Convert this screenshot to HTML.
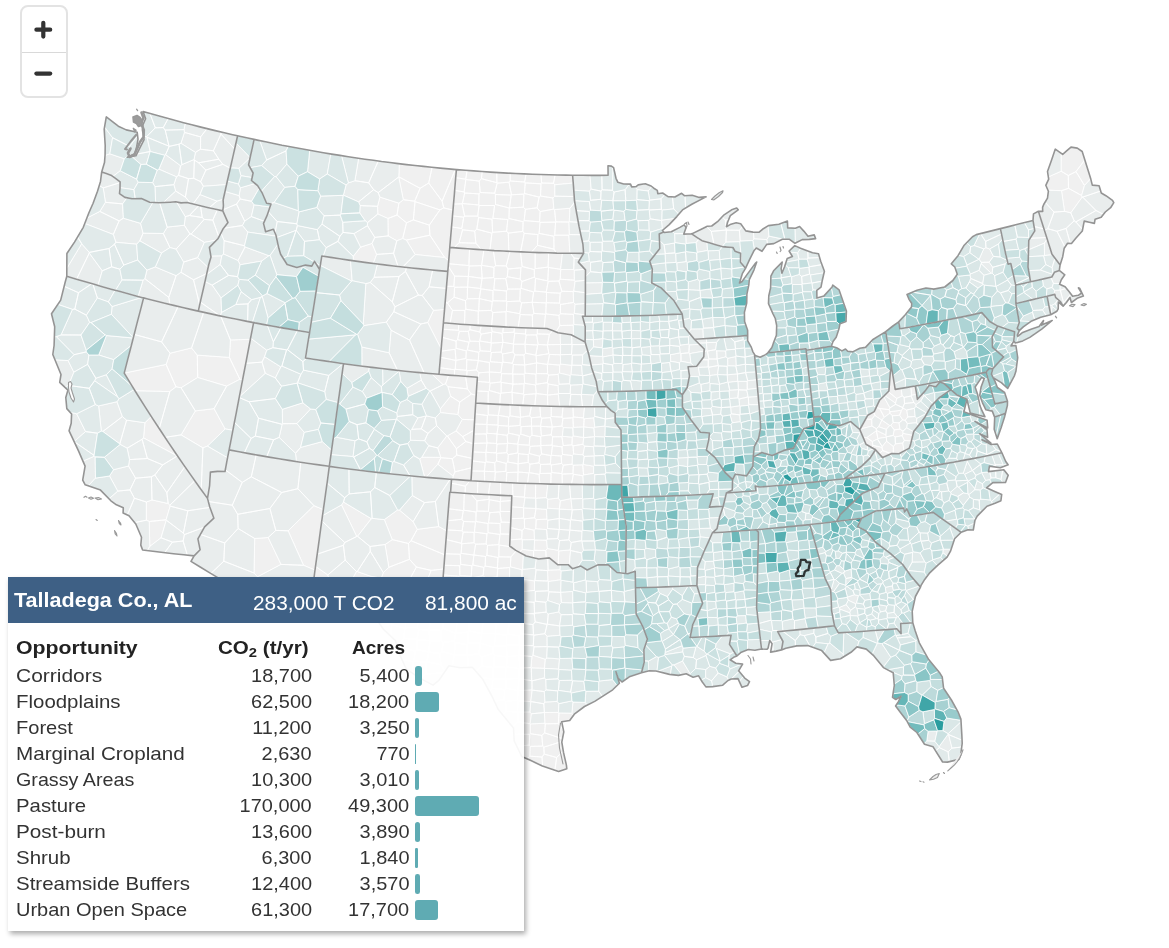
<!DOCTYPE html>
<html><head><meta charset="utf-8"><title>map</title>
<style>
html,body{margin:0;padding:0;background:#fff}
body{width:1169px;height:948px;position:relative;overflow:hidden;font-family:"Liberation Sans",sans-serif}
#map{position:absolute;left:0;top:0}
#zc{position:absolute;left:19.5px;top:5px;width:44px;height:89px;border:2px solid #e3e3e3;border-radius:8px;background:#fff;overflow:hidden}
#zc .dv{position:absolute;left:0;top:44.6px;width:44px;height:1px;background:#d9d9d9}
#zc svg{position:absolute;left:0;top:0}
#panel{position:absolute;left:7.5px;top:577px;width:516.4px;height:354px;background:rgba(255,255,255,0.93);box-shadow:2px 3px 5px rgba(0,0,0,0.33)}
#phead{position:absolute;left:7.5px;top:577px;width:516.4px;height:45.5px;background:#3e6085}
.t{position:absolute;white-space:nowrap;font-size:19px;line-height:1;color:#333;display:block}
.t sub{font-size:0.72em;vertical-align:baseline;position:relative;top:0.28em;line-height:0}
.b{font-weight:bold;color:#222}
.hb{font-weight:bold;color:#fff;font-size:21px}
.h{color:#fff;font-size:21px}
.bar{position:absolute;left:415.2px;height:20px;background:#5fabb3}
</style></head><body>
<svg id="map" width="1169" height="948" viewBox="0 0 1169 948">
<g stroke="#fff" stroke-width="0.8" stroke-linejoin="round" style="filter:blur(0.35px)">
<path fill="#f0f0f0" d="M144.9 422.7l-1.4 15.2l33.8 18.1l0.2 -0.1l-1.8 -2.6l-7.7 -11.4l-7.5 -11.4l-7.5 -11.4l-1.7 -2.7zM149.8 546.4l11.3 -8.6l5.2 -17.6l-0.2 -0.4l-16.9 1.7zM146.3 502l0 18.2l2.9 1.3l16.9 -1.7l4.1 -13.7l-0.3 -0.9l-1.7 -1.7l-16.2 -3.6zM166.1 364.4l9.9 22.5l5.1 0.9l16.6 -10.3l-0.4 -22.4l-5.7 -7.2l-21.6 5.3zM176 386.9l-9.9 -22.5l-41.9 8.7l7 11.5l3.9 6.3l34.7 0.7zM197.7 377.5l28.9 8.7l13.3 -6.9l-10.5 -21.9l-32.1 -2.3zM214.1 408.6l-18.8 2.3l-14.3 24l21.9 13l4.7 -1.8l17.6 -17.1zM230.4 339.9l-1 17.5l10.5 21.9l2.7 0.6l1.2 -6.4l2.5 -12.8l2.4 -12.7l1.7 -8.7zM353.2 256.3l0.2 4.5l4.3 0.6l8.9 1.2l6.7 0.9l3.4 -9.1l-4.7 -11l-11.5 3.7zM398.8 176.8l21.3 11.5l8.6 -5.3l3.4 -15.7l-0.4 0l-8.3 -0.9l-8.4 -0.9l-8.4 -0.9l-7.3 -0.9zM387.9 218.5l9.1 -3.5l1.9 -11.9l-19 -6l-2.4 9.2l0.3 7.7zM388.1 235.9l8.7 4.9l5.9 -2.2l3.8 -15.8l-9.5 -7.8l-9.1 3.5zM398.7 177l4.6 22.7l11.4 1.5l5.4 -12.9l-21.3 -11.5zM406.5 222.8l6.9 -2.9l1.6 -18.3l-0.3 -0.4l-11.4 -1.5l-4.4 3.4l-1.9 11.9zM406.5 222.8l-3.8 15.8l3.6 1.5l23.6 -4.9l-0.6 -10.1l-15.9 -5.2zM415 201.6l24.9 8.3l3.9 -2l-1.7 -6.7l-13.4 -18.2l-8.6 5.3l-5.4 12.9zM406.3 240.1l8.8 14.4l29.6 3.1l-14.8 -22.4zM413.4 219.9l15.9 5.2l10.6 -15.2l-24.9 -8.3zM443.8 207.9l-3.9 2l-10.6 15.2l0.6 10.1l14.8 22.4l4 3.1l0.2 -2.1l0.9 -11.2l0.1 -1.6l1.1 -12.7l1.1 -12.8l0.9 -10.2zM428.7 183l13.4 18.2l13.2 -31.7l-6.8 -0.6l-8.4 -0.8l-8 -0.8zM442.1 201.2l1.7 6.7l9.2 2.2l0.2 -2.5l1.1 -12.7l1 -12.7l1.1 -12.6l-1.1 -0.1zM433.5 310.3l-5.8 12.2l13.5 26.4l0 -0.4l1.1 -12.8l1.1 -12.9l1.1 -12.9l0 -0.5zM443 384.7l2.5 -0.7l3.1 -8.9l-9.6 -0.8l-7.5 -0.6zM424.6 477.2l1.5 0.1l11.7 -13l3.1 -6.6l-0.2 -0.3l-18.9 -0.2l-2.1 1.8zM440.7 457.4l0.2 0.3l11.4 1l4.5 -3.6l-0.4 -6.4l-9.1 -12.8l-0.6 0l-9.1 12zM437.8 464.3l15.3 11.8l1.9 -4.3l-2.7 -13.1l-11.4 -1zM450.5 396.2l9.2 5.8l11.7 -7.9l-4 -5.2l-19.6 -2.2zM455 471.8l-1.9 4.3l-0.6 3.3l7.3 0.5l10.1 0.7l1.1 0.1l0.8 -13zM455 471.8l16.8 -4.1l0.5 -9.3l-15.5 -3.3l-4.5 3.6zM456.4 448.7l9.4 -7.2l-3.1 -4.9l-6.7 -5.7l-8.7 5zM456 430.9l6.7 5.7l11.4 -6.4l0 -1.3l0.6 -9.1l-12.5 -0.4zM440.3 412.6l17.6 2l1.8 -12.6l-9.2 -5.8l-10.2 12.7zM447.8 386.7l19.6 2.2l-1.8 -12.5l-7.4 -0.6l-9.6 -0.7l-3.1 8.9zM472.3 458.4l0.3 -3.6l0.6 -11l-7.4 -2.3l-9.4 7.2l0.4 6.4zM462.2 419.4l12.5 0.4l0.2 -3.8l0.8 -13l0.5 -7.8l-4.8 -1.1l-11.7 7.9l-1.8 12.6zM467.4 388.9l4 5.2l4.8 1.1l0.3 -5.1l0.9 -12.9l-9.6 -0.7l-2.2 -0.1zM462.7 436.6l3.1 4.9l7.4 2.3l0.2 -2l0.7 -11.6zM254 573l3.5 3.9l23.6 -12.5l-12.9 -26.9l-13.5 1zM313.9 505.6l-25.8 25.2l15.4 34.5l11.5 4.8l0.9 -6.7l1.7 -12.1l1.7 -12.1l1.6 -12.2l1.7 -12.1l0.8 -5.3zM338.5 595.2l-6.9 -7l-19.5 2.7l-1.2 8.7l-1.6 12.1l7.8 1.1l10.3 1.3l1.5 -11.5l8.1 1.1zM331.6 588.2l-3.7 -13.3l-12.4 -8.6l-1.2 9.2l-1.7 12.1l-0.5 3.3zM341.5 504.9l15.2 31.6l0.9 -0.2l13.8 -17.6l-27.9 -16.7zM381.1 578.3l1.7 4.7l22 5.3l11.6 -21.3l-6.9 -7.7l-20.7 8l-5.5 5.3zM357.3 571.5l-0.9 0l-11.2 20.4l11.2 2.6l14.9 -18.1zM404.8 588.3l-22 -5.3l-6.6 19.5l6.9 0.7l9.6 1l9.6 0.9l9.6 0.9l2.5 0.2zM385 544.5l3.8 22.8l20.7 -8l-1 -15.8l-16.3 -3.9zM392.2 539.6l16.3 3.9l2.5 -2.8l6.3 -11.4l-4.1 -7.7l-13.7 -11.5l-1.9 -0.2l-13.3 9.7zM404.8 588.3l9.6 17.9l2.6 0.2l14.1 -36l-14.7 -3.4zM416.4 567l14.7 3.4l12.7 -1.4l0.9 -12.2l0.2 -1.9l-33.9 -14.2l-2.5 2.8l1 15.8zM431.1 570.4l-14.1 36l4.5 0.4l9.6 0.8l9.6 0.7l1 -12.9l1 -12.8l1 -12.9l0.1 -0.7zM438.7 526.5l-21.4 2.8l-6.3 11.4l33.9 14.2l0.8 -11l1 -12.9l0.1 -0.2zM459.1 242.7l3.5 -12.9l-0.8 -1.3l-10.2 -1.6l-0.6 6.2l-1.1 12.7l-0.1 1.6l4.3 0.3zM459.1 242.7l16.8 0.5l-1.2 -12.1l-12.1 -1.3zM462.6 229.8l12.1 1.3l2.1 -1.9l1.8 -11.7l-0.9 -1.4l-13.1 0l-0.9 1.1l-1.9 11.3zM461.8 228.5l1.9 -11.3l-11.2 -1.3l-0.4 4.4l-0.5 6.6zM462.1 203.8l0.3 -0.3l2.3 -10.5l-0.6 -1.1l-9.4 -1.5l-0.4 4.5l-0.8 9.2zM464.6 216.1l-2.5 -12.3l-8.6 0.3l-0.3 3.5l-0.7 8.3l11.2 1.3zM464.6 216.1l13.1 0l1.4 -10.6l-0.3 -0.5l-16.4 -1.5l-0.3 0.3zM464.1 191.9l1.8 -12.4l-0.2 -0.3l-10 -1.5l-0.4 4.5l-0.6 8.2zM465.7 179.2l1.4 -8.8l-1.9 -0.1l-8.4 -0.7l-0.4 0l-0.7 8.1zM475.9 243.2l-16.8 -0.5l-5 5l4.6 0.4l8.9 0.7l8.9 0.6l4.8 0.3zM474.7 231.1l1.2 12.1l5.4 6.5l4.1 0.3l4.5 0.3l2 -17.1l-15.1 -4zM478.8 205l0.3 0.5l15.5 0l0.9 -1l-0.1 -10l-0.7 -1.3l-14.5 -0.7l-1.2 1.4zM479 193.9l-14.3 -0.9l-2.3 10.5l16.4 1.5zM476.8 229.2l15.1 4l0.7 -0.9l-0.6 -13.1l-13.4 -1.7zM464.7 193l14.3 0.9l1.2 -1.4l-1 -11.4l-13.3 -1.6l-1.8 12.4zM478.6 217.5l13.4 1.7l0.9 -0.9l1.7 -12.8l-15.5 0l-1.4 10.6zM465.7 179.2l0.2 0.3l13.3 1.6l2.2 -2.4l0.8 -7.2l-0.2 0l-8.4 -0.6l-6.5 -0.5zM496.9 182.7l0.3 0.5l11.8 -1l1.2 -1.2l0 -7.8l-3 -0.1l-8.4 -0.5l-2.1 -0.1zM489.9 250.3l4.4 0.3l9 0.4l5.5 0.3l-0.5 -18.2l-1.7 -1.9l-14 1.1l-0.7 0.9zM492.6 232.3l14 -1.1l1.2 -11.6l-14.9 -1.3l-0.9 0.9zM494.6 205.5l-1.7 12.8l14.9 1.3l1.1 -1.1l0.4 -10.5l-13.8 -3.5zM480.2 192.5l14.5 0.7l2.5 -10l-0.3 -0.5l-15.5 -4l-2.2 2.4zM495.4 194.5l15.8 0.6l0.3 -0.3l-2.5 -12.6l-11.8 1l-2.5 10zM496.9 182.7l-0.2 -10.2l-6.3 -0.4l-8.2 -0.6l-0.8 7.2zM507.8 219.6l-1.2 11.6l1.7 1.9l14.5 -1.7l0.3 -9.7l-14.2 -3.2zM509.3 208l0.2 -0.1l1.7 -12.8l-15.8 -0.6l0.1 10zM524.2 233.3l-1.4 -1.9l-14.5 1.7l0.5 18.2l3.4 0.2l8.4 0.4zM554 249.1l-16.5 -3.8l-6.2 7l7.6 0.3l9 0.2l8.4 0.2zM509.3 208l-0.4 10.5l14.2 3.2l1 -1.1l1.3 -11.3l-2 -2.1l-13.9 0.7zM510.2 181l14.4 1l1.5 -8l-2.1 -0.1l-8.4 -0.4l-5.4 -0.3zM511.2 195.1l-1.7 12.8l13.9 -0.7l0.5 -13.1l-12.4 0.7zM511.5 194.8l12.4 -0.7l0.6 -0.6l0.7 -10.6l-0.6 -0.9l-14.4 -1l-1.2 1.2zM522.8 231.4l1.4 1.9l13.7 1.3l1.2 -1.2l0.9 -11l-0.4 -0.6l-15.5 -1.2l-1 1.1zM523.4 207.2l2 2.1l11.7 -1.5l2 -10.7l-14.6 -3.6l-0.6 0.6zM520.6 251.9l0.5 0l8.9 0.4l1.3 0l6.2 -7l0.4 -10.7l-13.7 -1.3zM537.5 245.3l16.5 3.8l-0.2 -12.9l-14.7 -2.8l-1.2 1.2zM537.1 207.8l3 3.8l13.8 -2.6l-0.9 -11l-12.5 -2l-1.4 1.1zM524.5 193.5l14.6 3.6l1.4 -1.1l0.5 -12.2l-15.8 -0.9zM524.1 220.6l15.5 1.2l0.5 -10.2l-3 -3.8l-11.7 1.5zM539.6 221.8l0.4 0.6l15.6 -0.3l0.2 -0.2l-1.3 -12.4l-0.6 -0.5l-13.8 2.6zM525.2 182.9l15.8 0.9l0.6 -0.8l-0.6 -8.5l-0.2 0l-8.4 -0.3l-6.3 -0.2l-1.5 8zM541.6 183l11.9 0.3l1.6 -8.4l-5.9 -0.1l-8.2 -0.3zM554 249.1l2.3 3.9l0.5 0.1l8.9 0.1l4.2 0.1l-1 -18.1l-14.2 0l-0.9 1zM555.6 222.1l-15.6 0.3l-0.9 11l14.7 2.8l0.9 -1zM554.7 235.2l14.2 0l0.5 -0.6l-0.4 -12.6l-13.2 -0.1l-0.2 0.2zM554.9 196.2l-0.1 -11.4l-1.3 -1.5l-11.9 -0.3l-0.6 0.8l-0.5 12.2l12.5 2zM553.5 183.3l1.3 1.5l18.4 -1.7l-0.6 -7.9l-6.6 -0.1l-8.4 -0.1l-2.5 -0.1zM554.5 209.5l1.3 12.4l13.2 0.1l0.3 -0.3l0.7 -13.5zM452.5 310.4l-5.1 -7.5l-2.3 -0.2l-0.6 7.2l-1.1 12.9l6.6 0.5zM452.5 310.4l12.4 0l0.9 -1.1l-0.3 -8.6l-11.4 -3.5l-6.7 5.7zM447.4 302.9l6.7 -5.7l0.5 -9.9l-0.7 -0.9l-7.4 -0.1l-0.9 10.8l-0.5 5.6zM453.9 286.4l0.7 -10.3l-6.4 -10.1l-0.4 5.4l-1.1 12.8l-0.2 2.1zM468.9 265.6l0.6 -16.7l-1.9 -0.1l-8.9 -0.7l-8.9 -0.7l-0.9 11.2l-0.5 5.1zM464.9 310.4l-12.4 0l-2.5 12.9l2 0.2l8.6 0.7l3.9 0.2zM467.3 298.8l0.2 -11.7l-12.9 0.2l-0.5 9.9l11.4 3.5zM465.5 300.7l0.3 8.6l12.5 1.8l0.4 -0.3l0.6 -12.2l-12 0.2zM454.6 287.3l12.9 -0.2l0.1 -0.1l0.7 -10.5l-13.7 -0.4l-0.7 10.3zM467.5 287.1l-0.2 11.7l12 -0.2l1.5 -9.8l-0.2 -0.3l-13 -1.5zM467.6 287l13 1.5l1.5 -10.2l-13.7 -1.9l-0.1 0.1zM478.3 311.1l-12.5 -1.8l-0.9 1.1l-0.4 14l4.7 0.4l8.7 0.6l0.3 0zM468.3 276.5l0.1 -0.1l0.8 -10.4l-0.3 -0.4l-20.5 -1.9l-0.2 2.3l6.4 10.1zM573.4 325.2l-13.6 0.4l-3.8 6.3l2 0.8l6.6 1l6.5 1l2.4 1.3zM478.7 310.8l12.6 -0.4l1 -8.9l-13 -2.9zM479.3 298.6l13 2.9l0.6 -0.7l0.1 -10.2l-12.2 -1.8l-1.5 9.8zM480.8 288.8l12.2 1.8l0.8 -0.8l1 -11.1l-1.1 -1.1l-11.5 0.7l-0.1 0l-1.5 10.2zM468.9 265.6l0.3 0.4l12.1 -0.4l0.3 -0.3l2.3 -15.4l-7.4 -0.5l-7 -0.5zM468.4 276.4l13.7 1.9l0.1 0l-0.9 -12.7l-12.1 0.4zM492.8 312.6l-1.5 -2.2l-12.6 0.4l-0.4 0.3l-0.1 14.3l8.3 0.5l5 0.3zM491.3 310.4l1.5 2.2l13.2 -0.9l0.4 -0.4l0.4 -9.7l-0.5 -0.6l-13.4 -0.2l-0.6 0.7zM506 311.7l-13.2 0.9l-1.3 13.6l3.6 0.2l8.6 0.5l2.3 0.1zM492.9 300.8l13.4 0.2l0.1 -10l-12.6 -1.2l-0.8 0.8zM482.2 278.3l11.5 -0.7l0.3 -10.3l-12.4 -2l-0.3 0.3zM494.8 278.7l11 -0.1l1.5 -1.9l0.7 -7.7l-1.8 -3.1l-10.6 -0.2l-1.6 1.6l-0.3 10.3zM495.6 265.7l10.6 0.2l3.8 -14.5l-6.7 -0.4l-9 -0.4l-1 -0.1zM494 267.3l1.6 -1.6l-2.3 -15.2l-7.9 -0.5l-1.5 -0.1l-2.3 15.4zM506.8 301.6l13 -0.6l0.5 -12l-12.5 0.1l-1.4 1.9l-0.1 10zM506.4 291l1.4 -1.9l-2 -10.5l-11 0.1l-1 11.1zM507.8 289.1l12.5 -0.1l0.7 -0.7l0.9 -6.8l-1.7 -2.4l-12.9 -2.4l-1.5 1.9zM506 311.7l0 15.3l6.4 0.3l5.7 0.2l2.1 -13l-0.4 -0.8l-13.4 -2.4zM532.3 315l-12.1 -0.5l-2.1 13l2.9 0.2l8.6 0.3l3.1 0.1zM521.9 281.5l12.5 -4.4l-0.1 -7.5l-12.2 -3.1l-1.2 1.3l-0.7 11.3zM508 269l12.9 -1.2l1.2 -1.3l-1.6 -14.6l-8.3 -0.4l-2.2 -0.1l-3.8 14.5zM520.2 279.1l0.7 -11.3l-12.9 1.2l-0.7 7.7zM506.4 311.3l13.4 2.4l1.8 -10.8l-1.8 -1.9l-13 0.6zM521.6 302.9l10.6 -0.6l1.4 -10.3l-12.6 -3.7l-0.7 0.7l-0.5 12zM522.1 266.5l12.2 3.1l0.8 -0.9l0.1 -16.3l-5.2 -0.1l-8.9 -0.4l-0.6 0zM533.6 292l1.2 -0.9l0.7 -12.7l-1.1 -1.3l-12.5 4.4l-0.9 6.8zM520.2 314.5l12.1 0.5l1.6 -1.6l-1.7 -11.1l-10.6 0.6l-1.8 10.8zM532.2 302.3l1.7 11.1l11.6 0.8l0.3 -0.3l0.4 -11l-14 -0.6zM532.3 315l0.4 13.1l5.6 0.2l5.8 0.1l1.4 -14.2l-11.6 -0.8zM532.2 302.3l14 0.6l0.2 -0.2l0.1 -10.2l-0.3 -0.4l-11.4 -1l-1.2 0.9zM535.5 278.4l12.3 2.5l0.7 -13.4l-0.4 -0.4l-13 1.6l-0.8 0.9l0.1 7.5zM546.4 302.7l13.1 0.4l0.7 -9.9l-13.7 -0.7zM545.8 313.9l13.2 1.5l1.4 -1.7l0.1 -9.2l-1 -1.4l-13.1 -0.4l-0.2 0.2zM534.8 291.1l11.4 1l2 -10.7l-0.4 -0.5l-12.3 -2.5zM545.5 314.2l-1.4 14.2l2.8 0.1l5.6 2.1l3.5 1.3l3.8 -6.3l-0.8 -10.2l-13.2 -1.5zM535.1 268.7l13 -1.6l0.5 -14.2l-0.7 -0.1l-9 -0.2l-3.7 -0.2zM546.5 292.5l13.7 0.7l1.7 -1.9l-3 -10.3l-10.7 0.4l-2 10.7zM559.8 325.6l13.6 -0.4l0.6 -0.6l-0.5 -10.2l-13.1 -0.7l-1.4 1.7zM560.2 279.2l0.5 -9.7l-0.1 -0.2l-12.1 -1.8l-0.7 13.4l0.4 0.5l10.7 -0.4zM558.9 281l3 10.3l11.4 0.3l0.5 -0.4l1.3 -9.9l-0.7 -1.1l-14.2 -1zM559.5 303.1l1 1.4l13.1 -2.1l-0.3 -10.8l-11.4 -0.3l-1.7 1.9zM548.5 267.5l12.1 1.8l1.9 -16.1l-5.7 -0.1l-8.2 -0.2l-0.5 14.2zM560.5 304.5l-0.1 9.2l13.1 0.7l0.8 -0.9l0.8 -9.2l-1.5 -1.9zM560.2 279.2l14.2 1l-0.1 -10l-0.6 -0.7l-13 0zM454.7 369.8l-15.1 -2.1l-0.6 6.6l9.6 0.8l5.8 0.5zM454.4 375.6l3.8 0.2l8.5 0.7l0.3 -5.7l-0.5 -0.5l-11.3 -1l-0.5 0.5zM456 360.3l-0.9 -11l-14.1 1.9l-0.5 6.1l15.4 3.1zM455.9 360.4l-0.7 8.9l11.3 1l0.3 -10.7l-0.9 -1.1l-9.9 1.8zM454.7 369.8l0.5 -0.5l0.7 -8.9l-15.4 -3.1l-0.4 4.1l-0.5 6.3zM455.1 349.3l1 -1l0 -7.2l-13.9 -3.8l-1 11.2l-0.2 2.7zM455.1 349.3l0.9 11l9.9 -1.8l0.4 -7.6l-10.2 -2.6zM456.1 348.3l10.2 2.6l1 -0.9l1.7 -7.8l-11.5 -2.5l-1.4 1.4zM457.5 339.7l1.8 -8.4l-0.8 -1l-15.6 -1.1l-0.6 6.5l-0.1 1.6l13.9 3.8zM458.5 330.3l0.2 -6.3l-6.7 -0.5l-8.6 -0.7l-0.5 6.4zM466.8 359.6l11.5 0.9l0.5 -8.2l-11.5 -2.3l-1 0.9l-0.4 7.6zM488.3 391.5l-11.8 -0.5l-0.8 12l9.4 0.6l3 0.2zM466.5 370.3l0.5 0.5l9.4 -0.9l1.9 -9.3l0 -0.1l-11.5 -0.9zM457.5 339.7l11.5 2.5l1 -1l-1.7 -9.8l-9 -0.1zM467.3 350l11.5 2.3l1.3 -1.5l-0.8 -9.4l-9.3 -0.2l-1 1zM458.5 330.3l0.8 1l9 0.1l1.5 -1.7l0.5 -4.8l-1.1 -0.1l-8.6 -0.6l-1.9 -0.2zM466.7 376.5l1.1 0l9.6 0.7l-0.3 4.4l0.2 -0.2l1.7 -8.6l-2.6 -2.9l-9.4 0.9zM479 372.8l10.4 -0.8l0 -9.5l-11.1 -1.9l-1.9 9.3zM478.3 360.5l0 0.1l11.1 1.9l0.9 -0.8l1 -9.2l-0.8 -1l-10.4 -0.7l-1.3 1.5zM470 341.2l9.3 0.2l0.4 -0.4l1.4 -6.9l-1.3 -2.1l-10 -2.3l-1.5 1.7zM492.2 331.7l9.9 1.7l0.7 -0.7l0.5 -5.9l-8.2 -0.4l-3.8 -0.2zM469.8 329.7l10 2.3l1.5 -6.4l-3.4 -0.2l-7.6 -0.5zM490.5 351.5l0.8 1l9.8 -0.4l1.7 -9.7l-11.5 0.7zM491.3 343.1l-0.2 -0.3l-11.4 -1.8l-0.4 0.4l0.8 9.4l10.4 0.7zM489.6 382.4l0.5 0.8l10.7 -1.2l0.9 -8.3l-0.8 -1l-11.5 -0.7zM489.4 372l-10.4 0.8l-1.7 8.6l12.3 1zM477.1 381.6l-0.6 8.5l0 0.9l11.8 0.5l1 -1l0.8 -7.3l-0.5 -0.8l-12.3 -1zM500.5 393.6l-11.2 -3.1l-1 1l-0.2 12.3l6.4 0.3l5.2 0.3zM489.4 372l11.5 0.7l1.4 -10l-12 -1l-0.9 0.8zM481.1 334.1l10.6 -1.8l0.5 -0.6l-0.9 -5.5l-4.8 -0.3l-5.2 -0.3l-1.5 6.4zM479.7 341l11.4 1.8l0.6 -10.5l-10.6 1.8zM491.1 342.8l0.2 0.3l11.5 -0.7l0.1 -0.1l-0.8 -8.9l-9.9 -1.7l-0.5 0.6zM512.1 392.5l-0.2 -0.3l-10.8 0.9l-0.6 0.5l-0.8 10.8l4.1 0.2l8.7 0.4zM501.1 393.1l10.8 -0.9l1 -8l0 -0.1l-11.7 -1.7zM501.2 382.4l-0.4 -0.4l-10.7 1.2l-0.8 7.3l11.2 3.1l0.6 -0.5zM501.2 382.4l11.7 1.7l-0.1 -10l-0.2 -0.2l-10.9 -0.2l-0.9 8.3zM502.8 342.4l-1.7 9.7l1.5 1.9l10.5 -2l0.4 -7.8l-0.1 -0.2l-10.5 -1.7zM502.3 362.7l0.6 -0.6l-0.3 -8.1l-1.5 -1.9l-9.8 0.4l-1 9.2zM502.3 362.7l-1.4 10l0.8 1l10.9 0.2l0.7 -9.4l-0.9 -1.3l-9.5 -1.1zM512.1 392.5l11.4 1.5l0.6 -10.2l-11.2 0.4l-1 8zM547.5 395.1l-0.1 -0.2l-11.2 -1.4l-0.2 0.2l-1.2 12.1l6.6 0.2l6.4 0.2zM512.8 374.1l11.4 0.1l0.8 -1l-0.3 -8.2l-11.4 -0.5l-0.7 9.4zM512.9 384.2l11.2 -0.4l0.5 -0.5l-0.4 -9.1l-11.4 -0.1l0.1 10zM513.4 344l1.4 -10.8l-0.8 -1l-11.2 0.5l-0.7 0.7l0.8 8.9zM502.9 362.1l9.5 1.1l2.5 -8.3l-1.8 -2.9l-10.5 2zM502.8 332.7l11.2 -0.5l0.4 -4.8l-2 -0.1l-8.7 -0.4l-0.4 -0.1zM537.3 333.9l12.1 0.4l3.4 -3.6l-0.3 -0.1l-5.6 -2.1l-8.6 -0.2l-0.9 0zM513.3 364.5l11.4 0.5l-0.8 -10l-9 -0.1l-2.5 8.3zM536 393.7l-12 1l-1.3 10.7l9.3 0.4l2.8 0zM512.5 405l0.7 0l9.4 0.4l0.1 0l1.3 -10.7l-0.5 -0.7l-11.4 -1.5zM523.5 394l0.5 0.7l12 -1l0.2 -0.2l-0.7 -8.5l-10.9 -1.7l-0.5 0.5zM514.9 354.9l9 0.1l1.7 -1.8l-0.6 -8.9l-0.1 -0.1l-11.4 0l-0.4 7.8zM524.2 374.2l0.4 9.1l10.9 1.7l0.5 -0.7l-0.1 -10.2l-10.9 -0.9zM525.6 353.2l10.2 2l1.9 -10.2l-12.7 -0.7zM524.7 365l11.8 -2l0.1 -0.1l-0.5 -7.2l-0.3 -0.5l-10.2 -2l-1.7 1.8zM513.5 344.2l11.4 0l1.3 -9.2l-0.8 -1l-10.6 -0.8l-1.4 10.8zM514 332.2l0.8 1l10.6 0.8l0.6 -6.1l-5 -0.2l-6.6 -0.3zM536 384.3l11.3 -1.6l1.3 -7.6l-1 -1.4l-11.2 -0.1l-0.5 0.5zM536.4 373.6l11.2 0.1l-0.2 -9.3l-10.8 -1.5l-0.1 0.1zM536.5 363l-11.8 2l0.3 8.2l10.9 0.9l0.5 -0.5zM525 344.3l12.7 0.7l0.5 -0.5l-1.6 -9.6l-10.4 0.1l-1.3 9.2zM535.5 385l0.7 8.5l11.2 1.4l0.8 -10.9l-0.9 -1.3l-11.3 1.6zM526.2 335l10.4 -0.1l0.7 -1l0.1 -5.6l-7.8 -0.3l-3.6 -0.1l-0.6 6.1zM536.1 355.7l12.8 -2l-1.6 -8.8l-9.1 -0.4l-0.5 0.5l-1.9 10.2zM547.4 394.9l0.1 0.2l10.8 -1.1l0.3 -0.5l-0.4 -7.8l-10 -1.7zM547.4 364.4l0.3 -0.3l1.8 -9.7l-0.6 -0.7l-12.8 2l0.5 7.2zM548.2 384l10 1.7l1.1 -1.4l-1.1 -9.9l-9.6 0.7l-1.3 7.6zM538.2 344.5l9.1 0.4l0.2 -0.2l1.9 -10.4l-12.1 -0.4l-0.7 1zM547.6 373.7l1 1.4l9.6 -0.7l1.3 -1.3l0.2 -8l-12 -1l-0.3 0.3zM547.7 364.1l12 1l0.9 -1.1l-0.2 -9.2l-10.9 -0.4zM549.5 354.4l10.9 0.4l0.1 -0.1l0.1 -10.2l-0.1 0l-13 0.2l-0.2 0.2l1.6 8.8zM558.3 394l-10.8 1.1l0.3 11.1l2.9 0.1l9.1 0.2zM547.5 344.7l13 -0.2l-0.3 -11.5l-2.2 -0.3l-5.2 -2l-3.4 3.6zM559.7 365.1l-0.2 8l10.8 2.5l0.8 -0.8l0.7 -9.5l-11.2 -1.3zM484.4 471.3l0 -0.1l-12.8 -0.2l-0.6 9.7l9 0.5l4.7 0.3zM484.4 471.2l0.9 -8.7l-13.1 -1.6l-0.4 6.8l-0.2 3.3zM484.4 471.2l0 0.1l10.7 0.4l-0.4 -8.9l-8.6 -1l-0.8 0.7zM486.1 461.8l-0.3 -9.3l-13.1 -0.6l-0.1 2.9l-0.4 6.1l13.1 1.6zM486.3 433.9l0.6 -0.6l0.1 -8.7l-0.1 -0.2l-12.5 -0.3l-0.3 4.8l-0.3 5.2zM486.9 443.1l0.1 -0.2l-0.7 -9l-12.5 0.2l-0.4 7.7l-0.1 1.6zM487 442.9l9.5 0.6l0.5 -9.4l-0.1 -0.2l-10 -0.6l-0.6 0.6zM486.9 424.4l0.6 -8.9l-12.4 -1.6l-0.2 2.1l-0.5 8.1zM486 452.3l0.9 -9.2l-13.6 0.3l-0.6 8.5l13.1 0.6zM485.8 452.5l0.3 9.3l8.6 1l1.9 -1.8l0.1 -7.6l-0.4 -0.5l-10.3 -0.6zM486 452.3l10.3 0.6l0.7 -8.9l-0.5 -0.5l-9.5 -0.6l-0.1 0.2zM488.2 414.9l10 0.6l0.2 -0.2l1.9 -10.9l-5.8 -0.3l-6.3 -0.3zM487.5 415.5l0.7 -0.6l0 -11.1l-3.1 -0.2l-9.4 -0.6l-0.6 10.9zM506.8 472.5l-0.9 -1.2l-10.6 0.8l-0.6 9.9l5.5 0.3l6 0.3zM484.7 481.5l5.4 0.3l4.6 0.2l0.6 -9.9l-0.2 -0.4l-10.7 -0.4zM494.7 462.8l0.4 8.9l0.2 0.4l10.6 -0.8l0.3 -7.9l-9.6 -2.4zM496.5 443.5l0.5 0.5l10.4 -0.4l0.3 -0.4l-0.6 -7.9l-10.1 -1.2zM496.7 453.4l10.1 -0.7l0.6 -9.1l-10.4 0.4l-0.7 8.9zM486.9 433.3l10 0.6l1.4 -8.5l-0.3 -0.4l-11 -0.4zM487 424.6l11 0.4l0.2 -9.5l-10 -0.6l-0.7 0.6l-0.6 8.9zM496.9 433.9l0.1 0.2l10.1 1.2l1.5 -2.2l0.1 -6.7l-0.3 -0.3l-10.1 -0.7zM496.6 461l9.6 2.4l1.6 -1.4l0.5 -7.3l-1.5 -2l-10.1 0.7zM518 472.2l-11.2 0.3l-0.6 10.1l4.1 0.2l7.4 0.3zM506.2 463.4l-0.3 7.9l0.9 1.2l11.2 -0.3l0.1 -0.2l0 -8.2l-10.3 -1.8zM508.3 454.7l9.5 -1.8l0.2 -8.4l-0.3 -0.4l-10 -0.9l-0.3 0.4l-0.6 9.1zM498.3 425.4l10.1 0.7l0.3 -9l-10.3 -1.8l-0.2 0.2l-0.2 9.5zM507.1 435.3l0.6 7.9l10 0.9l1.7 -8.6l-10.8 -2.4zM510 415.8l10.4 1.6l0.2 -0.2l-0.8 -11.9l-6.6 -0.3l-3 -0.1zM508.7 417.1l1.3 -1.3l0.2 -10.9l-6.4 -0.3l-3.5 -0.2l-1.9 10.9zM508.3 454.7l-0.5 7.3l10.3 1.8l0.4 -10.1l-0.7 -0.8zM508.7 426.4l11.4 -1l0.3 -8l-10.4 -1.6l-1.3 1.3l-0.3 9zM539.1 474.4l-9.8 -1.8l-0.4 0.3l-1.4 10.5l3.1 0.1l9.2 0.3zM517.7 483.1l2.7 0.1l7.1 0.2l1.4 -10.5l-10.8 -0.9l-0.1 0.2zM519.4 435.5l1.4 -1.4l0.3 -7.4l-1 -1.3l-11.4 1l-0.1 6.7zM518 444.5l11.2 0.7l0.7 -8.3l-9.1 -2.8l-1.4 1.4l-1.7 8.6zM518.1 463.8l10.1 -1.4l0.1 -7.8l-9.8 -0.9l-0.4 10.1zM518.5 453.7l9.8 0.9l0.9 -1.1l0.9 -7.1l-0.9 -1.2l-11.2 -0.7l-0.2 8.4zM520.1 425.4l1 1.3l10.4 -0.6l-0.1 -8.3l-1.8 -1.9l-9 1.3l-0.2 0.2zM520.6 417.2l9 -1.3l1.9 -10.2l-8.9 -0.3l-2.8 -0.1zM518.1 463.8l0 8.2l10.8 0.9l0.4 -0.3l0.6 -8.4l-1.7 -1.8zM530.1 446.4l10.6 -0.7l0.1 -0.2l-0.1 -8.8l-8.7 -1.5l-2.1 1.7l-0.7 8.3zM528.3 454.6l-0.1 7.8l1.7 1.8l9.2 -1.4l0.5 -6.6l-10.4 -2.7zM520.8 434.1l9.1 2.8l2.1 -1.7l-0.4 -9l-0.1 -0.1l-10.4 0.6zM573.4 417l10.1 0.9l1.1 -11.1l-5.7 -0.1l-6 0zM531.5 426.1l0.1 0.1l8.9 -0.1l1.4 -7.9l-1.3 -1.3l-9.2 0.9zM540 473.5l0.6 -9l-1.5 -1.7l-9.2 1.4l-0.6 8.4l9.8 1.8zM539.1 474.4l0.7 9.4l0.9 0l10.1 0.3l0.3 -10.8l-11.1 0.2zM532 435.2l8.7 1.5l0.7 -0.8l-0.8 -9.6l-0.1 -0.2l-8.9 0.1zM529.2 453.5l10.4 2.7l2 -2.3l-0.9 -8.2l-10.6 0.7zM531.4 417.8l9.2 -0.9l-0.7 -10.9l-7.9 -0.2l-0.5 -0.1l-1.9 10.2zM541.4 435.9l9.7 -1.1l1.2 -7.7l-11.7 -0.8zM540.7 436.7l0.1 8.8l11.3 -0.3l0.5 -8.4l-1.5 -2l-9.7 1.1zM539.1 462.8l1.5 1.7l9.8 -0.4l0.5 -8.5l-9.3 -1.7l-2 2.3zM540.6 416.9l1.3 1.3l8.6 -0.6l0.7 -1.1l0.1 -10.2l-0.6 0l-9.3 -0.3l-1.5 0zM540.6 426.3l11.7 0.8l0 -0.1l-1.8 -9.4l-8.6 0.6l-1.4 7.9zM540.7 445.7l0.9 8.2l9.3 1.7l0.4 -0.3l1.2 -9.6l-0.4 -0.5l-11.3 0.3zM551.2 416.5l10.8 0.6l1.1 -10.6l-3 0l-8.8 -0.2zM540 473.5l11.1 -0.2l0.7 -0.8l-0.6 -7.5l-0.8 -0.9l-9.8 0.4zM562.1 474.1l-0.3 -0.5l-10 -1.1l-0.7 0.8l-0.3 10.8l10.1 0.2l1.4 0zM552.3 427.1l-1.2 7.7l1.5 2l9.3 -0.1l0.4 -0.4l1.1 -8.7l-1.5 -1.5l-9.6 0.9zM552.5 445.7l9.5 1.2l1.2 -1.3l-1.3 -8.9l-9.3 0.1l-0.5 8.4zM550.4 464.1l0.8 0.9l10.4 -1.6l-0.4 -7.4l-9.9 -0.7l-0.4 0.3zM551.3 455.3l9.9 0.7l1.3 -1.6l-0.5 -7.5l-9.5 -1.2zM551.2 465l0.6 7.5l10 1.1l1.5 -8.4l-1.7 -1.8zM583 475.8l-9.6 -1.6l-2 10.2l9.7 0.1l2.3 0zM562.1 474.1l10.9 -0.5l0.3 -8.5l-1 -1l-9 1.1l-1.5 8.4zM552.3 427l9.6 -0.9l1 -7.7l-0.9 -1.3l-10.8 -0.6l-0.7 1.1zM562 446.9l0.5 7.5l9.9 1.2l1.3 -1.5l-0.7 -8.2l-1 -1l-8.8 0.7zM561.6 463.4l1.7 1.8l9 -1.1l0.1 -8.5l-9.9 -1.2l-1.3 1.6zM561.9 436.7l1.3 8.9l8.8 -0.7l0.3 -7.8l-10 -0.8zM563.4 427.6l9.4 0.5l0.6 -0.7l-0.5 -9.6l-10 0.6l-1 7.7zM562.9 418.4l10 -0.6l0.5 -0.8l-0.5 -10.3l-3.4 -0.1l-6.4 -0.1l-1.1 10.6zM573 445.9l10.1 -1.7l0.6 -6.5l-0.2 -0.3l-10.3 -1.5l-0.9 1.2l-0.3 7.8zM573 473.6l-10.9 0.5l0.2 10.2l8.7 0.1l0.4 0l2 -10.2zM573.4 474.2l9.6 1.6l0.6 -0.8l-0.9 -10.2l-9.4 0.3l-0.3 8.5zM583.6 475l10 -1.6l0.1 -7.2l-10.6 -1.8l-0.4 0.4zM573.4 427.4l10.3 -0.3l0 -0.1l0.4 -8.2l-0.6 -0.9l-10.1 -0.9l-0.5 0.8zM573 445.9l0.7 8.2l9.3 0.8l1.7 -8.7l-1.6 -2zM583.7 427l10.2 1.1l0.9 -1l-1 -9.3l-9.7 1zM465.4 486.2l-14.2 -3.1l-0.6 9.2l10.2 0.7l4.3 0.3zM465.4 486.2l-0.3 7.1l5.9 0.4l6.5 0.4l0.3 -13l-6.8 -0.4l-0.9 -0.1zM465.4 486.2l4.7 -5.6l-0.2 0l-10.1 -0.7l-8.3 -0.6l-0.3 3.8zM521.7 539l0.4 -8.6l-11.6 -2.9l-0.3 6l-0.2 6.4zM477.5 494.1l3.7 0.2l7.2 0.4l1.9 -12.9l-0.2 0l-10.1 -0.6l-2.2 -0.1zM488.4 494.7l3 0.1l9.1 0.5l0.2 -13l-0.5 0l-9.9 -0.5zM500.5 495.3l1.1 0.1l10.2 0.4l-0.1 2.2l1.2 -1.6l-0.4 -13.5l-2.2 -0.1l-9.6 -0.5zM512.9 496.4l11.5 0.7l1 -13.7l-5 -0.2l-7.9 -0.3zM522.3 549.3l0.1 -9.4l-0.7 -0.9l-11.7 0.9l-0.3 6.1l6.1 4.4l3.5 1.9zM523.6 518.2l0 -10.4l0 -0.1l-12.2 -0.9l-0.1 1.6l-0.4 10.3zM522.1 530.4l2.5 -2.2l-0.3 -9.3l-0.7 -0.7l-12.7 0.5l-0.1 2.2l-0.3 6.6zM533.6 550.7l-11.3 -1.4l-3 3l6.9 3.7l6.2 1.5l1.1 0.2zM521.7 539l0.7 0.9l12.1 -0.2l-0.3 -9.5l-9.6 -2l-2.5 2.2zM523.6 518.2l0.7 0.7l10.2 -1.2l1.5 -9.1l-0.1 -0.1l-12.3 -0.7zM523.6 507.7l1.4 -9.8l-0.6 -0.8l-11.5 -0.7l-1.2 1.6l-0.3 8.8zM535.5 498.2l0.2 0.2l10.7 -0.7l1.5 -13.7l-7.2 -0.2l-5 -0.1zM533.6 550.7l-0.1 7l5.2 1.3l7.5 -0.8l-0.4 -7.7l-11.8 -0.2zM534.2 530.2l1.5 -1.3l0.5 -9.3l-1.7 -1.9l-10.2 1.2l0.3 9.3zM524.4 497.1l0.6 0.8l10.5 0.3l0.2 -14.5l-5.1 -0.2l-5.2 -0.1zM534 550.3l11.8 0.2l1.6 -2l-0.8 -8.4l-12 -0.2zM536.2 519.6l10.8 -0.4l-0.5 -9.9l-10.5 -0.7l-1.5 9.1zM547.5 528.5l0.4 -8.3l-0.9 -1l-10.8 0.4l-0.5 9.3l10.9 0.7zM545.8 550.5l0.4 7.7l3.1 -0.3l8.3 6.7l0.6 0l0.6 -13.7l-0.5 -0.6l-10.9 -1.8zM559.3 509.1l1.1 -8.3l-2.1 -2.7l-10.7 1.1l0 9zM559.3 509.2l12.9 0.6l-1.2 -10.9l-0.3 -0.3l-10.3 2.2l-1.1 8.3zM558.2 564.6l10 0.1l1 1l1.4 -15.2l-0.4 -0.6l-11.4 1zM391.9 616.1l0.4 0.7l12.1 -1.9l0.2 -9.6l-2.3 -0.2l-9.1 -0.9zM459.7 565.7l1 -1.3l-0.4 -10.1l-15.3 -0.6l-0.3 3.1l-0.6 8.5zM391.6 624.5l-0.1 -0.2l-10.6 1.3l2.4 3.5l7.6 7.4zM404.4 614.9l1.6 1.7l11.2 -0.6l0.9 -9.5l-6.2 -0.5l-7.3 -0.7zM459.2 576.3l0.6 -0.7l-0.1 -9.9l-15.6 -0.4l-0.4 4.4l-0.4 5.2zM413.1 661.8l-11.4 -2.6l4.5 9.6l6 4.2zM390.9 636.5l4.5 4.2l1.7 5.2l6.6 -7.6l1.2 -10.2l-13.3 -3.6zM413.1 661.8l0.9 -1l1.1 -9.6l-18 -5.1l3.5 10.6l1.1 2.5zM458.6 586.7l0.6 -10.4l-15.9 -1.4l-0.6 7.7l-0.3 4.3zM414 660.8l12.2 1.5l0.7 -0.7l1.8 -9.5l-0.2 -0.3l-11.5 -2.1l-1.9 1.5zM413.1 661.8l-0.9 11.2l6.7 4.6l2.1 1.1l4.8 -4.9l0.4 -11.5l-12.2 -1.5zM404.9 628.1l-1.2 10.2l13.3 0.9l1.9 -9.7l-1.6 -2.1l-12.1 0.3zM397.1 645.9l0 0.2l18 5.1l1.9 -1.5l0.4 -10l-0.4 -0.5l-13.3 -0.9zM405.2 627.7l12.1 -0.3l1.4 -9.4l-1.5 -2l-11.2 0.6zM417.4 639.7l12.2 1l-0.4 -10.5l-0.3 -0.3l-10 -0.4l-1.9 9.7zM417 649.7l11.5 2.1l1.6 -10.5l-0.5 -0.6l-12.2 -1zM425.8 673.8l-4.8 4.9l12 6.4l5.9 -4.7l5 -7.3zM426.9 661.6l14 3.2l-0.9 -11.3l-11.3 -1.4zM426.2 662.3l-0.4 11.5l18.1 -0.7l1.2 -1.7l-4.2 -6.6l-14 -3.2zM428.7 652.1l11.3 1.4l2 -1.9l1 -9.1l-1.9 -2l-11 0.8l-1.6 10.5zM418.9 629.5l10 0.4l1.9 -11.8l-0.2 -0.2l-11.9 0.1l-1.4 9.4zM430.1 641.3l11 -0.8l0.2 -10.1l-12.1 -0.2l0.4 10.5zM418.7 618l11.9 -0.1l1.6 -10.3l-1.1 0l-9.6 -0.8l-3.4 -0.3l-0.9 9.5zM445.1 671.4l3.8 -5.7l3.2 0.6l2.2 -11.4l-12.3 -3.3l-2 1.9l0.9 11.3zM529.9 756.2l0.3 -9.8l-1 -1.3l-12.4 1.2l4.9 10.2l5.7 2.5zM467.6 655.2l-0.3 -0.3l-13 0l-2.2 11.4l7.9 1.4l7.9 -0.3zM429.2 630.2l12.1 0.2l1.7 -2.1l0.3 -6.4l-12.5 -3.8l-1.9 11.8zM441.1 640.5l1.9 2l11.2 -1.5l1.5 -7.6l-12.7 -5.1l-1.7 2.1zM430.8 618.1l12.5 3.8l1.4 -1.6l-0.9 -11.5l-2.9 -3.3l-0.2 2.8l-8.5 -0.7l-1.6 10.3zM443.8 608.8l13.1 -0.1l0.1 -0.1l-0.2 -9l-15.1 -3.6l-0.8 9.5zM454.3 654.9l1 -12.4l-1.1 -1.5l-11.2 1.5l-1 9.1l12.3 3.3zM443 628.3l12.7 5.1l0.5 -0.5l0.6 -12l-1.5 -1.5l-10.6 0.9l-1.4 1.6zM454.3 654.9l13 0l-0.5 -10.1l-11.5 -2.3zM455.3 619.4l1.5 1.5l10.6 0.2l1.9 -10.5l-12.3 -2l-0.1 0.1zM456.9 608.7l-13.1 0.1l0.9 11.5l10.6 -0.9zM456.8 599.6l2.1 -2l0.5 -9.9l-0.8 -1l-16.2 0.2l-0.7 8.5l0 0.6zM455.3 642.5l11.5 2.3l1.6 -1.7l-0.7 -10.8l-11.5 0.6l-0.5 0.5l-1.5 7.6zM457 608.6l12.3 2l0.6 -0.6l1.7 -10.3l-12.7 -2.1l-2.1 2zM456.2 632.9l11.5 -0.6l1.3 -1.5l-0.1 -7.7l-1.5 -2l-10.6 -0.2zM458.6 586.7l0.8 1l12.8 -0.4l0.2 -9.5l-1.2 -1.4l-11.4 -0.8l-0.6 0.7zM460.3 554.3l0.8 -1l0.7 -9.5l-0.4 -0.5l-15.3 -3.8l-0.4 4.4l-0.7 9.8zM461.4 543.3l1.8 -11.2l-1.1 -1.3l-15.3 -0.9l-0.1 1.1l-0.6 8.5zM459.7 565.7l0.1 9.9l11.4 0.8l0.7 -10.6l-11.2 -1.4zM461.9 519.3l1.4 -8.7l-14.8 -1.8l-0.8 9.2l-0.2 2.8zM462.1 530.8l1.1 1.3l10.9 0.3l0.3 -0.3l1.1 -10.2l-11.9 -0.4zM463.6 521.5l-1.7 -2.2l-14.4 1.5l-0.7 9.1l15.3 0.9zM463.3 510.6l0.4 -0.4l0.6 -17l-3.5 -0.2l-10.2 -0.7l-0.8 -0.1l-1.1 12.9l-0.2 3.7zM476.9 500.9l12.1 -1.6l0.2 -4.6l-8 -0.4l-10.2 -0.6l-0.3 -0.1zM492.2 688.3l0.5 -9.1l-11.3 -1.5l1.4 1.6l6.6 12.2zM467.6 655.2l11.1 -1.3l1.9 -10.8l-0.1 -0.1l-12.1 0.1l-1.6 1.7l0.5 10.1zM468.9 623.1l13.2 -2.3l-0.7 -7.6l-11.5 -3.2l-0.6 0.6l-1.9 10.5zM467.7 632.3l0.7 10.8l12.1 -0.1l1.2 -9.4l-12.7 -2.8zM460.7 564.4l11.2 1.4l0.9 -0.8l1.1 -9.9l-12.8 -1.8l-0.8 1zM471.6 599.7l0.5 -0.5l0.4 -11.5l-0.3 -0.4l-12.8 0.4l-0.5 9.9zM472.5 587.7l12.1 0.4l0.2 -0.2l0.8 -9.7l-2.5 -2.6l-10.7 2.2l-0.2 9.5zM461.8 543.8l12.3 -1.1l0 -10.3l-10.9 -0.3l-1.8 11.2zM471.2 576.4l1.2 1.4l10.7 -2.2l0.8 -8.2l-11.1 -2.4l-0.9 0.8zM469.9 610l11.5 3.2l2.6 -2.9l-1.4 -9.9l-10.5 -1.2l-0.5 0.5zM473.9 555l1.7 -10.8l-1.5 -1.5l-12.3 1.1l-0.7 9.5l12.8 1.8zM473.9 555.1l-1.1 9.9l11.1 2.4l1.3 -1.3l0.3 -9.6l-11.6 -1.5zM463.6 521.5l11.9 0.4l0.4 -0.4l0.2 -9.5l-12.4 -1.8l-0.4 0.4l-1.4 8.7zM475.6 544.2l10.5 -0.3l0.9 -10.1l-12.6 -1.7l-0.3 0.3l0 10.3zM476.1 512l0.8 -0.9l0 -10.2l-6.2 -7.3l-6.4 -0.4l-0.6 17zM467.9 667.4l4.4 -0.2l3.6 4.1l5.9 -5.2l0.1 -8.9l-3.2 -3.3l-11.1 1.3zM481.7 633.6l0.1 -0.1l1.2 -11.6l-0.9 -1.1l-13.2 2.3l0.1 7.7zM483 621.9l10.6 0.1l1.8 -11.7l-11.4 0l-2.6 2.9l0.7 7.6zM478.7 653.9l3.2 3.3l11.1 -4l0.3 -6.3l-12.7 -3.8zM481.8 633.5l13.6 0.4l0.5 -9.5l-2.3 -2.4l-10.6 -0.1zM472.1 599.2l10.5 1.2l1.8 -1.6l0.2 -10.7l-12.1 -0.4zM482.6 600.4l1.4 9.9l11.4 0l0.1 -0.1l0.8 -10.4l-11.9 -1zM485.5 556.5l1.4 -1.2l0.6 -9.9l-1.4 -1.5l-10.5 0.3l-1.7 10.8zM474.4 532.1l12.6 1.7l1 -1.1l0 -9.2l-12.1 -2l-0.4 0.4zM483.1 575.6l2.5 2.6l11.5 -1.3l0.7 -8.4l-0.4 -0.5l-12.2 -1.9l-1.3 1.3zM485.5 556.5l-0.3 9.6l12.2 1.9l0.6 -10.5l-11.1 -2.2zM487.5 545.4l11.3 -0.8l1.2 -10.1l-12 -1.8l-1 1.1l-0.9 10.1zM475.9 521.5l12.1 2l0.5 -0.5l1.3 -10.3l-1.4 -1.4l-11.5 -0.2l-0.8 0.9zM476.9 511.1l11.5 0.2l0.9 -11.6l-0.3 -0.4l-12.1 1.6zM489.8 512.7l10.1 -0.8l0.4 -0.5l-0.1 -9.7l-10.9 -2l-0.9 11.6zM484.6 588.1l-0.2 10.7l11.9 1l0.3 -0.2l0.8 -10.1l-0.3 -0.4l-12.3 -1.2zM506 711.5l-0.5 -10.3l-1.4 -1.3l-9.8 1.3l4 8.4l4.5 5.5zM475.9 671.3l5.5 6.4l11.3 1.5l0.4 -0.5l0 -11.1l-11.3 -1.5zM492.7 679.2l-0.5 9.1l12.6 1.5l1.5 -1.5l-0.1 -9.1l-0.5 -0.5l-12.6 0zM481.8 666.1l11.3 1.5l0.8 -0.6l0.6 -11.7l-1.5 -2.1l-11.1 4zM493.1 678.7l12.6 0l0.3 -11.3l-12.1 -0.4l-0.8 0.6zM493.6 622l2.3 2.4l11.4 -2.8l0.5 -8.4l-12.3 -3l-0.1 0.1zM494.5 655.3l12.6 1.7l0.4 -0.5l-1.2 -10.5l-12.1 0l-0.9 0.9l-0.3 6.3zM493.9 667l12.1 0.4l0.4 -0.4l0.7 -10l-12.6 -1.7zM484.8 587.9l12.3 1.2l0.5 -11.4l-0.5 -0.8l-11.5 1.3zM497.1 589.1l0.3 0.4l12.2 -0.3l1.1 -8.7l-1.2 -1.3l-11.9 -1.5zM498 557.5l0.8 -0.7l0.3 -11.8l-0.3 -0.4l-11.3 0.8l-0.6 9.9zM497.6 577.7l11.9 1.5l0.2 -11.7l-11.9 1l-0.7 8.4zM488 532.7l12 1.8l0.4 -0.5l-0.3 -10.5l-11.6 -0.5l-0.5 0.5zM495.4 633.9l11 1.2l1.3 -1l1.3 -10.4l-1.7 -2.1l-11.4 2.8l-0.5 9.5zM489 499.3l0.3 0.4l10.9 2l0.3 -0.3l0.3 -6.1l-9.4 -0.5l-2.2 -0.1zM500.2 501.7l0.1 9.7l10.9 0.1l0.1 -3.1l0.3 -7.9l-11.1 0.9zM495.5 610.2l12.3 3l0.3 -0.3l0.8 -11.8l-0.1 -0.2l-12.2 -1.3l-0.3 0.2zM498.8 556.8l12 0.2l5.6 -6.3l-0.6 -0.3l-5.1 -3.6l-11.6 -1.8zM488.5 523l11.6 0.5l1.2 -1.4l-1.4 -10.2l-10.1 0.8zM489.4 691.5l2.7 5l2.2 4.7l9.8 -1.3l0.7 -10.1l-12.6 -1.5zM497.8 568.5l11.9 -1l0.7 -0.6l0.4 -9.9l-12 -0.2l-0.8 0.7l-0.6 10.5zM517.8 721.9l0.1 -9.9l-0.2 -0.2l-11.7 -0.3l-3.2 3.6l9.8 11.9zM494.2 646l12.1 0l0.7 -0.8l-0.6 -10.1l-11 -1.2zM508.8 600.9l1.8 -10.3l-1 -1.4l-12.2 0.3l-0.8 10.1zM499.1 545l11.6 1.8l-1 -0.8l0.5 -11.8l-9.8 -0.2l-0.4 0.5l-1.2 10.1zM507.1 657l-0.7 10l12.8 1.6l0.7 -0.6l-1 -12.6l-11.4 1.1zM499.9 511.9l1.4 10.2l9.4 0.3l0.1 -1.5l0.4 -9.4l-10.9 -0.1zM510.4 566.9l11.7 3l0.6 -0.6l0.7 -14.8l-7 -3.8l-5.6 6.3zM500.5 501.4l11.1 -0.9l0.2 -4.7l-10.2 -0.4l-0.8 -0.1zM500.4 534l9.8 0.2l0 -0.7l0.5 -11.1l-9.4 -0.3l-1.2 1.4zM507.7 634.1l11.6 2l1.8 -2.3l-1 -9l-11.1 -1.1zM529.2 745.1l0.6 -10.8l-16 0.1l0.4 6.5l2.6 5.4zM506 711.5l11.7 0.3l0.5 -10.7l-0.8 -0.9l-11.9 1zM518.2 701.1l12.6 0.5l0 -0.1l1.4 -11.4l-0.2 -0.3l-14.1 0.8l-0.5 9.6zM508.9 601.1l13 1.4l0.8 -1l-0.7 -9.6l-0.1 0l-11.3 -1.3l-1.8 10.3zM512.6 727l0.9 1.1l0.3 6.3l16 -0.1l0.5 -0.6l0 -9.8l-0.1 -0.1l-12.4 -1.9zM529.2 745.1l1 1.3l12.5 -0.3l-0.9 -10.7l-11.5 -1.7l-0.5 0.6zM542 757l-12.1 -0.8l-2.5 2.8l3.5 1.6l11.5 5.4l0.2 0.1zM517.8 721.9l12.4 1.9l1.2 -10l-1.4 -1.9l-12.1 0.1zM531.3 668l13.2 0.4l0.9 -9.1l-12.4 -4.1l-1.1 1.3l-1 11.1zM522 591.9l12.5 -1.5l0 -9.5l-11.7 -1.7l-0.9 12.7zM542.6 766.1l12.3 4.1l1.7 -12.7l-12.4 -3.4l-2.2 2.9zM530.3 733.7l11.5 1.7l2.9 -2.5l0.6 -9.1l-0.5 -0.6l-14.5 0.7zM529.9 756.2l12.1 0.8l2.2 -2.9l-0.4 -6.9l-1.1 -1.1l-12.5 0.3zM543.8 747.2l18.1 -5.7l0.6 -2.8l-17.8 -5.8l-2.9 2.5l0.9 10.7zM544.8 723.2l0.5 0.6l13.1 -0.2l0.5 -10.7l-0.4 -0.5l-14.1 0.1zM547.8 581l0.5 0.6l12.5 -1.8l0.4 -8.7l-1 -1.4l-12.1 0.4l-0.5 0.5zM543.8 747.2l0.4 6.9l12.4 3.4l6.7 -6.4l-1.5 -9l0.1 -0.6zM556.6 757.5l-1.7 12.7l3.7 1.2l8.2 -2.7l-0.4 -3.6l-2.9 -12.7l-0.2 -1.3zM544.7 732.9l17.8 5.8l1.3 -6.8l-0.4 -1.7l-5 -6.6l-13.1 0.2zM558.4 723.6l5 6.6l-1.7 -8.5l8 -1.2l3.8 -5.3l-1.6 -2l-13 -0.3zM872.9 445.3l-0.5 -3.7l-5.7 -4l-3.8 -0.6l3.1 7.3l5.9 3.4zM871.9 447.7l3.6 2l3.5 3.9l3.7 -3l-0.8 -3.3l-9 -2zM879.7 408.5l9.6 1.2l0.7 -1.9l-6.4 -11.5l-4.1 4l-3.3 7.1zM876.2 407.4l-2 4.2l-0.1 0.1l0.7 3.9l6.9 4.5l0.2 -0.1l2.4 -2.7l-4.6 -8.8zM871.8 419.2l3 -3.6l-0.7 -3.9l-6.3 3.5l-2.3 4.1zM872 426.1l-0.2 -6.9l-6.3 0.1l-5.5 9.8zM877.5 439.1l0.4 -0.5l-1.6 -7.9l-9.6 6.9l5.7 4zM876.3 430.7l1.6 7.9l8.4 -1.4l0.2 -0.4l-0.6 -1.9l-9.5 -4.6zM882.7 450.6l-3.7 3l3.6 4l8.7 -3.9zM881.9 447.3l0.8 3.3l8.6 3.1l0.5 -0.2l1.5 0.1l0.1 -7.2l-6.8 -5.3l-4.5 5.4zM878.6 426.8l7.7 2.6l3.5 -3.9l-7.9 -5.5l-0.2 0.1zM884.3 417.3l5.6 -4l-0.1 -1.6l-0.5 -2l-9.6 -1.2zM893.4 446.4l-0.1 7.2l5.7 0.1l5 -2.7l-1.2 -8.1l-7.4 0.9zM895.6 403.3l1.2 -4.8l-8.6 -6.8l-3.7 3.7zM896.8 398.5l5.5 -2.5l-1.2 -7.6l-5.9 1l-1.9 -11.5l-1.9 -11.6l0 -0.4l-1.1 6.5l-0.7 9.3l-0.7 9.3l-0.7 0.7zM889.9 413.3l2.5 2.6l7.2 -0.6l1.9 -5.1l-11.7 1.5zM895.2 437l6.9 -1.2l0.9 -2.5l0 -2.2l-3 -2l-5.9 0.8l-1 5.5zM890.8 425.4l3.3 4.5l5.9 -0.8l-0.9 -6.3l-6 -0.4zM901.5 410.2l-1.9 5.1l3 4.7l2.7 0.4l2.5 -3.5l-1 -6.9l-3.9 -2zM904.3 440.5l7.1 0.6l1.4 -5.8l-9.8 -2l-0.9 2.5zM911.5 395.3l5.1 -0.9l-0.2 -1.7l-1.1 -6.7l-1.8 0.3l-2.8 0.5zM1061.1 171.2l7.2 4.3l7.7 -3.9l8.8 -11.7l-2.6 -8.4l-4.9 -3.4l-6.3 -1l-4.1 3.6l-4.2 3.7l-1.6 -1.2zM1070.8 212.9l11.5 -15.9l-0.7 -1.5l-13.1 -7.2l-7 2.4l3 20.7zM1061.5 190.7l7 -2.4l-0.2 -12.8l-7.2 -4.3l-12.8 5.7l0.4 2.2l-2.9 6.2l2.2 4.9zM1068.5 188.3l13.1 7.2l2.9 -10l-8.5 -13.9l-7.7 3.9zM1076 171.6l8.5 13.9l6.2 -6.7l-2.7 -8.9l-2.9 -9.2l-0.3 -0.8z"/>
<path fill="#e9eded" d="M120.3 170.8l4.1 -12.1l-14.6 -4.9l-4.8 1.6l-0.5 7.2l-2.8 9.3l4.6 1.6l4.6 1.7l1.9 1.3zM185.4 197.1l-9.8 -6.1l-12.4 11.6l1.3 -0.1l5.6 -0.3l5.7 -0.4l5.2 1.1l6 -0.4l3.9 1zM164.7 155.3l-5.8 13.9l17.5 7.6l2.2 -1.4l2 -9.7l-15 -11.1zM175.6 191l9.8 6.1l3.1 -18.4l-9.9 -3.3l-2.2 1.4l-2.6 7.9zM184 129.6l0.4 2.8l16.2 4.5l6.5 -8.3l-7.2 -1.7l-8.1 -2.1l-6.6 -1.7zM217 201.1l-7.8 6.7l6.5 1.5l7.1 1.6l0.6 -5.1l-0.3 -5.8l0.2 -0.9zM190.9 203.5l2.1 0.5l7 -9.5l3.4 -8.2l-2.7 -4.6l-7 -3.4l-5.2 0.4l-3.1 18.4zM180.9 143.3l14.5 9.1l5.1 -3.2l0.1 -12.3l-16.2 -4.5zM180.6 165.7l-2 9.7l9.9 3.3l5.2 -0.4l0.7 -18.2l-0.4 -0.6l-12.1 5.1zM193.7 178.3l7 3.4l5.1 -11.6l-7.1 -7.3l-4.3 -2.7zM217 201.1l-17 -6.6l-7 9.5l1.2 0.3l7.1 1.7l7.2 1.7l0.7 0.1zM205.8 170.1l17.1 -5.8l-4.1 -5.1l-20.1 3.6zM194 159.5l0.4 0.6l4.3 2.7l20.1 -3.6l-5.4 -8.4l-12.9 -1.6l-5.1 3.2zM220.9 134.1l13.7 14.8l0.6 -2.4l2.4 -10.7l-5 -1.1l-8.2 -1.9l-3.6 -0.9zM203.4 186.3l23.2 -1.7l1.3 -6.1l2.4 -10.3l-7.4 -3.9l-17.1 5.8l-5.1 11.6zM218.8 159.2l4.1 5.1l7.4 3.9l0.1 -0.4l2.4 -10.7l1.8 -8.2l-13.7 -14.8l-7.5 16.7zM200.5 149.2l12.9 1.6l7.5 -16.7l-0.1 -2.2l-4.6 -1l-8.1 -2l-1 -0.3l-6.5 8.3zM89.3 253l0 -0.6l-7.6 -8.7l-14.9 24.6l0 7.9l8.9 2.7l0.9 0.3zM102.3 270.8l-13 -17.8l-12.7 26.2l7.9 2.3l8.9 2.6l4.6 1.4zM99.8 211.4l19.3 9.5l4.3 -2.7l-0.8 -14.3l-17.2 -1.6zM113.3 234.5l5.8 -13.6l-19.3 -9.5l-12.9 6.6l-2.1 5.5zM103.2 187.9l16.9 -5.2l0 -0.8l-4.6 -3.5l-4.6 -3.2l-4.6 -1.7l-4.6 -1.6l-1.2 9.5l-1.3 4.4zM115.8 242.3l20.9 1.9l3.1 -3.3l3.3 -7.8l-2.5 -9.8l-17.2 -5.1l-4.3 2.7l-5.8 13.6zM105.4 202.3l17.2 1.6l4.4 -6.1l-2.1 -0.4l-5.4 -3.7l0.5 -5.2l0.1 -5.8l-16.9 5.2zM168.8 297.4l-24 -18.8l-1.8 1.6l-4.9 16.2l5.5 1.5l3.2 0.8l9 2.3l9 2.2l5.1 1.2zM193.5 279.8l-12.6 -7.5l-4.8 3.3l-7.3 21.8l1.1 7l3.8 1l9 2.1l9 2.1l6.6 1.5l1.4 -6.2zM146.9 270.1l-2.1 8.5l24 18.8l7.3 -21.8l-20.8 -8.7zM139.8 240.9l21.6 12.2l8.6 -5.5l-6.7 -14.1l-20.2 -0.4zM185.2 216.7l4.2 -1.2l9.6 -10.1l-4.8 -1.1l-7.2 -1.8l-6 0.4l-4.6 -1zM183.6 262.1l14.2 -4.5l6.6 -15.2l-13.3 -8.3l-1.2 -0.2l-13.9 15.3zM163.3 233.5l6.7 14.1l6 1.6l13.9 -15.3l-5.6 -8.7l-17.1 1.9zM193.5 279.8l6.2 25.1l1.2 -5.5l2.7 -11.6l2.6 -11.7l0.5 -2.5zM183.6 262.1l-2.7 10.2l12.6 7.5l13.2 -6.2l1.4 -6.2l-10.3 -9.8zM184.3 225.2l5.6 8.7l1.2 0.2l13.1 -14.7l-2 -1.9l-12.8 -2l-4.2 1.2zM202.2 217.5l2 1.9l8.6 0.7l4.6 -10.4l-1.7 -0.4l-7.2 -1.6l-7.2 -1.7l-0.8 -0.2zM191.1 234.1l13.3 8.3l12.3 -2.4l1.2 -1.2l1 -1.8l-6.1 -16.9l-8.6 -0.7zM202.2 217.5l-1.7 -11.7l-1.5 -0.4l-9.6 10.1zM212.8 220.1l6.1 16.9l3.9 -7.7l5.2 -6.7l-5.2 -11.7l-5.4 -1.2zM68.5 385.4l5.4 -13.2l-5.8 -11.6l-13.2 -0.9l6.1 14.8l-1.3 7.8l5.1 4.8zM74.2 441.6l11.4 -10l-8.9 -17.9l-6.5 -1.3l1.4 1.6l-0.4 9.3l-2.1 7.5l5 10.8zM95.5 478.1l-0.3 -21.2l-0.9 -0.7l-11.4 4.9l2.2 5l-2.4 14.1l2.5 4.6l3 1.1zM98.6 405.9l2.7 25.3l1.5 0.3l19.6 -14.9l-5.4 -14.9zM134.4 498.2l-4.4 -8.3l-12.3 1.2l-8.8 7.7l2 2l5.5 4l6.9 3l-0.2 5.3l4.2 1.9zM117.7 491.1l12.3 -1.2l5.6 -11.7l-7.1 -12.2l-15 3.7l-4 6.3zM127.1 448.2l15 -8.9l1.4 -1.4l1.4 -15.2l-18.3 -2.6l-6.8 23.8l0.3 0.5zM119.8 443.9l6.8 -23.8l-4.2 -3.5l-19.6 14.9zM149.8 546.4l-0.6 -24.9l-2.9 -1.3l-11.7 2.4l1.2 1.4l5.7 13.3l-0.7 7.8l1.8 4.9l4.6 0.6zM127.1 448.2l2.4 11.4l17.9 -1.1l-5.3 -19.2zM169.9 505.2l0.3 0.9l17.6 4.7l22.1 -3.4l-0.2 -0.6l-2.2 -8.4l-8.1 -11.2l-4.6 -6.4zM128.5 466l7.1 12.2l15.8 -1.4l3.4 -1.8l7.9 -10.1l-15.3 -6.4l-17.9 1.1zM134.4 498.2l11.9 3.8l5.7 -2.1l-0.6 -23.1l-15.8 1.4l-5.6 11.7zM127.3 515l1.7 0.8l5.6 6.8l11.7 -2.4l0 -18.2l-11.9 -3.8zM142.1 439.3l5.3 19.2l15.3 6.4l14.6 -8.9l-33.8 -18.1zM151.4 476.8l0.6 23.1l16.2 3.6l-1.4 -10.8l-12 -17.7zM147.2 550.6l5.7 0.7l10.3 1.2l1.4 0.2l7.8 -10.6l-11.3 -4.3l-11.3 8.6zM168.2 503.5l1.7 1.7l24.9 -24.4l-3.4 -4.9l-6.5 -9.2l-18.1 26zM166.8 492.7l18.1 -26l-1.4 -2.1l-6 -8.7l-0.2 0.1l-14.6 8.9l-7.9 10.1zM161.1 537.8l11.3 4.3l10.7 -1.1l1.3 -6.4l-1 -1.5l-17.1 -12.9zM183.1 541l-10.7 1.1l-7.8 10.6l8.9 1l10.3 1.1l3.6 0.4zM166.3 520.2l17.1 12.9l4.4 -22.3l-17.6 -4.7l-4.1 13.7zM184.4 534.6l-1.3 6.4l4.3 14.2l6.7 0.7l6 -6.2l-2.2 -10.9l6.6 -11.7zM187.8 510.8l-4.4 22.3l1 1.5l20.1 -7.5l0.1 -0.2l9.3 -8.7l-4 -10.8zM169.8 391.6l-34.7 -0.7l3.3 5.3l7.2 11.4l7.4 11.5l6.2 9.6zM166.1 364.4l3.9 -11.2l-8.4 -11.3l-27.4 -7.5l-0.3 1.1l-3.2 12.5l-3.3 12.6l-3.2 12.5zM170 353.2l21.6 -5.3l12.1 -35.6l-3 -0.7l-2.4 -0.5l-6.6 -1.5l-9 -2.1l-4.5 -1.1l-16.6 35.5zM169.8 391.6l-10.6 37.1l1.3 1.8l4.5 6.9l16 -2.5l14.3 -24l-14.2 -23.1l-5.1 -0.9zM161.6 341.9l16.6 -35.5l-4.5 -1l-8.9 -2.2l-9 -2.2l-9 -2.3l-3.2 -0.8l-3.2 12.5l-3.3 12.5l-2.9 11.5zM202.9 447.9l-21.9 -13l-16 2.5l3 4.5l7.7 11.4l7.8 11.3l7.9 11.3l8 11.3l1.8 2.5zM230.4 339.9l20 -0.6l0.7 -4l2.5 -12.7l-7.7 -1.5l-9 -1.8l-9.1 -1.8l-7.1 -1.5zM207.6 446.1l-4.7 1.8l-1.7 41.8l6.3 8.7l2.1 -12.7l0.4 -6.8l0.4 -6.8l7.3 -0.7l7.3 0.1l2 -10.8l0.6 -3zM195.3 410.9l18.8 -2.3l12.5 -22.4l-28.9 -8.7l-16.6 10.3zM239.9 379.3l-13.3 6.9l-12.5 22.4l11.1 20.4l7.7 1.2l1.1 -5.8l2.5 -12.7l2.4 -12.8l2.5 -12.7l1.2 -6.3zM197.3 355.1l32.1 2.3l1 -17.5l-9.7 -23.9l-1.9 -0.4l-9 -2l-6.1 -1.3l-12.1 35.6zM200.3 302.1l-2 9l2.4 0.5l9.1 2l9 2l1.2 0.2zM221.1 297.9l-8.9 -12.8l-7.2 -3.7l-1.4 6.4l-2.7 11.6l-0.6 2.7l19.7 13.7l0.5 0.1l1.1 -3.6zM220.2 264.5l1.6 -8.7l-10.9 0.2l0.1 1l-2.2 7.5l-2.3 10.2zM236.5 204.1l3.6 -5.1l-1 -3.4l-14.1 -4.2l-1.9 8.6l0.3 5.8l-0.4 4zM223 209.8l-0.2 1.1l5.2 11.7l-4.4 5.7l18.9 -2.8l2.2 -4.3l-8.2 -17.1zM238.9 168.4l11.2 -10.6l0.1 -0.3l-14.2 -14.6l-0.8 3.6l-2.4 10.6l-2.4 10.7l-0.1 0.1zM223.5 254l14.5 6.6l7.1 -13.7l-0.6 -1.1l-20.5 -5.1zM236.5 204.1l8.2 17.1l6.7 -4.6l2.7 -11.8l-2.5 -3.5l-11.5 -2.3zM240.1 199l11.5 2.3l7.6 -13.1l-1.6 -2.5l-2.6 -2.2l-14.6 4.3l-1.3 7.8zM238 260.6l2.1 4.2l21.5 -3.7l7.4 -5.4l-23.9 -8.8zM224 240.7l20.5 5.1l3.4 -13.7l-5.4 -6.6l-18.9 2.8l-0.8 1l-1.9 3.8zM346 185l-2.6 10.2l15.2 6.7l15 -12.2l-4.9 -6.9l-13.8 -2.1l-6.5 2.2zM393.6 253.2l-16.9 1.2l-3.4 9.1l2.3 0.3l9 1.1l9 1.1l4.5 0.5zM354.9 180.7l13.8 2.1l9.6 -21.8l-5 -0.7l-8.4 -1.1l-6.3 -0.9zM365.1 220.7l2.4 1.9l10.3 -8.6l-0.3 -7.7l-17.4 -0.7l-0.4 7.3zM353.9 233.6l6.6 13.5l11.5 -3.7l2.8 -6l-7.4 -11.8zM360.1 205.6l17.4 0.7l2.4 -9.2l-1.7 -4.5l-4.6 -2.9l-15 12.2zM374.8 237.4l13.3 -1.5l-0.2 -17.4l-10.1 -4.5l-10.3 8.6l-0.1 3zM378.2 192.6l20.5 -15.6l0.1 -0.2l0.5 -13.1l-1 -0.1l-8.4 -1.1l-8.3 -1l-3.3 -0.5l-9.6 21.8l4.9 6.9zM376.7 254.4l16.9 -1.2l3.2 -12.4l-8.7 -4.9l-13.3 1.5l-2.8 6zM444.7 257.6l-29.6 -3.1l-12.4 12.5l9 1l9 0.9l9 0.9l9 0.8l9.1 0.8l0.9 -10.7zM396.8 240.8l-3.2 12.4l4.5 13.3l4.5 0.5l0.1 0l12.4 -12.5l-8.8 -14.4l-3.6 -1.5zM379.9 197.1l19 6l4.4 -3.4l-4.6 -22.7l-20.5 15.6zM351.5 281.1l0.7 -0.3l-1.7 -20.4l-1.8 -0.3l-9 -1.3l-9 -1.4l-8.9 -1.4l-1.5 9.5zM389.1 352.7l-27.3 -5.7l0.1 19.1l0.7 0.1l9.5 1.2l9.6 1.1l9.5 1.1l6.3 0.7zM363.2 324.1l0.6 1.6l22.5 -3.5l7.5 -10.5l1.2 -4.9l-2.7 -4.9l-22.1 -19.5l-4.4 1.2zM392.3 301.9l6.7 -25.4l-25 0.8l-3.8 5.1zM409.5 340l-18.5 -9.8l-1.9 22.5l8.4 17.6l3.3 0.4l9.5 1l9.6 0.9l4.3 0.4zM395 306.8l23.5 -11.7l-13 -23.7l-6.5 5.1l-6.7 25.4zM374 277.3l25 -0.8l6.5 -5.1l1 -4l-3.9 -0.4l-9 -1l-9 -1.1l-7.2 -0.9zM429.1 286.8l17.2 1.6l0.4 -4.2l1.1 -12.8l-9.1 -0.8l-6 -0.5zM391 330.2l18.5 9.8l11.3 -16l-27 -12.3l-7.5 10.5zM427.7 322.5l-6.9 1.5l-11.3 16l14.7 33l5.3 0.5l9.5 0.8l1.1 -12.9l1.1 -12.5zM405.5 271.4l13 23.7l3.7 0.4l6.9 -8.7l3.6 -16.7l-3 -0.3l-9 -0.9l-9 -0.9l-5.2 -0.6zM393.8 311.7l27 12.3l6.9 -1.5l5.8 -12.2l-11.3 -14.8l-3.7 -0.4l-23.5 11.7zM429.1 286.8l-6.9 8.7l11.3 14.8l11 -0.9l1.1 -12.3l0.7 -8.7zM262 362.1l2.6 -5.4l2.2 -6.5l-16.2 -12.2l-1.9 10l-2.4 12.7l-0.6 2.7zM265.3 373.4l-3.3 -11.3l-16.3 1.3l-1.9 10.1l-2.4 12.7l-2.2 11zM282.5 423.7l14.4 -0.1l13.8 -14.6l-7.9 -6.2l-20.5 6.5zM262 362.1l3.3 11.3l10.1 4.6l5.5 -11.1l-16.3 -10.2zM295.5 453.3l5.1 -5.9l3.7 -15l-7.4 -8.8l-14.4 0.1l-0.4 0.6l-3 13.1zM322.3 441.6l-21.7 5.8l-5.1 5.9l0.9 8.3l2.5 0.4l10 1.5l10 1.4l10.1 1.4l0.3 0.1l1.8 -12.8l0.5 -3.6zM351.9 382.6l16.9 -11.3l0.5 -4.3l-6.7 -0.8l-9.6 -1.2l-9.5 -1.3l-1.3 9.6zM408.2 396.4l18 -8l-5 -8.4l-14.3 8.3zM453.1 476.1l-15.3 -11.8l-11.7 13l3.4 0.3l10.1 0.8l10.1 0.8l1.8 0.1l1 0.1zM426.2 388.4l3.4 2.5l0.6 0.1l12.8 -6.3l-11.5 -11l-2 -0.2l-9.6 -0.9l-0.3 0l1.6 7.4zM417.9 417.8l-6.2 11.6l9.6 -0.6l4.8 -12.9zM410.3 430.7l0.1 9.6l14.2 0.5l3.3 -7.4l-6.6 -4.6l-9.6 0.6zM428.7 445.7l8.9 2.2l9.1 -12l-10.1 -10.3l-8.7 7.8l-3.3 7.4zM426.1 415.9l-4.8 12.9l6.6 4.6l8.7 -7.8l-1.3 -7.7l-8.9 -2.1zM421.8 457.2l18.9 0.2l-3.1 -9.5l-8.9 -2.2zM436.6 425.6l10.1 10.3l0.6 0l8.7 -5l6.2 -11.5l-4.3 -4.8l-17.6 -2l-5 5.3zM440.3 408.9l10.2 -12.7l-2.7 -9.5l-2.3 -2.7l-2.5 0.7l-12.8 6.3zM223.8 561.2l0.9 -18.2l-24.3 -8.6l-2.5 4.4l2.2 10.9l-6 6.2l-3.1 5.5l9.2 5.6l9.2 5.6l1.5 0.9zM257.5 576.9l-3.5 -3.9l-30.2 -11.8l-12.9 12.3l7.7 4.6l9.3 5.5l9.4 5.5l9.4 5.4l9.4 5.3zM237.7 514.3l32.2 -5.8l11.8 -16l-30.4 -15.7l-9.1 5.6l-9.9 22.8zM224.7 543l13.4 -14.5l-0.4 -14.2l-5.4 -9.1l-24 -3.7l1.4 5.3l4.2 11.4l-9.3 8.7l-4.2 7.5zM232.3 505.2l9.9 -22.8l-16.9 -12.6l-0.3 1.7l-7.3 -0.1l-7.3 0.7l-0.4 6.8l-0.4 6.8l-2.1 12.7l0.8 3.1zM224.7 543l-0.9 18.2l30.2 11.8l0.7 -34.5l-16.6 -10zM242.2 482.4l9.1 -5.6l4.9 -21.9l-7.2 -1.3l-9.9 -1.9l-10 -1.8l-2.1 10.8l-1.7 9.1zM269.9 508.5l5.9 21.9l12.3 0.4l25.8 -25.2l-16 -16.9l-16.2 3.8zM238.1 528.5l16.6 10l13.5 -1l7.6 -7.1l-5.9 -21.9l-32.2 5.8zM281.1 564.4l22.4 0.9l-15.4 -34.5l-12.3 -0.4l-7.6 7.1zM303.5 565.3l-22.4 -0.9l-23.6 12.5l-1.4 22.9l0 0.1l9.5 5.3l10.3 1.6l10.3 1.6l10.3 1.5l10.3 1.5l2.5 0.3l1.6 -12.1l1.7 -12l1.7 -12.1l0.7 -5.4zM297.9 488.7l16 16.9l9.5 4l0.9 -6.8l1.7 -12.1l1.7 -12.2l1.6 -12.1l-0.3 -0.1l-10.1 -1.4l-10 -1.4l-8.1 -1.3zM251.3 476.8l30.4 15.7l16.2 -3.8l2.9 -26.5l-1.9 -0.2l-10 -1.6l-10 -1.6l-9.9 -1.7l-10 -1.7l-2.8 -0.5zM327.9 574.9l17.3 -14.8l-1.8 -14.8l-26.2 8.9l-1.3 9.2l-0.4 2.9zM338.5 595.2l6.7 -3.3l11.2 -20.4l-11.2 -11.4l-17.3 14.8l3.7 13.3zM322.5 515.6l-0.7 5.3l22.9 21.6l12 -6l-15.2 -31.6zM343.4 545.3l1.3 -2.8l-22.9 -21.6l-0.9 6.1l-1.6 12.2l-1.7 12.1l-0.4 2.9zM345.2 560.1l11.2 11.4l0.9 0l13 -20.2l-0.3 -4.8l-12.4 -10.2l-0.9 0.2l-12 6l-1.3 2.8zM356.4 594.5l-11.2 -2.6l-6.7 3.3l-1.5 8.5l1 0.1l9.1 1.1l9 1.1l9.1 1l-1.3 -5.9l9.6 1.1l0.3 0zM383.3 572.6l-13 -21.3l-13 20.2l14 4.9l9.8 1.9zM371.4 518.7l-13.8 17.6l12.4 10.2l15 -2l7.2 -4.9l-7.9 -20l-12.2 -1.3zM382.8 583l-1.7 -4.7l-9.8 -1.9l-14.9 18.1l17.4 7.7l2.4 0.3zM383.3 572.6l5.5 -5.3l-3.8 -22.8l-15 2l0.3 4.8zM413.2 521.6l11.3 -19l-12.3 -7.1l-12.7 14.6zM417.3 529.3l21.4 -2.8l-3.3 -25l-10.9 1.1l-11.3 19zM412.2 495.5l12.3 7.1l10.9 -1.1l14.8 -22.3l-0.5 0l-10.1 -0.8l-10.1 -0.8l-10 -0.9l-7.7 -0.7zM435.4 501.5l3.3 25l8.1 4.3l0.9 -12.8l1 -12.9l1.1 -12.9l0.8 0.1l0.9 -13l-1.3 -0.1zM553 198l0.9 11l0.6 0.5l15.5 -1.3l4.8 -6.1l-0.3 -1.4l-0.3 -4.2l-19.3 -0.3zM554.9 196.2l19.3 0.3l-0.6 -8.6l-0.4 -4.8l-18.4 1.7zM570 208.2l-0.7 13.5l9 0.6l-1.6 -8.8l-1.9 -11.4zM569.4 234.6l-0.5 0.6l1 18.1l4.7 0l9 0.1l-0.7 -9.2l-2 -9l-0.1 -0.5zM569.3 221.7l-0.3 0.3l0.4 12.6l11.4 0.1l-1.8 -8.5l-0.7 -3.9zM574.1 258.1l6.2 0.7l3.3 -5.4l-9 -0.1l-3.9 0zM574.3 313.5l-0.8 0.9l0.5 10.2l10.9 0.8l-2.4 -9.2l2.7 0l0.1 -1.3zM573.6 302.4l1.5 1.9l10.2 -0.8l0.1 -10.5l0 -0.2l-11.6 -1.6l-0.5 0.4zM560.7 269.5l13 0l0.4 -11.4l-3.4 -4.8l-5 -0.1l-3.2 0l-1.9 16.1zM574.3 270.2l0.1 10l0.7 1.1l10.3 -1l0.1 -10.4l-0.6 -0.6zM575.1 304.3l-0.8 9.2l11 1.4l0 -10.3l0 -1.1zM574.3 270.2l10.6 -0.9l-6.6 -7.2l2 -3.3l-6.2 -0.7l-0.4 11.4zM575.1 281.3l-1.3 9.9l11.6 1.6l0 -11.4l0 -1.1zM581.2 394.6l-10.4 -0.2l-1.3 12.2l9.4 0.1l3.6 0zM559.8 406.5l0.3 0l9.4 0.1l1.3 -12.2l-0.6 -0.9l-11.6 0l-0.3 0.5zM558.2 385.7l0.4 7.8l11.6 0l0.4 -8.5l-0.9 -1.3l-10.4 0.6zM558.2 374.4l1.1 9.9l10.4 -0.6l0.6 -8.1l-10.8 -2.5zM560.5 344.5l0.1 0l11.3 -0.1l-0.3 -9.5l-0.5 -0.2l-6.5 -1l-4.4 -0.7zM560.4 354.8l0.2 9.2l11.2 1.3l0.1 -0.1l0.4 -10.1l-0.8 -0.7l-11 0.3zM571.9 344.4l0.2 0.2l13.8 0l-0.8 -2.6l-7 -3.6l-6.5 -3.5zM560.5 354.7l11 -0.3l0.6 -9.8l-0.2 -0.2l-11.3 0.1zM571.5 354.4l0.8 0.7l10.4 -0.2l4.8 -4.6l-1.6 -5.7l-13.8 0zM571.8 365.3l-0.7 9.5l11.3 0.8l-0.7 -10.2l-9.8 -0.2zM570.8 394.4l10.4 0.2l0.3 -0.3l1.1 -9.8l-12 0.5l-0.4 8.5zM581.2 394.6l1.3 12.1l5.8 0.1l3.6 0l1.8 -11.9l-12.2 -0.6zM582.4 364.6l0.3 -9.7l-10.4 0.2l-0.4 10.1l9.8 0.2zM573.3 465.1l9.4 -0.3l0.4 -0.4l1.1 -8l-1.2 -1.5l-9.3 -0.8l-1.3 1.5l-0.1 8.5zM562.3 436.3l10 0.8l0.9 -1.2l-0.4 -7.8l-9.4 -0.5zM572.8 428.1l0.4 7.8l10.3 1.5l0.2 -10.3l-10.3 0.3zM583.7 427.1l-0.2 10.3l0.2 0.3l10.8 -1l0.1 -0.1l-0.7 -8.5l-10.2 -1.1zM584.2 456.4l10 -0.4l0.2 -0.2l-0.8 -9.1l-8.9 -0.5l-1.7 8.7zM584.7 446.2l8.9 0.5l0.6 -0.7l0.3 -9.3l-10.8 1l-0.6 6.5zM594.8 474.7l-1.2 -1.3l-10 1.6l-0.6 0.8l0.4 8.7l7.9 0.1l3.4 0zM594.2 456l-10 0.4l-1.1 8l10.6 1.8l0.7 -0.9zM584.1 418.8l9.7 -1l1 -1.4l-0.2 -9.6l-6.3 0l-3.7 0l-1.1 11.1zM593.9 428.1l0.7 8.5l9.8 0.5l0.6 -0.6l0.3 -9.9l-0.4 -0.6l-10.1 1.1zM534 550.3l0.6 -10.4l-0.1 -0.2l-12.1 0.2l-0.1 9.4l11.3 1.4zM523.6 507.8l12.3 0.7l-0.2 -10.1l-0.2 -0.2l-10.5 -0.3l-1.4 9.8zM534.6 539.9l12 0.2l0.8 -1.1l-0.8 -9.4l-10.9 -0.7l-1.5 1.3l0.3 9.5zM546.6 529.6l0.8 9.4l10.4 -0.4l1.4 -9.1l-11.7 -1zM546.6 540.1l0.8 8.4l10.9 1.8l1.3 -9.7l-1.8 -2l-10.4 0.4zM536 508.6l10.5 0.7l1.1 -1.1l0 -9l-1.2 -1.5l-10.7 0.7l0.2 10.1zM570.7 498.6l0.3 0.3l11.5 -0.4l-0.2 -14l-1.2 0l-10.1 -0.1l-1.5 0zM546.4 497.7l1.2 1.5l10.7 -1.1l0.7 -13.8l-8.2 -0.2l-2.9 -0.1zM547 519.2l0.9 1l11.3 -1.7l0.1 -0.1l0 -9.2l0 -0.1l-11.7 -0.9l-1.1 1.1zM558.8 550.9l11.4 -1l1 -7.4l-2.3 -2.7l-9.3 0.8l-1.3 9.7zM559.2 529.5l0.2 -0.1l-0.2 -10.9l-11.3 1.7l-0.4 8.3zM560.4 500.8l10.3 -2.2l-1.2 -14.2l-8.6 -0.1l-1.9 0l-0.7 13.8zM559.2 529.5l-1.4 9.1l1.8 2l9.3 -0.8l0.9 -9.6l-10.4 -0.8zM559.3 518.4l11.2 1.8l0.5 -0.5l1.3 -9.9l-0.1 0l-12.9 -0.6zM559.4 529.4l10.4 0.8l0.1 -0.1l0.6 -9.9l-11.2 -1.8l-0.1 0.1zM571.2 542.5l10.5 -1.8l0.4 -9.5l-12.2 -1.1l-0.1 0.1l-0.9 9.6zM569.9 530.1l12.2 1.1l0.8 -0.9l-0.2 -9.2l-11.7 -1.4l-0.5 0.5zM570.6 550.5l11.1 2.5l1.8 -2.7l-1.5 -9.2l-0.3 -0.4l-10.5 1.8l-1 7.4zM572.3 509.8l9.9 -0.4l0.8 -0.8l-0.1 -9.7l-0.4 -0.4l-11.5 0.4l1.2 10.9zM569.2 565.7l3.2 3l5.2 -1.6l4.7 -6.9l-0.6 -7.2l-11.1 -2.5zM582.7 521.1l0.6 -0.8l-1.1 -10.9l-9.9 0.4l-1.3 9.9zM379.2 612.5l1.4 -9.6l-7.1 -0.7l-9.6 -1.1l1.3 5.9l9.4 9.9zM374.6 616.9l1 1.1l5.3 7.6l10.6 -1.3l0.8 -7.5l-0.4 -0.7l-12.7 -3.6zM391.6 624.5l13.3 3.6l0.3 -0.4l0.8 -11.1l-1.6 -1.7l-12.1 1.9l-0.8 7.5zM391.9 616.1l1.3 -11.9l-0.5 0l-9.6 -1l-2.5 -0.3l-1.4 9.6zM480.6 643.1l12.7 3.8l0.9 -0.9l1.2 -12.1l-13.6 -0.4l-0.1 0.1l-1.2 9.4zM504.1 699.9l1.4 1.3l11.9 -1l0.5 -9.6l-11.6 -2.3l-1.5 1.5zM506.2 679.2l12.5 -0.9l0.5 -9.7l-12.8 -1.6l-0.4 0.4l-0.3 11.3zM506.3 646l1.2 10.5l11.4 -1.1l0.1 -0.1l0.5 -10l-0.3 -0.4l-12.2 0.3zM507 645.2l12.2 -0.3l0.1 -8.8l-11.6 -2l-1.3 1zM509 623.7l11.1 1.1l1.3 -1.6l0.8 -9.6l-1.3 -1.6l-12.8 0.9l-0.3 0.3l-0.5 8.4zM510.7 580.5l11.2 -2.3l0.2 -8.3l-11.7 -3l-0.7 0.6l-0.2 11.7zM506.3 688.3l11.6 2.3l1.1 -11.9l-0.3 -0.4l-12.5 0.9zM508.1 612.9l12.8 -0.9l1 -9.5l-13 -1.4zM510.6 590.6l11.3 1.3l0.9 -12.7l-0.9 -1l-11.2 2.3l-1.1 8.7zM517.9 712l12.1 -0.1l0.8 -10.3l-12.6 -0.5l-0.5 10.7zM519 655.3l12.9 1.2l1.1 -1.3l1 -8.4l-0.7 -1.1l-13.8 -0.4zM517.9 690.6l14.1 -0.8l-0.1 -8.9l-0.2 -0.2l-12.7 -2zM519.5 645.3l13.8 0.4l0.5 -10.5l-0.3 -0.3l-12.4 -1.1l-1.8 2.3l-0.1 8.8zM519 678.7l12.7 2l-0.4 -12.7l-0.4 -0.4l-11 0.4l-0.7 0.6l-0.5 9.7zM519.9 668l11 -0.4l1 -11.1l-12.9 -1.2l-0.1 0.1zM535 568.2l1.1 1.6l11.5 0.8l0.5 -0.5l-0.4 -12l-9 0.9l-2.5 -0.6zM520.1 624.8l1 9l12.4 1.1l-0.5 -10.3l-11.6 -1.4zM548.1 570.1l12.1 -0.4l0.1 -5.1l-2.7 0l-8.3 -6.7l-1.6 0.2zM522.8 579.2l11.7 1.7l0.4 -0.3l1.2 -10.8l-1.1 -1.6l-12.3 1.1l-0.6 0.6l-0.2 8.3zM531.9 680.9l12.7 -3l-0.1 -9.5l-13.2 -0.4l0.4 12.7zM530.3 723.9l14.5 -0.7l-0.4 -10.7l-13 1.3l-1.2 10zM530 711.9l1.4 1.9l13 -1.3l-0.6 -8.7l-13 -2.3l0 0.1zM521.4 623.2l11.6 1.4l2.2 -2.7l-1 -8.2l-12 -0.1zM532.2 690.1l12.1 1.5l1.9 -1.7l-0.3 -10.4l-1.3 -1.6l-12.7 3l0.1 8.9zM520.9 612l1.3 1.6l12 0.1l0.3 -0.4l-0.3 -11l-11.5 -0.8l-0.8 1zM522 591.9l0.7 9.6l11.5 0.8l1.1 -1.1l0 -9.8l-0.8 -1zM533.5 634.9l0.3 0.3l11.1 -1.5l2.2 -9.3l-11.9 -2.5l-2.2 2.7zM534 646.8l13.2 -0.2l-0.1 -10.2l-2.2 -2.7l-11.1 1.5l-0.5 10.5zM534.2 602.3l0.3 11l11.8 -1.2l-0.4 -9.8l-10.6 -1.1zM535.3 591.4l13 -0.6l0 -9.2l-0.5 -0.6l-12.9 -0.4l-0.4 0.3l0 9.5zM543.8 703.8l0.6 8.7l14.1 -0.1l0.4 -8.8l-1.6 -2.2l-12.3 0.6zM545 702l-0.7 -10.4l-12.1 -1.5l-1.4 11.4l13 2.3zM534.2 613.7l1 8.2l11.9 2.5l0.3 -0.2l0.8 -10.3l-1.9 -1.8l-11.8 1.2zM533 655.2l12.4 4.1l1.4 -1.4l0.5 -11.2l-0.1 -0.1l-13.2 0.2zM547.1 624.4l-2.2 9.3l2.2 2.7l13 -1.1l-0.4 -9.2l-0.1 -0.2l-12.2 -1.7zM535.3 591.4l0 9.8l10.6 1.1l1.8 -1.7l1.3 -8.8l-0.7 -1zM534.9 580.6l12.9 0.4l-0.2 -10.4l-11.5 -0.8zM544.5 668.4l14.2 0.8l0.8 -10.3l-12.7 -1l-1.4 1.4zM549 591.8l11.6 0.6l0.1 -0.2l0.4 -12l-0.3 -0.4l-12.5 1.8l0 9.2zM547.7 600.6l11.9 3.9l1.8 -1.9l-0.8 -10.2l-11.6 -0.6zM559.6 625.9l1.6 -11.2l-2.4 -2.8l-10.6 2l-0.8 10.3zM560.6 592.4l0.8 10.2l11.3 0.5l0.2 -0.4l-0.2 -11.3l-12 0.8zM573.5 715.2l0.8 -1l10.2 -7.7l3 -1.5l-2.4 -2.6l-12.2 -0.4l-1 11.2zM590.6 271.7l0 -9.4l-1.4 -1.4l-9.9 2.3l6.2 6.7l-0.1 7zM589.4 191.3l1.8 -2.2l-1.2 -13.7l-7.1 -0.1l-8.5 0l-1.8 -0.1l1 12.7l0.1 2.3zM601.8 293.2l0.6 -10.6l-17 0.2l0 10.2l0 1.4zM637.2 189.7l10.9 1.3l3.8 -4.3l-0.8 -0.7l-5.2 -2.1l-2.6 0.1l-5.1 0.9l-2.5 1.9l-0.8 0zM662.2 228.6l1.2 1.1l5.8 -5.1l6 -6.3l-13.3 1.8l-0.4 0.5zM602.7 364.1l0.6 -0.8l-0.4 -6.3l-0.5 -0.6l-13.4 -0.8l2.1 9.5zM602.4 356.4l0.5 0.6l10.2 -1.9l0.1 -0.1l-0.2 -6.8l-0.8 -0.9l-9.5 1.2zM593.4 339.7l0.2 7.2l8.7 1l0.7 -9.1l-0.3 -0.2l-9.2 1zM670.6 361.3l8.8 1.5l1.6 -1.5l-0.1 -7.7l-0.8 -0.8l-9.6 1.9zM679.4 346.4l0.7 6.4l0.8 0.8l8 -0.8l0.4 -8l-0.7 -0.8l-8.3 1.1zM681 361.3l9.9 1.8l-1 -9.5l-1 -0.8l-8 0.8zM689.9 353.6l14.2 -2.5l0.1 -2.1l-4.6 -4.6l-10.3 0.4l-0.4 8zM673.9 664.9l7.8 9.8l4.5 -0.9l3.5 1.7l0.5 -1.8l-7.7 -12.7zM686 243.6l10 -1l3.1 -3.7l-1.9 -1.3l-4.8 -3.2l-1.1 -0.7l-5.6 0.3zM696 242.6l1.1 9.8l10.5 -1.9l-0.6 -8.3l-5 -1.5l-2.9 -1.8zM703 328.8l-11.9 0.1l-2.6 3.3l0.7 0.8l5.2 6.2l8.9 -0.5l0.1 0zM698.6 376.8l1.1 -1.5l-1.2 -7.9l-1.5 -1.5l-0.3 0.4l-8.6 0.5l1.4 9l-0.1 0.6zM706.4 343l0.3 -0.4l-0.3 -4.1l-3.1 0.2l-8.9 0.5l4 4zM698.5 367.4l9.7 -0.3l0.1 -7.3l-6.7 -0.1l-4.6 6.2zM704.1 351.3l-0.3 5.5l-2.2 2.9l6.7 0.1l0.6 -0.8l-1.5 -7.9l-0.5 -0.3zM708.4 367.3l10 -1.8l-1.2 -6.4l-0.1 -0.1l-8.2 0l-0.6 0.8l-0.1 7.3zM706.4 343l0.5 7.8l0.5 0.3l8.3 -1.5l1 -7.3l-10 0.3zM708.9 359l8.2 0l-0.4 -8.3l-1 -1.1l-8.3 1.5zM709.8 375.6l7.8 -1l1.1 -8.7l-0.3 -0.4l-10 1.8l1.4 8.3zM717.2 359.1l8.9 -2.3l-0.4 -5.9l-9 -0.2l0.4 8.3zM727.2 375l0.5 7l0.4 0.4l9.7 -1.1l-0.3 -7.3l-0.1 -0.2l-10.1 1zM729 391.1l0.7 7.5l8.1 -0.6l0.8 -8.2l-0.2 -0.2l-8.7 0.5zM732.2 422.8l8.2 -1l-0.5 -6.9l-8.8 -1.1l-1 1.2zM727.7 365.8l8.1 0.3l0.5 -0.5l-0.4 -9.1l-8.3 1.8zM738.6 389.8l8.2 0.3l0.5 -0.6l-0.1 -8.2l-9.4 0l0.6 8.3zM731.1 413.8l8.8 1.1l0.4 -0.6l-0.1 -8.1l-0.6 -0.5l-9 1.4zM740.2 406.2l8.2 -0.9l0.4 -0.5l-0.5 -7.8l-0.1 -0.1l-9.4 2.2l0.8 6.6zM738.8 399.1l9.4 -2.2l-1.4 -6.8l-8.2 -0.3l-0.8 8.2zM747.7 380.7l-0.5 0.6l0.1 8.2l10.2 -1.3l-0.8 -8.6zM748.8 404.8l10.2 -0.1l-0.1 -0.9l-0.7 -7.4l-9.9 0.6zM711.3 231.4l-4.7 -4.8l-5.3 2.6l-9 4.4l-1 0.1l1.1 0.7l4.8 3.2l4.8 3.1l7.3 2.1l4.7 1.4zM714 244.2l2.6 0.7l5.6 1.5l3.7 -4.2l0.5 -12.1l-0.2 -0.1l-14.9 1.4zM726.4 230.1l13 0.2l3.1 -4l-1.8 -2.6l-4.5 -0.9l-6.1 1.8l-3.7 2.1l1.2 -4.5l1.1 -2.7l-3.4 0.6l0.9 9.9zM711.3 231.4l14.9 -1.4l-0.9 -9.9l-3.2 -3.2l-4.6 4.8l-5.8 4.3l-4.4 0.3l-0.7 0.3zM725.9 242.2l14 -0.5l0.3 -0.5l-0.8 -10.9l-13 -0.2zM725.3 220.1l3.4 -0.6l1.6 -3.9l7.9 -5.8l-1.5 -1.7l-5.1 1.7l-7.5 5l-2 2.1zM740.2 241.2l12.6 -0.7l1.1 -1.6l-0.5 -6.8l-0.4 0l-7.2 -1.2l-3.3 -4.6l-3.1 4zM753.9 238.9l13 0.7l2.1 -3.5l-0.9 -10.3l-5.6 3.5l-3.3 2.9l-5.8 -0.1zM839.9 609.2l9.9 3.7l0.9 -2.7l-4.6 -5.6l-6.9 2.9zM847.3 597.3l0.8 2.9l7.6 3.6l0.8 -0.9l2 -7.2l-4.1 -1l-7 2.4zM926.8 741l8.1 0.3l2.3 -10.3l-9.1 0.2zM939.2 747.7l8.9 4.2l3.9 -3.8l-3.3 -13.5l-0.5 -0.6l-9.1 12.6zM943.4 549.2l-0.3 0.6l-0.4 2.9l4.9 3.7l2.8 -5l0.7 -2.2zM876.3 428.7l2.3 -1.9l3.1 -6.7l-6.9 -4.5l-3 3.6l0.2 6.9zM872 426.1l-12 3l-0.2 0.4l3.1 7.4l0 0.1l3.8 0.6l9.6 -6.9l0.1 -0.4l-0.1 -1.6zM872.4 441.6l0.5 3.7l9 2l0.2 -0.8l-4.6 -7.4zM876.3 428.7l0.1 1.6l9.5 4.6l0.4 -5.5l-7.7 -2.6zM882.1 446.5l4.5 -5.4l-0.3 -3.9l-8.4 1.4l-0.4 0.5zM886.3 437.2l0.3 3.9l6.8 5.3l2 -2.6l-0.2 -6.8l-2.1 -1.6l-6.6 1.4zM881.9 420l7.9 5.5l1 -0.1l2.3 -3l-0.7 -6.5l-2.5 -2.6l-5.6 4zM886.5 436.8l6.6 -1.4l1 -5.5l-3.3 -4.5l-1 0.1l-3.5 3.9l-0.4 5.5zM895.4 443.8l7.4 -0.9l1.5 -2.4l-2.2 -4.7l-6.9 1.2zM895.6 404.3l0 -1l-11.1 -7.9l-0.3 0.3l-0.6 0.6l6.4 11.5zM890 407.8l-0.7 1.9l0.5 2l11.7 -1.5l1.4 -2.2l-0.2 -0.4l-7.1 -3.3zM895.6 403.3l0 1l7.1 3.3l1.8 -4.1l-0.3 -6.1l-1.9 -1.4l-5.5 2.5zM892.4 415.9l0.7 6.5l6 0.4l3.5 -2.8l-3 -4.7zM900 429.1l3 2l3.8 -3.4l0.6 -4.1l-2.1 -3.2l-2.7 -0.4l-3.5 2.8zM902.3 396l1.9 1.4l6.9 -1.4l0.4 -0.7l-0.8 -8.5l-6.3 1.1l-3.3 0.5zM904.3 440.5l-1.5 2.4l1.2 8.1l0.2 -0.1l5.2 -2.8l1.3 -4.2l0.7 -2.8zM903 433.3l9.8 2l0.9 -3.6l-6.9 -4l-3.8 3.4zM904.5 403.5l9.4 -1l-2.8 -6.5l-6.9 1.4zM902.9 408l3.9 2l7.6 -1.7l1.5 -1.8l0.1 -1.8l-2.1 -2.2l-9.4 1l-1.8 4.1zM905.3 420.4l2.1 3.2l9.3 -0.8l0 -4.5l-1.5 -1.8l-7.4 0.4zM916 404.7l4.8 -3.5l3.3 -5.8l0 -0.1l-1.1 -2l-5.6 6l-0.8 -4.9l-5.1 0.9l-0.4 0.7l2.8 6.5zM907.8 416.9l7.4 -0.4l-0.8 -8.2l-7.6 1.7zM981.2 262.4l8 -0.2l4.3 -5.8l-3.8 -7.4l-3.8 -1.4l-2.2 1.3l-4.7 10.5zM991.2 273.3l1 -0.1l0.6 -5.9l-3.6 -5.1l-8 0.2l-0.2 1.2zM1052.3 306.6l-0.5 -1.1l-3.1 -1l0.2 1.1l1.8 8.9zM1053.4 283.5l6.4 0.1l1.5 -3.8l3.5 -5l-5.5 -4.4l-4.9 1.9l-2.6 4.7l-1.1 0.3zM1063.6 302.8l-3.3 -12.6l-0.3 -0.3l-5.4 0.5l-0.7 4.2l0.9 -0.2l0.8 3l4.7 4.1l2.3 3.9zM1060 289.9l0.3 0.3l6.1 -1.8l-1.3 -1.6l-5.2 -2.3zM1063.6 302.8l-1 2.6l0.5 0.7l3.3 -3.6l3.6 -5l1.4 5l5.7 -4.2l6.3 -2.3l-3.8 -7.8l-1.2 -0.3l3.2 5.1l-3.3 2.3l-5.7 1l-1.7 -2.3zM1063.6 302.8l7.3 -8.8l-1.3 -1.7l-3.2 -3.9l-6.1 1.8zM1044.3 243.2l2.9 -4.1l-0.5 -1.6l-16.6 0.8l-1.3 2.1l-0.3 9.5zM1046.7 237.5l-1.5 -4.8l-1.2 -3.8l-10 -2.5l0.8 4.4l-4.7 7.5zM1044.3 243.2l0.2 12.3l8 -0.7l-0.5 -0.6l-3.4 -10.7l-1.4 -4.4zM1044 228.9l-2.2 -6.9l-3.4 -10.8l-4.9 2.7l-0.5 6.5l1 6zM1047.8 228.7l6.2 -16.6l-8.9 -10l-1.4 2.4l-1.1 2.9l0.1 4l-4.3 -0.2l3.4 10.8l2.7 8.6zM1054 212.1l10.5 -0.7l-3 -20.7l-13.5 -0.5l0.4 1l-0.9 6.9l-2.4 4zM1061.1 171.2l0 -18l-5.8 -4.1l-3.8 11.2l-4 11.2l0.8 5.4zM1057 231.3l-9.2 -2.6l-3.3 1.9l0.7 2.1l3.4 10.8l3.4 10.7l8.1 10.7l2.6 -8.2l1.5 -8.5l0.8 -1.1zM1057 231.3l8 15.8l2.6 -3.8l2.7 0.1l-4.2 -15zM1066.1 228.4l8.1 -7.6l-3.4 -7.9l-6.3 -1.5l-10.5 0.7l-6.2 16.6l9.2 2.6zM1075.8 221.9l-1.6 -1.1l-8.1 7.6l4.2 15l1.2 0.1l4.3 -5.2l6.5 -7.3l0.3 -1.5zM1074.2 220.8l1.6 1.1l20.2 -11.4l-13.3 -13.4l-0.4 -0.1l-11.5 15.9zM1096 210.5l-20.2 11.4l6.8 7.6l1.6 -8.4l5.1 1.1l5.1 1.2l0.7 -4.2l6.1 -1.9l2.3 -2.9zM1084.5 185.5l-2.9 10l0.7 1.5l0.4 0.1l18 -6.1l-1.6 -5.3l-6.8 -0.6l-1.5 -6l-0.1 -0.3zM1082.7 197.1l13.3 13.4l7.5 3.9l1.8 -2.4l5.3 -4.3l3.2 -5.1l-1.3 -2.3l-6.6 -4.6l-4.6 -2.7l-0.6 -2z"/>
<path fill="#e1eaea" d="M109.8 153.8l2.8 -16.1l-8 -10.7l-0.4 2.1l1 16.3l-0.1 9.3l-0.1 0.7zM112.8 176.5l2.7 1.9l4.6 3.5l-0.1 5.8l13.9 2l4.3 -7.5l-1.6 -3.1l-16.3 -8.3zM146.6 136.7l8.7 -8.9l-5.4 -14.3l-6.8 -2l2.5 7.3l-2.6 5.9l-0.6 5.1l1.2 6.6zM129.1 154.7l1.2 0.6l2.6 -0.5l1.7 -0.7l2.1 -7.4l1.3 -7.5l-0.4 -3.4l-8.1 10.6zM150.2 151.5l-3.2 -14.3l-0.4 -0.5l-3 -0.3l0.5 3.2l-4.1 8.1l-3.2 6.4zM140.9 164.5l5.5 -0.2l3.8 -12.8l-13.4 2.6l-0.9 1.7l-4.2 0.7zM165.6 154.6l3.6 -8.2l-0.2 -0.2l-22 -9l3.2 14.3l14.5 3.8zM152.6 182.6l2.3 4l18.9 -1.9l2.6 -7.9l-17.5 -7.6l-1.7 0.9zM155.3 127.8l7.9 -0.2l5 -9l-0.8 -0.3l-8.2 -2.2l-8.1 -2.3l-1.2 -0.3zM147 137.2l22 9l-3.8 -16.1l-2 -2.5l-7.9 0.2l-8.7 8.9zM169.2 146.4l9.8 -2.2l1.9 -0.9l3.5 -10.9l-0.4 -2.8l-18.8 0.5l3.8 16.1zM155.7 202.6l3.2 0.2l4.3 -0.2l12.4 -11.6l-1.8 -6.3l-18.9 1.9zM180.6 165.7l1.3 -1.1l-2.9 -20.4l-9.8 2.2l-3.6 8.2zM165.2 130.1l18.8 -0.5l1.2 -6.5l-1.6 -0.4l-8.1 -2.2l-7.3 -1.9l-5 9zM179 144.2l2.9 20.4l12.1 -5.1l1.4 -7.1l-14.5 -9.1zM203.4 186.3l-3.4 8.2l17 6.6l6.3 -2l2.2 -9.9l1.1 -4.6zM81.7 243.7l-4.2 -6.7l-3 5.1l-7.6 11.4l-0.1 14.8zM89.3 252.4l19.8 -3.9l5.4 -4.3l1.3 -1.9l-2.5 -7.8l-28.5 -11l-1.5 3.8l-5.8 9.7l4.2 6.7zM89.3 252.4l0 0.6l13 17.8l9.4 -4l-2.6 -18.3zM99.8 211.4l5.6 -9.1l-2.2 -14.4l-4 -2.1l-1.7 5.4l-4.4 12.1l-4.2 9.5l-2 5.2zM98 285.5l4.3 1.2l8.8 2.5l4.4 1.2l6.6 -10.5l-2.2 -10.7l-8.2 -2.4l-9.4 4zM111.7 266.8l8.2 2.4l3.9 -4l-9.3 -21l-5.4 4.3zM114.5 244.2l9.3 21l13.9 -5.2l-1 -15.8l-20.9 -1.9zM167.2 227.1l17.1 -1.9l0.9 -8.5l-8.8 -14.8l-0.6 -0.1l-5.7 0.4l-5.6 0.3l-4.9 0.2zM161.4 253.1l-6.1 13.8l20.8 8.7l4.8 -3.3l2.7 -10.2l-7.6 -12.9l-6 -1.6zM143.1 233.1l20.2 0.4l3.9 -6.4l-7.6 -24.4l-0.7 0.1l-6 -0.4l-12.3 20.9zM208.1 267.4l0.7 -2.9l2.2 -7.5l-1.6 -9.6l7.3 -7.4l-12.3 2.4l-6.6 15.2zM56.2 336.6l17.8 18.1l12.4 -2.8l-0.1 -1.7l-5.3 -15.2l-20 -0.1zM61 334.9l20 0.1l8.7 -12.7l-3.3 -7.1l-11.6 -6.1l-2.4 0.3zM72.4 309.4l2.4 -0.3l3.7 -16.4l-14.3 -6.4l-3.5 13.8l-2.9 4.3zM74.8 309.1l11.6 6.1l11 -17.2l-4.6 -14l-1 -0.3l-13.3 9zM68.1 360.6l5.8 11.6l13.8 -7.8l1.2 -9.4l-2.5 -3.1l-12.4 2.8zM94.3 456.2l-0.2 -0.8l-19.9 -13.8l-0.1 0l4.4 9.3l4.4 10.2zM74.2 441.6l19.9 13.8l3.4 -22.2l-11.9 -1.6zM78.5 292.7l13.3 -9l-7.3 -2.2l-8.8 -2.6l-8.9 -2.7l-1.7 6.3l-0.9 3.8zM85.6 431.6l11.9 1.6l3.8 -2l-2.7 -25.3l-3.3 -1.4l-18.6 9.2zM97.4 298l11 3.9l6.7 -11.6l-4 -1.1l-8.8 -2.5l-8.9 -2.6l-0.6 -0.1zM113.7 359.7l17.6 -14.3l1.9 -7.4l-26.8 -2.5l-7.7 19.5zM94.6 380.8l23.2 16.2l-11.5 -22.3l-10.5 3.5zM88.2 485.9l12.3 4.2l8.4 8.7l8.8 -7.7l-8.2 -15.1l-14 2.1zM113.5 469.7l15 -3.7l1 -6.4l-2.4 -11.4l-7 -3.8l-15.8 12.9zM117 401.7l5.4 14.9l4.2 3.5l18.3 2.6l6.4 -6.3l-5.7 -8.8l-7.2 -11.4l-4.2 -6.8l-15.1 9.3zM112 306.5l-0.6 7.8l21.9 23.4l0.6 -2.2l3.2 -12.6l3.3 -12.5l3.2 -12.5l-1.9 -0.5zM225.2 429l-17.6 17.1l20 11.6l1.5 -7.8l2.5 -12.8l1.3 -6.9zM221.1 297.9l16.8 -12.6l1.4 -5.9l-1.6 -2.7l-9.2 -1.3l-16.3 9.7zM221.8 255.8l1.7 -1.8l0.5 -13.3l-3.1 -7.6l-3 5.7l-8.5 8.6l1.5 8.6zM220.2 264.5l-13.7 10.2l-0.3 1.4l-1.2 5.3l7.2 3.7l16.3 -9.7zM228.5 275.4l9.2 1.3l2.4 -11.9l-2.1 -4.2l-14.5 -6.6l-1.7 1.8l-1.6 8.7zM220.5 315.9l7.3 1.6l9.1 1.8l9 1.8l1.7 0.3l0.4 -17.5l-12.2 0.6l-14.2 7.8zM239.1 195.6l1.3 -7.8l-2 -3.9l-11 -2.9l-1.9 8.2l-0.5 2.2zM235.8 304.5l12.2 -0.6l3.6 -4.3l-10.5 -8zM247.6 321.4l4.8 1l8.1 -25.1l-8.9 2.3l-3.6 4.3zM242.5 225.5l5.4 6.6l28.3 4.1l-0.3 -1.2l-2.5 -5.7l-7.8 2.4l-2.1 -8.3l1 -2.1l-13.1 -4.7l-6.7 4.6zM240.9 175.7l11.2 1.9l1 -4.6l-4.5 -8.2l1.5 -7l-11.2 10.6zM251.4 216.6l13.1 4.7l2.3 -5.1l3.2 -9.3l-15.9 -2.1zM262.2 296.5l5.9 21.6l16.9 -14.8l0.2 -0.6l-18.2 -9.2l-4.4 2.4zM276.8 274.7l19.8 1.9l6.3 -9.3l0 -1.5l-6.1 1.7l-4.9 -1.5l-4.8 -1.5l-6.5 -10.3l-1.7 -5.6l-1 -4.5l-7.9 11.3zM277.2 221.5l-8.9 -9.7l-1.5 4.4l-3.3 7.2l2.1 8.3l7.8 -2.4l1.6 3.7zM266.6 160l19.5 -9.1l2.2 -4.5l-6.3 -1.2l-8.3 -1.7l-8.2 -1.7l-5.8 -1.2zM261.2 191.3l1.1 1.9l4.3 10l3.5 0.6l4 -1.3l10.7 -15.1l-8.6 -10.7l-1.7 -0.2zM261.6 165.6l12.9 10.9l1.7 0.2l10.7 -12.6l-0.8 -13.2l-19.5 9.1zM270.1 203.8l0.9 0.2l-2.7 7.8l8.9 9.7l19.7 2.3l2.3 -12l-0.8 -1.1l-24.3 -8.2zM275 233l0.9 2l0.6 2.7l19.6 -7.3l0.1 -0.1l1.2 -4.8l-0.5 -1.7l-19.7 -2.3zM296.2 230.3l8.3 11.1l15 -1.6l-2.2 -10.2l-19.9 -4.1zM307.5 171.7l12.1 7.3l7.7 -5l3.5 -20.1l-7.4 -1.2l-8.3 -1.4l-5.4 -1zM316.8 207.4l7.2 8.4l16.3 -0.7l0.7 -1.3l2.3 -18.5l-22.7 0.8zM323.1 256.2l7.6 1.2l9 1.4l9 1.3l4.7 0.7l-0.2 -4.5l-15.3 -14.9l-11.8 6.3zM317.3 229.6l2.2 10.2l6.6 7.9l11.8 -6.3l2 -5.1l-18 -12.2zM348.4 182.9l6.5 -2.2l3.7 -22.4l-2 -0.3l-8.3 -1.3l-6.8 -1zM321.9 224.1l18 12.2l3.1 -3.9l-0.3 -10.2l-2.4 -7.1l-16.3 0.7zM337.9 241.4l15.3 14.9l7.3 -9.2l-6.6 -13.5l-10.9 -1.2l-3.1 3.9zM365.1 220.7l-22.4 1.5l0.3 10.2l10.9 1.2l13.5 -8l0.1 -3zM352.2 280.8l13.6 2.8l4.4 -1.2l3.8 -5.1l3.4 -13.3l-1.8 -0.2l-9 -1.2l-8.9 -1.2l-7.2 -1zM361.8 347l27.3 5.7l1.9 -22.5l-4.7 -8l-22.5 3.5l-6.3 8.5zM251.1 438.4l-16.7 -16.1l-0.4 2.1l-2.4 12.7l-2.5 12.8l10 1.8l5.3 1zM273.6 439.8l-18.3 -3.7l-4.2 2.3l-6.7 14.3l4.6 0.9l10 1.8l7.7 1.3zM258.5 418.2l-9.4 -16.4l-9.9 -4.3l-0.3 1.4l-2.4 12.8l-2.1 10.6l16.7 16.1l4.2 -2.3zM255.3 436.1l18.3 3.7l5.5 -2.4l3 -13.1l-23.6 -6.1zM249.1 401.8l26.3 -3.3l6.2 -12.2l-6.2 -8.3l-10.1 -4.6l-26.1 23.8l0 0.3zM282.3 409.3l-6.9 -10.8l-26.3 3.3l9.4 16.4l23.6 6.1l0.4 -0.6zM295.5 453.3l-16.4 -15.9l-5.5 2.4l-6.9 16.9l2.3 0.4l9.9 1.7l10 1.6l7.5 1.2zM266.8 350.2l6.3 -2.5l0.3 -5.9l-6 -16.6l-3.3 -0.6l-9.1 -1.7l-1.4 -0.3l-2.5 12.7l-0.5 2.7zM275.4 378l6.2 8.3l15.6 -3.1l0.3 -0.4l3.4 -8.6l-19 -8.2l-1 0.9zM297.5 382.8l27.2 9l4.1 -16.5l-25.3 -5.2l-2.6 4.1zM296.9 423.6l7.4 8.8l14.2 -3l2.4 -6.4l-5.1 -13.5l-5.1 -0.5zM328.8 375.3l-4.1 16.5l1.5 7.7l11.9 3.1l0.1 -0.4l1.8 -12.9l1.7 -12.8l1.8 -12.8l-0.4 -0.1zM333.1 438.8l-0.2 1.9l-1.8 12.9l-0.2 1.1l22.2 1.9l2 -15.8l-18.9 -3.6zM366.6 398.3l15.4 -5.9l-0.6 -5.7l-10.3 -9.2l-8.8 13.9zM382.8 385l16.3 -13.8l0.2 -0.7l-8.1 -0.9l-8.6 -1zM403.5 464.9l-9.5 -3.5l-1.6 0.8l-2 11.6l8.9 1l10.1 1l0.6 0zM397.2 416.5l15.7 -1.8l-0.2 -11.3l-5.8 -4l-6.7 2.9l-3.5 10.5zM400.7 381.4l6.2 6.9l14.3 -8.3l-1.6 -7.4l-9.3 -0.9l-9.5 -1l-1.5 -0.2l-0.2 0.7zM410 475.8l9.5 0.9l5.1 0.5l-4.9 -18.2l-6 -3.4l-10.2 9.3zM396.5 419.2l13.8 11.5l1.4 -1.3l6.2 -11.6l-5 -3.1l-15.7 1.8zM413.7 455.6l6 3.4l2.1 -1.8l6.9 -11.5l-4.1 -4.9l-14.2 -0.5l-2.7 3.3zM426.4 415.8l8.9 2.1l5 -5.3l0 -3.7l-10.1 -17.9l-0.6 -0.1l-7.8 13.3zM341.5 504.9l2 -2.9l1.2 -4.3l-17.7 -14.8l-1 7.8l-1.7 12.1l-1.7 12.1l-0.1 0.7zM349.2 493.9l21.3 -2.1l4.2 -4.3l1.7 -15.2l-7.3 -0.8l-10 -1.2l-10.1 -1.3l-0.1 0zM344.7 497.7l4.5 -3.8l-0.3 -24.9l-9.9 -1.3l-9.7 -1.3l-1.6 12.1l-0.7 4.4zM343.5 502l27.9 16.7l0.7 -0.4l-1.6 -26.5l-21.3 2.1l-4.5 3.8zM372.1 518.3l12.2 1.3l13.3 -9.7l-7.8 -14.4l-15.1 -8l-4.2 4.3zM374.7 487.5l15.1 8l20.9 -19.6l-1.3 -0.1l-10.1 -1l-10.1 -1.1l-10 -1.1l-2.8 -0.3zM574 324.6l-0.6 0.6l0.1 10.8l4.6 2.4l7 3.6l0.1 -7.7l0 -7.8l-0.3 -1.1zM569.7 383.7l0.9 1.3l12 -0.5l0.5 -0.5l-0.4 -8.1l-0.3 -0.3l-11.3 -0.8l-0.8 0.8zM593.7 394.9l-1.8 11.9l5.8 0l9.3 -0.1l-4.7 -6.4l-4.3 -8.6l-0.2 -1.5zM582.7 375.9l10.8 -2.7l-1.8 -5.3l-0.5 -2.4l-8.8 -0.9l-0.7 0.8l0.7 10.2zM582.7 354.9l-0.3 9.7l8.8 0.9l-2.3 -10.5l-1.4 -4.7zM582.7 375.9l0.4 8.1l14.1 2.8l-1.1 -5.9l-2.6 -7.7zM594.4 465.3l10.7 0l-1 -9.8l-9.7 0.3l-0.2 0.2zM594.8 416.4l10.6 2.6l0.3 -12.3l-8 0.1l-3.1 0zM594.4 455.8l9.7 -0.3l0.7 -0.9l0.9 -7.6l-0.6 -0.7l-10.9 -0.3l-0.6 0.7zM594.2 446l10.9 0.3l-0.7 -9.2l-9.8 -0.5l-0.1 0.1zM605.1 474.1l-10.3 0.6l-0.1 9.9l6.7 0l5.1 -0.1zM593.6 473.4l1.2 1.3l10.3 -0.6l0.8 -1.2l-0.8 -7.5l0 -0.1l-10.7 0l-0.7 0.9zM593.8 417.8l1 9.3l10.1 -1.1l0.5 -7l-10.6 -2.6zM605.4 419l-0.5 7l0.4 0.6l14.6 1.8l-4.7 -6.2l0 -4.6zM605.4 419l9.8 -1.4l-0.1 -4.5l-3.9 -2.5l-4.2 -3.9l-1.3 0zM582 541.1l12.4 -0.2l-1 -9.8l-10.5 -0.8l-0.8 0.9l-0.4 9.5zM594.7 509.5l0.1 -0.2l0.2 -9.6l-1.4 -1.4l-10.7 0.6l0.1 9.7zM583.5 550.3l11.7 -0.2l0.3 -0.4l-0.9 -8.6l-0.2 -0.2l-12.4 0.2zM522.7 569.3l12.3 -1.1l1.2 -9.8l-3.8 -0.9l-6.2 -1.5l-2.8 -1.5zM544.6 677.9l1.3 1.6l12.2 -0.7l0.9 -9.3l-0.3 -0.3l-14.2 -0.8zM545 702l12.3 -0.6l0.5 -10.5l-11.6 -1l-1.9 1.7zM546.3 612.1l1.9 1.8l10.6 -2l0.8 -7.4l-11.9 -3.9l-1.8 1.7zM560.2 569.7l1 1.4l12.2 -1.3l2 -2l-3 0.9l-4.2 -4l-7.9 -0.1zM557.8 690.9l0.6 -0.5l0.9 -9.9l-1.2 -1.7l-12.2 0.7l0.3 10.4zM560 646l1.2 -9.2l-1.1 -1.5l-13 1.1l0.1 10.2l0.1 0.1l11.6 0.4zM558.9 712.9l13 0.3l1 -11.2l-0.9 -1.1l-13.1 2.7l-0.4 8.8zM559 669.5l12.5 0.8l1.3 -1.5l-0.8 -10.6l-12.1 0.3l-0.4 0.4l-0.8 10.3zM559.5 658.9l0.4 -0.4l-1 -11.4l-11.6 -0.4l-0.5 11.2zM558.8 611.9l2.4 2.8l11.2 -0.1l0.9 -0.8l-0.6 -10.7l-11.3 -0.5l-1.8 1.9zM598.6 691.1l-12.8 0.2l-0.7 11.1l2.4 2.6l7.2 -3.6l7.8 -5zM570.6 692.2l2 -11.5l-0.5 -0.5l-12.8 0.3l-0.9 9.9zM559.6 625.9l0.1 0.2l12.8 -0.8l-0.1 -10.7l-11.2 0.1zM571.3 693.1l13.7 -2.8l-1.1 -9.1l-11.3 -0.5l-2 11.5zM560.7 592.2l12 -0.8l1 -1.1l-0.1 -7.5l-0.6 -0.7l-11.9 -1.9zM585.9 593l0.6 -0.6l-0.3 -11.6l-0.8 -0.9l-11.8 2.9l0.1 7.5zM602.5 696.4l10.2 -6.6l4.4 -4.3l-4.6 -5.9l-13.2 1.4l-0.6 0.7l-0.1 9.4zM598.8 591.3l-0.9 -9.6l-11.7 -0.9l0.3 11.6zM588.4 253.3l1.6 -1.8l0.1 -9.3l-1.2 -1.3l-6.6 0.6l0.6 2.7l0.6 8.1zM589.2 231.1l1.3 -9.1l-1.2 -1.3l-11.3 -0.1l1 5.6l1 4.7zM588.9 240.9l1.1 -8.5l-0.8 -1.3l-9.2 -0.2l0.9 4.3l1.4 6.3zM589.3 220.7l0.2 -9.2l-13.3 -0.9l0.5 2.9l1.3 7.1zM589.5 211.5l1.1 -1.3l-1.3 -8.7l-14.8 -0.9l0 0.1l1.7 9.9zM589.3 201.5l1.3 8.7l10.2 0.6l0.9 -10.5l-1 -1l-10.2 1zM603.2 303.6l-17.9 0.4l0 0.6l-0.1 11.6l6.3 0l9.1 0l1.3 0zM590.5 200.3l10.2 -1l0.3 -8.2l-9.8 -2l-1.8 2.2zM589.2 260.9l1.4 1.4l10.9 -1.5l0.1 -8.9l-11.6 -0.4l-1.6 1.8zM591.2 189.1l9.8 2l1.1 -1.3l-0.3 -14.5l-2.1 0.1l-8.4 0l-1.3 0zM601.7 200.3l11.2 0.4l1.2 -8.7l-1.5 -1.7l-10.5 -0.5l-1.1 1.3l-0.3 8.2zM585.4 276.9l0 4.5l0 1.4l17 -0.2l0.3 -0.4l-0.9 -9.4l-11.2 -1.1zM590.6 262.3l0 9.4l11.2 1.1l0.3 -0.5l1 -9.7l-1.6 -1.8zM590 251.5l11.6 0.4l0.6 -0.8l0 -9l-12.1 0.1zM602.1 189.8l10.5 0.5l0.4 -23.1l-1.6 -1.1l-3.4 -0.4l0.1 9.6l-6.3 0zM602.2 242.1l0 9l12.4 1.4l0.7 -1.1l-1.4 -9l-1.3 -1.4l-9.7 0.2zM613 200.9l12.6 -0.1l0.2 -0.1l-0.7 -11.1l-11 2.4l-1.2 8.7zM625.8 200.7l10.7 -0.4l0.5 -0.7l0.2 -9.9l-2.3 -2.9l-3.2 0.1l-1.2 -2.8l-1.2 0l-4.2 5.5zM649.3 200.7l-0.5 8.9l0.4 0.4l12.2 -0.7l-0.4 -10.5l-11.3 1.3zM649 230.3l1.6 1.9l11.6 -3.6l-0.7 -8l-11.5 -1.8l-1.3 1.6zM649.7 200.1l11.3 -1.3l3.8 -4.3l-2.2 -1.5l-4.8 0.7l-0.5 -3.3l-3.5 -2.2l-1.9 -1.5l-3.8 4.3zM685.6 208l6.2 -3.8l11.8 -6.1l2.5 -1.2l-6.9 0.5l-7 -2.1l-7.2 0.4zM661.5 220.6l0.4 -0.5l0.3 -10l-0.8 -0.8l-12.2 0.7l0.8 8.8zM661 198.8l0.4 10.5l0.8 0.8l11.5 -1.2l-1.3 -12.1l-4.4 -0.2l-3.2 -2.1zM673.7 208.9l5.1 5.3l3.7 -4.3l3.1 -1.9l-0.6 -12.3l-0.6 0l-2.8 -2.4l-6.7 3.7l-2.5 -0.2zM592.5 322.2l0.1 -6l-1.1 0l-6.3 0l-2.7 0l1.6 6.2zM593.6 346.9l-0.2 -7.2l-8.3 -0.3l0 2.6l3.2 11zM592.8 330.6l0.3 -0.2l0.3 -7.2l-0.9 -1l-8.4 0.2l1.1 4.1l0 4.4zM601.7 379.1l0.3 -5.7l-9.1 -1.9l3.1 9.1zM593.4 339.7l0.1 -0.1l-0.7 -9l-7.6 0.3l0 3.4l-0.1 5.1zM593.4 323.2l9.3 -1.4l-0.4 -5.6l-1.7 0l-8 0l-0.1 6zM602 373.4l0.7 -0.8l0 -8.5l-11.6 1l0.6 2.8l1.2 3.6zM602.7 372.6l10.1 0l0.3 -0.4l-0.6 -7.3l-9.2 -1.6l-0.6 0.8zM612.5 364.9l1.4 -1.5l-0.8 -8.3l-10.2 1.9l0.4 6.3zM603 331.1l9.4 -0.3l0.3 -8.2l-0.3 -0.4l-9.3 0zM612.6 331l9.2 0l-0.1 -8l-9 -0.4l-0.3 8.2zM613.1 372.2l9 0l0.4 -0.5l0.5 -7.2l-0.9 -1l-8.2 -0.1l-1.4 1.5zM631.2 338.5l0.4 0.4l9.2 -0.3l0.1 -0.3l0 -7l-0.6 -0.6l-8.7 -0.3zM622.5 371.7l10 0.3l-1.1 -8.5l-8.4 1zM630.5 380.9l1.9 10.2l0.4 0l8.3 -0.3l0.5 -9.8l-10.1 -1zM650.2 355.6l0.9 -1l-0.7 -8.1l-9.1 0.9l0.7 7.6zM650.8 363.4l0.7 0.7l9 -1.7l-0.6 -7.8l-8.8 0l-0.9 1zM650.4 346.5l0.7 8.1l8.8 0l0.5 -0.6l-0.7 -7.7l-0.5 -0.6l-8.4 0.3zM661.6 372.1l0.4 0.5l9 -1.1l-1.3 -9.1l-8.2 0.8zM669.5 353.6l1 1.1l9.6 -1.9l-0.7 -6.4l-9.7 -1.1l-0.1 0.2zM669.7 362.4l1.3 9.1l0.1 0l8.4 -1.9l-0.1 -6.8l-8.8 -1.5zM679.4 346.4l0.9 -1.3l-1.5 -8.1l-0.1 -0.1l-9 2l0 6.4zM679.5 369.6l1.3 1.2l7.8 -0.8l-0.5 -3.2l5.9 -0.4l-3.1 -3.3l-9.9 -1.8l-1.6 1.5zM681.1 378.9l7.9 -0.3l0.5 -2.8l-0.9 -5.8l-7.8 0.8l0.1 7.9zM688.4 336.8l0.2 7.2l0.7 0.8l10.3 -0.4l-5.2 -5.2l-4.1 -4.9zM689.9 353.6l1 9.5l3.1 3.3l2.7 -0.1l7.1 -9.5l0.3 -5.7zM677.5 458.7l1 6.6l9 1.5l0.2 -0.2l0.4 -9.1l-10.1 0.4zM699.1 529.1l1 7.8l10 1.1l2.3 -5.2l1.4 -1.2l-3.6 -3.5l-10.7 0.4zM709.4 517.8l-0.5 0.5l1.3 9.8l3.6 3.5l3.2 -2.9l2.6 -11.2zM648.4 661.1l0.3 9.7l0.6 -0.1l6.7 0.3l1 0.3l1.6 -14l-2.2 -0.7zM658.5 591.3l1.6 2.2l7.3 3.2l5.3 -7.6l0.1 -2.5l-6.6 0.3l-8.7 0.3zM671.8 665.8l-14.5 5.6l12.2 3l0.9 0.1zM664.7 654.8l18 -2.8l0.5 -3.9l-0.9 -2.5l-17.2 6.8zM693.1 657.5l3.4 2.4l9.6 -4.3l0.6 -1.5l-2.6 -3.1l-7.2 -4.7l-0.2 0l-0.8 0.6zM705.6 677.7l5.9 3.2l6.7 -7.9l-2.4 -5l-6 -1.7l-4.2 3.3zM715.9 644l-0.5 3.8l0.9 0.8l14 5.3l4.1 -1.8l-4.9 -7.7l1.6 -9.2l-8.8 0.6zM712.6 686.6l10.1 -1.4l5.3 -4.7l0.8 -0.3l-1.9 -3.4l-8.7 -3.8l-6.7 7.9zM739.2 681.3l2.8 6l5.5 -1.7l2 -4l-4.8 -3.5l-1.4 -1.6zM665 254.1l0.3 -0.5l-1.2 -8.9l-4.6 -4.3l0 0.9l0.3 7.3l-4.7 5.8zM665 254.1l0.5 8.7l0.2 0.3l10.5 -0.7l-0.4 -8.9l-0.7 -0.6l-9.8 0.7zM665.3 253.6l9.8 -0.7l-0.6 -9.9l-10.4 1.7zM674.6 233.7l9.4 -0.2l2.1 -5.9l-1.9 -2.7l-4.3 2.5l-7.6 3.8zM691.1 328.9l0.5 -8.4l-2 -2.3l-6.6 1.4l1.1 7.2l4.4 5.4zM674.8 242.7l10.8 1.5l0.4 -0.6l-0.3 -9.6l-1.9 0.1l0.2 -0.6l-9.4 0.2zM686.1 271.9l1.5 -1.4l-0.3 -8.1l-1.1 -0.9l-9.5 1.3l0.5 7.7zM688.4 289.8l11.5 0.6l0 -0.1l-0.1 -9.2l-2.2 -1.9l-9.3 2.6l-0.1 7.7zM699.9 290.4l0.6 7l0.3 0.4l11.5 0.4l0.6 -0.6l-2.1 -8.7l-0.1 -0.1l-10.8 1.5zM713.6 327.6l-10.2 0.6l-0.4 0.6l0.4 9.9l8.8 -0.6l3.2 -0.2zM703.4 328.2l10.2 -0.6l0.2 -0.2l-0.9 -9.9l-0.1 -0.1l-10.6 1.8zM709.5 260.5l10.4 -1l-0.6 -9.1l-11.4 0.4l0.8 8.9zM690.9 392.4l9.9 0.8l0.9 -1.2l-0.8 -7.7l-1.7 -1.3l-11.9 4.5l-0.1 0l-0.2 0.4zM706.9 350.8l-0.5 -7.8l-8 0.2l5.8 5.8l-0.1 2.3zM701.7 392l8.3 -1.1l0.2 -7.3l-0.9 -1.1l-8.4 1.8zM701.5 416.1l0.4 0.5l10.6 -1.5l0.1 0l-1.7 -6.8l-8.8 0l-0.5 0.9zM706.7 342.6l10 -0.3l3.8 -4.7l-8.3 0.5l-5.8 0.4zM698.5 367.4l1.2 7.9l10.1 0.3l-1.4 -8.3l-0.2 -0.2zM710.2 383.6l9.2 0.8l0.2 -0.3l-2 -9.5l-7.8 1l-0.5 6.9zM711.8 400.5l8.2 -1.9l-0.3 -7.1l-0.2 -0.2l-8.5 0.6l-0.2 7.7zM710.9 408.3l1.7 6.8l8.2 -0.9l0.6 -6.6l-0.1 -0.1l-9 -1.2zM718.7 365.9l8.5 0.4l0.5 -0.5l-0.1 -7.5l-1.5 -1.5l-8.9 2.3l1.2 6.4zM719.4 384.4l0.1 6.9l0.2 0.2l9.3 -0.4l0.7 -1l-1.6 -7.7l-0.4 -0.4l-8.1 2.1zM717.6 374.6l9.6 0.4l0.1 -0.2l-0.1 -8.5l-8.5 -0.4l-1.1 8.7zM726.4 349.9l8.9 -0.7l0.2 -0.3l-0.7 -7l-5.2 -5l-5.8 0.4zM725.7 350.9l0.4 5.9l1.5 1.5l8.3 -1.8l0.3 -0.4l-0.9 -6.9l-8.9 0.7zM727.3 374.8l10.1 -1l-1.6 -7.7l-8.1 -0.3l-0.5 0.5zM729.5 398.8l1 8.2l0.1 0.1l9 -1.4l-0.8 -6.6l-1 -1.1l-8.1 0.6zM729.7 390.1l8.7 -0.5l-0.6 -8.3l-9.7 1.1zM737.8 381.3l9.4 0l0.5 -0.6l-2.1 -8.1l-8.1 1.4zM735.8 366.1l1.6 7.7l0.1 0.2l8.1 -1.4l0.1 -0.2l-0.1 -8l-0.2 -0.3l-9.1 1.5zM734.8 341.9l8.6 -2.2l-0.5 -3.9l-4.1 0.4l-8.9 0.7l-0.3 0zM735.5 348.9l9.1 -0.8l-0.3 -7.7l-0.9 -0.7l-8.6 2.2zM745.6 372.6l2.1 8.1l9 -1.1l0 -0.7l-0.7 -7.1l-10.3 0.6zM747.3 389.5l-0.5 0.6l1.4 6.8l0.1 0.1l9.9 -0.6l-0.4 -5.1l-0.3 -3.1zM748.4 405.3l1.2 8.1l0.5 0.5l9.4 -3.2l-0.5 -6l-10.2 0.1zM798.6 259.8l0.4 -0.5l-1.4 -6.5l-7.9 -0.8l2.7 4.5l-5.2 1.9l-1.1 3.7zM792.3 284.5l9.7 0l0.2 -0.4l-0.6 -7.7l-2.4 -2l-7.6 2.3l0.1 7.2zM799 259.3l8.1 -0.1l0.9 -1.1l-0.2 -7.1l-7.3 -2.7l-2.9 4.5zM801.6 276.4l8 -2.3l-0.6 -7l-9.5 1.2l-0.3 6.1zM808 258.1l11.6 -0.6l-1.1 -3.7l-6 -1l-4.7 -1.8zM802.2 284.1l9.5 -1.1l-1.1 -8l-1 -0.9l-8 2.3zM809.2 266.8l12.8 -2.2l-1.3 -3.3l-1.1 -3.8l-11.6 0.6l-0.9 1.1zM809.6 274.1l1 0.9l13.5 -2.2l0.3 -1.6l-2.4 -6.6l-12.8 2.2l-0.2 0.3zM766.9 239.6l-13 -0.7l-1.1 1.6l1.6 9.6l1.9 -2.1l5.7 3.3l4.7 -6.9l0.8 -0.1zM769 236.1l-2.1 3.5l0.6 4.7l6.3 -0.7l8.6 -4.3l1.8 0zM795.3 243.2l6.9 -3.6l7.1 -0.2l6.3 -0.8l-1.4 -3.7l-6.2 1.3l-4.2 -5.1l-4.2 -4.6l-4.2 1.8l-0.5 -0.1zM764.4 414.2l-0.5 -6l-4.6 -0.1l0.6 7.3zM818.1 384.5l0.6 6.1l0.2 0.3l8.5 -0.1l0.6 -1.1l-1.8 -7.3l-7.6 1.5zM861.2 377.1l8.5 -1.1l-0.5 -6.6l-8.9 -0.7l-0.3 0.5zM849.8 422.5l2.8 9.9l7.5 0.5l0.9 -0.6l-1.2 -2.8l-9.1 -7.9l-0.7 0.2zM861.8 448.6l5.7 1.4l-0.1 -4.9l-1.4 -0.8l-1 -2.4l-5.5 2.9zM705.5 576.2l-8.3 1.3l-0.3 7.3l8.5 -0.1l0.6 -7.9zM704.4 569.4l0.8 1.1l9.1 -2.2l0.4 -0.8l-1.2 -6.4l-8.4 0.4zM712.6 542.9l8.8 -0.2l1.2 -10.5l-0.2 0l-10 0.6l-3.1 7.1zM736.2 617.3l0.6 6.3l0.6 0.7l9.1 -1.2l-0.8 -7.5l-8.4 0.1zM747.9 639.7l-0.4 0.5l0 9.6l0.7 -0.3l6.7 0.8l6.6 -1.3l-1.1 -9.6zM771.2 620.1l-0.6 -7.9l-0.3 -0.5l-13.1 0.9l0.6 5.3l0.7 5.7zM772.6 642l-1.4 -1.6l-10.7 0.2l1 8.4l5.6 0.3l1 -1.3l1.6 -7.4l2.4 3.1l-1.5 8.4l2.6 -0.4zM758.5 623.6l0.6 4.7l0.1 1l12.3 2.7l1.3 -1.5l-1.2 -10l-0.4 -0.4zM782.8 630.5l0.7 0.6l3.7 -0.3l7.2 -0.7l0.1 -9.5l-1.6 -1.8l-10.7 2.4zM772.6 642l0.6 9.7l2.9 -0.6l5.4 -1.2l1.5 -8.4l-1.1 -2.1zM794.4 630.1l2.2 -0.2l9.5 -1l1.5 -0.1l-2.6 -10.2l-10.5 2zM830.8 590.8l0 0.2l2.7 0.9l6.1 -8.7l-4.1 -3.7l-1.4 0zM842 573.5l1.5 -0.4l1.3 -2l-1.2 -1.8l-4.2 -3.7l-2.8 0.1l-2.2 4.3zM843.5 573.1l2.3 5.5l6 -1.3l-0.6 -8.3l-6.4 2.1zM845.7 585.2l0.1 0.1l6.9 -7.2l-0.9 -0.8l-6 1.3zM850.1 615.5l0.1 0.1l7.6 0.4l0.5 -0.6l-1.2 -7l-1.7 -1.6l-4.7 3.4l-0.9 2.7zM846.1 604.6l4.6 5.6l4.7 -3.4l0.3 -3l-7.6 -3.6zM878.2 605.9l2.1 6.1l5.5 -1.1l1.1 -4.8l-7.6 -1.4zM887.5 593.5l4.9 -1.5l1.1 -1.6l-1.2 -4.5l-7 1.4l0.6 5.1zM887.2 618.1l8.9 -0.4l1.3 -0.9l-3.3 -4.5l-6.9 0.9zM799.9 634.8l4.3 0.9l9.7 -2.4l0.3 -5.2l-8.1 0.8l-6.3 0.6zM843 653.9l-13.1 -10.9l-1.9 0.8l-4.1 9.2l6.7 7.4l9.9 -1.6l3.8 -2.3zM877.9 640.9l6.6 -11.1l-7.2 0.5l-2.1 0.2zM877.2 643.4l-5.2 10.8l1.9 1.7l9.3 11.4l7.7 -10l-9 -13.7l-4 -0.6zM939.2 747.7l-0.1 -1.1l-4.2 -5.3l-8.1 -0.3l-2.8 2.5l0.5 0.8l8.6 2.5l2.6 4.1zM948.1 751.9l-8.9 -4.2l-3.5 3.2l6.9 11.1l4.8 0.1l1.9 -0.5zM952 748.1l-3.9 3.8l1.2 9.7l9.6 -2.2l1.7 -4.1l1.1 -8.3zM948.1 733.7l0.1 0.3l0.5 0.6l13.3 5.6l-0.2 -5.8l-0.8 -12.7zM952 748.1l9.7 -1.1l0.5 -3.6l-0.2 -3.2l-13.3 -5.6zM912.5 552.4l-0.4 9.8l12.9 -0.1l-4.9 -9.2l-7 -1.2zM951.1 494.1l6.6 2.4l6 -3.7l-4.8 -5.7l-1.8 -0.7l-6.6 5.8zM958.5 499.4l4.7 6l6.5 -8.2l-0.7 -2.6l-1.2 -0.9l-4.1 -0.9l-6 3.7zM964.6 474.4l7.9 -3.9l0 -0.1l-5.2 -9.1l-4.1 12zM967.4 482.6l0.4 11.1l1.2 0.9l5.9 -4.8l-0.2 -1.5l-6.3 -7.4l-0.3 0zM974.9 489.8l5.4 0.3l2.8 -2.1l-0.6 -4.3l-5.4 -2.9l-2.4 7.5zM981.6 472.8l4 7.7l4.3 -0.7l1.2 -1.7l-1.4 -6.4l-7.9 0.9zM993.1 466.6l2.5 0.4l0 -2.1l-0.4 -0.1l-1.2 0.5zM989.7 471.7l1.4 6.4l4.7 -0.2l-0.1 -7.2l-5.8 0.7zM995.2 464.8l0.4 0.1l7.7 -0.1l-4.9 -11.3l-6.2 1.3l-0.5 0.1zM1002.8 469.8l-7.1 0.9l0.1 7.2l5.2 1.6zM1001 479.5l1.5 3l3 0l2.7 -7.2l-4.4 -5.6l-1 0.1zM926.8 413.2l-10.1 5.1l0 4.5l1.8 2.7l0.6 -0.8l5.4 -6.9l2.6 -4.6zM916.7 422.8l-9.3 0.8l-0.6 4.1l6.9 4l0 -0.2l4.8 -6zM916 404.7l-0.1 1.8l10.9 6.7l0.3 0l2.3 -4.1l-8.6 -7.9zM905.5 378.4l-11.2 5.3l0.9 5.7l9.2 -1.5l1 -0.2zM969.9 275l0.7 3.4l12.2 5.2l1.2 -8.3l-5 -5l-8.7 3.7zM985.6 241.4l15.9 -7.4l-1.1 -5.4l-8 2l-8 2l-3.9 1zM969.4 282l8.6 6.2l5.2 -3.7l-0.4 -0.9l-12.2 -5.2zM979 270.3l5 5l7.2 -2l-10.2 -9.7zM983.7 248.9l2.2 -1.3l-0.3 -6.2l-5.1 -7.8l-0.8 0.2l-5.7 11.7zM989.7 249l8.9 -5l4 -4.9l-0.4 -2l-0.7 -3.1l-15.9 7.4l0.3 6.2zM1045.1 306.7l-2.7 3.2l3.9 6l4.4 -1.2l-1.6 -8.2zM1051.8 305.5l3.4 -1.8l2.8 -4.2l-2.4 -2.1l-0.8 -3l-7.7 1.8l0 0.2l1.6 8.1zM1052.3 306.6l-1.6 7.9l0 0.2l6.2 -3.5l0.4 -0.7zM1055.2 303.7l3 5.1l0.2 -6.8l4.7 4.1l-2.8 -4.6l-2.3 -2zM1046.8 288.9l5.3 -1.4l1.3 -4l-2.7 -6.2l-6 1.3l-2.3 0.5l0.9 7zM1053 274.4l-12.6 -4.5l-11.8 0.8l0.7 3.8l1.2 7.2l7.1 -1.5l7.1 -1.6l7.1 -1.6l1.3 -2.4zM1028.5 249.9l-0.1 3.9l-0.1 2.9l15.2 -0.8l1 -0.4l-0.2 -12.3zM1043.5 255.9l2.2 8.7l6.3 3.2l3 -9.6l-2.5 -3.4l-8 0.7zM1052 267.8l1 6.6l0.1 0.2l1.3 -2.3l4.9 -1.9l0.8 -5.5l-5.1 -6.7z"/>
<path fill="#dae7e7" d="M112.6 137.7l16.9 8.7l8.1 -10.6l0 -0.4l-1.5 -3.3l-9.9 -2.2l-7.9 -3.7l-12 -9.3l-1.7 10.1zM133.9 189.7l-13.9 -2l0 0.8l-0.5 5.2l5.4 3.7l7.2 1.3l3.1 -0.1zM124.4 158.7l4.7 -4l0.4 -8.3l-16.9 -8.7l-2.8 16.1zM137.6 135.4l-0.4 -3.1l-1.1 -0.2zM133.9 189.7l1.3 8.9l6.2 0l8.3 3.6l6 0.4l-0.8 -16l-2.3 -4l-14.4 -0.4zM143 280.2l-20.9 -0.3l-6.6 10.5l4.6 1.2l8.9 2.4l8.9 2.4l0.2 0zM122.6 203.9l0.8 14.3l17.2 5.1l12.3 -20.9l-3.2 -0.2l-8.3 -3.6l-9.3 0.1l-5.1 -0.9zM123.8 265.2l-3.9 4l2.2 10.7l20.9 0.3l1.8 -1.6l2.1 -8.5l-9.2 -10.1zM146.9 270.1l8.4 -3.2l6.1 -13.8l-21.6 -12.2l-3.1 3.3l1 15.8zM68.1 360.6l5.9 -5.9l-17.8 -18.1l-1.9 0.3l-0.2 8.6l-1.3 9l2.1 5.2zM73.9 372.2l-5.4 13.2l20.7 2.9l5.4 -7.5l1.2 -2.6l-8.1 -13.8zM64.8 387.1l3.1 3l-2.1 7.4l1 11.1l3.4 3.8l6.5 1.3l18.6 -9.2l-6.1 -16.2l-20.7 -2.9zM89.2 388.3l6.1 16.2l3.3 1.4l18.4 -4.2l2.1 -3l-1.3 -1.7l-23.2 -16.2zM91.1 322.6l20.3 -8.3l0.6 -7.8l-3.6 -4.6l-11 -3.9l-11 17.2l3.3 7.1zM87.7 364.4l8.1 13.8l10.5 -3.5l5.8 -5.9l1.6 -9.1l-15 -4.7l-9.8 0zM108.4 301.9l3.6 4.6l29.7 -9.1l-3.8 -1l-8.9 -2.4l-8.9 -2.4l-5 -1.3zM241.1 291.6l10.5 8l8.9 -2.3l1.7 -0.8l0.4 -0.6l-14.5 -15.9l-8.8 -0.6l-1.4 5.9zM240.4 187.8l14.6 -4.3l-3.5 -3l0.6 -2.9l-11.2 -1.9l-2.5 8.2zM245.1 246.9l23.9 8.8l1 -0.3l7.9 -11.3l-1.7 -7.9l-28.3 -4.1l-3.4 13.7zM268.1 318.1l-5.9 -21.6l-1.7 0.8l-8.1 25.1l1.2 0.2l1.4 0.3l9.1 1.7l2.5 0.5zM255.2 275.2l14.4 10.5l6.4 -8.9l0.8 -2.1l-6.8 -19.3l-1 0.3l-7.4 5.4zM302.9 267.3l15.7 8.9l1 -6.7l-5.1 -8.1l-2.7 4.7l-6.3 -1l-2.6 0.7zM261.6 165.6l5 -5.6l-6.9 -19.4l-2.4 -0.5l-3.2 -0.7l-1.8 8.5l-1.9 8.4l-1.8 8.5l1.6 2.9zM287.3 256.3l8.8 -25.9l-19.6 7.3l2.4 10.9l1.7 5.6l2.6 4zM296.1 230.4l-8.8 25.9l16.4 -0.5l0.8 -14.4l-8.3 -11.1zM284.8 187.4l10.3 -1.1l3.2 -10.1l-11.4 -12.1l-10.7 12.6zM297.4 225.5l19.9 4.1l4.6 -5.5l2.1 -8.3l-7.2 -8.4l-17.6 4.4l-2.3 12zM314.1 262l0.4 -0.6l0.8 1.3l4.5 2.6l0.9 -2.3l1.1 -7l1.3 0.2l3 -8.5l-6.6 -7.9l-15 1.6l-0.8 14.4zM348.4 182.9l-6.9 -27.2l-1.5 -0.3l-8.3 -1.3l-0.9 -0.2l-3.5 20.1l18.7 11zM355.7 334.8l-47.2 4.3l-1 6.1l-2 12.8l9.5 1.5l9.5 1.4l4.6 0.7zM340.9 300.7l22.3 23.4l2.6 -40.5l-13.6 -2.8l-0.7 0.3l-12 13.9zM264.6 356.7l16.3 10.2l1 -0.9l4.7 -16.1l-13.5 -2.2l-6.3 2.5zM273.4 341.8l7.6 -14.1l-7.8 -1.4l-5.8 -1.1zM273.4 341.8l-0.3 5.9l13.5 2.2l0.9 -0.2l9.9 -19.2l-6 -1.1l-9.2 -1.5l-1.2 -0.2zM287.5 349.7l15.4 11.9l3.8 -3.4l-1.2 -0.2l2 -12.8l2.1 -12.7l-9.1 -1.5l-3.1 -0.5zM281.9 366l19 8.2l2.6 -4.1l-0.6 -8.5l-15.4 -11.9l-0.9 0.2zM300.6 447.4l21.7 -5.8l-3.8 -12.2l-14.2 3zM302.9 361.6l0.6 8.5l25.3 5.2l14.3 -11.7l-9.1 -1.3l-9.5 -1.4l-9.5 -1.4l-8.3 -1.3zM360.4 469.8l-6.6 -12.8l-0.7 -0.4l-22.2 -1.9l-1.6 11.7l9.7 1.3l10 1.3l10.1 1.3l1.3 0.1zM360.4 469.8l13.9 -11.4l2.4 -3.2l-3.6 -4.6l-3.6 -2.3l-15.7 8.7zM353.1 456.6l0.7 0.4l15.7 -8.7l-2.6 -6.5l-8.2 -2.9l-3.6 1.9zM336.2 437.2l18.9 3.6l3.6 -1.9l-1.7 -14.2l-7.9 -3.3zM357 424.7l9 -1.9l2.5 -13.3l-3.7 -5.5l-18.9 5.1l3.2 12.3zM345.9 409.1l18.9 -5.1l1.8 -5.7l-4.3 -6.9l-9.4 -4.4l-13.3 17zM357 424.7l1.7 14.2l8.2 2.9l7.5 -12.6l-0.2 -0.8l-8.2 -5.6zM371.1 377.5l10.3 9.2l1.4 -1.7l-0.2 -16.4l-0.9 -0.1l-9.6 -1.1l-2.8 -0.4l-0.5 4.3zM373.1 450.6l10.9 -14.9l-9.6 -6.5l-7.5 12.6l2.6 6.5zM381.4 386.7l0.6 5.7l10.2 2.2l8.5 -13.2l-1.6 -10.2l-16.3 13.8zM381.3 420.5l15.1 -1.2l0.1 -0.1l0.7 -2.7l-0.5 -3.7l-14.1 -6.1l-5.2 4.1zM412.9 414.7l5 3.1l8.2 -1.9l0.3 -0.1l-4.6 -11.6l-9.1 -0.8zM397.6 509.9l1.9 0.2l12.7 -14.6l-0.4 -19.5l-1.1 -0.1l-20.9 19.6zM581.5 394.3l12.2 0.6l4.1 -4.7l-0.6 -3.4l-14.1 -2.8l-0.5 0.5zM605.7 447l-0.9 7.6l10.4 2.2l6 -7.5l0 -4.2zM605.9 472.9l15.6 0.3l0 -3.7l-6 -6.4l-10.4 2.3zM582.5 498.5l0.4 0.4l10.7 -0.6l0.4 -13.7l-2.7 0l-9 -0.1zM582.2 509.4l1.1 10.9l10.7 -1.2l0.6 -0.6l0.1 -9l-11.7 -0.9zM597.5 565l0.3 -0.1l7 -0.1l1.8 -2.2l0.4 -10.7l-1.2 -1.4l-10.3 -0.8l-0.3 0.4l-1.1 10.4zM557.3 701.4l1.6 2.2l13.1 -2.7l-0.7 -7.8l-0.7 -0.9l-12.2 -1.8l-0.6 0.5zM559.3 680.5l12.8 -0.3l-0.6 -9.9l-12.5 -0.8l-0.9 9.3zM560.1 635.3l1.1 1.5l10.9 -0.5l1.2 -1.2l0.6 -8.3l-1.4 -1.5l-12.8 0.8zM561.1 580.2l11.9 1.9l0.4 -12.3l-12.2 1.3l-0.4 8.7zM585.4 579.9l0.8 0.9l11.7 0.9l1.5 -2.2l-1.9 -14.5l-10.3 5l-1.6 -1zM585.6 569l-4.7 -2.9l-5.5 1.7l-2 2l-0.4 12.3l0.6 0.7l11.8 -2.9zM573.9 626.8l11.4 -1.6l0.6 -0.9l-1.6 -9.6l-11 -0.9l-0.9 0.8l0.1 10.7zM572.7 591.4l0.2 11.3l12.6 -0.9l0.4 -8.8l-12.2 -2.7zM572.7 603.1l0.6 10.7l11 0.9l1 -1.2l0.8 -10.9l-0.6 -0.8l-12.6 0.9zM599 591.4l12.4 -1.1l0.6 -8.7l-1.3 -1.5l-11.3 -0.6l-1.5 2.2l0.9 9.6zM599 591.4l0.5 10.5l11 1l1.3 -1.5l-0.4 -11.1zM611.4 645.8l1.5 2.2l11.2 -1l1.2 -1.5l-0.8 -8.9l-12.6 -0.2zM611.4 590.3l0.4 11.1l13.1 0.5l-0.9 -10l-12.6 -1.6zM624.9 601.9l10.9 0.7l-0.2 -10.1l0 -3.7l-11.2 2.5l-0.4 0.6l0.9 10zM589.2 260.9l-0.8 -7.6l-4.9 -1l0.1 1.1l-5.3 8.7l1 1.1zM589.3 201.5l1.2 -1.2l-1.1 -9l-15.7 -1.1l0.8 10.4zM588.9 240.9l1.2 1.3l12.1 -0.1l0.7 -0.9l-1.4 -8.4l-11.5 -0.4zM603.2 303.6l0.6 -0.8l-1.2 -8.8l-0.8 -0.8l-16.4 1.2l-0.1 9.6zM614.4 221.1l10.7 -0.9l-1.1 -8.9l-10.1 -1.2l-1.2 9.2zM612.6 190.3l1.5 1.7l11 -2.4l4.2 -5.5l-5.7 -0.1l-5.7 -1.7l-1.9 -4l-2.4 -10.7l-0.6 -0.4zM637.3 210.2l11.5 -0.6l0.5 -8.9l-12.3 -1.1l-0.5 0.7zM637.9 220.7l10.8 -0.3l1.3 -1.6l-0.8 -8.8l-0.4 -0.4l-11.5 0.6l-0.4 0.5l-0.6 8.5zM626.5 262l11.7 0.5l1 -1.3l-0.2 -9l-11.2 0.1zM649.7 200.1l-1.6 -9.1l-10.9 -1.3l-0.2 9.9l12.3 1.1zM637.9 220.7l0.6 9.4l10.5 0.2l-0.3 -9.9zM661.9 220.1l13.3 -1.8l1.6 -1.7l2 -2.4l-5.1 -5.3l-11.5 1.2zM588.3 353l0.6 2l0.1 0.6l13.4 0.8l0.3 -7.9l-0.4 -0.6l-8.7 -1zM592.8 330.6l0.7 9l9.2 -1l0.3 -7.5l-9.9 -0.7zM603.5 381.4l-1.8 -2.3l-5.7 1.5l0.1 0.3l1.9 10.8l4.5 0zM601.7 379.1l1.8 2.3l8.9 -0.6l0.4 -0.4l0 -7.8l-10.1 0l-0.7 0.8zM603 331.1l-0.3 7.5l0.3 0.2l9 1.5l0.8 -0.9l-0.2 -8.4l-0.2 -0.2l-9.4 0.3zM612.8 372.6l0 7.8l8.9 1.4l1.6 -1.5l-1.2 -8.1l-9 0zM612.8 339.4l9.3 -0.2l0.4 -0.5l-0.6 -7.6l-0.1 -0.1l-9.2 0zM630.5 380.9l-7.2 -0.6l-1.6 1.5l-0.3 9.6l2.7 -0.1l8.3 -0.2zM622.8 355.4l-0.2 -8.4l-9.6 1.2l0.2 6.8l9.3 0.7zM622.5 355.7l-0.4 7.8l0.9 1l8.4 -1l0.5 -0.6l0.1 -7.1l-0.2 -0.3l-9 -0.1zM613.1 355.1l0.8 8.3l8.2 0.1l0.4 -7.8l-9.3 -0.7zM622 322.7l8.6 -0.4l0.1 -6.5l-2.9 0.1l-6.2 0.1zM622.8 355.4l9 0.1l0.4 -7.7l-0.5 -0.5l-9 -0.5l-0.1 0.2zM622.5 338.7l8.7 -0.2l0.4 -8.1l-0.2 -0.3l-9.5 1zM622.1 372.2l1.2 8.1l7.2 0.6l1 -0.9l1.1 -7.9l-0.1 -0.1l-10 -0.3zM632.2 347.8l8.4 -1l0.2 -8.2l-9.2 0.3l0.1 8.4zM632.6 372.1l8.3 -0.3l0.5 -7.7l-9.5 -1.2l-0.5 0.6l1.1 8.5zM640.3 321.9l0 8.8l0.6 0.6l8.9 -1.7l0.1 -6.9l-0.2 -0.2l-9 -1.1zM631.8 355.5l0.2 0.3l9.3 0.1l0.7 -0.9l-0.7 -7.6l-0.7 -0.6l-8.4 1zM641.4 364.1l-0.5 7.7l0.3 0.3l10.4 -0.9l-0.1 -7.1l-0.7 -0.7l-9.2 0.5zM649.9 322.7l9.7 -1.4l0.2 -0.1l-1 -6.2l-3.8 0.2l-5.2 0.1l-0.1 7.2zM659.6 321.3l-0.1 8.7l9.6 -0.6l0.8 -1.1l-1.2 -6.9l-8.9 -0.2zM660.4 354l9.1 -0.4l0.1 -8.1l-9.9 0.8zM659.9 354.6l0.6 7.8l1 0.8l8.2 -0.8l0.9 -1.1l-0.1 -6.6l-1 -1.1l-9.1 0.4zM659.9 338.6l-0.7 7.1l0.5 0.6l9.9 -0.8l0.1 -0.2l0 -6.4l-1.2 -1.2l-7.7 -0.2zM659.5 330l1.3 7.5l7.7 0.2l0.6 -8.3zM668.5 337.7l1.2 1.2l9 -2l-0.2 -7.1l-8.6 -1.5l-0.8 1.1zM668.7 321.4l1.2 6.9l8.6 1.5l1.3 -1.4l-1.2 -8l-0.9 -0.8l-9 1.8zM668.7 321.4l9 -1.8l0.3 -5.4l-4.9 0.2l-4.4 0.2zM672.6 378.8l8.3 -0.1l-0.1 -7.9l-1.3 -1.2l-8.4 1.9zM678.5 329.8l0.2 7.1l0.1 0.1l9.6 -0.2l1.9 -2.5l-1.1 -1.3l-4 -4.9l-5.4 0.3zM679.8 328.4l5.4 -0.3l-1.1 -1.3l-1 -7l-4.5 0.6zM680.3 345.1l8.3 -1.1l-0.2 -7.2l-9.6 0.2zM639.3 476.3l9.1 0l0.2 -0.3l-0.8 -8l-9.6 -0.3l0.4 7.8zM718.3 497.5l-6.4 0.7l-2.5 8.9l6.9 -0.5l4 -0.2zM678 457.9l10.1 -0.4l0.2 -0.1l-1.2 -7.5l-0.4 -0.4l-8.5 0.5zM696.9 457.1l1 7.5l8.9 -0.1l0.8 -8.2l-10.3 0.2zM707 474.2l2.3 7.5l8.7 -0.6l0.4 -8l-9.9 -1zM635.3 567.8l-0.4 -8l-9 -1.4l0 1.6l-0.1 11.4l-0.1 2.1l1.9 0.2l4.6 -1.5zM644.9 558l2 1.8l8.9 -2.6l-0.1 -7.7l-9.7 -1.3l-1.5 1.4zM647 577.8l-0.2 -10l-0.2 -0.2l-11.3 0.2l-3.1 4.4l3 -1l0.1 6.5l11.4 0.4zM657.6 576.8l-0.2 -0.2l-10.4 1.2l-0.3 0.3l1 9.3l8.3 -0.2l2 -0.1zM668.7 568.9l-0.5 7.2l12 0.7l0.1 -0.1l-0.1 -8.9l-1.3 -1.4zM688.5 529.6l10.6 -0.5l0.4 -0.6l-0.5 -9.2l-0.4 -0.3l-10.3 0.7zM700 537.1l-1 9.2l5.4 4.5l3.9 -8.6l1.8 -4.2l-10 -1.1zM662.2 641.5l11.3 -7l0 -0.1l-4.8 -5.6l-4.2 1.8l-4.1 2.8l0.9 7.5zM668.7 628.7l9.7 -5.7l-1.8 -4.2l-5.4 -1.7l-4 6.2zM711.5 680.9l-5.9 -3.2l-4.5 2.2l1.2 2.1l3.6 4.9l6.7 -0.3zM676.7 604l7.6 9.9l5.5 1.3l1.6 -0.5l0.4 -11.7l-9.5 -3.7zM682.7 652l1.5 4.4l8.9 1.1l2.8 -10.6l-12.7 1.2zM682.5 661l7.7 12.7l5.5 -5.2l0.8 -8.6l-3.4 -2.4l-8.9 -1.1zM672.7 589.1l9.7 6.7l5.8 -9.8l-1.5 0l-10.2 0.5l-3.7 0.1zM694.4 593.8l5.1 0l-2.6 -8.3l-7.8 0.4zM696.5 659.9l-0.8 8.6l9.9 1.1l4.2 -3.3l-3.7 -10.7zM726.9 676.8l1.9 3.4l2.1 -1l8.2 -7.8l-0.5 -0.6l4 -6.7l-0.9 -0.1l-11.8 4.9zM743.3 676.5l-4.2 -5.1l-8.2 7.8l0.4 -0.2l6.7 -0.4l1.2 2.7zM650.8 264.6l1.5 4.3l-0.2 3.9l13.3 0.3l1 -1.4l-0.7 -8.6l-0.2 -0.3zM664.1 244.7l10.4 -1.7l0.3 -0.3l-0.2 -9l-2.3 -2.5l-1 0.5l-7 0.8l-0.5 -0.5l-1.3 0.6l-3.3 1.4l0.3 6.4zM665.4 292.2l1.9 1.8l6.3 6.2l1.5 2.5l2.7 -3.6l-1.5 -7.7l-10.4 0.3zM676.7 262.8l9.5 -1.3l-0.7 -9.7l-9.7 1.7l0.4 8.9zM686.2 261.5l1.1 0.9l9.6 -1.7l-0.2 -7.8l-10.9 -1.4l-0.3 0.3zM689.6 318.2l0.5 -9l-0.5 -0.6l-9.8 1.6l2.4 3.8l0.8 5.6zM689.2 301.6l11.3 -4.2l-0.6 -7l-11.5 -0.6l-0.4 10.4zM689.6 308.6l0.5 0.6l10.6 0.8l1.9 -2.1l-1.8 -10.1l-0.3 -0.4l-11.3 4.2zM698.7 262.5l10 -2.8l-0.8 -8.9l-0.3 -0.3l-10.5 1.9l-0.4 0.5l0.2 7.8zM696.9 271.9l0.7 7.3l2.2 1.9l10.3 -2.6l-0.2 -7.1l-10.8 -2.3zM720 259.7l11.3 -1.5l-0.2 -10.8l-7.2 -0.5l-1.5 -0.4l-3.1 3.9l0.6 9.1zM721.5 279.4l9.9 -1.3l0.8 -1.1l-0.4 -8.1l-10.7 -0.8l-0.4 0.5zM713.8 327.4l11.3 -1.9l-0.1 -7.3l-0.7 -0.7l-11.4 0zM691.3 400.8l-0.4 -8.4l-3.9 -4.5l-4.6 6.9l0 8.3zM701.6 400.9l0.5 7.4l8.8 0l1.4 -2l-0.5 -5.8l-1 -0.9l-8.7 0.4zM713.1 449.9l-0.8 -9.4l-3 -3.4l-0.3 0l-0.2 2.5l-2.4 10.5l4.4 3.7zM699.2 383l1.7 1.3l8.4 -1.8l0.5 -6.9l-10.1 -0.3l-1.1 1.5zM711 391.9l8.5 -0.6l-0.1 -6.9l-9.2 -0.8l-0.2 7.3zM716.7 350.7l9 0.2l0.7 -1l-2.6 -12.6l-2.8 0.2l-0.5 0.1l-3.8 4.7l-1 7.3zM712.5 415.1l0.1 8.8l0.5 0.4l8.8 -1.1l0.7 -6.9l-1.8 -2.1l-8.2 0.9zM719.6 384.1l8.1 -2.1l-0.5 -7l-9.6 -0.4zM721.3 407.5l0.1 0.1l9.1 -0.6l-1 -8.2l-8.3 0.9zM712.3 440.5l10.3 0.5l0.1 -0.2l-1.3 -7.9l-8 -0.5l-4.1 4.7zM720.8 414.2l1.8 2.1l7.5 -1.3l1 -1.2l-0.5 -6.7l-0.1 -0.1l-9.1 0.6zM731.9 431.4l8.7 -1l1.4 -1.8l-0.8 -5.9l-0.8 -0.9l-8.2 1l-1.3 1.6zM735.9 356.5l0.4 9.1l9.1 -1.5l-0.3 -6.9l-8.9 -1.1zM735.3 349.2l0.9 6.9l8.9 1.1l0.1 -0.2l-0.5 -8.8l-0.1 -0.1l-9.1 0.8zM745.2 357l9.4 -1.8l-0.1 -0.8l-1.6 -2.6l-1.4 -3.9l-6.8 0.3zM745.2 357l-0.1 0.2l0.3 6.9l0.2 0.3l9.8 0.4l-0.8 -9.6zM745.7 372.4l10.3 -0.6l-0.4 -5.3l-0.2 -1.7l-9.8 -0.4zM797.6 252.8l2.9 -4.5l-5.7 -2.7l-5.7 5.4l0.6 1zM811.8 283.1l10.4 -2l1.9 -8.3l-13.5 2.2l1.1 8zM811.8 283.1l1.1 6.9l4 0.2l4.1 -3l1.1 -5.9l0.1 -0.2zM739.9 241.7l-14 0.5l-3.7 4.2l1.7 0.5l9 0.6l2.1 3.7l5.6 2.1l-0.1 9l1.3 1.7zM762.8 393.2l-0.4 -6.4l-0.3 -0.3l-4.8 0l0.5 4.8l0.2 2.9zM763.9 408.2l0.6 -0.8l-0.8 -6.4l-0.2 -0.2l-4.8 0.3l0.2 2.7l0.4 4.3zM815.7 368.6l2 6.1l7.5 0l0.7 -7.5l-0.6 -0.6l-9.2 1.4zM855.8 401.1l0.3 0.2l8.4 -0.9l0.8 -1.5l-1.5 -5.6l-7.9 1zM862.2 384.9l8.7 -1.2l0.1 -0.3l-0.9 -7l-0.4 -0.4l-8.5 1.1zM863.8 393.3l1.5 5.6l7.9 -0.3l-0.3 -8.6l-0.4 -0.3l-8.5 3.1zM864.5 400.4l1.2 6.4l0.7 0.5l7.5 -1.3l-0.4 -7.1l-0.3 -0.3l-7.9 0.3zM872.9 390l7.3 -0.2l0.6 -0.7l-0.4 -7.5l-9.4 1.8l-0.1 0.3l1.6 6zM877.7 375.3l1.8 1.2l10.6 -5.5l-4.1 -3.6l-8.4 0.9zM858.5 444.6l1 0.2l5.5 -2.9l-2.1 -5l-1.9 -4.6l-0.9 0.6l-3.5 6.6l1.8 5.1zM867.4 454.9l-4.3 1.1l0.4 8.3l6.5 -6.2l0.6 -0.9zM867.5 450l0.7 0.8l5.5 -2.1l-6.3 -3.6zM868.2 450.8l-0.8 4.1l3.2 2.3l4.9 -7.5l-1.8 -1zM729.9 527.3l-2.7 -2.8l-9.5 1.1l-0.7 3.1l-4.6 4.1l10 -0.6l7.9 -0.5zM724.9 515.2l-2 -8.1l-3.2 9.7l-0.9 4.2zM735.4 501.6l2 -4l-4.3 -5.1l-6.7 0.5l-2.2 9.1zM724.9 515.2l3.5 4.1l5.8 -2.5l1.4 -4.4l-0.8 -1.5l-11.8 -4l-0.1 0.2zM805.1 519.9l6.3 -0.3l1.3 -2.5l-0.3 -1.4l-3.3 -2.4l-3.2 -0.2zM704.4 569.4l0.7 -7.9l-3.7 -3.6l-0.6 1.5l-3.3 8l-0.1 1.7zM705.7 585.2l8.8 0.4l1.2 -1.5l-1.2 -6.9l-8.5 -0.4l-0.6 7.9zM707 610.6l0.2 0.2l9.2 -2.7l-0.6 -6.5l-9 -0.6zM713.7 560.9l9.4 -1.2l-0.8 -8.4l-8.8 1.2zM707.5 617.6l0.3 7.3l1 1.2l9.4 -1l0.1 -0.2l-0.5 -6.8l-0.4 -0.5l-9.8 -0.2zM725.7 592.6l8.3 -0.7l0.1 -8.8l-9.8 1.6l0.6 7.1zM735.5 599.5l0.6 0.6l8.9 -0.7l0.1 -0.1l-1.3 -8.4l-9.1 1.6zM746.6 631.8l1 1.2l11.7 -2.3l-0.2 -2.4l-0.6 -5.2l-11.1 0.9zM746.3 607.4l0.1 7.3l11.2 0.9l-1 -8.1l0.1 -1.1zM772.6 642l9.3 -2.6l-4.2 -7.8l5.8 -0.5l-0.7 -0.6l-10 0l-1.3 1.5l-0.3 8.4zM772.8 630.5l10 0l-0.6 -9.3l-0.7 -0.6l-9.9 -0.1zM793 610.2l10.9 -2l0.3 -0.3l-1 -8.4l-11.3 0.4zM803.9 608.2l1.3 10.2l10.9 -1.5l0.6 -1.1l-0.5 -7.9l-12 0zM825.1 552.7l0.7 -1.4l-3 -4.2l-6.2 1.6l1.7 5.8zM835.1 618.8l-0.9 -4.6l-2.2 -1.7l1 5.7l0.3 1.6zM831.5 609.1l0.1 1.5l0.4 1.9l2.2 1.7l5.4 -2.1l0.3 -2.9l-0.7 -1.7l-0.7 -0.6zM838.5 606.9l0.7 0.6l6.9 -2.9l2 -4.4l-0.8 -2.9l-9.6 1.5l-0.6 2zM840.6 617.5l9.5 -2l-0.3 -2.6l-9.9 -3.7l-0.3 2.9zM839.4 558.5l3.2 -5.3l-4.4 -2.3l-3 0.3l0.7 7.2zM845.3 588.7l2.1 8.4l7 -2.4l-1.6 -4.3l-6 -4.2l-0.6 -0.1zM850.2 619.6l7.2 5.6l2.2 -2l0.2 -0.4l-2 -6.8l-7.6 -0.4zM858.5 595.7l1.2 -0.7l0.4 -0.6l0.1 -4.2l-5.2 -1.2l-2.2 1.4l1.6 4.3zM855.7 603.8l-0.3 3l1.7 1.6l7.8 0.9l0.5 -0.9l-2 -4.4l-6.9 -1.1zM859.7 595l5.1 5.4l5.8 -1.1l-0.6 -5.9l-9.9 1zM867.7 619.4l2.4 0.9l6.4 -1.6l-4.9 -4.7l-4.9 1.8l0.2 2.8zM871.6 614l4.9 4.7l1.5 0.3l0.9 -5.5l-5.8 -3.5zM878.7 620l8.2 -1.4l0.3 -0.5l0 -4.9l-1.4 -2.3l-5.5 1.1l-1.4 1.5l-0.9 5.5zM879.9 559.3l0.7 4.2l7.2 0.8l1.2 -1.8l-0.4 -2.8l-2.8 -2.3l-2.4 -1.5zM885.8 610.9l1.4 2.3l6.9 -0.9l0.4 -7.1l-6.2 -0.6l-1.4 1.5zM894.5 605.2l-0.4 7.1l3.3 4.5l0.8 0l3.7 -3.7l-0.8 -3.4l-5.5 -4.9l-0.4 0zM898.2 616.8l-0.8 0l-1.3 0.9l-2.2 5.3l6.1 9.4l1.1 1.2l-0.4 -10.1l2.3 -0.1zM906.1 590.4l0.1 0.4l7.2 8.7l1.3 0.2l0.7 -3.2l5.1 -9.4l-1.1 -1.2zM795.3 640.5l-12.6 -9.3l-5 0.4l5.3 9.9l-1.5 8.4l4.3 -1.7l9.6 -2zM795.4 646.2l1.3 -0.3l11.1 -0.3l2.4 0.8l-6 -10.7l-4.3 -0.9l-4.6 5.7zM795.3 640.5l4.6 -5.7l-0.1 -5.3l-3.2 0.4l-9.4 0.9l-4.5 0.4zM804.2 635.7l6 10.7l2.4 0.9l3.3 -4.7l-0.1 -5.5l-1.9 -3.8zM813.9 633.3l1.9 3.8l12.3 -3.7l-1.9 -6.6l-1.2 0.1l-9.4 1l-1.4 0.2zM815.9 642.6l12.1 1.2l1.9 -0.8l0.9 -6.8l-2.7 -2.8l-12.3 3.7zM844.3 656.5l6.7 -4.2l6 -5.4l0.4 0.1l1.6 -5.7l-13.5 -8.8l-1.7 0.1l-0.8 21.3zM877.9 643l0 -2.1l-2.7 -10.4l-7.6 0.5l-4 0.3l-0.7 6.2l14.3 5.9zM897.2 638l13.9 -1.3l-3 -3.4l-12.3 2.2zM900.4 645l15.3 -3.9l0.4 -0.6l-5 -3.8l-13.9 1.3zM942.8 730.6l5.3 3.1l12.9 -12l-0.1 -1.4l-14.2 -2.3l-2.7 3.4zM902.1 564l0.6 0.5l4.4 6.2l0.4 -0.2l4.6 -8.3l0.4 -9.8l-8 1.9zM900.3 551.9l4.2 2.4l8 -1.9l0.6 -0.7l-1.6 -7.4l-1.1 -1.3l-10.6 6zM923.5 549.8l6.6 -1.5l1.5 -5.3l-2.8 -2.7l-7.6 0.9zM907.5 570.5l16.8 1.7l1.9 -9l-1.2 -1.1l-12.9 0.1zM920.8 541l0.4 0.2l7.6 -0.9l-1 -7.3l-7.8 -0.2zM940.7 557.2l-8 2.5l-0.4 0.6l5 5.4l0.3 -0.3l5.8 -5zM949.8 527.7l4.4 12.4l0.4 -1.3l6.6 -6.5l-9.4 -6.6l-1.1 -0.8zM957.9 524.3l-0.3 -4.7l-0.8 -0.5l-11.5 2l6.5 4.6l3.5 2.5zM936.2 497.7l6.1 2.7l-0.7 -8.5l-1.8 -0.6zM939.8 491.3l1.8 0.6l7.1 -0.8l-2 -8.2l-7.6 1.8l-0.2 5.6zM946.7 482.9l2 8.2l1.8 1.1l6.6 -5.8l-1 -5.6l-0.7 -1l-7.8 0.9zM958.6 473.4l4.6 -0.1l4.1 -12l-0.3 -1.6l-3.9 0.7l-9 1.7zM957.1 486.4l1.8 0.7l8.5 -4.5l0.7 -1.7l-0.7 -0.6l-11.3 0.5zM968.1 480.9l0.3 0l6.6 -2.8l0.9 -2.7l-3.4 -4.9l-7.9 3.9l2.8 5.9zM967.7 526.1l0.7 3.6l4.9 0.3l1.2 -7.1zM967.3 461.3l5.2 9.1l8.4 -6.3l0 -0.2l-7.2 -5.5l-0.9 0.2l-5.8 1.1zM975.9 475.4l5.7 -2.6l0.2 -0.2l-0.9 -8.5l-8.4 6.3l0 0.1zM973.4 499.4l5.8 0.6l1.6 -0.9l-0.5 -9l-5.4 -0.3l-5.9 4.8l0.7 2.6zM991.6 501.3l-1.5 -1.4l-9.3 -0.8l-1.6 0.9l0.5 9.9l1.6 2.1l5.7 -5.8l5.4 -2zM991.6 501.3l0.8 2.9l2.6 -0.9l5.9 -2.6l0.8 -6.2l-1.6 -0.7zM973.2 507.9l6.5 2l-0.5 -9.9l-5.8 -0.6zM990.1 499.9l1.5 1.4l8.5 -7.5l-5.4 -2.4l-4.8 -2.1l-1.2 1zM994 465.3l1.2 -0.5l-3.5 -9.9l-6.6 1.3l-1 6.5zM1003.7 464.9l-0.4 -0.1l-7.7 0.1l0 2.1l4.7 0.8l3.1 -1.2zM1003.7 464.9l-0.3 1.7l4.7 -1.8l-0.7 -0.9zM901.4 457.3l5.1 -5.7l-0.2 -1.9l-2.1 1.2l-4.6 2.5zM969.5 455l-4.3 -1.6l-2.5 7.1l0.4 -0.1l9.3 -1.7zM996 449.7l-9 5.1l0.1 1l5.1 -1l9.7 -2l-0.7 -1.3zM970 416.1l1.7 5.5l6.2 -0.9l0.3 -3.6l-5.4 -1.9l-1.5 -0.6zM987 454.8l9 -5.1l-3.9 -5.3l-0.9 0.1l-3 -1.5l-2.2 1.4l0.8 9.9zM996 449.7l5.2 1.8l-3.9 -7.5l-5.2 0.4zM915.2 416.5l1.5 1.8l10.1 -5.1l-10.9 -6.7l-1.5 1.8zM934.7 392.5l-0.4 -0.1l-10.2 2.9l0 0.1l9.1 8.5l1.7 -1.6zM924.1 395.4l-3.3 5.8l8.6 7.9l1.7 -3l2.1 -2.2zM893 375.8l0.3 2.1l1 5.8l11.2 -5.3l0 -0.1l-3.4 -8.5l-1.5 -0.4zM910.4 366.7l3.2 2.9l9.4 -2.7l1.5 -2.1l-3.2 -5.7l-8.3 0.7l-1.5 1.7zM921.3 359.1l3.2 5.7l6.7 0.8l3 -4.7l-1.2 -4.8l-10.5 0zM956 358.8l4.4 0.4l6.9 -1l0.3 -0.5l-0.9 -6.3l-3.1 -4.2l-0.1 0l-9.5 4.4zM1016.7 342.6l6 -1.7l7.1 -3.5l11.9 -8.3l10.5 -8.6l-10.5 4.6l1.8 -4.5l-4.4 5.9l-7.4 2.4l-9 3.5l-4.3 3.3zM963.6 256.6l6.2 -3.8l0.9 -6.3l-4.1 -3.8l-2.4 2.5l-5.9 10.2zM966.7 266.2l3.6 7.8l8.7 -3.7l2 -6.7l0.2 -1.2l-2.2 -3l-0.2 -0.1l-11.9 5.7zM969.8 252.8l9 6.5l0.2 0.1l4.7 -10.5l-9.7 -3.4l-3.3 1zM984.3 285.2l11.6 1.3l0 -0.1l-1.2 -10.7l-2.5 -2.5l-1 0.1l-7.2 2l-1.2 8.3l0.4 0.9zM989.2 262.2l3.6 5.1l12.6 -3.5l2 -2.5l-0.2 -1l-6.9 -3.3l-6.8 -0.6zM995.9 286.5l1.4 4.5l3.1 1.9l7.9 -2.4l3.2 -5.4l-4 -5.1l-11.6 6.4zM992.2 273.2l2.5 2.5l8.4 -3.5l2.3 -8.4l-12.6 3.5zM993.5 256.4l6.8 0.6l-1.7 -13l-8.9 5zM1007.6 279.3l-0.1 0.7l4 5.1l4.2 0.6l0 -0.6l-2.2 -9.9zM1005.7 302.9l2.7 0.3l3.6 -9.4l-3.7 -3.3l-7.9 2.4zM1032.9 310.5l9.5 -0.6l2.7 -3.2l-2.3 -9.5l-3.5 0.8l-7.8 1.9l-2.3 0.5zM1019.8 321.1l10.9 0.5l1 -0.7l3 -1.2l-2.3 -7.7l-9 4zM1042.4 309.9l-9.5 0.6l-0.5 1.5l2.3 7.7l6 -2.4l5.6 -1.4zM1052.3 306.6l5 3.9l0.9 -1.7l-3 -5.1l-3.4 1.8zM1036.2 291.3l-3.9 -4.2l-8.4 4.7l-0.2 0.6l9.5 7.1l3.3 -0.8zM1054.6 290.4l-2.5 -2.9l-5.3 1.4l-0.5 7.5l0.8 -0.2l6.8 -1.6zM1052.1 287.5l2.5 2.9l5.4 -0.5l-0.1 -5.4l-0.3 -0.2l0.2 -0.7l-6.4 -0.1zM1016.1 239.1l1.3 -1.9l-2.6 -12.1l-6.2 1.5l-8.2 2l1.8 8.5l0.9 4.4zM1028.5 229.9l5.9 -1.4l-1.4 -8.1l-8.2 2.1l-0.5 0.1zM1020.2 264.1l1.7 -2.9l-2.2 -4l-13 1l1.4 5.9l2.7 -0.6l1.4 6.3zM1003.1 241.5l0.8 4.1l1 4.8l13.7 -1l-2.5 -10.3zM1028.5 237.5l0 -7.6l-4.2 -7.3l-7.6 2l-1.9 0.5l2.6 12.1zM1040.4 269.9l5.3 -5.3l-2.2 -8.7l-15.2 0.8l-0.3 10.5l0.6 3.5zM1040.4 269.9l12.6 4.5l-1 -6.6l-6.3 -3.2z"/>
<path fill="#d3e4e4" d="M56.2 336.6l4.8 -1.7l11.4 -25.5l-14.6 -5l-6.3 9.4l3.2 12.9l-0.4 10.2zM81 335l5.3 15.2l18.9 -15.2l-14.1 -12.4l-1.4 -0.3zM106.4 335.5l26.8 2.5l0.1 -0.3l-21.9 -23.4l-20.3 8.3l14.1 12.4zM119.1 398.7l15.1 -9.3l-2.1 -3.3l-20 -17.3l-5.8 5.9l11.5 22.3zM221.6 312.3l14.2 -7.8l5.3 -12.9l-3.2 -6.3l-16.8 12.6zM238.4 183.9l2.5 -8.2l-2 -7.3l-8.6 -0.5l-2.4 10.6l-0.5 2.5zM250.2 157.5l0.2 -1.2l1.9 -8.4l1.8 -8.5l-5.1 -1.1l-8.2 -1.8l-3.2 -0.7l-1.6 7.1zM239.3 279.4l8.8 0.6l7.1 -4.8l6.4 -14.1l-21.5 3.7l-2.4 11.9zM308.2 316.1l-9.1 6.2l-0.6 8.3l2 0.4l9.1 1.5l2 -12.8l0.5 -3.1zM274.5 176.5l-12.9 -10.9l-11.4 2.1l2.9 5.3l-1.6 7.5l6.1 5.2l3.6 5.6zM298.4 210.7l-0.6 -21.1l-2.7 -3.3l-10.3 1.1l-10.7 15.1zM319.8 265.3l-4.5 -2.6l4.3 6.8l0.2 -0.8l0.3 -2.3zM320.6 196.1l22.7 -0.8l0.1 -0.1l2.6 -10.2l-18.7 -11l-7.7 5l-1.7 11.7zM340.3 215.1l2.4 7.1l22.4 -1.5l-5.4 -7.8l-18.7 0.9zM343.3 195.3l-2.3 18.5l18.7 -0.9l0.4 -7.3l-1.5 -3.7l-15.2 -6.7zM330.5 318.2l10.4 -17.5l-1.4 -5.7l-23.6 -2.4l-0.2 1.6l-2 12.7l-2.1 12.8l-0.4 2.6zM339.5 295l12 -13.9l-31.2 -15.6l-0.5 3.2l-0.2 0.8l-1.9 12l-1.8 11.1zM275.4 398.5l6.9 10.8l20.5 -6.5l-5.6 -19.6l-15.6 3.1zM310.7 409l5.1 0.5l10.4 -10l-1.5 -7.7l-27.2 -9l-0.3 0.4l5.6 19.6zM339.6 404l13.3 -17l-1 -4.4l-9.7 -9.3l-0.5 3.2l-1.7 12.8l-1.8 12.9l-0.2 1.5zM374.2 428.4l0.2 0.8l9.6 6.5l6 1.1l6.4 -17.5l-15.1 1.2zM382.5 458.9l9.9 3.3l1.6 -0.8l5.9 -16.3l-7.3 -4.4l-15.1 14.7zM392.6 440.7l7.3 4.4l7.8 -1.5l2.7 -3.3l-0.1 -9.6l-13.8 -11.5l-0.1 0.1l-6.4 17.5zM394 461.4l9.5 3.5l10.2 -9.3l-6 -12l-7.8 1.5zM406.9 399.4l5.8 4l9.1 0.8l7.8 -13.3l-3.4 -2.5l-18 8zM605.7 447l15.5 -1.9l0 -4.3l-0.1 -3.9l-16.1 -0.4l-0.6 0.6l0.7 9.2zM605.9 472.9l-0.8 1.2l1.4 10.4l5 0l10.1 -0.1l-0.1 -10.9l0 -0.3zM605 436.5l16.1 0.4l-0.1 -7l-1.1 -1.5l-14.6 -1.8zM594.1 560.5l-11.8 -0.3l-4.7 6.9l3.3 -1l6.3 3.9l10.3 -5zM593.6 498.3l1.4 1.4l11.3 -2l1.9 -13.2l-6.8 0.1l-7.4 0zM572.6 680.7l11.3 0.5l1 -1.2l1 -10.2l-0.2 -0.3l-12.9 -0.7l-1.3 1.5l0.6 9.9zM572.8 648.5l-0.8 9.7l13.9 0.5l1.2 -1.7l-2.1 -9.1l-1 -1.2l-10.1 0.7zM585.9 593l-0.4 8.8l0.6 0.8l11.9 1l1.5 -1.7l-0.5 -10.5l-0.2 -0.1l-12.3 1.1zM599.3 681l13.2 -1.4l0 -9.4l-1 -1.1l-12.3 -0.3l-1.1 1.2zM599.5 646.5l-0.4 9.9l12.3 0.9l1.5 -9.3l-1.5 -2.2zM625.3 645.5l12.8 2.3l-0.8 -12.8l-11.5 -0.3l-1.3 1.9zM600.8 210.8l0.3 0.4l12.6 -1.4l-0.7 -8.9l-0.1 -0.2l-11.2 -0.4zM601.5 260.8l1.6 1.8l10.1 -0.6l1.8 -1.9l-0.4 -7.6l-12.4 -1.4l-0.6 0.8zM601.5 232.8l1.4 8.4l9.7 -0.2l2.6 -9.5l-1.2 -1.4l-10.9 -0.2zM601.8 220.5l10.9 -1.2l1.2 -9.2l-0.2 -0.3l-12.6 1.4zM603.1 262.6l-1 9.7l12 -0.3l-0.9 -10zM639 252.2l0.2 9l10.8 1.1l-0.3 -1l4.3 -5.4l-4.4 -4.9l-10.4 1zM637.8 240.9l0.2 0.2l12.2 -1.6l0.4 -7.3l-1.6 -1.9l-10.5 -0.2l-1.8 2zM651.1 240.7l8.4 1.2l0 -0.6l-0.3 -7.3l3.3 -1.4l1.3 -0.6l-1.4 -1.5l1 -0.8l-1.2 -1.1l-11.6 3.6l-0.4 7.3zM651.1 240.7l-1.5 10.3l4.4 4.9l0.7 -1l5.1 -6.3l-0.3 -6.7zM602.7 321.8l0.4 0.4l9.3 0l0.5 -6.1l-3.2 0.1l-7.4 0zM593.1 330.4l9.9 0.7l0.1 -8.9l-0.4 -0.4l-9.3 1.4zM612.4 380.8l-8.9 0.6l-1 10.3l4.2 -0.1l5.6 0zM659.8 321.2l8.9 0.2l0 -6.8l-4.6 0.2l-5.3 0.2zM612.2 347.3l0.8 0.9l9.6 -1.2l0.1 -0.2l-0.6 -7.6l-9.3 0.2l-0.8 0.9zM621.9 331.1l9.5 -1l-0.5 -7.5l-0.3 -0.3l-8.6 0.4l-0.3 0.3l0.1 8zM631.9 362.9l9.5 1.2l0.2 -0.2l-0.3 -8l-9.3 -0.1zM631.6 330.4l8.7 0.3l0 -8.8l-9.4 0.7l0.5 7.5zM640.8 338.6l-0.2 8.2l0.7 0.6l9.1 -0.9l0.4 -0.5l-1.1 -6.9l-8.8 -0.8zM641.3 355.9l0.3 8l9.2 -0.5l-0.6 -7.8l-8.2 -0.6zM650.8 346l8.4 -0.3l0.7 -7.1l-8.8 -1.4l-1.4 1.9zM649.8 329.6l1.1 1.3l8.6 -0.9l0.1 -8.7l-9.7 1.4zM661.8 379.4l9.9 0.8l0.9 -1.4l-1.5 -7.3l-0.1 0l-9 1.1l-0.4 6.6zM677.7 319.6l0.9 0.8l4.5 -0.6l-0.9 -5.8l-4.2 0.2zM681.2 386.5l6.1 0.5l1.7 -8.4l-7.9 0.3l-0.1 7.4zM628.3 409.7l-1 -1.2l-9.3 0.8l-3 3.8l0.1 0l0.1 4l12.4 0.2zM637.6 459.2l0.5 0.6l9.8 -0.7l-0.7 -8.7l-9.4 1.1zM637.8 451.5l9.4 -1.1l0.3 -0.4l0.1 -7l-9.6 -0.8l-0.5 0.5l-0.7 7.6zM646.9 433.7l1.1 8.8l8.9 -0.9l0.4 -8.6l-0.5 -0.6l-9.7 1.1zM638.2 467.7l9.6 0.3l0.5 -0.7l0.4 -7.4l-0.8 -0.8l-9.8 0.7l-0.4 7.3zM647.6 443l-0.1 7l9.9 1.3l0.3 -0.5l-0.8 -9.2l-8.9 0.9zM658.1 484l0.4 0.4l9.7 -1.6l-1 -6.5l-8.4 -1.2zM678 475.6l0.1 -0.1l0.3 -10l-9.4 2.4l0.3 5.7zM679.4 491.1l8.9 -0.1l0.6 -7.7l-0.6 -0.8l-9.6 0.4zM687.7 466.6l9.7 -1.3l0.5 -0.7l-1 -7.5l-8.6 0.3l-0.2 0.1zM688.3 457.4l8.6 -0.3l0.4 -0.6l-0.2 -7.7l-10 1.1zM688.9 483.3l9.5 0.4l0.6 -8.9l-0.3 -0.2l-9.8 0.4l-0.6 7.5zM709.6 489.5l-0.6 -7.2l-10.1 2.1l0.9 10.2l3.2 -0.1l3.5 -0.3zM698.9 484.4l10.1 -2.1l0.3 -0.6l-2.3 -7.5l-8 0.6l-0.6 8.9zM697.4 465.3l1.3 9.3l0.3 0.2l8 -0.6l1.5 -2.1l-0.4 -6l-1.3 -1.6l-8.9 0.1zM706.5 494.2l6.7 -0.3l-1.3 4.3l6.4 -0.7l0.5 -0.6l0 -7.5l-9.2 0.1zM709.6 489.5l9.2 -0.1l-0.3 -7.7l-0.5 -0.6l-8.7 0.6l-0.3 0.6zM634.8 549l0.2 0.3l9.5 0.3l1.5 -1.4l-0.8 -7.9l-9.8 -0.8zM657 540.5l9.9 -3.2l-0.7 -6.6l-9.7 -1.7l-1.5 1.7l1.9 9.8zM647 577.8l10.4 -1.2l-0.4 -8.9l-10.2 0.1zM667.9 576.6l-10.3 0.2l0.4 10.3l8.2 -0.2l2.7 -0.1zM657 548.1l10.3 1l0.6 -0.8l0.8 -9.3l-1.8 -1.7l-9.9 3.2zM657 567.7l0.4 8.9l0.2 0.2l10.3 -0.2l0.3 -0.5l0.5 -7.2l-1.2 -1.3l-9.7 -0.8zM690.1 576.9l-9.8 -0.2l-0.1 0.1l-0.7 9.5l7.2 -0.3l4.6 -0.2zM668.9 586.8l7.6 -0.3l3 -0.2l0.7 -9.5l-12 -0.7l-0.3 0.5zM668.7 568.9l10.2 -2.5l0 -8.4l-0.1 -0.1l-10.2 -1.2l-0.8 0.9l-0.3 10zM678.3 539.3l1.2 8.2l10.7 0.1l0.2 -0.2l-1.4 -9.3l-0.6 -0.6zM688 509.5l9.6 -0.9l0.6 -8.7l-11.4 0.2l-0.2 0.3zM680.3 576.7l9.8 0.2l0.7 -0.9l-0.7 -8.5l-9.9 0.3zM690.1 567.5l0.7 8.5l6.4 -0.4l0.3 -8.2l0.3 -0.7l-6.8 -0.3zM690.8 576l-0.7 0.9l1.2 8.9l5.6 -0.3l0.3 -9l0 -0.9zM699 519.3l0.5 9.2l10.7 -0.4l-1.3 -9.8zM708.6 509.3l0.8 8.5l10.2 -0.3l0.1 -0.7l3.5 -10.6l-6.9 0.4l-6.1 0.4zM668.7 628.8l4.8 5.6l5.9 -10.2l-1 -1.2l-9.7 5.7zM665.1 652.4l17.2 -6.8l-1.9 -5.9l-0.4 -0.1l-14.6 9.5zM662.2 641.5l3.2 7.6l14.6 -9.5l-6.5 -5.1zM672.2 665l1.7 -0.1l8.6 -3.9l1.7 -4.6l-1.5 -4.4l-18 2.8l-0.3 0.6zM671.8 665.8l-1.4 8.7l8.1 0.9l3.2 -0.7l-7.8 -9.8l-1.7 0.1zM689.7 675.5l3.4 1.8l5.5 -1.5l2.5 4.1l4.5 -2.2l0 -8.1l-9.9 -1.1l-5.5 5.2zM688 633.8l2.2 3.3l0.9 -4.3zM692.3 602.6l9.9 -0.3l-2.5 -7.9l-0.2 -0.6l-5.1 0zM696.9 646.3l7.2 4.7l1.8 -12.2l-1.8 -2l-2 0.1zM706.1 655.6l3.7 10.7l6 1.7l3.7 -4.7l0.6 -2.2l-0.1 -0.2l-12.9 -7l-0.4 0.2zM720.1 661.1l8.9 -5.4l1.3 -1.8l-14 -5.3l3.7 12.3zM729.9 668.9l11.8 -4.9l-5.9 -0.7l-5.7 -3.5l4.2 -2.9l2.6 -0.9l-2.5 -3.9l-4.1 1.8l-1.3 1.8l-0.5 10.8zM665.5 262.8l-0.5 -8.7l-9.9 0.3l-0.4 0.5l-5 6.4l1.1 3.3zM665.6 281.9l0.3 9.8l10.4 -0.3l0.9 -1.4l-0.9 -8.2l-10.1 -0.6zM675.1 302.7l2.8 4.4l1.9 3.1l9.8 -1.6l-0.4 -7l-1.2 -1.4l-10.2 -1.1zM676.2 262.4l-10.5 0.7l0.7 8.6l9.3 0.4l1.5 -1.6l-0.5 -7.7zM707.6 250.5l0.3 0.3l11.4 -0.4l3.1 -3.9l-5.8 -1.6l-7.3 -2.1l-2.3 -0.6zM689.6 318.2l2 2.3l10.5 -1.4l-1.4 -9.1l-10.6 -0.8zM691.1 328.9l11.9 -0.1l0.4 -0.6l-1.2 -9l-0.1 -0.1l-10.5 1.4zM710.6 270.5l10.1 -1.9l0.4 -0.5l-1.1 -8.4l-0.1 -0.2l-10.4 1zM709.9 271.4l0.2 7.1l0.3 0.4l10.2 1.4l0.9 -0.9l-0.8 -10.8l-10.1 1.9zM721.6 296.4l1.3 1.4l11 -0.1l-0.7 -9.4l-0.8 -0.7l-9.9 1.4zM736.6 326.4l-11.5 -0.8l0.8 11.6l4 -0.3l7 -0.6zM755.5 265.4l1.2 -3.3l-1.6 1.5l-1.6 2.1zM699.2 383l-0.6 -6.2l-9.2 -0.4l-2.1 11.1zM690.4 419.1l0.5 0.7l8 10.5l4.2 -6.1l-1.2 -7.6l-0.4 -0.5l-9.5 1zM701.9 416.6l1.2 7.6l9.5 -0.3l-0.1 -8.8zM713.1 449.9l9.7 -3l-0.2 -5.9l-10.3 -0.5zM711.8 400.5l0.5 5.8l9 1.2l-0.1 -7.8l-1.2 -1.1zM721.2 399.7l8.3 -0.9l0.2 -0.2l-0.7 -7.5l-9.3 0.4l0.3 7.1zM721.4 432.9l1.3 7.9l9 -2l-0.2 -6.8l-8.9 -0.5zM730.9 424.4l-8.7 -0.9l0.4 8l8.9 0.5l0.4 -0.6zM739.9 414.9l0.5 6.9l0.8 0.9l9.9 -2.6l-1 -6.2l-0.5 -0.5l-9.3 0.9zM740.3 414.3l9.3 -0.9l-1.2 -8.1l-8.2 0.9zM734.5 471.4l2.9 3.1l3.5 0.5l3.9 0.6l-0.8 -11.5l-8.7 -0.3zM780.8 278.2l2.2 6.9l8.7 -1.2l-0.1 -7.2l-0.6 -0.6l-10 1.8zM788.3 267.8l-3.1 -3.1l-0.7 2.3l-2.6 6.2l-0.8 -4.5l1.1 -6.5l-0.1 -0.1l-1 1.1l-0.1 14.7l10 -1.8zM792.3 293.6l0.7 0.8l9.3 -2l0.4 -0.6l-0.7 -7.3l-9.7 0zM788.3 267.8l10.9 0.1l-0.6 -8.1l-12.5 2.3l-0.9 2.6zM802 284.5l0.7 7.3l8.9 0l1.3 -1.8l-1.1 -6.9l-0.1 -0.1l-9.5 1.1zM752.8 240.5l-12.6 0.7l-0.3 0.5l1.9 22.3l3.7 4.3l3.8 -8.1l4.6 -9.4l0.5 -0.7zM769 236.1l15.2 3.2l0.7 0l-4 -15.8l-2 0.7l-10.5 1.4l-0.3 0.2zM784.9 239.3l4.6 0l5.5 4l0.3 -0.1l-0.4 -15l-7.2 -0.3l-0.3 -6.9l-6.5 2.5zM761.6 378.8l-0.3 -5l-5.1 -0.3l0.5 5.4l0 0.8zM761.6 378.8l-4.9 0.9l0.6 6.8l4.8 0l-0.1 -7.2zM758 394.2l0.7 6.9l4.8 -0.3l-0.2 -7l-0.5 -0.6zM763.7 401l8.2 -1l-0.2 -6.4l-8.4 0.2l0.2 7zM767.7 443.7l8.2 -1.1l-0.8 -6.8l-0.1 0l-7.7 1.1l0 6.5zM764.5 407.4l8 -0.3l0.5 -0.6l0.1 -5.1l-1.2 -1.4l-8.2 1zM802.1 368.5l0.8 6.9l0.3 0.3l5.7 -0.6l-0.3 -2.6l-0.6 -5.6zM829.4 404.6l0.5 0.5l8.3 -2l-0.8 -6.8l-9 0.5zM837.4 396.3l0.8 6.8l0.5 0.5l8.6 -0.8l0.6 -0.9l-1.5 -6.8l-0.1 -0.1l-8.5 0.7zM847.3 402.8l1.1 7.1l0.4 0.3l8.6 -0.8l-1.3 -8.1l-0.3 -0.2l-7.9 0.8zM854.3 392.6l1.6 1.7l7.9 -1l0.2 -0.5l-2.3 -7.3l-7.4 1.1zM858.9 415.6l8.6 0l-1.1 -8.3l-0.7 -0.5l-8.3 2.6zM873.9 406l-7.5 1.3l1.1 8.3l0.1 0l0.2 -0.4l6.4 -3.6l1.8 -3.8zM869.2 369.4l0.5 6.6l0.4 0.4l7.6 -1.1l-0.1 -7l-0.7 -0.5l-7.5 1.3zM882 397.8l-8.5 1.1l0.4 7.1l2.1 1.8l3.5 -7.5l2.5 -2.5zM880.8 389.1l-0.6 0.7l1.8 8l2.2 -2.1l4.7 -4.7l0.2 -2.6zM743.9 491.3l-5.9 -5.3l-9.6 6.8l7.9 -0.5l7.6 -0.6zM746.6 488.1l2.6 -0.4l4.1 -5.2l-0.3 -0.4l-7.6 -0.6zM819.3 473.9l1 1.3l6 2l1.9 -2.7l-1.9 -4.9l-1.3 -1.4l-4.6 -0.8l-1.4 1.5zM851.7 454.4l4.6 1l2.2 -10.8l-0.1 0l-3.1 0.9l-4.4 7.9zM856.6 439.5l3.5 -6.6l-7.5 -0.5l-2.6 4.2zM797.7 513.2l-0.1 2.6l5.2 5.7l2.3 -1.6l0.8 -6.8l-4.3 -1.7zM801.6 511.4l4.3 1.7l3.2 0.2l1.9 -8l-7.1 -1.2zM705.5 576.2l-0.3 -5.7l-0.8 -1.1l-7 -0.3l-0.2 7.4l0 1zM705.4 592.6l0.3 -7.4l-0.3 -0.5l-8.5 0.1l0 0.7l2.4 7.5zM705.1 561.5l8.4 -0.4l0.2 -0.2l-0.2 -8.4l-0.6 -0.6l-9.2 0.5l-2.3 5.5zM706 576.8l8.5 0.4l0.5 -0.6l-0.7 -8.3l-9.1 2.2l0.3 5.7zM705.4 592.6l1.1 1.2l8.5 -1.3l-0.5 -6.9l-8.8 -0.4zM707.6 617.4l9.8 0.2l0 -8.6l-1 -0.9l-9.2 2.7zM715 576.6l8.8 -1.5l0 -6.3l-0.2 -0.3l-8.9 -1l-0.4 0.8zM714.5 577.2l1.2 6.9l8.2 0.3l0.4 -8.7l-0.5 -0.6l-8.8 1.5zM718.4 636l2.5 -0.1l5.6 -0.4l2 -2.6l-1.4 -7.6l-8.8 -0.4l-0.1 0.2zM733.5 576.5l0.9 6.2l8.9 1l1.8 -2.4l-0.5 -6.3l-1 -0.9l-10 2.3zM768.5 581.4l10.9 0.2l0.3 -0.4l-0.2 -8.1l-1.7 -2l-11 2.1l1.6 8.1zM771.2 640.4l0.3 -8.4l-12.3 -2.7l1.1 9.4l0.2 1.9zM785.3 541.7l0.9 1l11.6 -2.2l-1.6 -8.8l-9.5 0.7zM788.7 561.2l10.1 -2.5l-0.3 -7.9l-10.8 -0.9l-1.2 1.9zM803.7 598.7l10.7 -1.5l-0.3 -8.8l-0.3 -0.2l-11.1 -0.1l-0.8 1.2zM816.7 615.8l-0.6 1.1l2.1 10.7l6.8 -0.7l9.5 -1.1l-1.5 -7.6l-0.3 -1.6zM815.4 598.2l1 9.4l15 -1.9l-0.2 -5.5l-0.3 -5.1zM818.3 554.5l0.6 2.4l1.8 6.2l4.6 -0.3l1.2 -6.9l-1.4 -3.2zM838.5 606.9l-1.4 -6.1l-5.9 0.7l0.3 7.6zM825.1 552.7l1.4 3.2l4.1 0.3l2.5 -6.2l-1.4 -1.6l-5.9 2.9zM834.1 579.5l-0.2 -0.1l-7.4 1.8l4.2 8.7l0.1 0.9zM824.5 576.4l0.6 1.9l1.4 2.9l7.4 -1.8l-3.6 -7.1zM830.3 572.3l3.6 7.1l0.2 0.1l1.4 0l6.5 -6l-7.6 -3.5l-4.1 1.8zM835.3 593.1l10 -4.4l0.9 -2.6l-0.4 -0.8l-0.1 -0.1l-6.1 -2l-6.1 8.7zM840.3 618l1.8 5.9l4.4 0.7l3.7 -5l0 -4l-0.1 -0.1l-9.5 2zM866.7 627.2l-7.1 -4l-2.2 2l-2.4 6.7l2.9 -0.2l8.7 -0.6zM855.4 554.6l8.6 3.9l0.1 -1.3l-3.7 -8.6l-3.8 1.2l-1.6 2.8zM854.4 583.8l0.6 5.2l5.2 1.2l0.4 -1.1l-3 -7.3zM859.8 622.8l7.1 -4.2l-0.2 -2.8l-2 -2.6l-6.4 2.2l-0.5 0.6zM858.3 615.4l6.4 -2.2l0.2 -3.9l-7.8 -0.9zM856.5 602.9l6.9 1.1l1.4 -3.6l-5.1 -5.4l-1.2 0.7zM865.4 608.4l6 -1.9l-0.3 -6.6l-0.5 -0.6l-5.8 1.1l-1.4 3.6zM864.9 609.3l-0.2 3.9l2 2.6l4.9 -1.8l1.5 -4l-0.8 -2.9l-0.9 -0.6l-6 1.9zM871.6 625.4l3.8 1.4l3.1 -3.5l0.2 -3.3l-0.7 -1l-1.5 -0.3l-6.4 1.6zM873.8 579.3l-0.7 1.8l4.1 3.3l4.1 -0.5l1.4 -0.8l0.5 -1.9l-2.6 -2.9l-2.3 -1.1zM883.5 553.1l-0.1 2.8l2.4 1.5l5.8 -2.8l-1.3 -1.3l-5.8 -4.3zM873.1 610l5.8 3.5l1.4 -1.5l-2.1 -6.1l-5.9 1.2zM886.9 618.6l-8.2 1.4l-0.2 3.3l8.4 6.2l1.7 -5.6zM879.7 594.1l-0.8 4.8l8.2 1.9l0.8 -3.2l-0.4 -4.1l-1.6 -1.1zM882.7 583.1l2.6 4.2l7 -1.4l0.8 -2.9l-3.1 -4.5l-0.7 -0.3l-6.1 3zM888.6 559.7l6.1 -2.4l-3.1 -2.7l-5.8 2.8zM893.9 623l-5.3 0.9l-1.7 5.6l0 0.1l0.1 0l9.8 -0.8l3.2 3.6zM894.8 598.3l0.4 6.5l0.4 0l5.9 -3.1l-0.1 -2l-3.6 -3.6l-2.1 0.4zM893.5 590.4l6.1 -1l-3.1 -6.3l-3.4 -0.1l-0.8 2.9zM901.9 613.1l1.7 0.1l5.8 -2.7l-2.3 -6.4l-0.7 0l-5.3 5.6zM895.6 604.8l5.5 4.9l5.3 -5.6l-4.9 -2.4zM904.4 595.6l3.5 7.7l5.5 -3.8l-7.2 -8.7zM905.2 583.7l0.4 6.3l0.5 0.4l13.3 -4.5l-5 -5.8l-8.6 2.2zM828 643.8l-12.1 -1.2l-3.3 4.7l9.1 3.3l2.2 2.4zM895.2 634.9l0.6 0.6l12.3 -2.2l2.5 -10.4l-3.9 0.3l-6 0.3l0.4 10.1l-4.3 -4.8l-2.7 0.2zM881.9 643.6l9 13.7l4.8 -2.1l3.9 -4.7l0 -0.1l-15.9 -7.8zM895.2 634.9l-11.5 7.7l15.9 7.8l0.8 -5.4l-3.2 -7l-1.4 -2.5zM902 676.3l1.4 -1.2l0.1 -8.2l-15.9 2.8l2 1.1zM916.1 640.5l-0.4 0.6l0.1 10.8l10.4 3.2l-6.9 -12.3l-1.3 -3.7zM916.7 691.6l5.3 3.7l0.3 -0.1l8.9 -8.6l-1.3 -6.2l-13 1.8zM880.7 538l0.8 8.7l1.5 1.2l3.8 2.8l3.1 -4.5l-0.6 -2.9l-8.5 -5.4zM899.8 549l10.6 -6l-0.9 -1.9l-1.1 -1l-8.9 -0.3l-2.5 5.5zM924.3 572.2l-16.8 -1.7l-0.4 0.2l4 5.6l9.4 10.8l0.7 -2l3.5 -5.7l2.1 -2.8zM910.1 525.9l-1.1 -4.3l-12.9 -3l-0.6 4.6l7.9 5.1l3.9 0zM907.3 528.3l1.1 11.8l1.1 1l9.6 -9l-2.6 -5.4l-6.4 -0.8zM910.4 543l1.1 1.3l9.3 -3.3l-0.8 -8.2l-0.9 -0.7l-9.6 9zM920 532.8l7.8 0.2l1.7 -1.8l1.2 -6l-5.6 -3.7l-4.3 1l-4.3 4.2l2.6 5.4zM920.1 552.9l4.9 9.2l1.2 1.1l6.1 -2.9l0.4 -0.6l-0.8 -8.7l-1.8 -2.7l-6.6 1.5zM927.8 533l1 7.3l2.8 2.7l8.5 -3.1l0.1 -3.3l-10.7 -5.4zM940.2 536.6l-0.1 3.3l0.5 0.5l13.5 -0.1l0.1 -0.2l-4.4 -12.4l-9.4 8.4zM980.9 463.9l3.2 -1.2l1 -6.5l-2.6 0.5l-8.8 1.7zM944 503l5.1 -2.6l2 -6.3l-0.6 -1.9l-1.8 -1.1l-7.1 0.8l0.7 8.5zM1003.3 464.8l0.4 0.1l3.7 -1l-1.8 -2.6l-3.7 -8.5l-3.5 0.7zM947.6 480.7l7.8 -0.9l0.7 -3.2l-10.2 -6.7l-2 4.6zM943.5 519.8l1.8 1.3l11.5 -2l-1.8 -9l-10.5 4.1zM955.4 479.8l0.7 1l11.3 -0.5l-2.8 -5.9l-1.4 -1.1l-4.6 0.1l-2.5 3.2zM965.5 525.4l2.2 0.7l6.8 -3.2l0.4 -2.4l0.6 -1.2l-0.8 -0.5l-10.7 -0.1l1.1 6.2zM964.3 509.6l4.1 1l4.8 -2.7l0.2 -8.5l-3.7 -2.2l-6.5 8.2l-0.6 2.4zM974.7 518.8l0.8 0.5l1.7 -3.2l4.1 -4.1l-1.6 -2.1l-6.5 -2l-4.8 2.7zM975 478.1l2.1 2.7l5.4 2.9l3.1 -3.2l-4 -7.7l-5.7 2.6zM983.1 488l5.6 2.3l1.2 -1l-3.4 -1.5l5 -4.1l-1.6 -3.9l-4.3 0.7l-3.1 3.2zM872 463l5.1 -2.3l0.3 -0.7l-2.5 -9.4l-4.9 7.5l-0.8 0.8zM914.3 441.1l5.1 -2.1l0.2 -4.8l-5.4 -3.3l-0.5 0.6l-2.1 8.6zM877.4 460l7.1 -2.9l0.4 -0.5l-2.3 1l-7.1 -7.9l-0.6 0.9zM884.5 457.1l0.9 7.6l1.4 0.6l4.2 -1l1.6 -6.5l-2.5 -3.5l-5.2 2.3zM901 459.8l-8.4 -2l-1.6 6.5l3.2 3.1l6.3 -4.2l0.6 -3.3zM912.9 448.5l2.4 -3.5l-1 -3.9l-2.7 -1l-0.9 3.8l-1.3 4zM921.9 447.9l5.3 -1.4l3.9 -4.2l-1.4 -3.2l-8.4 1.4zM956.5 458.3l-7.9 -0.1l-2.7 1.4l-0.8 4l8.2 -1.4l4.9 -0.9zM957.4 453.5l-0.9 4.8l1.7 3l4.5 -0.8l2.5 -7.1l-0.2 -0.3l-4.9 -1.5zM965.2 453.4l4.3 1.6l3.4 -6.4l-5.7 -1l-2.2 5.5zM972.4 458.7l0.4 -0.1l2.9 -0.6l1.6 -7l-1 -3.5l-0.7 -0.1l-2.7 1.2l-3.4 6.4zM965.6 436.2l2.9 5.5l2.7 0.1l2.7 -3.4l0.1 -4.2l-0.3 -0.3l-7.4 0.5zM987 454.8l-0.2 -0.5l-9.5 -3.3l-1.6 7l6.8 -1.3l4.6 -0.9zM976.3 447.5l1 3.5l9.5 3.3l-0.8 -9.9l-4.5 -0.8zM928.1 386.9l1.2 -1.6l6.6 1.4l4.1 -4.7l2.5 1.1l0 -0.9l-0.3 -1.1l-1.4 0.2l-9.1 1.7l-5 1zM994.3 407.1l-3 0.9l-2.3 2.5l3.3 0.6l2.3 6l5.4 -1.9l0.4 -0.2zM898.3 345.2l-1.3 6.9l5.1 3.4l7.8 -7.4l-0.5 -1.3l-9.8 -2.3zM900.6 369.4l1.5 0.4l8.3 -3.1l1.1 -5.2l-9.2 -4.7l-4.2 8zM902.3 356.8l9.2 4.7l1.5 -1.7l-1.7 -10.7l-1.4 -1l-7.8 7.4zM904.5 335.7l6.1 -4.3l-2.3 -4.1l-7.9 1.4l1.6 6.6zM931.9 348.9l1.6 5.3l10.4 -2.1l1.8 -3.8l-2.7 -3.3l-2.3 -1.7l-6.5 2.9zM1002.4 372.3l-10 3.9l0.8 1.6l8.1 4.8l3.1 2.8zM1008 352.5l1.7 0.6l6.8 -3.3l-0.6 -4.3l-4.9 0.4l2.7 -4.5l-1.9 0.9l-5.7 3.8l-0.3 2.1zM966.9 265l11.9 -5.7l-9 -6.5l-6.2 3.8zM961.7 288.6l4.1 -0.5l3.6 -6.1l1.2 -3.6l-0.7 -3.4l-11.7 1.2zM970.8 292.7l2.8 1.5l4.4 -6l-8.6 -6.2l-3.6 6.1zM990.8 306.5l12.2 -1.3l2.7 -2.3l-5.3 -10l-3.1 -1.9l-5.5 6.3zM995.9 286.4l11.6 -6.4l0.1 -0.7l-4.5 -7.1l-8.4 3.5zM992.5 323.1l5.2 3l4.3 1.4l6.6 -5.1l-3.7 -6.5l-2.7 -1.4l-7.9 3.4zM1008.3 290.5l3.7 3.3l3.8 -0.6l-0.1 -7.5l-4.2 -0.6zM1023.7 292.4l-7.9 4.5l0.1 6.6l7.8 -1.8l7.8 -1.8l1.7 -0.4zM1019.9 250.6l4.6 -1.7l4.1 -2.2l0.2 -6.3l1 -1.6l-1.3 -1.3l-11.1 -0.3l-1.3 1.9l2.5 10.3zM1029.3 277.6l-3.3 -1.7l-12.4 -0.2l1.9 8.4zM1029.3 277.6l-13.8 6.5l0.2 1l7.4 -1.6l7.4 -1.8l-0.7 -4zM1028.5 229.9l0 7.6l1.3 1.3l5 -8l-0.4 -2.3zM1024.5 248.9l3.8 6.4l0.1 -1.5l0.2 -7.1z"/>
<path fill="#cbe1e1" d="M120.3 170.8l16.3 8.3l4.3 -14.6l-9.2 -8l-4.4 0.8l3.5 -1.6l-0.5 -0.4l-1.2 -0.6l-4.7 4zM138.2 182.2l14.4 0.4l4.6 -12.5l-10.8 -5.8l-5.5 0.2l-4.3 14.6zM150.2 151.5l-3.8 12.8l10.8 5.8l1.7 -0.9l5.8 -13.9l-14.5 -3.8zM95.2 456.9l9.1 0.4l15.8 -12.9l-0.3 -0.5l-17 -12.4l-1.5 -0.3l-3.8 2l-3.4 22.2l0.2 0.8zM95.5 478.1l14 -2.1l4 -6.3l-9.2 -12.4l-9.1 -0.4zM251.6 201.3l2.5 3.5l15.9 2.1l1 -2.9l-4.4 -0.8l-4.3 -10l-3.1 -5zM248.1 280l14.5 15.9l4.4 -2.4l2.6 -7.8l-14.4 -10.5zM267 293.5l18.2 9.2l7.6 -4.4l-16.8 -21.5l-6.4 8.9zM300 291.3l-4.9 6.3l13.1 18.5l3.9 0.5l1.6 -9.7l2 -12.7l0.5 -3.3zM286.9 164.1l11.4 12.1l9.2 -4.5l2.2 -21.4l-2.9 -0.5l-8.3 -1.5l-8.2 -1.6l-2 -0.3l-2.2 4.5zM303.7 255.8l-16.4 0.5l-4.1 1.9l3.9 6.3l4.8 1.5l4.9 1.5l8.7 -2.4l6.3 1l2.3 -4.1zM299.2 211.8l17.6 -4.4l3.8 -11.3l-2.7 -5.4l-20.1 -1.1l0.6 21.1zM355.7 334.8l1 -0.5l-26.2 -16.1l-19.3 4.1l-1.6 10.2l-1.1 6.6zM361.8 347l-4.3 -12.8l-0.8 0.1l-1 0.5l-26.6 26.8l4.9 0.7l9.5 1.4l9.5 1.3l8.9 1.1zM320.9 423l-2.4 6.4l3.8 12.2l9.3 8.4l1.3 -9.3l1.8 -12.8l0.4 -3.5zM326.2 399.5l-10.4 10l5.1 13.5l14.2 1.4l1.3 -9.4l1.7 -12.4zM352.9 387l9.4 4.4l8.8 -13.9l-2.3 -6.2l-16.9 11.3zM396.7 412.8l3.5 -10.5l-8 -7.7l-10.2 -2.2l0.6 14.3zM400.2 402.3l6.7 -2.9l1.3 -3l-1.3 -8.1l-6.2 -6.9l-8.5 13.2zM604.1 455.5l1 9.8l0 0.1l10.4 -2.3l-0.3 -6.3l-10.4 -2.2zM615.2 456.8l0.3 6.3l6 6.4l-0.1 -6.9l-0.1 -10.9l-0.1 -2.4zM582.7 521.1l0.2 9.2l10.5 0.8l0.6 -0.5l0 -11.5l-10.7 1.2zM581.7 553l0.6 7.2l11.8 0.3l1.1 -10.4l-11.7 0.2zM594.7 509.5l-0.1 9l10.8 2.6l0.6 -0.7l1 -10.7l-0.5 -0.6l-11.7 0.2zM594.8 509.3l11.7 -0.2l0.9 -9.6l-1.1 -1.8l-11.3 2zM595.5 549.7l10.3 0.8l1.8 -10.2l-1.3 -2l-11.7 2.8zM619.6 561.2l-0.3 0.4l1.1 11.3l5.3 0.6l0.1 -2.1l0.1 -11zM558.9 647.1l1 11.4l12.1 -0.3l0.8 -9.7l-12.8 -2.5zM585 690.3l0.8 1l12.8 -0.2l0.1 -9.4l-13.8 -1.7l-1 1.2zM572.9 702l12.2 0.4l0.7 -11.1l-0.8 -1l-13.7 2.8l0.7 7.8zM584 646.7l1 1.2l13.8 -2.3l-1 -8.7l-11.3 -0.3l-0.8 0.7zM598.3 613.6l-0.5 10.7l1.2 1.3l11.5 -1.3l0.7 -10.6l-12.7 -0.4zM599.4 579.5l11.3 0.6l-0.1 -13.3l-2.2 -2l-10.6 0.1l-0.3 0.1zM599 625.6l-0.5 10.5l13.3 0.3l0 -10.8l-1.3 -1.3zM610.7 580.1l1.3 1.5l11.2 -2.8l-0.1 -5.6l-6.1 -0.7l-6.4 -5.7zM611.7 657.7l12.8 0.7l0.2 -0.4l-0.6 -11l-11.2 1l-1.5 9.3zM624.4 591.3l11.2 -2.5l-0.1 -1.1l-0.1 -5.9l0 -1.4l-12.1 -1.5zM590 232.4l11.5 0.4l1.6 -2.9l-1.9 -8.6l-10.7 0.7l-1.3 9.1zM601.2 221.3l1.9 8.6l10.9 0.2l0.4 -9l-1.7 -1.8l-10.9 1.2zM615.5 304.8l-0.7 -0.8l-11 -1.2l-0.6 0.8l-1.3 12.6l7.8 0l5.9 -0.1zM613.9 210.1l10.1 1.2l1.7 -1.9l-0.1 -8.6l-12.6 0.1l0.7 8.9zM603.8 302.8l11 1.2l1.1 -11.3l-0.7 -0.7l-12.6 2zM613.9 242.4l1.4 9l10.6 -1.6l1.1 -7.4l-1.4 -1.7zM625.1 220.2l1.5 1.5l9.7 -2.5l0.6 -8.5l-11.2 -1.3l-1.7 1.9zM627.6 282.3l12.1 -0.5l1.1 -1.2l0.1 -6.8l-2.2 -2.4l-12.4 1.2l0.4 8.6zM639.2 252l10.4 -1l1.5 -10.3l-0.9 -1.2l-12.2 1.6zM653.3 302.6l-12.2 -0.9l-0.3 0.5l-0.2 13.4l5.3 -0.1l6.6 -0.3zM640.5 294.2l0.6 7.5l12.2 0.9l0.2 -0.1l0.2 -12.3zM640.8 280.6l13.8 3.9l-2.8 -1.5l0.2 -7l0.2 -6.4l-11.3 4.2zM665.1 302.9l1.1 11.8l6.9 -0.3l9.1 -0.4l-4.3 -6.9l-4.3 -6.9l-3.9 -3.8zM602.7 348.5l9.5 -1.2l-0.2 -7l-9 -1.5l-0.7 9.1zM630.6 322.3l0.3 0.3l9.4 -0.7l0.4 -0.5l-0.3 -5.8l-3.5 0.1l-6.2 0.1zM631.7 347.3l-0.1 -8.4l-0.4 -0.4l-8.7 0.2l-0.4 0.5l0.6 7.6zM652.3 381l-0.9 -1l-9.2 0.2l-0.6 0.8l-0.5 9.8l0.3 0l8.7 -0.3l2.6 -0.1zM641.2 372.1l-0.3 -0.3l-8.3 0.3l-1.1 7.9l10.1 1l0.6 -0.8zM640.9 331.3l0 7l8.8 0.8l1.4 -1.9l-0.2 -6.3l-1.1 -1.3zM659.9 338.6l0.9 -1.1l-1.3 -7.5l-8.6 0.9l0.2 6.3zM652.7 390.4l6.1 -0.2l4.4 -0.2l-1.4 -10.6l-0.2 -0.2l-9.3 1.8zM607.9 400.8l-0.1 -9.2l-1.1 0l-8.7 0.1l4.3 8.6l2.7 3.7zM628.4 468.3l-1.3 -9.2l-5.7 0.3l0 3.2l0.1 5.8zM605 404l2 2.7l4.2 3.9l3.8 2.5l3 -3.8l0.1 -8.1l-1.4 -1.3l-8.8 0.9zM607.9 400.8l8.8 -0.9l0.6 -8.4l-1.9 0l-7.6 0.1zM618 409.3l9.3 -0.8l0.3 -7.5l-1 -1l-8.5 1.2zM648.7 459.9l8.4 -1.1l0.8 -1l-0.5 -6.5l-9.9 -1.3l-0.3 0.4l0.7 8.7zM667.4 466.3l1.6 1.6l9.4 -2.4l0.1 -0.2l-1 -6.6l-9.7 -0.5zM678.4 465.5l-0.3 10l9.8 -1.9l-0.4 -6.8l-9 -1.5zM687.4 440.9l8.7 0l0.7 -0.9l-0.9 -8.2l-10.2 0.9l0.2 6.8zM688.9 475l9.8 -0.4l-1.3 -9.3l-9.7 1.3l-0.2 0.2l0.4 6.8zM696.1 440.9l1.3 7.6l9.4 -0.1l2 -8.8l0.1 -0.9l-12.1 1.3zM688.3 491l3.1 4.1l1.5 -0.1l6.9 -0.4l-0.9 -10.2l-0.5 -0.7l-9.5 -0.4zM718.5 481.7l0.3 7.7l13.6 -0.3l0.2 -7.9zM718.8 489.4l0 7.5l6.6 0.1l1 -4l5.9 -3l0.1 -0.9zM635.4 539.5l-0.2 -0.3l-9.2 0.8l0 8.7l0 0.5l8.8 -0.2zM635.1 559.5l9.8 -1.5l-0.4 -8.4l-9.5 -0.3zM634.9 559.8l0.4 8l11.3 -0.2l0.3 -7.8l-2 -1.8l-9.8 1.5zM646.6 567.6l0.2 0.2l10.2 -0.1l0.8 -0.9l-0.6 -8.2l-1.4 -1.4l-8.9 2.6zM677.8 520.1l10.1 -0.7l-0.5 -9.1l-9.4 -0.4zM667.9 548.3l11.4 -0.4l0.2 -0.4l-1.2 -8.2l-0.7 -0.6l-8.9 0.3zM699 519.3l9.9 -1l0.5 -0.5l-0.8 -8.5l-10.5 0l0.5 9.7zM690.2 547.6l0 9.2l11.6 0.3l2.2 -5.6l0.4 -0.7l-5.4 -4.5l-8.6 1.1zM648.4 661.1l-4.3 -0.3l0.1 1.5l-2.7 10.4l7.2 -1.9zM646.2 599.5l1.7 2.8l7.8 0.7l4.4 -9.5l-1.6 -2.2l-12.3 7.8zM648.4 661.1l8 -4.5l-10.9 -11.9l-1.6 4.8l0.2 11.3zM653.1 615.7l5.9 -3.9l-0.8 -5.7l-2.5 -3.1l-7.8 -0.7l-0.2 1.4zM657 671.3l0.3 0.1l14.5 -5.6l0.4 -0.8l-7.8 -9.6l-5.8 1.9zM656.6 623.7l7.9 6.9l4.2 -1.8l0 -0.1l-1.5 -5.4l-2.8 -0.6zM658.2 606.1l10.5 -6.3l-1.3 -3.1l-7.3 -3.2l-4.4 9.5zM668.7 599.8l4.5 4.6l3.5 -0.4l5.6 -4.7l0.1 -3.5l-9.7 -6.7l-5.3 7.6zM659 611.8l0.1 0l10.4 -0.1l3.7 -7.3l-4.5 -4.6l-10.5 6.3zM671.2 617.1l5.4 1.7l7.7 -4.9l-7.6 -9.9l-3.5 0.4l-3.7 7.3zM682.3 599.3l9.5 3.7l0.5 -0.4l2.1 -8.8l-5.3 -7.9l-0.9 0.1l-5.8 9.8zM718.2 673l8.7 3.8l3 -7.9l-1.4 -2.4l-9 -3.2l-3.7 4.7zM707.1 653.9l12.9 7l-3.7 -12.3l-0.9 -0.8zM665.9 291.7l-0.3 -9.8l-13.8 0.7l0 0.4l9.3 4.9l4.3 4.3zM666.2 281.2l10.1 0.6l0.3 -0.4l-0.9 -9.3l-9.3 -0.4l-1 1.4zM674.5 243l0.6 9.9l0.7 0.6l9.7 -1.7l0.3 -0.3l-0.2 -7.3l-10.8 -1.5zM676.3 281.8l0.9 8.2l11 -0.5l0.1 -7.7l-2.5 -2.3l-9.2 1.9zM676.3 291.4l1.5 7.7l10.2 1.1l0.4 -10.4l-0.2 -0.3l-11 0.5zM700.7 310l1.4 9.1l0.1 0.1l10.6 -1.8l-0.5 -9.3l-0.2 -0.2l-9.5 0zM712.3 298.2l-0.2 9.7l0.2 0.2l10.5 -0.7l0.1 0l0 -9.6l-1.3 -1.4l-8.7 1.2zM725.1 325.6l0 -0.1l-11.3 1.9l-0.2 0.2l1.8 10.3l5.6 -0.4l4.9 -0.3zM731.3 258.2l0.2 0.4l9 0.1l0.1 -5.4l-5.6 -2.1l-2.1 -3.7l-1.8 -0.1zM722.8 307.4l1.5 10.1l0.7 0.7l9.9 -3l-0.3 -8.7l-11.7 0.9zM731.9 268.8l-0.4 -10.2l-0.2 -0.4l-11.3 1.5l1.1 8.4l10.7 0.8zM731.9 268.8l-0.1 0.1l0.4 8.1l8.7 1.4l1.4 -4.7l3.2 -5.4l-1.1 -1.3zM725 318.2l0.1 7.3l0 0.1l11.5 0.8l1 -1.2l-1.9 -9.4l-0.8 -0.6zM744.4 267l-3.9 -4.7l0 -3.6l-9 -0.1l0.4 10.2zM691.3 400.8l-8.9 2.3l0 4.1l1.2 1.8l7.6 1.1l1.5 -1.8l-0.8 -6.9zM692.7 408.3l8.9 0.9l0.5 -0.9l-0.5 -7.4l-9.7 0.5zM700.8 393.2l1.3 6.8l8.7 -0.4l0.2 -7.7l-1 -1l-8.3 1.1zM713.4 432.4l8 0.5l1.2 -1.4l-0.4 -8l-0.3 -0.3l-8.8 1.1zM722.2 423.5l8.7 0.9l1.3 -1.6l-2.1 -7.8l-7.5 1.3l-0.7 6.9zM724.3 455.8l9 -0.5l0.1 -7.7l-9.9 0zM731.7 438.8l0.3 0.3l9.7 -0.8l-1.1 -7.9l-8.7 1l-0.4 0.6zM750.8 430.6l0.9 -9.9l-0.6 -0.6l-9.9 2.6l0.8 5.9zM750.1 413.9l1 6.2l0.6 0.6l8.6 0.5l-0.3 -5l-0.5 -5.5zM751 430.8l9.5 -2.4l0.1 -0.5l-0.3 -6.7l-8.6 -0.5l-0.9 9.9zM768.8 297.2l-0.3 6.4l0.5 1.2l14.5 -2.6l-1.3 -8.6zM785.9 327.9l1.5 -2l-0.8 -6l-1.1 -0.9l-9.8 1.9l1 4.7l0 2.5zM791 276.1l0.6 0.6l7.6 -2.3l0.3 -6.1l-0.3 -0.4l-10.9 -0.1zM804.2 300.5l8.7 -1.5l-1.3 -7.2l-8.9 0l-0.4 0.6l1.8 7.9zM761.1 452.9l0.7 -0.4l7 2l-1.1 -10.8l-0.4 -0.3l-8 0.5l0.6 7.8zM759.7 357.8l1 7.8l7.2 -1.1l0.2 -7.2l-3.2 -2.4l-4.7 2.2zM761.3 373.8l0.6 -1l-1.5 -6.8l-4.8 0.5l0.6 7zM761.9 372.8l7.9 -0.9l-1.1 -6.7l-0.8 -0.7l-7.2 1.1l-0.3 0.4zM762.8 393.2l0.5 0.6l8.4 -0.2l0.3 -0.4l-0.5 -7.3l-0.5 -0.4l-8.6 1.3zM767.9 364.5l0.8 0.7l8.2 -1.7l-1.6 -6.9l-7.2 0.7zM771 385.5l0.5 0.4l7.2 -1l-0.2 -6.9l-7.4 -0.2l-0.8 1.4zM771.5 385.9l0.5 7.3l7.7 0.1l0.1 -0.1l0 -7.5l-1.1 -0.8zM781 407.2l0.3 6l0.9 0.8l7.6 -1.2l0.1 -0.2l-1.2 -6.9l-7.2 1zM779.8 393.2l8.2 -1.1l-2.5 -7.3l-5.7 0.9zM801.4 368l0.7 0.5l5.9 -1.6l-0.6 -5.5l-0.1 -0.8l-6.8 0.2l-0.2 0.3zM841.5 365.7l1.9 5.5l1.3 0.9l6.2 -1.2l-0.4 -7.8l-8.3 1.5zM839.3 411l9.1 -1.1l-1.1 -7.1l-8.6 0.8zM858 354.6l7.8 -1.3l-0.7 -5.8l-5.3 0.8l-6 3zM846.3 395l0.1 0.1l7.9 -2.5l0 -6l-0.5 -0.5l-8.8 0.7zM867.5 415.6l-8.6 0l-0.8 1.4l1.8 12.3l7.7 -13.7zM738 486l0.1 -0.7l-5.5 -3.9l-0.3 8.6l-5.9 3l2 -0.2zM738.1 485.3l1.1 -1.8l-2.4 -9.1l-1.5 -0.2l-2.7 5.4l0 1.8zM738 486l5.9 5.3l2.7 -3.2l-1.2 -6.6l-0.1 -0.1l-6.1 2.1l-1.1 1.8zM776.6 468.6l0 0.1l3.6 -2.4l1.4 -5.5l-3.2 -2.2l-4.5 2.6zM780.2 466.3l6.9 0.2l1.3 -1.1l-1.7 -6.5l-5.1 1.9zM837.3 427.5l3.7 1.7l6.3 -3.6l2.5 -3.1l0.2 -0.7l-5.1 1.9l-5.7 2l-2.1 -0.4zM840.5 462l2.5 -1.3l2.9 -7l-7.1 -0.5l0.1 7.8zM856.9 455.7l-0.6 -0.3l-4.6 -1l-1.6 6l6.5 4.6zM856.6 465l1.6 3.5l3.7 -2.7l1.6 -1.5l-0.4 -8.3l-1.6 -0.8l-4.6 0.5zM845.8 448l1.8 4.3l3.3 1.1l4.4 -7.9l-3.5 -0.9zM750.4 495.3l7.5 -2.1l-0.6 -6.6l-2.1 -0.5l0.8 4.6l-6.3 0.6zM743.6 502l6.5 3.1l1.3 -2.3l-1.7 -6.5l-6.6 -0.7l-1.5 1.6zM744.3 516.5l8.2 0.3l0.3 -7.4l-2.6 -2.5l-5.3 3.5l-1.9 2.8zM757.9 493.2l1.3 1.7l8.7 -0.9l0.3 -7.6l-8.4 0.6l-2.5 -0.4zM766.8 513.4l2.2 -0.2l2.8 -3.3l-5 -7.6l-4.5 1.3l-0.8 3.2zM762.9 521.8l6 2.9l0.4 -0.2l1.3 -8.8l-1.6 -2.5l-2.2 0.2l-4.9 4.3zM699 626.1l-1 -7.6l-1.8 -1.4l-3.4 7.4l-0.4 1.9zM698 618.5l9.5 -0.9l0.1 -0.2l-0.4 -6.6l-0.2 -0.2l-7.2 -1.2l-2.1 4.5l-1.5 3.2zM707 610.6l-0.2 -9.6l-0.5 -0.4l-4.4 0.7l0.7 2l-2.8 6.1zM737.1 641.2l-7 -0.1l-0.6 3.3l7.4 11.6l2.5 -2.2zM712.9 551.9l-0.3 -9l-3.3 -3l-1 2.3l-4.3 9.3l-0.3 0.9zM713.5 552.5l8.8 -1.2l0.5 -0.5l-0.9 -7.6l-0.5 -0.5l-8.8 0.2l0.3 9zM717.4 609l9.4 -0.1l0.2 -0.2l-0.5 -7.6l-1.1 -1.2l-9.2 1.2l-0.4 0.5l0.6 6.5zM713.5 561.1l1.2 6.4l8.9 1l-0.2 -8.5l-0.3 -0.3l-9.4 1.2zM722.3 551.3l0.8 8.4l0.3 0.3l8.8 -0.5l0.2 -0.3l-0.3 -7.4l-0.7 -0.8l-8.6 -0.2zM724.3 584.7l9.8 -1.6l0.3 -0.4l-0.9 -6.2l-9.2 -0.8l-0.4 8.7zM724.3 575.7l9.2 0.8l0.1 -0.1l-0.1 -8.8l-0.6 -0.5l-9.1 1.7l0 6.3zM717.8 618.1l0.5 6.8l8.8 0.4l0.2 -0.3l0.1 -8.4l-0.3 -0.4zM727 608.7l9 -0.5l0.1 -8.1l-0.6 -0.6l-9 1.6zM726.5 601.1l9 -1.6l-0.8 -7l-0.7 -0.6l-8.3 0.7l-0.3 7.3zM737.3 615.7l8.4 -0.1l0.7 -0.9l-0.1 -7.3l-0.4 -0.4l-9.8 1.3zM728.5 632.9l-2 2.6l4.6 -0.3l-1 5.9l7 0.1l1.2 -1.8l-0.9 -7.3zM736 608.2l0.1 0.1l9.8 -1.3l-0.9 -7.6l-8.9 0.7zM739.7 542.8l1.3 7.4l0.9 0.7l8.3 -2.9l0.1 -6.1l-0.5 -0.7l-8.8 0zM744.4 590l12.7 0.3l0.1 -4.6l-3.7 -3.4l-8.4 -1l-1.8 2.4zM753.3 573.7l0.2 8.6l3.7 3.4l0.1 -3.3l0.2 -8.3zM768.4 581.3l-1.6 -8.1l-0.2 -0.2l-9.1 0.9l-0.2 8.5l0 1.2zM766.6 573l-0.5 -10.2l-0.2 -0.2l-8.2 1l-0.1 6.3l-0.1 4zM779.7 581.2l11 -1l-1.3 -10.3l-9.9 3.2zM787.7 549.9l10.8 0.9l0.3 -0.4l-0.4 -9.4l-0.6 -0.5l-11.6 2.2zM830.3 572.3l0 -0.5l-1.2 -1.6l-6.2 0.6l1.6 5.6zM842.1 623.9l-1.8 -5.9l-5.2 0.8l-1.8 1l1.2 6l2.2 4zM839.6 583.2l6.1 2l0.1 -6.6l-2.3 -5.5l-1.5 0.4l-6.5 6zM843.6 569.3l0.8 -8.3l-3.1 -0.3l-1.9 4.9zM846.5 624.6l-4.4 -0.7l-5.4 5.9l1.7 3.1l9.7 -0.6l3.3 -0.2zM851.1 563.1l1.7 -3l-6.5 -6.8l-1 7.4zM852.8 590.4l2.2 -1.4l-0.6 -5.2l-7.6 2.4zM857.6 581.8l3 7.3l8 -3l-0.1 -1.8l-1.2 -1.4l-7.7 -3.7l-1.6 1.6zM861.4 547.4l6.4 -0.5l1.3 -5.3l-0.1 -0.5l-6.8 -1.7l-1.6 5.1zM859.6 579.2l7.7 3.7l1.8 -8.5l-2.2 -1.4l-7.2 5.9zM875.4 626.8l-3.8 -1.4l-4.7 1.6l-0.2 0.2l-0.1 3.9l1 -0.1l7.6 -0.5zM865.9 569.4l1 3.6l2.2 1.4l0.6 0.1l6.4 -3.2l0.6 -1.9l-3.6 -2.8l-6.9 2.3zM870.6 599.3l0.5 0.6l7.7 -0.8l0.1 -0.2l0.8 -4.8l-2.1 -1.9l-6 -1.7l-1.6 2.9zM879.7 594.1l6.2 -1.7l-0.6 -5.1l-2.6 -4.2l-1.4 0.8l-3.7 8.3zM871.6 590.5l6 1.7l3.7 -8.3l-4.1 0.5zM878.8 599.1l0.5 5.6l7.6 1.4l1.4 -1.5l-1.2 -3.8l-8.2 -1.9zM888.6 623.9l5.3 -0.9l2.2 -5.3l-8.9 0.4l-0.3 0.5zM883.2 581.2l6.1 -3l-0.7 -6.8l-1.2 -1l-3.6 -0.3l-3.2 8.2zM888.3 604.6l6.2 0.6l0.7 -0.4l-0.4 -6.5l-6.9 -0.7l-0.8 3.2zM888.6 571.4l9.4 -3.9l1 -1l-10 -4l-1.2 1.8l-0.4 6.1zM889.3 578.2l0.7 0.3l6.2 -2.4l1.8 -8.6l-9.4 3.9zM889 562.5l10 4l3.8 -1.9l-0.1 -0.1l-8 -7.2l-6.1 2.4zM887.9 597.6l6.9 0.7l0.9 -1.8l-3.3 -4.5l-4.9 1.5zM890 578.5l3.1 4.5l3.4 0.1l1.6 -1.1l0.7 -4.1l-2.6 -1.8zM896.5 583.1l3.1 6.3l2.4 0.9l3.6 -0.3l-0.4 -6.3l-7.1 -1.7zM909.4 610.5l-5.8 2.7l7.4 9.7l1.8 -0.1l-0.6 -10.9zM901.6 679.3l0.4 -3l-12.4 -5.5l3.6 1.9l1 11.5zM829.9 643l13.1 10.9l0.8 -21.3l-4.6 0.2l-8.4 3.4zM877.2 643.4l-14.3 -5.9l-3.9 3.8l-1.6 5.7l8.9 2.1l5.7 5.1zM883.2 667.3l0.2 0.3l4.2 2.1l15.9 -2.8l1 -1.7l-8.8 -10l-4.8 2.1zM908.1 633.3l3 3.4l5 3.8l1.9 -1.4l-2.9 -8.6l-2.3 -7.7l-2.2 0.1zM934.4 709.5l-11.5 2.3l1.5 12l9.5 -3.9l0.7 -1.5zM939.1 746.6l9.1 -12.6l-0.1 -0.3l-5.3 -3.1l-5.2 0.1l-0.4 0.3l-2.3 10.3zM900.3 551.9l-0.5 -2.9l-2.8 -3.7l-7.1 0.9l-3.1 4.5l3.5 2.6l3.4 3.1zM889.9 546.2l7.1 -0.9l2.5 -5.5l-2.5 -3.8l-5.2 -1.6l-2.5 8.9zM897 536l2.5 3.8l8.9 0.3l-1.1 -11.8l-3.9 0zM932.3 560.3l-6.1 2.9l-1.9 9l2.5 4.4l2.4 -3.2l8.1 -7.7zM921.2 541.2l-0.4 -0.2l-9.3 3.3l1.6 7.4l7 1.2l3.4 -3.1zM931.9 551l11.2 -1.2l0.3 -0.6l-2.8 -8.8l-0.5 -0.5l-8.5 3.1l-1.5 5.3zM935.7 523.5l4.7 12.6l9.4 -8.4l0.9 -2.8l-8.2 -5.8l-1 -0.8zM942.7 552.7l-2 4.5l2.7 3.2l3.7 -3.2l0.5 -0.8zM943.4 549.2l7.7 0l3 -8.9l-13.5 0.1zM911.1 479.1l1.1 2l3.8 4.3l2.6 0.1l0.5 -0.6l1.8 -7.4l-6.9 -8.7l-5.9 0.9zM922.1 493.5l1.9 0.9l6.6 -4.3l-1 -6l-0.4 -0.3l-10.1 1.1l-0.5 0.6zM933.9 498.8l2.3 -1.1l3.6 -6.4l-0.9 -1l-7.5 0.2zM930.6 490.1l0.8 0.4l7.5 -0.2l0.2 -5.6l-2.4 -3.1l-7.1 2.5zM944.5 514.2l10.5 -4.1l0.9 -1l-3.6 -5.8l-3.2 -2.9l-5.1 2.6l-2.5 5zM945.9 469.9l10.2 6.7l2.5 -3.2l-4.5 -11.3l-0.8 0.1l-4.5 0.8l-2.9 6.6zM955 510.1l1.8 9l0.8 0.5l5.7 -1.7l1 -8.3l-1.7 -1.8l-6.7 1.3zM963.7 492.8l4.1 0.9l-0.4 -11.1l-8.5 4.5zM968.4 480.9l6.3 7.4l2.4 -7.5l-2.1 -2.7zM980.8 499.1l9.3 0.8l-1.4 -9.6l-5.6 -2.3l-2.8 2.1zM989.9 479.8l1.6 3.9l1.3 -1.1l9.7 -0.1l-1.5 -3l-5.2 -1.6l-4.7 0.2zM863.3 467l7.8 -1.4l0.2 -0.1l0.7 -2.5l-2.8 -4.1l-7.1 6.7zM877.4 460l-0.3 0.7l4.6 5.3l3.7 -1.3l-0.9 -7.6zM892.6 457.8l8.4 2l0.4 -2.5l-1.8 -3.9l-0.6 0.3l-7.2 -0.2l-1.7 0.8zM917.3 464.7l-7 3.6l-0.4 1.2l4.4 -0.7l4.4 -0.7zM917.3 464.7l1.4 3.4l5.4 -0.9l0.4 -0.1l-0.6 -2.2l-5.5 -2.9zM929.7 439.1l1.4 3.2l1.6 0.9l8.6 -2.7l0 -0.2l-6.1 -5.1l-1.8 0.3l-3.6 2.8zM948.6 458.2l7.9 0.1l0.9 -4.8l-5.7 -2.9zM959.5 445.3l0.6 6.3l4.9 1.5l2.2 -5.5l-1.1 -2.7l-5.6 -0.5zM967.2 447.6l5.7 1l2.7 -1.2l-4.4 -5.6l-2.7 -0.1l-2.4 3.2zM980.8 424.4l6.9 3.6l-0.6 -7.6zM981.3 426.5l3 4.4l2.9 0.7l-0.2 -2.1l-6.2 -4.2zM934.7 392.5l0.2 9.8l4.1 -4.3l5.1 -3.6l5 -3.6l0.6 -0.2zM978.6 400l-6.1 2.4l-4.3 2.4l2.1 8.3l9.6 2.4zM978.6 400l1.3 15.5l3.9 0.9l0.6 -0.7l-2.4 -5l-2 -4.9l-1.3 -6zM895.1 352.9l-1.2 9.9l4.2 2l4.2 -8l-0.2 -1.3l-5.1 -3.4zM899.6 344.5l9.8 2.3l1.2 -4.6l-6.1 -6.5l-2.5 -0.4l-1.2 1.4zM902.1 369.8l3.4 8.5l10.6 0.9l-2.5 -9.6l-3.2 -2.9zM919 382.1l-2.9 -2.9l-10.6 -0.9l0 0.1l-0.1 9.3l8.1 -1.4l1.8 -0.3l4.7 -0.8zM919 382.1l4.2 -6.7l-0.2 -8.5l-9.4 2.7l2.5 9.6zM933 356.1l1.2 4.8l10.2 0.3l-0.5 -9.1l-10.4 2.1zM948.1 373l7.2 -4.4l0.3 -9.4l-10.6 2.7l0.3 7.1zM980.9 323.8l4.7 1.4l0 -8.3l-3.8 -4.3l-0.5 0.2l-4 7zM1016.1 366.6l-8.6 5.9l2.8 11l4.2 -7.9l1.4 -4.3l0.6 -4.8zM1001.8 339.8l10 2.5l1.9 -0.9l0.1 -0.2l0.1 -1.4l0.3 -3.1l-12.2 -0.2zM1016.5 366.5l0.6 -3.9l-5.3 -3.7l-6.1 5.1l10.4 2.6zM905.4 314.5l-0.1 0.2l-6.6 7.2l1.2 6.9l5.1 -0.9zM966.7 266.2l0.2 -1.2l-3.3 -8.4l-5.3 -1.2l-0.3 0.3l-6.7 8.1l3.5 3.2l0.4 1.3zM1018.4 335.7l-0.7 0.6l-0.3 -1.3l1.9 -4.4l-2.1 -2.2l2 -5.5l-10.6 -0.5l-6.6 5.1l4.2 1.4l8.4 2.8l-0.7 8.1l-0.1 1.4l0.1 0l1.4 1.8l1.4 -0.4zM970.7 246.5l3.3 -1l5.7 -11.7l-3.4 0.8l-3.8 2.1l-5.9 6zM973.6 294.2l0.2 0.6l4.8 3.8l5.3 -3.3l0.4 -10.1l-1.1 -0.7l-5.2 3.7zM983.9 295.3l7.9 2l5.5 -6.3l-1.4 -4.5l-11.6 -1.3zM994.3 317.9l7.9 -3.4l0.8 -9.3l-12.2 1.3l-0.3 0.3zM998.6 244l1.7 13l6.9 3.3l-1.5 -6.2l-1.8 -8.5l-1.3 -6.5zM1023 287.3l5.8 -5.2l-5.7 1.4l-2.6 0.6zM1023.9 291.8l8.4 -4.7l-0.6 -5.6l-1.2 0.2l-1.7 0.4l-5.8 5.2zM1032.3 287.1l3.9 4.2l7.1 -5.2l-0.9 -7l-4.8 1.1l-5.9 1.3zM1019.7 257.2l0.2 -6.6l-1.3 -1.2l-13.7 1l0.8 3.7l1 4.1z"/>
<path fill="#c4dede" d="M112.1 368.8l20 17.3l-0.9 -1.5l-7 -11.5l3.2 -12.5l3.3 -12.6l0.6 -2.6l-17.6 14.3zM266.6 325.1l6.6 1.2l5.7 1l9 -7.6l-2.9 -16.4l-16.9 14.8zM287.9 319.7l11.2 2.6l9.1 -6.2l-13.1 -18.5l-2.3 0.7l-7.6 4.4l-0.2 0.6zM297.8 189.6l20.1 1.1l1.7 -11.7l-12.1 -7.3l-9.2 4.5l-3.2 10.1zM356.7 334.3l0.8 -0.1l6.3 -8.5l-0.6 -1.6l-22.3 -23.4l-10.4 17.5zM374.3 458.4l1.2 13.8l3.2 0.4l3.8 -13.7l-5 -3.5l-0.8 -0.2zM594 519.1l0 11.5l11.4 -0.9l0 -8.6l-10.8 -2.6zM572.8 648.5l1.1 -1.1l-1.8 -11.1l-10.9 0.5l-1.2 9.2zM584.9 680l13.8 1.7l0.6 -0.7l-1.2 -11l-12.2 -0.2zM585.9 624.3l11.9 0l0.5 -10.7l-13 -0.1l-1 1.2zM597.8 636.9l1 8.7l0.7 0.9l11.9 -0.7l0.5 -9.4l-0.1 0l-13.3 -0.3zM585.3 613.5l13 0.1l0.2 -0.3l-0.5 -9.7l-11.9 -1zM598 603.6l0.5 9.7l12.7 0.4l0.3 -0.3l-1 -10.5l-11 -1zM599.2 668.8l12.3 0.3l0.2 -11.4l-0.3 -0.4l-12.3 -0.9l-0.5 0.5zM611.5 613.4l11.2 -0.1l2.2 -11.4l-13.1 -0.5l-1.3 1.5zM611.4 590.3l12.6 1.6l0.4 -0.6l-1.1 -12.4l-0.1 -0.1l-11.2 2.8zM637.3 635l0.8 12.8l5.9 6.5l-0.1 -4.8l3.5 -10.4l-3.8 -10.1zM602.4 282.6l-0.6 10.6l0.8 0.8l12.6 -2l-0.8 -8.9l-0.7 -0.6l-11 -0.3zM612.6 241l1.3 1.4l11.7 -1.7l-1.1 -8.9l-9.3 -0.3zM615.9 292.7l11.1 0.3l0.3 -0.4l0.3 -10.3l-0.9 -1.1l-12.3 1.9l0.8 8.9zM613.7 282.5l0.7 0.6l12.3 -1.9l-0.4 -8.6l-0.7 -0.9l-11 0.8zM636.9 210.7l0.4 -0.5l-0.8 -9.9l-10.7 0.4l-0.2 0.1l0.1 8.6zM626.2 230l10.5 2.1l1.8 -2l-0.6 -9.4l-1.6 -1.5l-9.7 2.5zM627.3 292.6l12.1 0.3l0.3 -11.1l-12.1 0.5zM665.1 302.9l-11.6 -0.4l-0.2 0.1l-0.8 12.6l2.5 0l9.1 -0.4l2.1 -0.1zM640.7 321.4l9 1.1l0.1 -7.2l-3.9 0.2l-5.5 0.1zM642.2 380.2l9.2 -0.2l0.3 -8.6l-0.1 -0.2l-10.4 0.9zM663.2 390l4.2 -0.2l3.1 -0.1l1.3 -1.9l-0.1 -7.6l-9.9 -0.8zM671.7 380.2l0.1 7.6l9.2 -1.5l0.1 -7.4l-0.2 -0.2l-8.3 0.1zM627.1 459.1l0.2 -0.2l0.6 -7.9l-6.6 -0.7l0 1.4l0.1 7.7zM627.4 434l0.7 -8.7l-10.4 0.1l3.3 4.5l0.1 4zM627.9 451l-0.6 7.9l10.3 0.3l0.2 -7.7l-1 -1.2l-8.4 0.1zM628.8 477l9.8 -1.5l-0.4 -7.8l-0.5 -0.6l-9.2 1.3l-0.1 8.1zM647.1 433.5l9.7 -1.1l-0.1 -6.7l-0.8 -0.9l-9.2 0.3zM655.9 424.8l0.8 0.9l9.1 -1.7l-1 -7l-7.8 -1l-1.2 1.3zM658.6 467.9l-0.3 6.6l0.5 0.6l8.4 1.2l2.1 -2.7l-0.3 -5.7l-1.6 -1.6l-8.5 1.1zM658.9 467.4l-1.8 -8.6l-8.4 1.1l-0.4 7.4l10.3 0.6zM666.7 433.2l0.3 0.4l8.6 -0.8l0.3 -0.4l-0.2 -7.9l-0.9 -0.9l-8 1.2zM679.1 491.5l0.2 4.1l3.4 -0.1l8.7 -0.4l-3.1 -4.1l-8.9 0.1zM707.6 456.3l-0.8 8.2l1.3 1.6l10.7 -3l-3.9 -5.7l-4.7 -4.1zM646 548.2l9.7 1.3l1.3 -1.4l0 -7.6l-0.1 0l-10.8 -1.2l-0.9 1zM656.7 511l9.1 0.3l0.8 -9.6l-0.7 -0.8l-10.6 0.6l0.5 8.6zM667.3 549.1l1.3 7.6l10.2 1.2l0.5 -10l-11.4 0.4zM678.3 539.3l10.1 -1.8l0.1 -7.9l-10.3 -0.4l-0.6 9.5zM687.9 519.4l0.4 0.3l10.3 -0.7l-0.5 -9.7l-0.5 -0.7l-9.6 0.9l-0.6 0.8zM688.4 537.5l0.6 0.6l11 -1l0.1 -0.2l-1 -7.8l-10.6 0.5zM691 566.4l6.8 0.3l3 -7.3l1 -2.3l-11.6 -0.3l-0.3 0.3zM652.5 616.6l-1 7.2l5.1 -0.1l7.8 -1l-5.3 -10.9l-0.1 0l-5.9 3.9zM656.4 656.6l2.2 0.7l5.8 -1.9l0.3 -0.6l0.4 -2.4l0.3 -3.3l-3.2 -7.6l-0.9 -0.6l-15.1 1.7l-0.7 2.1zM664.4 622.7l2.8 0.6l4 -6.2l-1.7 -5.4l-10.4 0.1zM696.7 646.3l0.2 0l5.2 -9.4l-1.7 0.1l-9.9 0.5zM706.7 654.1l0.4 -0.2l8.3 -6.1l0.5 -3.8l-10 -5.2l-1.8 12.2zM720.1 661.1l-0.6 2.2l9 3.2l0.5 -10.8zM675.7 272.1l0.9 9.3l9.2 -1.9l0.3 -7.6l-8.9 -1.4zM685.6 244.2l0.2 7.3l10.9 1.4l0.4 -0.5l-1.1 -9.8l-10 1zM688.3 281.8l9.3 -2.6l-0.7 -7.3l-9.3 -1.4l-1.5 1.4l-0.3 7.6zM699.1 269.1l10.8 2.3l0.7 -0.9l-1.1 -10l-0.8 -0.8l-10 2.8zM712.9 297.6l8.7 -1.2l0.9 -7.4l-1.2 -1.6l-10.5 1.5zM712.9 317.5l11.4 0l-1.5 -10.1l-10.5 0.7l0.5 9.3zM720.6 280.3l0.7 7.1l1.2 1.6l9.9 -1.4l-1 -9.5l-9.9 1.3zM753.5 265.7l-6.5 8.9l-3 4.2l5.3 0.8l4.6 -9.5l1.6 -4.7zM691.9 401.4l9.7 -0.5l0.5 -0.9l-1.3 -6.8l-9.9 -0.8l0.4 8.4zM691.2 410.1l0.8 7l9.5 -1l0.1 -6.9l-8.9 -0.9zM743.4 339.7l0.9 0.7l3.3 -0.4l0.1 -4.6l-4.8 0.4zM698.9 430.3l1.5 2l9 0.7l-0.4 4.1l0.3 0l4.1 -4.7l-0.3 -8.1l-0.5 -0.4l-9.5 0.3zM733.7 447.2l8.6 -0.9l0.1 -7.3l-0.7 -0.7l-9.7 0.8zM742.4 439l9 -1.9l-0.4 -6.3l-0.2 -0.2l-8.8 -2l-1.4 1.8l1.1 7.9zM751 430.8l0.4 6.3l5.1 5.3l2.1 -3.9l1.9 -10.1zM780.8 278.2l0.2 -0.3l0.1 -14.7l-7.5 7.6l-2.7 5.4l-0.1 2.6zM785.5 319l-1.4 -7.5l-12.3 -0.3l1.1 2.4l2.4 4.9l0.4 2.4zM784.2 302.7l-0.7 -0.5l-14.5 2.6l2.8 6.4l12.3 0.3l0.7 -0.8zM785.9 327.9l0.7 7.1l1.2 0.9l8.7 -1l-0.9 -7.4l-8.2 -1.6zM794 302.1l10.1 -1.8l-1.8 -7.9l-9.3 2l0 6.5zM799.2 267.9l0.3 0.4l9.5 -1.2l0.2 -0.3l-2.1 -7.6l-8.1 0.1l-0.4 0.5zM808.8 342.8l-9.5 0.3l0.2 6.3l6.4 -0.7l0.2 1.5l4.2 -0.6zM805 308.8l9.1 -1.3l0.3 -0.6l-0.2 -6.9l-1.3 -1l-8.7 1.5zM805.9 326.2l1 6.4l1.3 0.9l8.9 -1.2l-0.7 -8.6l-9.8 1.1zM810.3 349.6l4.2 -0.6l5.1 -0.8l-0.8 -7.7l-0.3 -0.3l-9.7 2.6zM759.7 357.8l0.5 -0.7l-0.1 0.1l-5 -1.7l-0.6 -1.1l0.4 4.5zM759.9 451.7l-0.6 -7.8l-2.4 -2.3l-2.6 5l-0.6 5.3zM762.4 386.8l8.6 -1.3l-0.7 -6.3l-8.3 0.1l0.1 7.2zM759.9 415.4l0.1 0.8l0.4 6.4l5.4 -0.5l0 -6.6l-1.4 -1.3zM776.9 363.5l7.5 -0.9l-0.2 -6.6l-8.4 -0.1l-0.5 0.7zM778.7 384.9l1.1 0.8l5.7 -0.9l1 -1.4l-0.4 -6.1l-0.6 -0.5l-6.8 1l-0.2 0.2zM781.5 406.7l7.2 -1l0.9 -1.5l-0.6 -4.7l-8.4 -0.3l-0.2 0.3zM775 435.8l0.1 0l8.9 -0.7l0 -0.2l-1.4 -5.9l-8.2 0.3zM789 399.5l0.6 4.7l8.4 1.2l0.2 -0.3l-0.4 -7.4l-0.4 -0.3l-8 1.3zM792.3 361.8l0.7 0.7l7.3 -1.4l0.2 -0.3l-0.8 -6.2l-7.9 0.7zM816.7 376.3l1.9 7.6l7.6 -1.5l0.2 -0.2l-0.3 -6.5l-0.9 -1l-7.5 0zM828 389.7l8.6 -1.4l-1.3 -6.6l-8.9 0.5l-0.2 0.2zM835.3 381.7l1.3 6.6l0.2 0.2l8.2 -1.8l-0.8 -6.7l-0.5 -0.4l-7.1 -0.2zM845 386.8l8.8 -0.7l-0.8 -7.3l-8.8 1.2l0.8 6.7zM847.9 401.9l7.9 -0.8l0.1 -6.8l-1.6 -1.7l-7.9 2.5zM858.1 417l-8.4 0.8l0.4 4l0.6 -0.2l9.1 7.9l0.1 -0.2zM849.7 417.8l8.4 -0.8l0.8 -1.4l-1.5 -6.2l-8.6 0.8l-0.2 6.5zM861.7 385.5l2.3 7.3l8.5 -3.1l-1.6 -6l-8.7 1.2zM871 383.4l9.4 -1.8l0 -0.1l-0.9 -5l-1.8 -1.2l-7.6 1.1zM865.8 353.3l8.8 -1.5l-1.6 -7.8l-2.2 -2.3l-5.3 5.7l-0.4 0.1zM880.4 381.5l9.2 -0.3l0.7 -8.8l0.2 -1.3l-0.4 -0.1l-10.6 5.5zM745.4 481.5l7.6 0.6l-1 -6.5l-3.9 -1.9l-1.5 2.2l-1.5 -0.2l0.2 5.7zM749.2 487.7l4 3.3l2.8 -0.3l-0.8 -4.6l2.1 0.4l-1.5 -3.1l-2.5 -0.9zM778 483.5l-4.5 -5.9l-5.3 2.1l-1.5 2.2l0.3 4.6l2.2 -0.2l9.2 -0.8zM792 478.5l3.6 -1.8l-0.6 -4l-1.2 -2.4l-6.4 3.3l-0.1 0.3zM811.4 469.7l0.8 -0.7l-0.7 -4.4l-7.2 -0.3l-1.1 2.5zM861.5 455.2l1.6 0.8l4.3 -1.1l0.8 -4.1l-0.7 -0.8l-5.7 -1.4zM737.4 497.6l4.2 -0.4l1.5 -1.6l-0.1 -3.8l-6.7 0.5l-3.2 0.2zM734.8 510.9l2.3 -5.5l-1.7 -3.8l-11.2 0.5l-1 4.1l-0.2 0.7zM734.2 516.8l2.3 3.5l7.3 -1.6l0.5 -2.2l-1.3 -3.3l-7.4 -0.8zM750.6 529.6l0.2 0.6l1.5 -0.2l3.8 -0.3l0.8 0l6 -7.9l-1 -4.1l-0.4 -0.1l-7.9 0.7zM740.2 505.1l4.7 5.3l5.3 -3.5l-0.1 -1.8l-6.5 -3.1zM835.4 484l0.8 0.6l6.8 0l2.6 -6.1l-1.1 0.2l-9.4 1.1l-1.9 0.2zM749.7 496.3l0.7 -1l-0.7 -4l-3.6 0.2l-3.1 0.3l0.1 3.8zM776.6 523.3l-7.3 1.2l-0.4 0.2l-0.2 4l3.5 -0.4l4.8 -0.4zM776 508.5l3.2 5.9l7.1 0.4l1.3 -2.2l-2 -6.2l-8.1 0.1zM793.8 491.1l1.3 1l8.5 -1.9l2.8 -2.9l-0.9 -4.3l-8 0.8l-5.6 0.5zM821.3 520.5l-8.6 -3.4l-1.3 2.5l-0.3 4.8l0.9 -0.1l9.9 -1.1zM803.6 490.2l-1.9 7.8l1.5 3.2l7.1 -4.5l-1.3 -7.3l-2.6 -2.1zM813.8 504l1.1 0.7l7.7 -7.2l-3.9 -1.2l-5.1 3.3zM813.6 499.6l5.1 -3.3l-2.1 -6.6l-7.6 -0.3l1.3 7.3zM826.5 490.3l8.9 -6.3l-2.2 -4l-2.5 0.3l-6.5 7.4zM880.2 483.2l1.2 -2.5l-4.5 -6.3l-2 0.2l-5.7 0.8l0.2 1.3zM706.8 601l9 0.6l0.4 -0.5l-0.6 -7.9l-0.6 -0.7l-8.5 1.3l-0.2 6.8zM716.2 601.1l9.2 -1.2l0.3 -7.3l-0.8 -0.8l-9.3 1.4zM739.4 653.8l1.3 -1.2l6.8 -2.8l0 -9.6l-9.2 -0.8l-1.2 1.8zM743.8 590.9l1.3 8.4l11.8 -2.1l0.1 -2.2l0.1 -4.7l-12.7 -0.3zM737.5 631.9l9.1 -0.1l0.8 -7.8l-0.9 -0.9l-9.1 1.2zM747.6 633l0.3 6.7l12.5 -0.3l-0.1 -0.7l-1 -8zM746.3 607.4l10.4 -1l0.2 -9.2l-11.8 2.1l-0.1 0.1l0.9 7.6zM747.4 624l11.1 -0.9l-0.7 -5.2l-0.2 -2.3l-11.2 -0.9l-0.7 0.9l0.8 7.5zM782.2 621.2l10.7 -2.4l-0.8 -7.3l-9.7 -1.7l-0.9 1l0 9.8zM794.5 620.6l10.5 -2l0.2 -0.2l-1.3 -10.2l-10.9 2l-0.9 1.3l0.8 7.3zM781 600.5l1.4 9.3l9.7 1.7l0.9 -1.3l-1.1 -10.3l-0.7 -0.6l-10.1 1.1zM779.3 591.4l1.8 9l10.1 -1.1l0.9 -9.1l-11.9 -0.6zM792.1 590.2l-0.9 9.1l0.7 0.6l11.3 -0.4l0.5 -0.8l-1.8 -9.4l-9.8 0.9zM798.8 550.4l10.6 -1.1l0.3 -0.4l-0.7 -8.1l-1.3 -1.1l-9.3 1.3zM803.2 599.5l1 8.4l12 0l0.2 -0.3l-1 -9.4l-1 -1l-10.7 1.5zM802.7 588.1l11.1 0.1l-0.8 -10.1l-11 2.3zM816.4 607.6l-0.2 0.3l0.5 7.9l16 0.8l-1.1 -6l-0.2 -4.9zM816.1 533l-5.3 -8.5l-0.9 0.1l2.9 10.3zM841.3 560.7l3.1 0.3l0.9 -0.3l1 -7.4l-0.2 -0.9l-3.5 0.8l-3.2 5.3zM842.6 553.2l3.5 -0.8l0.2 -0.4l0.3 -6.3l-5.8 -0.7l-2.6 5.9zM846.3 553.3l6.5 6.8l0.1 -0.1l2.5 -5.4l-0.4 -2l-8.7 -0.6l-0.2 0.4zM846.5 624.6l4.9 7.5l3.6 -0.2l2.4 -6.7l-7.2 -5.6zM851.2 569l0.6 8.3l0.9 0.8l5.3 2.7l1.6 -1.6l0.1 -0.3l-3.6 -9.4l-4.4 -0.9zM851.7 568.6l4.4 0.9l2.2 -1.1l2.4 -7.1l-7.8 -1.3l-0.1 0.1l-1.7 3zM886.9 629.5l-8.4 -6.2l-3.1 3.5l-0.2 3.7l2.1 -0.2l9.6 -0.7zM859.6 623.2l7.1 4l0.2 -0.2l0.8 -7.6l-0.8 -0.8l-7.1 4.2zM862.2 539.4l6.8 1.7l1.8 -4.5l-3.5 -4l-6.8 3.9zM828.1 633.4l2.7 2.8l8.4 -3.4l-0.8 0.1l-3.9 -7.1l-8.3 1zM859 641.3l3.9 -3.8l0.7 -6.2l-5.7 0.4l-9.8 0.6l-2.6 0.2zM899.6 650.5l12.3 4.8l3.9 -3.4l-0.1 -10.8l-15.3 3.9l-0.8 5.4zM895.7 655.2l8.8 10l6.2 -1.4l1.4 -2.1l-0.2 -6.4l-12.3 -4.8zM929.9 680.4l1.3 6.2l6.6 3.8l5.8 -2.7l-1 -8.2l-12.3 -0.1zM920.8 522.5l4.3 -1l2.2 -8.1l-1.8 0.3l-7.7 1.3l-0.7 0.1zM940.7 557.2l2 -4.5l0.4 -2.9l-11.2 1.2l0.8 8.7zM877.9 494l5.6 -3.4l0.3 -7l-2.5 -2.6l-3 6l-6.2 2.5zM967.7 526.1l-2.2 -0.7l-5.1 6.3l0.8 0.6l6.8 -2.6l0.4 0zM893 485l-0.9 -8.5l-7.5 -2.5l-3.3 7l2.5 2.6l8.7 1.8zM893 485l0.7 -0.1l7.9 -7.8l1.4 -6l-10.9 5.4zM919.1 484.9l10.1 -1.1l-1.6 -7.7l-6.7 1.4zM929.2 483.8l0.4 0.3l7.1 -2.5l1 -5l-1.1 -0.8l-8.6 -0.3l-0.4 0.6zM924 494.4l2.1 6.3l6 0.7l1.8 -2.6l-2.5 -8.3l-0.8 -0.4zM933.9 498.8l-1.8 2.6l3.6 5.5l5.8 1.1l2.5 -5l-1.7 -2.6l-6.1 -2.7zM952.3 503.3l6.2 -3.9l-0.8 -2.9l-6.6 -2.4l-2 6.3zM955.9 509.1l6.7 -1.3l0.6 -2.4l-4.7 -6l-6.2 3.9zM955.3 528.2l5.1 3.5l5.1 -6.3l-0.4 -0.5l-7.2 -0.6zM963.3 517.9l0.7 0.8l10.7 0.1l-6.3 -8.2l-4.1 -1zM856.4 471.6l6.6 -3l0.3 -1.6l-1.2 -1.4l-0.2 0.2l-7.7 5.7zM881.7 466l-4.6 -5.3l-5.1 2.3l-0.7 2.5l8.4 4.7zM900.5 463.2l-6.3 4.2l0.1 4.4l0.5 0l9.4 -1.4zM915.3 445l6.4 3.2l0.2 -0.3l-0.6 -7.4l-1.9 -1.5l-5.1 2.1zM922.1 452.8l7.5 2.2l0.3 -0.1l0.4 -2.1l-3.1 -6.3l-5.3 1.4l-0.2 0.3l-0.7 3.2zM935.2 435.2l6.1 5.1l2.4 -8.7l-0.1 0l-0.6 -0.3l-3.8 -0.3zM943.7 405.4l-2.4 3.5l8.2 2.8l2.3 -1.1l0.3 -1.8l-0.2 -1l-4.2 -3.2zM951.7 450.6l5.7 2.9l2.7 -1.9l-0.6 -6.3l-7.2 -1.1l-1.9 4zM948.2 427.9l6 5.2l1.8 0l1.5 -2.2l-2 -5l-0.5 -0.2l-6.3 0.7zM961.4 417.8l0.6 2.9l2.6 3.6l5.6 -0.8l1.5 -1.9l-1.7 -5.5l-8.4 1.4zM973.1 428.5l0.6 4.7l7.6 -6.7l-0.5 -1.2l-0.9 -0.6l-6.7 3.4zM975.6 447.4l0.7 0.1l5.2 -3.9l-0.3 -0.6l-7.3 -4.6l-2.7 3.4zM981.5 443.6l4.5 0.8l2.2 -1.4l-6.3 -3.2l7 2.7l0.7 -0.4l-9.2 -7.7l-0.2 0.2l1 8.4zM984.3 430.9l-3.6 3.2l6.9 3.2l-0.4 -5.7zM917.3 385.7l-2 0.3l1.1 6.7l1 6.6l3.2 -3.3zM983.8 379.8l-2.7 7.2l-0.3 1.9l1.4 2.8l7.7 -5.9l-0.8 -3.1l-1.2 -4.3l-1.6 0.3zM909.9 348.1l1.4 1l10.7 0l1.4 -1.8l-0.2 -4.8l-6.5 -5.7l-6.1 5.4l-1.2 4.6zM913 359.8l8.3 -0.7l1.2 -3l-0.5 -7l-10.7 0zM919 382.1l1 3.1l2.6 -0.5l5.4 -1l3.8 -11.1l-8.6 2.8zM933.3 370.3l12 -1.3l-0.3 -7.1l-0.6 -0.7l-10.2 -0.3l-3 4.7zM929 337.9l5.2 8.3l6.5 -2.9l-1.2 -5.6l-9.2 -2.3zM940.7 343.3l2.3 1.7l8 -9.2l-3.6 -2.5l-6.4 1.9l-1.5 2.5zM945.7 348.3l4.1 -0.1l4 -5.9l0.6 -5.5l-3.4 -1l-8 9.2zM947.4 333.3l3.6 2.5l3.4 1l5.1 -3.2l1.3 -1.5l-3.4 -14.2l-2.8 0.5l-5.6 1.2zM949.8 348.2l4.2 3.4l9.5 -4.4l-1.3 -1.6l-8.4 -3.3zM959.5 333.6l2.7 12l1.3 1.6l0.1 0l4.2 -5.3l-2.4 -8.3l-4.6 -1.5zM985.6 325.2l1.8 1.9l8 3.5l2.3 -4.5l-8 -4.6l-4.1 -4.6zM1002.4 372.3l2.2 -1.5l-1.7 -6.8l-1.8 -1.5l-1.8 -1l-1.1 1.2l-5.4 5.9l-1.4 5.6l1 2zM1001.7 336.1l3.6 -7.5l-7.6 -2.5l-3.5 6.8zM1001 342l-4.5 8.3l9.3 -2.1l0.3 -2.1l-4.7 -4.4zM1008 352.5l-2.2 -4.3l-9.3 2.1l-0.3 0.3l6.4 5.4zM1002.9 364l2.8 0l6.1 -5.1l-1.3 -1.8l-9.4 5.4zM921.9 305.5l0 0.2l5.9 5.4l4.4 -1.3l-1.5 -14.5zM946.6 290.2l6.5 -2.5l-1.9 -5.8l-6.5 5.1l-1 0.2zM958.1 293.3l7.6 4.5l5.1 -5.1l-5 -4.6l-4.1 0.5l-3.1 2zM958.2 276.2l11.7 -1.2l0.4 -1l-3.6 -7.8l-11.5 2.1l2.1 6l-0.7 1zM965.3 305.5l0.7 0.3l7.8 -11l-0.2 -0.6l-2.8 -1.5l-5.1 5.1zM1005.4 263.8l-2.3 8.4l4.5 7.1l5.9 -4.1l-0.2 -0.9l-2.5 -10.8l-2.7 0.6l-0.7 -2.8zM1016.5 307.1l-0.6 -3.6l-0.1 -9.2l0 -1.1l-3.8 0.6l-3.6 9.4zM1019.8 321.1l-0.6 0.6l0.1 0.9l-2.1 5.8l2.1 2.2l4 -3.7l7.4 -5.3zM1045.1 306.7l4 -0.2l-0.2 -0.9l-1.8 -9.2l0 -0.2l-4.3 1zM1023.7 292.4l0.2 -0.6l-0.9 -4.5l-2.5 -3.2l-4.8 1l0.1 9.2l0 2.6zM1036.5 298.7l2.8 -0.7l7 -1.6l0.5 -7.5l-3.5 -2.8l-7.1 5.2zM1021.9 261.2l6.3 0.4l0.1 -6.3l-3.8 -6.4l-4.6 1.7l-0.2 6.6z"/>
<path fill="#bddadb" d="M374.2 428.4l7.1 -7.9l-3.9 -9.7l-8.9 -1.3l-2.5 13.3zM376.7 455.2l0.8 0.2l15.1 -14.7l-2.6 -3.9l-6 -1.1l-10.9 14.9zM605.4 521.1l0 8.6l1.3 1.6l11.4 -1.4l0.4 -9.8l-12.5 0.3zM572.8 668.8l12.9 0.7l0.2 -10.8l-13.9 -0.5zM573.3 635.1l12.4 2.2l0.8 -0.7l-1.2 -11.4l-11.4 1.6zM585.3 625.2l1.2 11.4l11.3 0.3l0.7 -0.8l0.5 -10.5l-1.2 -1.3l-11.9 0zM585.9 658.7l-0.2 10.8l0.2 0.3l12.2 0.2l1.1 -1.2l-0.6 -11.9l-11.5 0.1zM625.3 668.3l-0.3 11.6l4.3 -3.1l12.2 -4.1l0.7 -2.8zM623.2 578.8l0.1 0.1l12.1 1.5l-0.2 -9.2l-7.6 2.5l-1.9 -0.2l-2.6 -0.3zM590.5 222l10.7 -0.7l0.6 -0.8l-0.7 -9.3l-0.3 -0.4l-10.2 -0.6l-1.1 1.3l-0.2 9.2zM613.2 262l0.9 10l0.5 0.5l11 -0.8l0.1 -8.9l-10.7 -2.7zM614.6 252.5l0.4 7.6l10.7 2.7l0.8 -0.8l1.3 -9.7l-1.9 -2.5l-10.6 1.6zM615.2 231.5l9.3 0.3l1.7 -1.8l0.4 -8.3l-1.5 -1.5l-10.7 0.9l-0.4 9zM639.4 292.9l1.1 1.3l13.2 -4l3.2 -4.5l-2.3 -1.2l-13.8 -3.9l-1.1 1.2zM653.7 290.2l-0.2 12.3l11.6 0.4l4.6 -6.5l-2.4 -2.4l-6.2 -6.1l-4.2 -2.2zM621.7 381.8l-8.9 -1.4l-0.4 0.4l-0.1 10.8l3.1 -0.1l6 -0.1zM651.6 371.2l0.1 0.2l9.9 0.7l-0.1 -8.9l-1 -0.8l-9 1.7zM651.4 380l0.9 1l9.3 -1.8l0.4 -6.6l-0.4 -0.5l-9.9 -0.7zM636.3 400.3l1.3 1.1l8.1 -1.5l0.5 -0.6l-0.1 -8.6l-4.7 0.1l-5.6 0.2zM627.1 459.1l1.3 9.2l0.1 0.1l9.2 -1.3l0.4 -7.3l-0.5 -0.6l-10.3 -0.3zM638.7 484.8l0.6 -8.5l-0.7 -0.8l-9.8 1.5l0.7 6.1l8.5 2.4zM638 485.5l0.1 11.5l4 -0.1l6.8 -0.2l0.6 -12.3l-0.3 -0.3l-10.5 0.7zM648.6 476l9.7 -1.5l0.3 -6.6l-10.3 -0.6l-0.5 0.7zM649.5 484.4l8.6 -0.4l0.7 -8.9l-0.5 -0.6l-9.7 1.5l-0.2 0.3l0.8 7.8zM667.8 458.2l9.7 0.5l0.5 -0.8l0.2 -7.9l-0.9 -1l-9.2 1.8l-0.3 7.3zM676.8 442.1l0.5 6.9l0.9 1l8.5 -0.5l0.7 -8.6l-1.5 -1.4l-9.1 2.5zM678 475.6l0 6.7l0.7 0.6l9.6 -0.4l0.6 -7.5l-1 -1.4l-9.8 1.9zM675.7 424.5l9.8 0.1l0.4 -0.6l-1.8 -8l-8.7 0.6l-0.6 7zM685.6 432.6l0.1 0.1l10.2 -0.9l1.9 -3l-4.5 -5.8l-7.4 1l-0.4 0.6zM687.1 449.9l10 -1.1l0.3 -0.3l-1.3 -7.6l-8.7 0l-0.7 8.6zM695.9 431.8l0.9 8.2l12.1 -1.3l0.5 -5.7l-9 -0.7l-2.6 -3.5zM708.5 472.1l9.9 1l4.3 -4.2l-2.8 -4.1l-1.1 -1.7l-10.7 3zM718.8 496.9l-0.5 0.6l2 8.9l2.9 -0.2l2.2 -9.2zM655.7 549.5l0.1 7.7l1.4 1.4l10.6 -1l0.8 -0.9l-1.3 -7.6l-10.3 -1zM678.2 529.2l10.3 0.4l-0.2 -9.9l-0.4 -0.3l-10.1 0.7l-0.5 8zM678.9 558l11 -0.9l0.3 -0.3l0 -9.2l-10.7 -0.1l-0.2 0.4l-0.5 10zM690.4 547.4l8.6 -1.1l1 -9.2l-11 1zM646.2 599.5l0 -0.4l-6.2 -11.5l-4.5 0.1l0.1 4.8l0.3 10.7l0 1zM649.4 626.7l11 6.7l4.1 -2.8l-7.9 -6.9l-5.1 0.1zM680 639.6l0.4 0.1l7.5 -5.9l-3.2 -7.9l-5.3 -1.7l-5.9 10.2l0 0.1zM689.8 615.2l-5.1 10.7l3.2 7.9l0.1 0l3.1 -1l1.7 -8.3l3.5 -7.6l-4.9 -2.2zM705.9 638.8l10 5.2l6.4 -8.2l-1.4 0.1l-10.3 0.6l-6.5 0.3zM687.6 270.5l9.3 1.4l2.2 -2.8l-0.4 -6.6l-1.8 -1.8l-9.6 1.7zM699.9 290.3l10.8 -1.5l-0.3 -9.9l-0.3 -0.4l-10.3 2.6zM710.8 288.9l10.5 -1.5l-0.7 -7.1l-10.2 -1.4l0.3 9.9zM722.9 307.4l11.7 -0.9l0.4 -0.6l-1.1 -8.2l-11 0.1zM710.8 453.8l3 2.6l10 0l0.5 -0.6l-0.8 -8.2l-0.7 -0.7l-9.7 3zM724.5 464.7l9.8 -2.3l-0.1 -6l-0.9 -1.1l-9 0.5l-0.5 0.6zM733.4 447.6l-0.1 7.7l0.9 1.1l9.1 -1.5l0.5 -0.6l-1.1 -7.6l-0.4 -0.4l-8.6 0.9zM744.3 340.4l0.3 7.7l0.1 0.1l6.8 -0.3l-0.4 -1.1l-3.5 -6.2l0 -0.6zM778.7 344.7l9.5 -0.9l-0.4 -7.9l-1.2 -0.9l-11.4 3.4l-0.7 1.7zM782.2 293.6l0.2 -0.4l-0.8 -5.8l-10.9 -1.5l-0.1 2l-1.8 7.9l0 1.4zM786.6 335l-0.7 -7.1l-9.2 0.2l-0.3 7.2l-1.2 3.1zM784.1 311.5l1.4 7.5l1.1 0.9l8.3 -3l-0.1 -7.4l-10 1.2zM811.6 291.8l1.3 7.2l1.3 1l8.5 -2.6l-0.1 -1.1l-5.7 1.8l-0.1 -7.8l0.1 -0.1l-4 -0.2zM827.4 331.4l2.2 9.2l2.7 2.8l0.7 -1.8l3.2 -4.3l2.7 -8.2l0 -0.1zM762 379.3l8.3 -0.1l0.8 -1.4l-1 -5.7l-0.3 -0.2l-7.9 0.9l-0.6 1l0.3 5zM763.9 408.2l0.5 6l1.4 1.3l7.4 -1.4l-0.7 -7l-8 0.3zM774.2 429.1l0.2 0.2l8.2 -0.3l0.9 -1.7l-1.4 -5.7l-7.2 0.4zM794.5 384.2l0.7 4.9l1.9 1.4l6.6 -1.1l0.1 -6.6l-0.7 -0.9l-7.8 1zM797.4 397.4l0.4 0.3l7.7 -0.3l0.4 -0.6l-2.2 -7.4l-6.6 1.1zM806.7 418.1l-7 0l-0.9 1.1l0.6 7l3.8 3.2l0.4 -0.6l5.1 -1.9l-1 -7.7zM803.8 382.8l-0.1 6.6l6.8 -0.7l-0.6 -5l-0.1 -1.3zM803.7 389.4l2.2 7.4l5.5 -0.7l-0.2 -1.3l-0.7 -6.1zM805.9 396.8l-0.4 0.6l0.2 6.6l1 1.1l5.6 -1.1l-0.9 -7.9zM806.7 405.1l0.2 5.3l0.9 1.2l5.3 -0.2l-0.6 -5.4l-0.2 -2zM814.4 352.6l-0.8 -3.5l-7.5 1.1l0.5 4.6zM818.7 390.6l-0.6 -6.1l-8.1 0.1l0.9 7.8zM819.4 397.8l-0.5 -6.9l-0.2 -0.3l-7.8 1.8l0.3 2.4l0.6 4.7zM819.4 397.8l1.1 0.8l7.8 -1.9l-0.9 -5.9l-8.5 0.1zM825.2 374.7l0.9 1l8.7 -1.7l0 -0.1l-1.4 -7.3l-7.5 0.6zM827.4 390.8l0.9 5.9l0.1 0.1l9 -0.5l0.4 -0.6l-1 -7.2l-0.2 -0.2l-8.6 1.4zM837.8 395.7l8.5 -0.7l-1.3 -8.2l0 -0.1l-8.2 1.8zM849.7 417.8l-1.1 -1.1l-7.6 2.1l-0.4 0.9l0.7 5.3l3.6 -1.3l5.2 -1.9zM843.7 379.6l0.5 0.4l8.8 -1.2l0.4 -0.6l-2.2 -7.1l-0.3 -0.2l-6.2 1.2zM857.4 409.4l8.3 -2.6l-1.2 -6.4l-8.4 0.9zM865.8 353.3l1.7 7.3l1.2 0.7l6.7 -1.9l0.3 -6.7l-1.1 -0.9l-8.8 1.5zM880.4 381.6l0.4 7.5l8.3 -0.7l0.5 -6.7l0 -0.5l-9.2 0.3zM739.2 483.5l6.1 -2.1l-0.2 -5.7l-4.2 -0.7l-4.1 -0.6zM779 454.1l8.9 1.3l1.5 -1.4l0.8 -1.3l-1.3 -3.5l-5.1 1.2l-5.8 2.5zM828.2 474.5l5.7 -0.6l-1.5 -6l-6.1 1.7zM832.4 467.9l1.5 6l0.2 0.1l4.6 -2l0.2 -4.2l-6.3 -0.5zM841.8 434.5l4.1 2.2l1.4 -11.1l-6.3 3.6zM840.5 462l0.2 1.5l7.6 6.3l0.7 0l-0.8 -8.6l-5.2 -0.5zM847.3 425.6l-1.4 11.1l0.7 0.9l1 0l2.4 -1l2.6 -4.2l-2.8 -9.9zM758.7 500l3.6 3.6l4.5 -1.3l3 -4.2l-0.5 -2.3l-1.4 -1.8l-8.7 0.9zM752.5 516.8l1.1 1.5l7.9 -0.7l-4.5 -8.1l-4.2 -0.1zM768.9 524.7l-6 -2.9l-6 7.9l5.4 -0.5l6.4 -0.5zM769.3 495.8l9.1 -4.3l-1.6 -5.9l-7.6 0.7l-1 0.1l-0.3 7.6zM785.1 522.6l-7.5 -0.5l-1 1.2l0.4 4.6l5.2 -0.5l4 -0.4zM811.4 519.6l-6.3 0.3l-2.3 1.6l0.2 3.8l6.9 -0.7l1.2 -0.2zM812.4 515.7l0.3 1.4l8.6 3.4l2.4 -4.9l-4.5 -6.7l-0.1 -0.1zM822.6 497.5l2.2 0.5l2.7 -0.6l0.5 -1.9l-1.5 -5.2l-2.3 -2.6l-3.1 -1.5l-4.5 3.5l2.1 6.6zM839.1 505l5.6 0.5l0.9 -6.2l-3 -2.5l-4.8 5.4zM699 626.1l-6.6 0.3l-2.3 11.1l9.4 -0.4zM699 626.1l0.5 11l0.9 -0.1l7.6 -0.4l0.8 -10.5l-1 -1.2l-8.8 1.2zM714.5 585.6l0.5 6.9l0.6 0.7l9.3 -1.4l-0.6 -7.1l-0.4 -0.3l-8.2 -0.3zM708 636.6l2.6 -0.1l7.8 -0.5l-0.2 -10.9l-9.4 1zM732.4 559.2l9.6 -0.2l0.9 -1.5l-1 -6.6l-0.9 -0.7l-8.9 1.6zM734.1 583.1l-0.1 8.8l0.7 0.6l9.1 -1.6l0.6 -0.9l-1.1 -6.3l-8.9 -1zM737.4 632.1l0.9 7.3l9.2 0.8l0.4 -0.5l-0.3 -6.7l-1 -1.2l-9.1 0.1zM750.3 541.9l-0.1 6.1l1.6 1.7l6.3 -0.2l0.1 -4.8l0 -4zM765.4 543.6l-4.2 -14.3l-5.1 0.4l2.3 2.4l-0.2 12.3zM771.6 620.5l9.9 0.1l0 -9.8l-10.9 1.4l0.6 7.9zM779.4 581.6l0.8 8l11.9 0.6l-1.4 -10l-11 1zM800.4 578.5l1.6 1.9l11 -2.3l0.1 -0.2l-1.5 -8.7l-10.8 1.3zM816.1 616.9l-10.9 1.5l-0.2 0.2l2.6 10.2l8 -0.9l2.6 -0.3zM809 540.8l0.7 8.1l6.9 -0.5l-0.7 -2.3l-1.8 -6.5zM814.1 588.4l0.3 8.8l1 1l15.5 -3.1l-0.2 -5.2l-1.9 -4zM830.3 571.8l4.1 -1.8l2.2 -4.3l-3.4 -4.3l-5.8 2.5l1.7 6.3zM833.9 559.8l2 -1.4l-0.7 -7.2l-2.1 -1.2l-2.5 6.2zM835.1 618.8l5.2 -0.8l0.3 -0.5l-1 -5.4l-5.4 2.1zM837.7 598.8l9.6 -1.5l0.1 -0.2l-2.1 -8.4l-10 4.4zM852.9 560l7.8 1.3l3.4 -2.6l-0.1 -0.2l-8.6 -3.9zM868.6 586.1l3 4.4l5.6 -6.1l-4.1 -3.3l-4.6 3.2zM866.9 627l4.7 -1.6l-1.5 -5.1l-2.4 -0.9zM869.7 574.5l4.1 4.8l4.5 -2.1l-2.2 -5.9zM873 558.7l6.9 0.6l3.5 -3.4l0.1 -2.8l-10.6 -0.7zM876.1 571.3l2.2 5.9l2.3 1.1l3.2 -8.2l-4 -2.2l-3.1 1.5zM901.4 599.7l3 -4.1l1.8 -4.8l-0.1 -0.4l-0.5 -0.4l-3.6 0.3l-4.2 5.8zM906.4 604.1l0.7 0l0.8 -0.8l-3.5 -7.7l-3 4.1l0.1 2zM903.6 613.2l-1.7 -0.1l-3.7 3.7l4.8 6.6l3.7 -0.2l4.3 -0.3zM904.9 683.8l11 -3.1l-1.3 -5.5l-11.2 -0.1l-1.4 1.2l-0.4 3zM908.2 694.5l8.5 -2.9l0.2 -9.4l-1 -1.5l-11 3.1l-0.5 8.7zM904.5 665.2l-1 1.7l-0.1 8.2l11.2 0.1l0.3 -0.7l-4.2 -10.7zM906.9 721l0.1 0.1l0.2 0.5l16.7 3.3l0.5 -1.1l-1.5 -12l-3.6 -1.5l-10.4 6.7zM935.2 702.5l0.9 -1.1l1.7 -11l-6.6 -3.8l-8.9 8.6zM909.1 519.4l2.2 -3.4l-1.2 0.2l-3.3 -7.3l-2.4 3l-0.6 -3.8l-7.2 0.7zM891.4 526.5l4.1 -3.3l0.6 -4.6l-1.1 -9.6l-0.6 0.1l-2.6 0.3l-3.9 13.7zM896.1 518.6l12.9 3l0.1 -2.2l-12.5 -10.6l-1.6 0.2zM904.5 554.3l-4.2 -2.4l-6.6 4.5l8.4 7.6zM925.1 521.5l5.6 3.7l5 -1.7l5.8 -5.2l-8.3 -5.9l-5.9 1zM871.7 508.9l5.8 1.9l1.5 -0.1l0.2 -0.5l-0.1 -9.1l-7.3 -0.8l-1.7 1.1zM863.3 501.1l6.8 0.3l1.7 -1.1l-1.6 -10l-7.6 2.9l-1.1 1.1zM889 501.6l1 2.7l5.2 4.3l4.6 -9.3l0.8 -2.1l-6.3 -2.1zM938 468l7.9 1.6l2.9 -6.6l-5.2 0.9l-7.6 1.3zM902.6 488.2l1.3 -2.1l0 -0.7l-2.3 -8.3l-7.9 7.8zM902.6 488.2l0.3 6.8l8.4 -2.9l1.5 -3.9l-6.8 -2l-2.1 -0.1zM935.5 471.8l2.5 -3.8l-2 -2.8l-2.2 0.4l-4.5 0.8zM936.6 475.8l1.1 0.8l6.2 -2.1l2 -4.6l0 -0.3l-7.9 -1.6l-2.5 3.8zM852.2 473l-7.7 5.7l9.5 -1.2zM871.1 471.1l-5.5 4.8l9.3 -1.3l0.4 0zM933 410.9l2.7 -2.4l-1.2 -5.8l-3.4 3.4l-1.8 3.2zM886.8 465.3l-1.4 -0.6l-3.7 1.3l-2 4.2l0.6 3.7l4.7 -0.7l2.6 -0.4zM915.6 453l-2.7 -4.5l-3.5 -0.6l0 0.2l-3.1 1.6l0.2 1.9l3.8 3.6l4 -0.4zM915.6 453l5.4 -1.6l0.7 -3.2l-6.4 -3.2l-2.4 3.5zM919.6 434.2l5.8 -3.5l0.2 -0.9l-2.4 -6.7l-1.5 -1.6l-2.6 3.2l-4.9 6.2zM945.9 459.6l2.7 -1.4l3.1 -7.6l-1.3 -2.4l-4.5 0.7l-3.2 5.8zM945.9 448.9l4.5 -0.7l1.9 -4l-0.5 -1.6l-2 -1.8l-7.8 0.4l0.4 4zM955 425.7l0.5 0.2l6.5 -5.2l-0.6 -2.9l-7 -1.4l-1.3 1.4zM973.2 428.1l6.7 -3.4l-4.9 -3.3l5 2.5l-2.1 -3.2l-6.2 0.9l-1.5 1.9zM973.9 438.4l7.3 4.6l-1 -8.4l-6.2 -0.4zM924.1 395.3l10.2 -2.9l-2 -6.4l-3 -0.7l-4.5 6.1l-1.8 1.9zM926.7 384l-4.1 0.7l-5.3 1l3.3 10.3l4.2 -4.6l3.3 -4.5zM969.8 398.4l-2.4 -3.8l-5.6 2.4l5.1 2.2l0.4 1.5zM967.3 400.7l0.9 4.1l4.3 -2.4l-2.7 -4zM977 384.1l4 -5.7l-5.6 -4l-0.6 0.1l-0.7 8zM994.3 407.1l6.1 7.9l5.1 -1.8l1.9 -8l0.1 -4l-6.3 1.4l-4.4 0.9zM991.8 392.8l0.2 0.5l2.9 10.6l6.3 -1.3l6.3 -1.4l-2.3 -6.7zM923.4 347.3l8.5 1.6l2.3 -2.7l-5.2 -8.3l-5.8 4.6zM939.5 337.7l1.5 -2.5l-2.4 -8.1l-10.8 1l2.5 7.3zM955.6 359.2l-0.3 9.4l5.3 1.6l-0.2 -11l-4.4 -0.4zM953.8 342.3l8.4 3.3l-2.7 -12l-5.1 3.2zM995.5 341.7l-2.6 -6.3l-0.8 1.5l0.4 9.5zM1006.1 346.1l5.7 -3.8l-10 -2.5l-0.4 1.9zM940 299.2l4.8 -2.5l1.8 -6.5l-2.9 -3l-9.9 1.9l-1.8 -0.2l-0.4 5.6zM955.8 299.7l2.3 -6.4l0.5 -2.7l-5.5 -2.9l-6.5 2.5l-1.8 6.5zM956.8 303.4l8.5 2.1l0.4 -7.7l-7.6 -4.5l-2.3 6.4zM953.4 308.3l3.5 9.7l6.8 -1.4l9.1 -2l0.1 0l-6.9 -8.8l-0.7 -0.3l-8.5 -2.1zM956.6 275.3l-3.7 5.2l-1.7 1.4l1.9 5.8l5.5 2.9l3.1 -2l-3.5 -12.4zM972.9 314.6l1.4 -0.3l5.9 -6.7l-1.6 -9l-4.8 -3.8l-7.8 11zM1019.8 321.1l3.6 -5.1l-7.2 -11l1.4 8l1.6 8.7z"/>
<path fill="#b5d7d8" d="M276 276.8l16.8 21.5l2.3 -0.7l4.9 -6.3l-3.4 -14.7l-19.8 -1.9zM336.2 437.2l12.9 -15.8l-3.2 -12.3l-6.3 -5.1l-1.6 -0.3l-1.6 11.3l-1.7 12.9l-1.6 10.9zM374.3 458.4l-13.9 11.4l0 0.6l8.7 1.1l6.4 0.7zM392.4 462.2l-9.9 -3.3l-3.8 13.7l0.5 0l10 1.1l1.2 0.1zM607 551.9l10.5 -1l0.6 -9.2l-10.5 -1.4l-1.8 10.2zM619.6 561.2l6.3 -0.8l0 -0.4l0.1 -9.3l-8.1 0.6zM572.1 636.3l1.8 11.1l10.1 -0.7l1.7 -9.4l-12.4 -2.2zM611.9 636.4l12.6 0.2l1.3 -1.9l-1.3 -9.8l-0.1 0l-12.6 0.7l0 10.8zM624.4 624.9l0.1 0l17 -0.9l-5.3 -9.9l-11.5 1.6zM622.7 613.3l2 2.4l11.5 -1.6l-0.1 -0.3l-0.2 -10.6l-0.1 -0.6l-10.9 -0.7zM624.1 647l0.6 11l19.3 -2l0 -1.7l-5.9 -6.5l-12.8 -2.3zM612.7 322.6l9 0.4l0.3 -0.3l-0.4 -6.7l-2.9 0.1l-5.8 0l-0.5 6.1zM681.2 386.5l0.3 7.5l0.9 0.8l4.8 -7.3l0.1 -0.5zM626.6 400l1 1l8.7 -0.7l-0.5 -9.3l-3 0.1l-6.5 0.2zM618.1 401.2l8.5 -1.2l-0.3 -8.7l-2.2 0l-6.8 0.2l-0.6 8.4zM627.6 417.3l0.3 0.4l9.8 -1.4l0.3 -0.2l-0.6 -6.4l-0.2 -0.4l-8.9 0.4zM627.7 485.2l1.1 12l3.2 0l6.1 -0.2l-0.1 -11.5l-8.5 -2.4zM638 442.2l9.6 0.8l0.4 -0.5l-1.1 -8.8l-9.4 0.2zM638.7 484.8l10.5 -0.7l-0.8 -7.8l-9.1 0zM656.7 407.7l0.3 8.3l7.8 1l1.6 -1.8l-0.3 -7.2l-9.2 -0.5zM657.7 450.8l8.9 -1.7l-0.2 -7l-9.5 -0.5zM657.1 458.8l1.8 8.6l8.5 -1.1l0.4 -8.1l0 -0.1l-9.9 -0.3zM669.3 483.9l8.7 -1.6l0 -6.7l-8.7 -2l-2.1 2.7l1 6.5zM675.4 398.7l0.4 8.7l6.6 -0.1l0 -0.1l0 -9.1l-6 -0.5zM684.1 416l1.8 8l7.4 -1l-2.4 -3.2l-4.7 -6.9zM697.1 448.8l0.2 7.7l10.3 -0.2l2.6 -3l-3.8 -3.2l0.4 -1.7l-9.4 0.1zM645.6 511.7l10.2 -1.6l-0.5 -8.6l-0.2 -0.2l-10 1.8l0 8zM686.8 500.1l11.4 -0.2l4.3 -5.4l-9.6 0.5l-6.8 0.3zM676.9 502.7l9.7 -2.3l0.2 -0.3l-0.7 -4.8l-3.4 0.2l-6.6 0.3l-0.6 5.6zM678.9 566.4l1.3 1.4l9.9 -0.3l0.9 -1.1l-1.1 -9.3l-11 0.9zM635.9 604.2l0.2 8.5l5.3 -1.3l6.3 -7.7l0.2 -1.4l-1.7 -2.8zM653.1 615.7l-5.4 -12l-6.3 7.7l11.1 5.2zM665.6 281.9l0.6 -0.7l-0.8 -8.1l-13.3 -0.3l-0.1 3.2l-0.2 6.6zM724.5 464.7l-0.7 -8.3l-10 0l1.1 1l5 7.4l2.5 3.6zM734.5 471.4l-9.8 0.5l0.3 0.4l7.6 7.3l2.7 -5.4l2.1 0.3zM742.3 446.3l0.4 0.4l12.2 -1.3l1.6 -3l-5.1 -5.3l-9 1.9zM781.6 287.4l0.8 5.8l9.9 0.4l0 -9.1l-0.6 -0.6l-8.7 1.2zM783 285.1l-2.2 -6.9l-10 0.6l-0.1 7.1l10.9 1.5zM784.8 310.7l10 -1.2l0.2 -0.2l-1 -7.2l-1 -1.2l-8.8 1.8zM782.2 293.6l1.3 8.6l0.7 0.5l8.8 -1.8l0 -6.5l-0.7 -0.8l-9.9 -0.4zM789.5 345l8.8 -2.9l-0.7 -6.2l-1.1 -1l-8.7 1l0.4 7.9zM795 309.3l9.6 0l0.4 -0.5l-0.8 -8.3l-0.1 -0.2l-10.1 1.8zM833.1 296.6l7.6 -1.8l-1.6 -4.9l-6.3 -4.8l-0.7 1.9l-0.8 0.9zM829.6 340.6l-10.8 -0.1l0.8 7.7l3.3 -0.6l8.4 -1.3l1 -2.9zM815.4 316.1l1 7.6l9.8 -1l0.8 -1.2l-1.5 -7.7l-10.1 2.2zM759.9 451.7l-6.2 0.2l-0.5 5.2l7.9 -4.2zM759.3 443.9l8 -0.5l0 -6.5l-1.2 -1.3l-7.4 2.2l-0.1 0.7l-1.7 3.1zM772.5 407.1l0.7 7l0.6 0.4l7.5 -1.3l-0.3 -6l-8 -0.7zM765.7 430.3l0.4 5.3l1.2 1.3l7.7 -1.1l-0.6 -6.5l-0.2 -0.2l-7.5 0.1zM784.9 441.7l-8 1.9l-0.1 9.9l1.2 -0.6l5.8 -2.5l2.4 -0.5zM771.1 377.8l7.4 0.2l0.2 -0.2l-1.2 -7.8l-7.4 2.1zM773.1 401.4l-0.1 5.1l8 0.7l0.5 -0.5l-1.1 -7.2zM778.7 377.8l6.8 -1l-0.4 -6.6l-7.6 -0.3l0 0.1zM791.8 355.3l7.9 -0.7l0.6 -0.9l-0.7 -4.3l-1.3 0.2l-6.9 0.7l0.3 5zM798.1 411.4l0.1 0.1l8.7 -1.1l-0.2 -5.3l-1 -1.1l-7.5 1.1l-0.2 0.3zM806.6 354.8l0.7 6.1l7.7 -0.4l-0.5 -7.8l-0.1 -0.1zM815.8 361.2l7.8 -2.1l-0.8 -6.5l-0.4 -0.4l-7.9 0.5l0.5 7.8zM816.1 368l9.2 -1.4l-1.2 -7l-0.5 -0.5l-7.8 2.1zM830.8 412.6l7.9 -0.7l0.6 -0.9l-0.6 -7.4l-0.5 -0.5l-8.3 2l0.7 7.3zM841.6 357.3l7.6 -0.2l3 -5.2l-4.5 -0.6l-2.2 -2.3l-3.6 1.9l-1.5 -0.9zM859.8 363l7.7 -2.4l-1.7 -7.3l-7.8 1.3l1 7.7zM873 344l10 0l0.5 -0.6l-2.6 -8.9l-0.1 0.1l-8.2 5.2l-1.8 1.9zM873.2 398.6l0.3 0.3l8.5 -1.1l-1.8 -8l-7.3 0.2zM885 359.3l5.1 -1.2l-0.6 -3.4l-0.6 -3.5l-5.4 0.5zM757 471l0 2.6l2.5 1.9l5.6 -2.5l0.5 -1.2l-0.2 -1.6l-3.6 -2.9zM770.6 515.7l-1.3 8.8l7.3 -1.2l1 -1.2l-0.7 -2.7zM818.5 507.5l0.6 1.3l0.1 0.1l9.5 -2.2l0.4 -6.8l-1.6 -2.5l-2.7 0.6zM881.4 480.7l3.6 -7.5l-8.1 1.2zM741 541.2l8.8 0l-0.4 -10.9l-7.1 0.5l-3 0.2zM717.4 617.6l0.4 0.5l9.3 -1.9l-0.3 -7.3l-9.4 0.1zM726.8 608.9l0.3 7.3l0.3 0.4l8.8 0.7l1.1 -1.6l-1.2 -7.4l-0.1 -0.1l-9 0.5zM732.1 551.8l8.9 -1.6l-1.3 -7.4l-7.8 -0.2l-0.5 8.4zM727.3 625l9.5 -1.4l-0.6 -6.3l-8.8 -0.7zM728.5 632.9l8.9 -0.8l0.1 -0.2l-0.1 -7.6l-0.6 -0.7l-9.5 1.4l-0.2 0.3zM765.7 552.5l-0.3 -8.9l-7.2 0.8l0 0.3l-0.2 8.5l7.2 0.1zM770.6 612.2l10.9 -1.4l0.9 -1l-1.4 -9.3l-10 2.2l-1.1 1.5l0.4 7.5zM777.1 562.8l11 -0.7l0.6 -0.9l-2.2 -9.4l-9.3 1.7l-0.5 8.9zM788.1 562.1l1.7 7.3l10.5 0.6l-0.2 -10.1l-1.3 -1.2l-10.1 2.5zM800.3 570l0.5 0.5l10.8 -1.3l0.7 -1l-1.5 -9.1l-10.7 0.8zM813 578.1l0.8 10.1l0.3 0.2l14.7 -2.5l-3.7 -7.6l-0.2 -0.5l-11.8 0.1zM837.1 600.8l0.6 -2l-2.4 -5.7l-1.8 -1.2l-2.7 -0.9l0.4 9.2l0 1.3zM831.7 548.4l1.4 1.6l2.1 1.2l3 -0.3l2.6 -5.9l-2.6 -2.1l-6.2 2.4zM833.2 561.4l3.4 4.3l2.8 -0.1l1.9 -4.9l-1.9 -2.2l-3.5 -0.1l-2 1.4zM846.8 586.2l7.6 -2.4l3.2 -2l0.4 -1l-5.3 -2.7l-6.9 7.2l0.4 0.8zM860.2 590.2l-0.1 4.2l9.9 -1l1.6 -2.9l-3 -4.4l-8 3zM869 541.1l0.1 0.5l5.8 1.6l1 -0.8l-0.1 0l-5 -5.8zM860.4 548.6l3.7 8.6l5.2 -8.4l-1.5 -1.9l-6.4 0.5zM904.4 576.3l1.4 6l8.6 -2.2l-3.3 -3.8l-4.5 -6.3zM895.7 596.5l2.1 -0.4l4.2 -5.8l-2.4 -0.9l-6.1 1l-1.1 1.6zM898 567.5l-1.8 8.6l2.6 1.8l5.6 -1.6l2.2 -6.3l-3.8 -5.4l-3.8 1.9zM898.1 582l7.1 1.7l0.6 -1.4l-1.4 -6l-5.6 1.6zM913.4 599.5l-5.5 3.8l-0.8 0.8l2.3 6.4l2.8 1.4l0 -0.5l2.5 -11.7zM910.7 663.8l4.2 10.7l10.9 -6.3l0.6 -4.2l-14.3 -2.3zM948 699.3l1.1 8.5l7.8 2.1l-5.5 -9.9l-1.8 -2.6zM882.9 531.9l6.2 -0.8l2.3 -4.6l-3.5 -3.4l-4.8 -4.1l-2.4 7.1zM879.4 500.6l-1.5 -6.6l-5.8 -4.5l-1.6 0.6l-0.3 0.2l1.6 10l7.3 0.8zM894.3 495.1l6.3 2.1l1.4 -0.5l0.9 -1.7l-0.3 -6.8l-8.9 -3.3l-0.7 0.1l-0.5 0.4l-0.1 7.5zM901.6 477.1l2.3 8.3l7.2 -6.3l-3 -9.4l-3.6 0.6l-1.2 0.2l-0.3 0.6zM936.7 481.6l2.4 3.1l7.6 -1.8l0.9 -2.2l-3.7 -6.2l-6.2 2.1zM980.9 464.1l0.9 8.5l7.9 -0.9l0.2 -0.3l-1.4 0.2l0.9 -5.5l3.7 0.5l0.9 -1.3l-9.9 -2.6l-3.2 1.2zM856.4 471.6l-2.2 -0.1l-1 0.8l-1 0.7l1.8 4.5l0.6 -0.1l8.9 -1.2zM871.1 465.6l0 5.5l4.2 3.5l5 -0.7l-0.6 -3.7l-8.4 -4.7zM894.2 467.4l-3.2 -3.1l-4.2 1l0.8 7.5l6.7 -1zM901.1 459.9l6.3 0.6l2.9 -5.3l-3.8 -3.6l-5.1 5.7l-0.4 2.5zM900.5 463.2l3.7 7.2l0.3 -0.1l5.4 -0.8l0.4 -1.2l-0.8 -5.7l-2.1 -2.1l-6.3 -0.6zM919.4 439l1.9 1.5l8.4 -1.4l0.1 -0.8l-4.4 -7.6l-5.8 3.5zM931.4 415.9l1.4 -1.7l0.2 -3.3l-3.7 -1.6l-4.2 7.5zM918.4 462l5.5 2.9l2.8 -3.6l-0.1 -1.1l-5 -1.7l-3.3 3.3zM925.4 430.7l4.4 7.6l3.6 -2.8l-0.8 -7l-7 1.3zM927.2 446.5l3.1 6.3l4.3 -5.4l-1.9 -4.2l-1.6 -0.9zM934.5 427.1l4.7 3.9l3.8 0.3l-2.4 -8l-2.7 -1.5l-3 1.4zM940.8 409.6l1.3 5.4l1.3 0.4l6.1 -3.7l-8.2 -2.8zM952.1 408.8l10.9 1.5l1.2 -2.1l-7.8 -4.6l-4.5 4.2zM957.5 430.9l6.6 -1.5l0.5 -5.1l-2.6 -3.6l-6.5 5.2zM966.3 434.4l7.4 -0.5l0 -0.7l-0.6 -4.7l-8.8 1.1zM973.7 433.9l0.3 0.3l6.2 0.4l0.2 -0.2l-0.8 -0.7l1.1 0.4l3.6 -3.2l-3 -4.4l-7.6 6.7zM960.6 385.5l1.6 0.9l4.4 -1.4l1.1 -1l-2.9 -7.4l-5.8 1.2l-1 0.2zM972.7 393.6l5.2 2l-0.3 -1.2l-2.5 -7.4l1.9 -2.9l-2.9 -1.6l-2.5 1.3zM1000.9 414.8l-0.9 0.4l-5.4 1.9l0.1 0.2l-0.5 12l2.1 6.6zM895.1 352.9l1.9 -0.8l1.3 -6.9l-11 -3.9l0.3 1.9l1.5 9.1zM899.6 344.5l1.2 -7.8l-14.4 -0.8l0.9 5.4l11 3.9zM910.6 342.2l6.1 -5.4l0 -3.2l-6.1 -2.2l-6.1 4.3zM922 349.1l0.5 7l10.5 0l0.5 -1.9l-1.6 -5.3l-8.5 -1.6zM943.9 352.1l0.5 9.1l0.6 0.7l10.6 -2.7l0.4 -0.4l-2 -7.2l-4.2 -3.4l-4.1 0.1zM973.6 331.8l1.2 0.6l6.1 -8.6l-3.6 -4l-5.3 1.8zM977.6 344.3l-10.9 7.1l0.9 6.3l10.3 -0.9l-0.2 -12.4zM1001.1 362.5l9.4 -5.4l-0.8 -4l-1.7 -0.6l-5.4 3.5l1 0.9l-4.3 4.6zM1004.6 370.8l2.9 1.7l8.6 -5.9l-10.4 -2.6l-2.8 0zM1004.9 315.9l3.7 6.5l10.6 0.5l0.1 -0.3l-1.7 -9.6l-0.9 -5.1zM1023.4 316l9 -4l0.5 -1.5l-3.7 -10.1l-5.5 1.3l-7.8 1.8l0.3 1.5zM1021.9 261.2l-1.7 2.9l5.8 11.8l3.3 1.7l0.5 0.1l-0.5 -3.2l-1.3 -7.3l0.2 -5.6z"/>
<path fill="#aed4d5" d="M86.4 351.9l2.5 3.1l9.8 0l7.7 -19.5l-1.2 -0.5l-18.9 15.2zM593.4 531.1l1 9.8l0.2 0.2l11.7 -2.8l0.4 -7l-1.3 -1.6l-11.4 0.9zM619.3 561.6l-12.7 1l-1.8 2.2l3.6 0l8.6 7.7l3.4 0.4zM611.5 669.1l1 1.1l12.4 -2.2l-0.4 -9.6l-12.8 -0.7zM611.8 625.6l12.6 -0.7l0.3 -9.2l-2 -2.4l-11.2 0.1l-0.3 0.3l-0.7 10.6zM625.3 668.3l16.9 1.6l2 -7.6l-0.2 -6.3l-19.3 2l-0.2 0.4l0.4 9.6zM601.8 272.8l0.9 9.4l11 0.3l0.9 -10l-0.5 -0.5l-12 0.3zM615.5 304.8l11.8 -1.9l-0.3 -9.9l-11.1 -0.3l-1.1 11.3zM624.5 231.8l1.1 8.9l1.4 1.7l10.8 -1.5l-1.1 -8.8l-10.5 -2.1zM625.9 249.8l1.9 2.5l11.2 -0.1l0.2 -0.2l-1.2 -10.9l-0.2 -0.2l-10.8 1.5zM629.5 315.9l7.4 -0.2l3.7 -0.1l0.2 -13.4l-13.3 0.9zM627.3 408.5l1 1.2l8.9 -0.4l0.4 -7.9l-1.3 -1.1l-8.7 0.7zM637.5 442.7l0.5 -0.5l-0.5 -8.3l0 -0.1l-9.4 0.9l-0.1 7.3zM637.5 433.8l0 0.1l9.4 -0.2l0.2 -0.2l-0.4 -8.4l-0.7 -0.7l-8.9 1.8zM637.1 426.2l8.9 -1.8l-0.2 -6.3l-7.8 -2l-0.3 0.2l-1.3 9.2zM648.9 496.7l3.4 -0.1l8.6 -0.2l-2.4 -12l-0.4 -0.4l-8.6 0.4zM660.9 496.4l1.5 -0.1l3.3 -0.1l3.1 -4.2l0.5 -8.1l-1.1 -1.1l-9.7 1.6zM666.4 442.1l0.2 7l1.5 1.7l9.2 -1.8l-0.5 -6.9l-9.7 -0.8zM634 502.3l9.4 -1.2l0.5 -4.2l-1.8 0l-8.6 0.2zM643.4 501.1l1.7 2l10 -1.8l-0.6 -4.7l-2.2 0l-8.4 0.3zM666.2 511.9l11.2 -2.6l-0.5 -6.6l-1.4 -1.3l-8.9 0.3l-0.8 9.6zM698.2 499.9l-0.6 8.7l0.5 0.7l10.5 0l1.6 -2.3l-0.8 0.1l3.8 -13.2l-10.2 0.6l-0.5 0zM646.2 599.1l12.3 -7.8l-1 -4.1l-1.5 0l-10.2 0.3l-5.8 0.1zM649.4 626.7l2.1 -2.9l1 -7.2l-11.1 -5.2l-5.3 1.3l0 1.1l6.6 12.5l1.3 3.7zM682.3 645.6l0.9 2.5l12.7 -1.2l0.8 -0.6l-6.2 -8.8l-0.4 0l0.1 -0.4l-2.2 -3.3l-0.1 0l-7.5 5.9zM734.6 306.5l0.3 8.7l0.8 0.6l8.7 -0.7l0 -2.7l1.6 -6.5l-11 0zM692 417.1l-0.8 -7l-7.6 -1.1l6.8 10.1zM722.6 441l0.2 5.9l0.7 0.7l9.9 0l0.3 -0.4l-1.7 -8.1l-0.3 -0.3l-9 2zM744.7 463.2l-0.7 0.9l0.8 11.5l1.8 0.3l6.3 -9.6l0.1 -3.8zM743.8 454.3l9.7 -0.2l0.8 -7.5l0.6 -1.2l-12.2 1.3zM799.3 343.1l-1 -1l-8.8 2.9l0.3 5.5l0.9 -0.1l7.6 -0.8l1.2 -0.2zM795.6 327.5l0.9 7.4l1.1 1l9.3 -3.3l-1 -6.4l-9.2 0.1zM794.8 309.5l0.1 7.4l1.9 1.7l8.3 -0.7l0.6 -1.2l-1.1 -7.4l-9.6 0zM822.7 297.4l0.4 0.3l9.2 0.3l0.8 -1.4l-1.8 -8.7l-7.3 8l-1.4 0.4zM814.4 306.9l10 0.6l-1.3 -9.8l-0.4 -0.3l-8.5 2.6zM785.1 370.2l0.4 6.6l0.6 0.5l8 -1.1l0.2 -0.3l-0.5 -6.5l-0.4 -0.4l-7.8 0.5zM785.5 384.8l2.5 7.3l0.4 0.2l6.8 -3.2l-0.7 -4.9l-8 -0.8zM803.2 375.7l-0.1 6.2l0.7 0.9l6 -0.4l-0.9 -7.3zM815.7 368.6l0.4 -0.6l-0.3 -6.8l-0.8 -0.7l-7.7 0.4l0.1 0.5l0.9 7.9zM816.7 376.3l1 -1.6l-2 -6.1l-7.4 0.7l0.3 3.2l0.7 5.4zM818.6 383.9l-1.9 -7.6l-7.4 1.6l0.6 5.8l0.1 0.9l8.1 -0.1zM821.4 405.5l-0.9 -6.9l-1.1 -0.8l-7.6 1.7l0.7 6.5l0.1 0.7l7.9 0zM821.4 405.5l8 -0.9l-1 -7.8l-0.1 -0.1l-7.8 1.9zM826.4 382.2l8.9 -0.5l1.3 -2.3l-1.8 -5.4l-8.7 1.7zM834 365.8l7.5 -0.1l0.7 -1.1l-0.9 -7l-7.8 1.4zM850.5 363.1l8.5 -0.8l-1 -7.7l-4.2 -3.3l-1.1 0.6l-0.5 0l-3 5.2zM850.5 363.1l0.4 7.8l0.3 0.2l8.8 -1.9l0.3 -0.5l-0.5 -5.7l-0.8 -0.7l-8.5 0.8zM853 378.8l0.8 7.3l0.5 0.5l7.4 -1.1l0.5 -0.6l-1 -7.8l-7.8 1.1zM877.6 368.3l8.4 -0.9l-1.7 -6.9l-8 -0.3l0.6 7.6zM883.5 343.4l-0.5 0.6l-0.3 7.1l0.8 0.6l5.4 -0.5l-1.3 -8l0 -0.3zM765.4 470.2l3.2 -3.1l-1.3 -6.8l-0.5 -0.3l-5.4 5l0.4 2.3zM765.6 471.8l9.4 1.5l1.8 -2.1l-0.2 -2.5l0 -0.1l-8 -1.5l-3.2 3.1zM765.1 473l3.1 6.7l5.3 -2.1l1.5 -4.3l-9.4 -1.5zM781.6 460.8l5.1 -1.9l1.2 -3.5l-8.9 -1.3l-0.6 4.5zM795.6 476.7l1.5 0.5l5.4 -1.4l0.8 -1l-1 -4.8l-7.3 2.7zM805.2 483l1.7 -0.2l5.4 -0.5l-0.4 -4.9l-1.8 -2.9l-6.8 0.3l-0.8 1zM811.5 464.6l0.7 4.4l6.8 -0.1l1.4 -1.5l-0.4 -3.3l-6.2 -3.6l-1.3 -0.4zM811.8 459.2l0.7 0.9l1.3 0.4l6.7 -4l-1.8 -3.1zM838.8 453.2l7.1 0.5l1.7 -1.4l-1.8 -4.3l-2.1 -1.7l-5 3.3l-1 1.8zM851.8 444.6l3.5 0.9l3.1 -0.9l-1.8 -5.1l-6.6 -2.9l-2.4 1zM735.6 512.4l7.4 0.8l1.9 -2.8l-4.7 -5.3l-3.1 0.3l-2.3 5.5zM730.3 531.7l2.1 -0.2l5.3 -0.3l0.3 -1.1l-1.5 -5.5l-6.6 2.7zM749.7 496.3l1.7 6.5l7.3 -2.8l0.5 -5.1l-1.3 -1.7l-7.5 2.1zM786.3 514.8l0.1 6l7.9 0.2l3.3 -5.2l0.1 -2.6l-0.1 0l-10 -0.6zM795.7 526.1l6.4 -0.7l0.9 -0.1l-0.2 -3.8l-5.2 -5.7l-3.3 5.2zM823.7 515.6l5.2 -1l1 -6.1l-1.2 -1.8l-9.5 2.2zM818.5 507.5l6.3 -9.5l-2.2 -0.5l-7.7 7.2zM828 495.5l7.9 -3.1l0.3 -7.8l-0.8 -0.6l-8.9 6.3zM828.9 514.6l7.9 6.5l2.5 -4.6l-2.1 -7.8l-7.3 -0.2zM852.4 482l7.1 0.7l-0.1 -6l-4.8 0.7l-5.2 0.6zM721.9 543.2l9.8 -0.9l-0.7 -10.7l-8.4 0.6l-1.2 10.5zM723.8 568.8l9.1 -1.7l-0.7 -7.6l-8.8 0.5l0.2 8.5zM742.9 565.8l9.4 -0.4l-0.6 -7.7l-8.8 -0.2l-0.9 1.5zM745.1 581.3l8.4 1l-0.2 -8.6l-1.1 -1.1l-7.6 2.4zM774.4 532.3l11.2 -1.2l-0.4 -4l-3 0.3l-10 0.9l-1.1 0.1zM770.3 611.7l-0.4 -7.5l-13.1 -1.9l-0.2 5.2l0.6 5.1zM771 602.7l10 -2.2l0.1 -0.1l-1.8 -9l-11.1 0.9l-0.2 0.2zM765.4 543.6l0.3 8.9l10.6 0l-0.3 -10.5l-0.7 -0.5l-9.9 2.1zM789.4 569.9l1.3 10.3l9.7 -1.7l0.4 -8l-0.5 -0.5l-10.5 -0.6zM796.5 531.3l11 -0.8l3 -3.8l-0.6 -2.1l-7.8 0.8l-5.8 0.6zM800.1 559.9l10.7 -0.8l0.1 -0.2l-1.5 -9.6l-10.6 1.1l-0.3 0.4l0.3 7.9zM810.9 558.9l-0.1 0.2l1.5 9.1l9.7 -0.6l-3 -10.4zM816.1 533l5.9 1.8l-0.1 -11.6l-9.9 1.1l-1.2 0.2zM822 534.8l0.6 1.1l8.5 -5.7l-0.7 -8l-8.4 1l-0.1 0zM829.1 570.2l-1.7 -6.3l-2.1 -1.1l-4.6 0.3l1.3 4.5l0.9 3.2zM814.8 542.2l1.1 3.9l0.7 2.6l6.2 -1.6l1.3 -8.1l-1.2 -1.1zM822.8 547.1l3 4.2l5.9 -2.9l0.3 -3.1l-3.5 -4.8l-4.4 -1.5zM825.3 562.8l2.1 1.1l5.8 -2.5l0.7 -1.6l-3.3 -3.6l-4.1 -0.3zM846.6 545.7l-0.3 6.3l8.7 0.6l1.6 -2.8l-5.7 -6.5l-3.6 1.6zM847.2 527.2l-1.6 7.3l7.1 2.4l0.2 -5.1l-5.4 -4.8zM852.7 536.9l0.6 0.9l6.4 -1.6l-0.4 -7.7l-3.1 0.3l-3.3 3zM859.7 578.9l7.2 -5.9l-1 -3.6l-7.6 -1l-2.2 1.1zM873.1 566.6l3.6 2.8l3.1 -1.5l0.8 -4.4l-0.7 -4.2l-6.9 -0.6l-1 0.7zM883.8 570.1l3.6 0.3l0.4 -6.1l-7.2 -0.8l-0.8 4.4zM908.9 717l-3.9 -11.1l-8.7 -1l-0.7 1.1l4.3 5.8l7 9.2zM877.9 643l4 0.6l1.8 -1l11.5 -7.7l-1.1 -5.9l-7.1 0.6l-2.5 0.2l-6.6 11.1zM880.7 538l-6.2 2.9l1.3 1.5l5.7 4.3zM881.8 532.9l-1 5l8.5 5.4l2.5 -8.9l-2.7 -3.3l-6.2 0.8zM880.7 526.1l2.4 -7.1l-1.6 -8.6l-5.9 0.6l-2.6 1.4l-0.5 10.3zM889.1 531.1l2.7 3.3l5.2 1.6l6.4 -7.7l-7.9 -5.1l-4.1 3.3zM879.4 500.6l4.8 -1.3l2.4 -5.7l-3.1 -3l-5.6 3.4zM892.1 476.5l10.9 -5.4l0.3 -0.6l-8.5 1.3l-9.8 1.4l-0.4 0.8zM884.2 499.3l4.8 2.3l5.3 -6.5l-1.9 -2.2l-5.8 0.7zM920.9 477.5l6.7 -1.4l0.4 -0.6l-0.9 -8.8l-3 0.5l-9.8 1.6l-0.3 0zM911.3 492.1l4 5l6.8 -3.6l-3.5 -8l-2.6 -0.1l-3.2 2.8zM903.9 486.1l2.1 0.1l6.2 -5.1l-1.1 -2l-7.2 6.3zM957.6 519.6l0.3 4.7l7.2 0.6l-1.1 -6.2l-0.7 -0.8zM864.4 476.1l0.4 -0.1l0.8 -0.1l5.5 -4.8l0 -5.5l-7.8 1.4l-0.3 1.6zM909.5 462.6l6.3 -2.7l-1.5 -5.1l-4 0.4l-2.9 5.3zM914.3 454.8l1.5 5.1l2.5 1.9l3.3 -3.3l0.5 -5.7l-1.1 -1.4l-5.4 1.6zM910.3 468.3l7 -3.6l1.1 -2.7l-0.1 -0.2l-2.5 -1.9l-6.3 2.7zM932.9 465l-6.2 -3.7l-2.8 3.6l0.6 2.2l8.7 -1.4zM932.6 428.5l0.8 7l1.8 -0.3l4 -4.2l-4.7 -3.9zM929.9 454.9l3.4 1.6l1.9 -0.3l3.7 -2.4l-1.5 -4.7l-2.8 -1.7l-4.3 5.4zM943.7 405.4l4 -0.8l0.6 -5.9l-10 0.1l-0.3 0.3zM949.2 396.1l10.1 1.2l1.2 -0.9l-4 -1.7l-5.4 -4.8l-2 0.9l-1.2 0.9zM956 433.1l1.4 3.5l3.4 1.9l4.8 -2.3l0.7 -1.8l-2 -4.8l-0.2 -0.2l-6.6 1.5zM956.6 402.9l2.7 -5.6l-10.1 -1.2l-0.4 1.6zM960.5 444.4l5.6 0.5l2.4 -3.2l-2.9 -5.5l-4.8 2.3zM952.1 383.6l1.1 4.4l7.4 -2.5l-2.6 -7.5l-4.1 0.8zM967.7 384l3.9 -0.2l2.5 -1.3l0.7 -8l-6.8 1.5l-3.2 0.6zM996.3 435.9l0.9 2.8l3.9 -10.9l3.6 -11.4l0.8 -3.2l-4.6 1.6zM893.9 362.8l1.2 -9.9l-6 -0.6l0.4 2.4l1.4 8.1zM923 366.9l0.2 8.5l8.6 -2.8l1.3 -1.1l0.2 -1.2l-2.1 -4.7l-6.7 -0.8zM933.1 371.5l-1.3 1.1l-3.8 11.1l3.7 -0.7l7.5 -1.4zM972 321.6l5.3 -1.8l4 -7l-8.5 1.8l-9.1 2l-1 0.2zM966.6 374.2l-6 -4l-5.3 -1.6l-7.2 4.4l0.1 6.9l1.7 -0.3l9.1 -1.8l7.9 -1.6zM963.6 347.2l3.1 4.2l10.9 -7.1l-0.8 -1.6l-9 -0.8zM972 321.6l-9.3 -4.8l-5.3 1.1l3.4 14.2l4.6 1.5l8.2 -1.8zM1001.4 341.7l0.4 -1.9l0.2 -3.3l-0.3 -0.4l-7.5 -3.2l-1.3 2.5l2.6 6.3l5.5 0.3zM1001.7 336.1l0.3 0.4l12.2 0.2l0.4 -5l-8.4 -2.8l-0.9 -0.3zM930.8 295.2l0.8 -0.7l0.4 -5.6l-6 -0.9l-9 2.3l-4.5 1.8zM930.7 295.3l0.1 -0.1l-18.3 -3.1l-2.6 1.1l12 12.3zM994.3 317.9l-3.8 -11.1l-10.3 0.8l-5.9 6.7l7.5 -1.7l7.9 8.9l2.8 1.6zM1012.2 269.8l1.1 4.5l0.3 1.4l12.4 0.2l-5.8 -11.8z"/>
<path fill="#a7d1d2" d="M299.1 322.3l-11.2 -2.6l-9 7.6l3.3 0.6l9.2 1.5l7.1 1.2zM587.1 657l11.5 -0.1l0.5 -0.5l0.4 -9.9l-0.7 -0.9l-13.8 2.3zM617.1 685.5l2.3 -2.2l-3.5 -11.5l2.3 6.4l3.8 3.8l3 -2.1l0.3 -11.6l-0.4 -0.3l-12.4 2.2l0 9.4zM643.6 629l-0.9 -2.7l-1.2 -2.3l-17 0.9l1.3 9.8l11.5 0.3zM625.6 271.7l0.7 0.9l12.4 -1.2l-0.5 -8.9l-11.7 -0.5l-0.8 0.8zM627.5 303.1l-0.2 -0.2l-11.8 1.9l0.1 11.3l3.1 0l9.1 -0.2l1.7 0zM638.2 262.5l0.5 8.9l2.2 2.4l11.3 -4.2l0.1 -0.7l-2.3 -6.6l-10.8 -1.1zM628.4 476.5l0.1 -8.1l-0.1 -0.1l-6.9 0.1l0 5.1l0 3.4zM628.1 425.3l0.7 -0.9l-0.9 -6.7l-0.3 -0.4l-12.4 -0.2l0 5.1l2.5 3.2zM627.5 442.7l0.9 7.7l8.4 -0.1l0.7 -7.6l-9.5 -0.7zM627.7 485.2l1.8 -2.1l-0.7 -6.1l-0.4 -0.5l-6.9 0.4l0.1 7.5l0 0.9zM628.1 434.7l9.4 -0.9l-0.4 -7.6l-0.7 -0.7l-7.6 -1.1l-0.7 0.9l-0.7 8.7zM668.8 492l10.3 -0.5l0.3 -0.4l-0.7 -8.2l-0.7 -0.6l-8.7 1.6zM675.9 432.4l9.7 0.2l-0.1 -8l-9.8 -0.1zM634.8 549l-8.8 0.2l-0.1 9.2l9 1.4l0.2 -0.3l-0.1 -10.2zM646.7 578.1l-11.4 -0.4l0.1 4.1l0.1 5.9l10.3 -0.2l1.9 -0.1zM645 521.8l-0.6 7.4l2.3 2.3l8.3 -0.8l1.5 -1.7l-0.6 -7.3l-0.6 -0.6l-9 -0.8zM646.7 531.5l-0.6 7.8l10.8 1.2l-1.9 -9.8zM655.9 521.7l0.6 7.3l9.7 1.7l1 -1.3l-0.7 -9.4zM667.5 567.6l0.3 -10l-10.6 1l0.6 8.2zM678 509.9l9.4 0.4l0.6 -0.8l-1.4 -9.1l-9.7 2.3l0.5 6.6zM678.4 623l1 1.2l5.3 1.7l5.1 -10.7l-5.5 -1.3l-7.7 4.9zM696.3 616.9l1.4 -3l4.9 -10.6l-0.4 -1l-9.9 0.3l-0.5 0.4l-0.4 11.7zM702.6 307.9l9.5 0l0.2 -9.7l-11.5 -0.4zM735.7 315.8l1.9 9.4l8.1 -0.6l-1.1 -3.2l-0.2 -6.3zM778.7 344.7l-4.2 -4.6l-1.2 3.3l-1.4 4l-4 5.4l7.6 -0.8l4 -0.4zM795.6 327.5l1.1 -1.2l0.1 -7.7l-1.9 -1.7l-8.3 3l0.8 6zM804.6 309.3l1.1 7.4l9.7 -0.6l0 -0.1l-1.3 -8.5l-9.1 1.3zM816.4 323.7l0.7 8.6l0.8 0.7l9.4 -1.7l-1.1 -8.6l-9.8 1zM754.9 358.9l0.7 7.6l4.8 -0.5l0.3 -0.4l-1 -7.8zM769.8 371.9l0.3 0.2l7.4 -2.1l0 -0.1l-0.6 -6.4l-8.2 1.7zM807.7 419.2l1 7.7l0.1 0l5.3 -2l-0.3 -7.1zM842.2 364.6l8.3 -1.5l-1.3 -6l-7.6 0.2l-0.3 0.3zM853.4 378.2l7.8 -1.1l-1.2 -7.9l-8.8 1.9zM860.3 368.7l8.9 0.7l0.2 -0.3l-0.7 -7.8l-1.2 -0.7l-7.7 2.4zM752 475.6l5 -2l0 -2.6l-4.2 -4.6l-4.7 7.3zM759.5 475.5l0.4 3.7l6.8 2.7l1.5 -2.2l-3.1 -6.7zM767.3 460.3l6.5 0.8l-0.2 -6.3l-1.4 0.7l-4.8 -1.4l-1.3 3.9l0.7 2zM776.8 471.2l3.5 2.1l6.5 -5l0.3 -1.8l-6.9 -0.2l-3.6 2.4zM782.9 475.5l4.4 -1.6l0.1 -0.3l-0.6 -5.3l-6.5 5zM834.1 474l-0.2 -0.1l-5.7 0.6l-1.9 2.7l0.3 3.5l8.5 -0.9l0.2 -0.1zM830.2 461.7l-5.2 6.5l1.3 1.4l6.1 -1.7l0.2 -0.6l-1 -6zM831.6 461.3l0.7 -0.6l-1.4 -6.3l-4.4 -0.5l-4.1 4.3l0.3 1.1l7.5 2.4zM830.9 454.4l1.4 6.3l6.6 0.3l-0.1 -7.8l-1.1 -1.8l-5.1 0.3zM843 460.7l5.2 0.5l1.9 -0.8l1.6 -6l-0.8 -1l-3.3 -1.1l-1.7 1.4zM736.5 524.6l1.5 5.5l8.4 -3.6l-0.8 -0.8l-9 -1.2zM746.4 526.5l4.2 3.1l3 -11.3l-1.1 -1.5l-8.2 -0.3l-0.5 2.2l1.8 7zM761.5 517.6l0.4 0.1l4.9 -4.3l-5.3 -6.6l-4.5 2.7zM766.8 502.3l5 7.6l4.2 -1.4l1.5 -2l-0.6 -2.7l-7.1 -5.7zM787.1 504.1l6.9 -0.1l0.7 -0.8l0.1 -5.2l-8.7 -0.9zM794.8 498l-0.1 5.2l8.4 -1.2l0.1 -0.8l-1.5 -3.2l-5.9 -1.4zM706.3 600.6l0.2 -6.8l-1.1 -1.2l-6.1 0.4l0.4 1.4l2.2 6.9zM733.6 576.4l10 -2.3l-1.6 -6.9l-8.5 0.4zM757.3 583.6l-0.3 10.4l11 -1.5l0.2 -0.2l0.3 -10.9l-0.1 -0.1zM777.2 553.5l9.3 -1.7l1.2 -1.9l-1.5 -7.2l-0.9 -1l-9.3 0.3l0.3 10.5zM792.1 590.2l9.8 -0.9l0.8 -1.2l-0.7 -7.7l-1.6 -1.9l-9.7 1.7zM812.3 568.2l-0.7 1l1.5 8.7l11.8 -0.1l-2.9 -10.2zM844.8 571.1l6.4 -2.1l0.5 -0.4l-0.6 -5.5l-5.8 -2.4l-0.9 0.3l-0.8 8.3zM850.9 543.3l5.7 6.5l3.8 -1.2l1 -1.2l-0.8 -2.9l-7.8 -4.2zM872.3 607.1l5.9 -1.2l1.1 -1.2l-0.5 -5.6l-7.7 0.8l0.3 6.6zM926.8 741l1.3 -9.8l-3.4 -2.6l-6.9 5.4l6.2 9.5zM908.2 694.5l0 6.7l10.4 5.6l3.4 -11.5l-5.3 -3.7zM930.1 675.3l0.2 4.1l12.3 0.1l-0.4 -2.6l-2.2 -3.6l-1.7 -2.1zM935.2 702.5l-0.3 6.4l8.6 2.6l5.6 -3.7l-1.1 -8.5l-11.9 2.1zM886.6 493.6l5.8 -0.7l0.1 -7.5l-8.7 -1.8l-0.3 7zM915.3 497.1l-1 3.4l11.3 0.9l0.5 -0.7l-2.1 -6.3l-1.9 -0.9zM923.2 423.1l10.5 -0.7l-2.3 -6.5l-6.3 0.9l-0.6 1l-2.8 3.7zM937.4 449.1l5 -3.9l-0.4 -4l-0.7 -0.7l-8.6 2.7l1.9 4.2zM951.8 410.6l2.6 5.8l7 1.4l0.2 -0.3l1.4 -7.2l-10.9 -1.5zM991.3 408l-7.4 -8.5l-3.2 -1.7l1.7 4.8l3.5 7.2l3.1 0.7zM916.7 336.8l6.5 5.7l5.8 -4.6l1.3 -2.5l-2.5 -7.3l-4.1 -3.5l-7 9zM991.6 353.3l4.9 -2.5l-4 -3.4l-0.4 -10.5l0.8 -1.5l-1.2 0.5l-9.6 8.7zM1009.7 353.1l0.8 4l1.3 1.8l5.3 3.7l0.6 -5l-1.2 -7.8zM916.7 318.2l-10.2 -5l-1.1 1.3l-0.4 13.4l4 -0.7l9.1 -1.7l1.7 -0.3zM947.3 309.2l-5.8 -1.8l-3.2 3.3l-0.2 11l7.4 -1.4l1.1 -0.2zM953.4 308.3l-6.1 0.9l-0.7 10.9l8 -1.7l2.3 -0.4zM941.5 307.4l5.8 1.8l6.1 -0.9l3.4 -4.9l-1 -3.7l-11 -3l-4.8 2.5zM980.2 307.6l10.3 -0.8l0.3 -0.3l1 -9.2l-7.9 -2l-5.3 3.3z"/>
<path fill="#9fcecf" d="M300 291.3l16.2 -0.4l1.5 -9.4l0.9 -5.3l-15.7 -8.9l-6.3 9.3zM364.8 404l3.7 5.5l8.9 1.3l5.2 -4.1l-0.6 -14.3l-15.4 5.9zM607.6 540.3l10.5 1.4l1.9 -1.8l-1.2 -9.3l-0.7 -0.7l-11.4 1.4l-0.4 7zM627.5 303.1l13.3 -0.9l0.3 -0.5l-0.6 -7.5l-1.1 -1.3l-12.1 -0.3l-0.3 0.4l0.3 9.9zM676.4 397.6l6 0.5l0 -3.3l-6.3 -5.4l-1.4 0zM627.9 451l0.5 -0.6l-0.9 -7.7l-6.3 0.2l0.1 7.4zM627.5 442.7l0.5 -0.7l0.1 -7.3l-0.7 -0.7l-6.3 -0.1l0.1 6.9l0 2.1zM628.8 424.4l7.6 1.1l1.3 -9.2l-9.8 1.4zM637.4 409.7l10 -0.6l0.4 -0.5l-2.1 -8.7l-8.1 1.5l-0.4 7.9zM646 424.4l0.7 0.7l9.2 -0.3l-0.1 -7.5l-8.2 -1l-1.8 1.8zM664.8 417l1 7l1 0.8l8 -1.2l0.6 -7l-0.2 -0.4l-8.8 -1zM656.9 407.5l9.2 0.5l0.9 -1l-0.3 -7.5l-0.8 -0.9l-9.4 1.4zM667 433.6l0.1 7.7l9.7 0.8l0 -0.1l-1.2 -9.2zM665.9 500.9l0.7 0.8l8.9 -0.3l0.6 -5.6l-3.5 0.1l-6.8 0.3zM646.3 520.3l9 0.8l1.4 -10.1l-0.9 -0.9l-10.2 1.6zM655.9 521.7l10.6 -1.7l1 -1.5l-1.3 -6.6l-0.4 -0.6l-9.1 -0.3l-1.4 10.1zM666.9 537.3l1.8 1.7l8.9 -0.3l0.6 -9.5l-0.9 -1.1l-10.1 1.3l-1 1.3zM667.2 529.4l10.1 -1.3l0.5 -8l-10.3 -1.6l-1 1.5zM644 630l3.4 9.1l-1.2 3.5l15.1 -1.7l-0.9 -7.5l-11 -6.7zM731.4 278.1l1 9.5l0.8 0.7l15.5 -3l0.1 -0.5l0.5 -5.2l-5.3 -0.8l-1.9 2.7l-2.6 1.5l1.4 -4.6l-8.7 -1.4zM737.6 325.2l-1 1.2l0.3 9.9l1.9 -0.1l8.9 -0.8l-0.1 -5.2l-1.9 -5.6zM743.3 454.9l1.4 8.3l8.3 -0.7l0.2 -5.4l0.3 -3l-9.7 0.2zM808.8 342.8l9.7 -2.6l-0.6 -7.2l-0.8 -0.7l-8.9 1.2l0.6 9.3zM825.5 313.8l1.5 7.7l9.3 -0.1l-0.5 -8.5l-0.4 -0.5l-9.7 1zM826.2 322.7l1.1 8.6l0.1 0.1l11.5 -2.4l0.9 -4.4l-3.5 -3.2l-9.3 0.1zM825.7 313.4l9.7 -1l-0.2 -7.6l-1.4 -1.1l-9.2 3.9zM768.1 357.3l7.2 -0.7l0.5 -0.7l0 -3.9l-0.3 0l-7.6 0.8l-2.3 1.8l-0.7 0.3zM765.8 422.1l-5.4 0.5l0.2 5.3l-0.3 1.8l5.4 0.6l1 -1.1zM776.9 443.6l-1 -1l-8.2 1.1l1.1 10.8l3.4 1l4.6 -2zM775.9 442.6l1 1l8 -1.9l0.1 -0.1l-1 -6.5l-8.9 0.7zM784.2 356l0.1 -0.2l-0.3 -4.7l-0.9 0.1l-7.3 0.8l0 3.9zM785.6 369.5l7.8 -0.5l-0.4 -6.5l-0.7 -0.7l-7.6 1.1zM788.7 405.7l1.2 6.9l8.2 -1.2l-0.1 -6l-8.4 -1.2zM883.5 343.4l4.1 -0.5l-1.9 -11.2l-4.8 2.8zM824.1 359.6l8.6 -1.4l-0.4 -7.4l-9.5 1.8l0.8 6.5zM834.8 374l1.8 5.4l7.1 0.2l1 -7.5l-1.3 -0.9l-8.6 2.7zM838.7 411.9l2.3 6.9l7.6 -2.1l0.2 -6.5l-0.4 -0.3l-9.1 1.1zM766.7 481.9l-6.8 -2.7l-4.1 4.2l1.5 3.1l2.5 0.5l7.2 -0.5zM761.8 467.3l-0.4 -2.3l-8.3 -4.4l-0.2 5.7l-0.1 0.1l4.2 4.6zM800.1 441l7.3 -1.1l0.6 -2.5l-4.7 -7.9l-0.1 0l-5.4 10.3zM773.5 477.6l4.5 5.9l4.9 -7.6l0 -0.4l-2.6 -2.2l-3.5 -2.1l-1.8 2.1zM798.8 483.6l6.4 -0.6l-2.7 -7.2l-5.4 1.4zM826.3 477.2l-6 -2l-2.2 6.5l7.6 -0.9l0.9 -0.1zM824.8 429.6l2 -0.8l0.3 -0.8l-5 -8.6l-4 3.3zM820.4 467.4l4.6 0.8l5.2 -6.5l-7.5 -2.4l-2.7 4.8zM823.3 448.8l3.2 5.1l4.4 0.5l1.7 -2.7l-0.7 -1.8l-0.4 -0.3l-7.9 -1.6zM838.7 472l3.8 2.2l5.8 -4.4l-7.6 -6.3l-1.8 4.3zM849 469.8l-0.7 0l-5.8 4.4l0.8 4.6l1.2 -0.1l8.7 -6.4l1.4 -1.1zM836.7 441.4l6.4 1.8l3.5 -5.6l-0.7 -0.9l-4.1 -2.2l-5.1 1.6zM843.7 446.3l2.1 1.7l6 -3.4l-4.2 -7l-1 0l-3.5 5.6zM861.8 448.6l-2.3 -3.8l-1 -0.2l-2.2 10.8l0.6 0.3l4.6 -0.5zM728.4 519.3l-1.2 5.2l2.7 2.8l6.6 -2.7l0.1 -0.1l-0.1 -4.2l-2.3 -3.5zM736.6 524.5l9 1.2l-1.8 -7l-7.3 1.6zM750.2 506.9l2.6 2.5l4.2 0.1l4.5 -2.7l0.8 -3.2l-3.6 -3.6l-7.3 2.8l-1.3 2.3zM785.1 522.6l1.1 4.4l5.9 -0.6l3.6 -0.3l-1.4 -5.1l-7.9 -0.2zM803.1 502l0.8 2.1l7.1 1.2l2.8 -1.3l-0.2 -4.4l-3.3 -2.9l-7.1 4.5zM869.4 476.7l-2.1 7.5l3.6 5.8l7.4 -3l1.9 -3.8zM869.4 476.7l-0.2 -1.3l-4.4 0.6l-5.4 0.7l0.1 6l0.1 0.3l7.7 1.2zM744.6 575l7.6 -2.4l0.6 -6.7l-0.5 -0.5l-9.4 0.4l-0.9 1.4l1.6 6.9zM749.8 541.2l0.5 0.7l7.9 -1.2l0.2 -8.6l-2.3 -2.4l-3.8 0.3l-2.9 0.3zM769.9 604.2l1.1 -1.5l-3 -10.2l-11 1.5l0 1l-0.2 7.3zM765.4 543.6l9.9 -2.1l-0.9 -9.2l-3.3 -3.9l-8.8 0.8l-1.1 0.1zM768.2 592.3l11.1 -0.9l0.9 -1.8l-0.8 -8l-10.9 -0.2zM785.6 531.1l1.1 1.3l9.5 -0.7l0.3 -0.4l-0.2 -5.3l-4.2 0.4l-6.9 0.7zM822.9 537.9l-0.3 -2l-0.6 -1.1l-5.9 -1.8l-3.3 1.9l0.1 0.4l1.9 6.9zM828.5 540.5l3.5 4.8l6.2 -2.4l1.2 -6.9l-9.8 3.6zM847.3 544.9l3.6 -1.6l1.9 -3l0.5 -2.5l-0.6 -0.9l-7.1 -2.4l-3.2 1.5zM869.3 548.8l2.7 1.3l3.7 -2.3l-0.8 -4.6l-5.8 -1.6l-1.3 5.3zM868.5 584.3l4.6 -3.2l0.7 -1.8l-4.1 -4.8l-0.6 -0.1l-1.8 8.5zM872.9 552.4l10.6 0.7l1 -4.1l-1.4 -1.1l-7.4 -0.1l-3.7 2.3zM875.7 547.8l7.4 0.1l-0.1 0l-7.1 -5.5l-1 0.8zM894.2 684.2l0.1 1.3l-1.2 8.3l11.3 -1.3l0.5 -8.7l-3.3 -4.5zM936.1 701.4l11.9 -2.1l1.6 -1.9l-6 -9.1l0 -0.6l-5.8 2.7zM867.3 530.9l5.2 -8.2l0.5 -10.3l-4.4 2.2l-7 3.6l-3.9 8.4l8 4.1l0.6 0.7zM883.1 519l4.8 4.1l3.9 -13.7l-6.8 0.7l-3.5 0.3zM862 510.5l-8.4 0.6l-2.7 8.5l0.8 -0.1l9.9 -1.3l1.7 -0.8zM879 510.7l6 -0.6l9.4 -1l0.9 -0.1l-0.1 -0.4l-5.2 -4.3l-10.8 5.9zM899.8 499.3l5.4 11.6l1.6 -2l0.2 0.4l0.2 -8.1l-5.2 -4.5l-1.4 0.5zM933.2 465.7l0.6 -0.1l6.9 -1.2l-5.5 -8.2l-1.9 0.3l-0.4 8.5zM931.4 415.9l2.3 6.5l1.2 0.8l3 -1.4l1.7 -5l-6.8 -2.6zM941.3 440.5l0.7 0.7l7.8 -0.4l-0.2 -4.3l-5.9 -4.9l-2.4 8.7zM949.8 440.8l2 1.8l5.6 -6l-1.4 -3.5l-1.8 0l-4.6 3.4zM986.3 378.7l-6.8 -5.1l-2.4 0.5l-1.7 0.3l5.6 4l0.5 -0.8l2.8 0.8l-0.5 1.4zM900.6 369.4l-2.5 -4.6l-4.2 -2l-3 0l0.5 3.1l0 0.4l1.6 9.5zM900.8 336.7l1.2 -1.4l-1.6 -6.6l-0.5 0.1l-1.2 -6.9l-5.8 4.1l-7.2 5.7l0.7 4.2zM977.7 344.4l4.4 0.2l9.6 -8.7l-14.9 -0.6l0 7.4l0.8 1.6zM976.8 335.3l14.9 0.6l1.2 -0.5l2.5 -4.8l-8 -3.5l-11.5 6.2zM991.6 353.3l-0.1 0.1l2.4 13.9l4.3 -4.6l5.4 -5.8l-7.1 -6.1zM930.8 295.2l-0.1 0.1l1.5 14.5l6.1 0.9l3.2 -3.3l-1.5 -8.2l-8.4 -4.7zM1003 305.2l-0.8 9.3l2.7 1.4l11.8 -8l-0.2 -0.8l-8.1 -3.9l-2.7 -0.3z"/>
<path fill="#98cbcc" d="M617.8 510.1l-0.6 0.6l1.4 9.3l6.6 -0.5l-0.5 -3l-1.1 -7.4zM617.5 501l0.3 9.1l5.8 -1l-0.3 -2.2l-1.5 -9.6l0 -0.4zM679.1 491.5l-10.3 0.5l-3.1 4.2l6.9 -0.3l6.7 -0.3zM657.3 433l9.4 0.2l0.1 -8.4l-1 -0.8l-9.1 1.7l0.1 6.7zM633.8 502.6l1 8.9l10.3 -0.4l0 -8l-1.7 -2l-9.4 1.2zM635.2 539.2l-0.2 -7.8l-1.7 -1.6l-7.2 0.9l0 6.7l-0.1 2.6zM634.6 519.9l10.4 1.9l1.3 -1.5l-0.7 -8.6l-0.5 -0.6l-10.3 0.4l-0.2 0.3zM796.7 326.3l9.2 -0.1l0.7 -1.4l-1.5 -6.9l-8.3 0.7zM774.9 422l7.2 -0.4l0.5 -0.6l-0.4 -7l-0.9 -0.8l-7.5 1.3l0.8 7.3zM771.7 393.6l0.2 6.4l1.2 1.4l7.3 -1.9l0.2 -0.3l-0.9 -5.9l-7.7 -0.1zM784.3 355.8l7.4 -0.5l-0.3 -5l-0.7 0.1l-6.7 0.7zM800.3 353.7l6.2 -0.1l-0.4 -3.4l-0.2 -1.5l-6.3 0.7zM789.8 412.8l1.2 6.8l7.8 -0.4l0.9 -1.1l-1.5 -6.6l-0.1 -0.1l-8.2 1.2zM793.4 369l0.4 0.4l7.6 -1.4l-1.1 -6.9l-7.3 1.4zM798.2 405.1l7.5 -1.1l-0.2 -6.6l-7.7 0.3zM799.7 354.6l0.8 6.2l6.8 -0.2l-0.8 -7l-6.2 0.1zM820.5 406.7l1.5 5.8l8.6 -0.1l-0.7 -7.3l-0.5 -0.5l-8 0.9zM869.4 369.1l7.5 -1.3l-0.6 -7.6l-0.9 -0.8l-6.7 1.9zM876.3 360.2l8 0.3l0.7 -1.2l-1.5 -7.6l-0.8 -0.6l-7 1.6l-0.3 6.7zM753 482.1l0.3 0.4l2.5 0.9l4.1 -4.2l-0.4 -3.7l-2.5 -1.9l-5 2zM790.2 481.9l-5.5 -3.2l-2.1 6.4l5.4 -0.4l2 -0.2zM786.7 458.9l1.7 6.5l5.4 1.1l1.8 -1.3l0.1 -0.7l-6.3 -10.5l-1.5 1.4zM795.6 465.2l6.9 2l0.7 -0.4l1.1 -2.5l0.7 -4.4l-1.8 -1.1l-4.8 0.3l-2.7 5.4zM802.5 449.6l5.1 0.8l2.6 -6.7l-2.7 -3.5l-4.8 7.2zM809.9 457.9l1.9 1.3l6.9 -5.8l-0.2 -1.2l-3.3 -2l-5.6 2zM832.6 467.3l6.3 0.5l1.8 -4.3l-0.2 -1.5l-1.6 -1l-6.6 -0.3l-0.7 0.6zM842.5 474.2l-3.8 -2.2l-4.6 2l1.2 5.7l8 -0.9zM849 469.8l5.6 1.4l3.6 -2.7l-1.6 -3.5l-6.5 -4.6l-1.9 0.8zM718.8 521l-1.1 4.6l9.5 -1.1l1.2 -5.2l-3.5 -4.1zM769.8 498.1l10.4 -1.4l1.6 -1.8l-3.4 -3.4l-9.1 4.3zM777.6 522.1l7.5 0.5l1.3 -1.8l-0.1 -6l-7.1 -0.4l-2.3 5zM785.5 496.2l8.3 -5.1l-1.9 -6.8l-3.9 0.4l-0.3 0l-3.7 10.4zM801.7 498l1.9 -7.8l-8.5 1.9l0.7 4.5zM842.6 496.8l3 2.5l7.2 -1.3l-0.1 -3l-8.1 -3.5l-2.2 2.4zM722.8 550.8l8.6 0.2l0.5 -8.4l-0.2 -0.3l-9.8 0.9zM751.8 557.7l-0.1 0l0.6 7.7l0.5 0.5l4.9 -0.2l0.2 -8.4l0 -0.1zM752.8 565.9l-0.6 6.7l1.1 1.1l4.2 0.4l0.1 -4.2l0.1 -4.2zM796.2 531.7l1.6 8.8l0.6 0.5l9.3 -1.3l-0.2 -9.2l-11 0.8zM807.5 530.5l0.2 9.2l1.3 1.1l5.1 -1.2l-1.2 -4.3l-2.4 -8.6zM839.6 535.7l2.8 0.3l3.2 -1.5l1.6 -7.3l-7.5 0.7l-1.3 5.5zM859.7 536.2l0.8 0.3l6.8 -3.9l-1.6 -1.9l-5.7 -2.9l-0.7 0.7zM912.1 661.7l14.3 2.3l2.7 -3.9l-0.4 -0.5l-2.5 -4.5l-10.4 -3.2l-3.9 3.4zM943.5 711.5l3.2 6.5l14.2 2.3l0 -1.2l-2.9 -7.3l-1.1 -1.9l-7.8 -2.1zM929.5 531.2l10.7 5.4l0.2 -0.5l-4.7 -12.6l-5 1.7zM879.2 510.2l10.8 -5.9l-1 -2.7l-4.8 -2.3l-4.8 1.3l-0.3 0.5zM917.1 509.2l-2.9 -8.6l-7 0.6l-0.2 8.1l3.1 6.9l3.2 -0.5zM944.5 514.2l-3 -6.2l-5.8 -1.1l-6.2 5.7l0 0.4l3.7 -0.6l9.3 6.7l1 0.7zM947.6 421.7l1.1 4.7l6.3 -0.7l-1.9 -7.9l-5.3 3.2zM977.9 420.7l2.1 3.2l0.8 0.5l6.3 -4l0 -0.2l-8.9 -3.1zM942.5 382.2l9.6 1.4l1.8 -4.8l-4 0.8l-7.7 1.5zM967.4 394.6l2.4 3.8l2.7 4l6.1 -2.4l0.1 -0.2l-0.8 -4.2l-5.2 -2l-3.8 0.1zM996.2 384.4l-1.2 -3l-1.8 -3.6l-1.8 -3.6l1.4 -5.6l-3.6 0l-3 3.5l2.9 10.6l1.2 4.7zM975.9 333.3l11.5 -6.2l-1.8 -1.9l-4.7 -1.4l-6.1 8.6zM992.5 346.4l0 1l3.7 3.2l0.3 -0.3l4.5 -8.3l-5.5 -0.3z"/>
<path fill="#91c8c9" d="M606.5 509.1l0.5 0.6l10.2 1l0.6 -0.6l-0.3 -9.1l-10.1 -1.5zM618.1 541.7l-0.6 9.2l0.4 0.4l8.1 -0.6l0 -2l0 -7.8l-6 -1zM681.2 386.5l-0.2 -0.2l-9.2 1.5l-1.3 1.9l5.6 -0.3l5.4 4.6zM638 416.1l7.8 2l1.8 -1.8l-0.2 -7.2l-10 0.6zM656.9 441.6l9.5 0.5l0.7 -0.8l-0.1 -7.7l-0.3 -0.4l-9.4 -0.2l-0.4 8.6zM675.6 432.8l1.2 9.2l9.1 -2.5l-0.2 -6.8l-0.1 -0.1l-9.7 -0.2zM633.3 529.8l0 -8.4l-8 -0.9l0.9 5.5l-0.1 4.7zM633.3 521.4l0 8.4l1.7 1.6l9.4 -2.2l0.6 -7.4l-10.4 -1.9zM655.1 501.3l0.2 0.2l10.6 -0.6l-0.1 -4.7l-3.4 0.1l-7.9 0.3zM733.9 297.7l13 -2.6l0 -1.1l1.8 -8.7l-15.5 3l0.7 9.4zM815.4 316l10.1 -2.2l0.2 -0.4l-1.1 -5.8l-0.2 -0.1l-10 -0.6l-0.3 0.6zM833.1 296.6l-0.8 1.4l1.5 5.7l1.4 1.1l8.4 -1.5l-0.7 -2.2l-2.2 -6.3zM765.8 422.1l8.8 -0.3l-0.8 -7.3l-0.6 -0.4l-7.4 1.4zM784.2 356l0.2 6.6l0.3 0.3l7.6 -1.1l-0.5 -6.5l-0.1 0l-7.4 0.5zM786.5 383.4l8 0.8l0.8 -1.3l-1.2 -6.7l-8 1.1zM794.3 375.9l8.6 -0.5l-0.8 -6.9l-0.7 -0.5l-7.6 1.4zM799.7 418.1l7 0l1.1 -6.5l-0.9 -1.2l-8.7 1.1zM814.4 352.6l0.1 0.1l7.9 -0.5l-0.1 -4.5l-7.8 1.3l-0.9 0.1zM822 412.5l-1.5 -5.8l-7.9 0l1.2 10.4l6 -0.7zM832.3 350.8l0.4 7.4l0.8 0.8l7.8 -1.4l0.3 -0.3l-1.2 -7.3l-3.8 -2.3l-2 -0.6zM830.5 419.9l10.1 -0.2l0.4 -0.9l-2.3 -6.9l-7.9 0.7zM749.2 487.7l-2.6 0.4l-2.7 3.2l0 0.4l2.2 -0.2l7.1 -0.5zM786.8 468.3l0.6 5.3l6.4 -3.3l0 -3.8l-5.4 -1.1l-1.3 1.1zM798.4 459.1l4.8 -0.3l-1.6 -8.7l-1.5 0.1l-5.3 2.8zM800.1 441l-2.3 -1.2l-1.9 3.7l4.2 6.7l1.5 -0.1l0.9 -0.5l0.2 -2.2zM802.7 447.4l4.8 -7.2l-0.1 -0.3l-7.3 1.1zM827.5 497.4l1.6 2.5l7.9 1.8l-0.1 -8.8l-1 -0.5l-7.9 3.1zM836.9 492.9l5.5 1l2.2 -2.4l0.1 -4.4l-1.7 -2.5l-6.8 0l-0.3 7.8zM732.2 559.5l0.7 7.6l0.6 0.5l8.5 -0.4l0.9 -1.4l-0.9 -6.8l-9.6 0.2zM751.8 549.7l0 8l6.1 -0.5l0.2 -7.7zM839.7 527.9l7.5 -0.7l0.3 -0.2l0.4 -1.1l-4.2 -5.3l-1.9 0.2l-5.2 0.6l-0.5 0.1zM839.4 536l-1.2 6.9l2.6 2.1l5.8 0.7l0.7 -0.8l-4.9 -8.9l-2.8 -0.3zM851.6 523.4l4.6 5.4l3.1 -0.3l0.7 -0.7l-2.3 -1.2l1.8 -3.8l-5.8 -3.3zM926.4 664l-0.6 4.2l4.3 7.1l8.2 -4.1l-9.2 -11.1zM882.9 531.9l-2.2 -5.8l-8.2 -3.4l-5.2 8.2l14.5 2zM909 521.6l1.1 4.3l6.4 0.8l4.3 -4.2l-3.7 -7.4l-5.8 0.9l-2.2 3.4zM861.8 505.3l-8.8 -3l-3.3 3.1l-1.7 1.6l5.6 4.1l8.4 -0.6l0.1 -0.1zM863.3 517.4l5.3 -2.8l7 -3.6l1.9 -0.2l-5.8 -1.9l-9.6 1.5l-0.1 0.1zM899.8 499.3l-4.6 9.3l0.1 0.4l8.5 -0.9l0.6 3.8l0.8 -1zM929.5 512.6l-6.1 -6l-6.3 2.6l-3.8 6.5l4.5 -0.7l7.7 -1.3l4 -0.7zM935.2 456.2l5.5 8.2l2.9 -0.5l1.5 -0.3l0.8 -4l-3.2 -4.9l-3.8 -0.9zM947.8 421l5.3 -3.2l1.3 -1.4l-2.6 -5.8l-2.3 1.1l-6.1 3.7zM934.3 392.4l0.4 0.1l15 -1.9l1.4 -0.7l-6.7 -6.1l-4.4 -1.8l-4.1 4.7l-3.6 -0.7zM962.2 386.4l-1.6 -0.9l-7.4 2.5l-1.2 2.7l4.5 4l4.9 2.1zM939.2 381.6l1.6 -0.3l7.4 -1.4l-0.1 -6.9l-2.8 -4l-12 1.3l-0.2 1.2zM981.1 366.5l-0.5 -0.6l-11.8 2.4l-2.2 5.9l0.3 2l1.1 -0.2l9.1 -1.9l4.4 -1zM978.8 357.4l1.8 8.5l0.5 0.6l5 -0.9l4.1 -11.4zM990.2 354.2l-4.1 11.4l7.1 2.5l0.7 -0.8l-2.4 -13.9zM918.6 308.6l3.3 -2.9l0 -0.2l-12 -12.3l-2.9 1.2l2.2 5.2l2.6 3.9l-0.3 3.5l-0.4 0.5zM918.6 308.6l-7.5 -1.1l-4.6 5.7l10.2 5zM916.7 318.2l3.1 7l6.3 -1.2l1.7 -12.9l-5.9 -5.4l-3.3 2.9z"/>
<path fill="#89c5c6" d="M606 520.4l12.5 -0.3l0.1 -0.1l-1.4 -9.3l-10.2 -1zM606.6 562.6l12.7 -1l0.3 -0.4l-1.7 -9.9l-0.4 -0.4l-10.5 1zM657.4 451.3l0.5 6.5l9.9 0.3l0.3 -7.3l-1.5 -1.7l-8.9 1.7zM666.7 399.5l8.7 -0.8l1 -1.1l-1.7 -8.2l-7.3 0.4l-1.5 0.1l0 8.7zM675.2 416.2l0.2 0.4l8.7 -0.6l2.1 -3.1l-3.8 -5.6l-6.6 0.1l-0.3 0.3zM718.4 473.1l-0.4 8l0.5 0.6l14.1 -0.5l0 -1.6l-7.6 -7.3l-2.3 -3.4zM799.3 343.1l9.5 -0.3l-0.6 -9.3l-1.3 -0.9l-9.3 3.3l0.7 6.2zM806.6 324.8l9.8 -1.1l-1 -7.6l-9.7 0.6l-0.6 1.2zM766.1 435.6l-0.4 -5.3l-5.4 -0.6l-1.6 8.1zM776.9 363.5l0.6 6.4l7.6 0.3l0.5 -0.7l-0.9 -6.6l-0.3 -0.3l-7.5 0.9zM782.6 429l1.4 5.9l7.7 -2.1l0.1 -5.3l-0.4 -0.4l-7.9 0.2zM822.4 352.2l0.4 0.4l9.5 -1.8l2.3 -3.7l-3.3 -0.8l-8.4 1.3l-0.6 0.1zM766.1 458l1.3 -3.9l-5.6 -1.6l-6.7 3.6zM761.4 465l5.4 -5l-0.7 -2l-11 -1.9l-1.9 1l-0.1 3.5zM778.4 485.5l0.2 0l4 -0.4l2.1 -6.4l-1.8 -2.8l-4.9 7.6zM807.6 450.4l2 1.8l5.6 -2l0.2 -5.9l-5.2 -0.6zM820 464.1l2.7 -4.8l-0.3 -1.1l-1.9 -1.7l-6.7 4zM831.9 449.9l3 -6.4l0 -0.7l-6.4 -1.4l-0.5 0.7l3.5 7.5zM831.8 435.1l4.3 0.5l-0.1 -6.9l-7.5 1zM834.9 443.5l3.8 6.1l5 -3.3l-0.6 -3.1l-6.4 -1.8l-1.8 1.4zM806.4 487.3l2.6 2.1l7.6 0.3l4.5 -3.5l-1 -4.7l-3.8 0.4l-9.4 0.9l-1.4 0.2zM812.4 515.7l6.7 -6.9l-0.6 -1.3l-3.6 -2.8l-1.1 -0.7l-2.8 1.3l-1.9 8zM828.9 514.6l-5.2 1l-2.4 4.9l0.6 2.7l0.1 0l9.9 -1.2l4.7 -0.6l0.2 -0.3zM766.8 573.2l11 -2.1l-0.7 -8.3l-0.4 -0.4l-10.6 0.4l0.5 10.2zM810.9 558.9l8.1 -1.7l-0.1 -0.3l-2.3 -8.5l-6.9 0.5l-0.3 0.4zM822.9 537.9l1.2 1.1l4.4 1.5l1.1 -0.9l3.5 -7.6l-2 -1.8l-8.5 5.7zM858.3 568.4l7.6 1l0.3 -0.5l-0.3 -9.2l-1.8 -1l-3.4 2.6zM908.9 717l10.4 -6.7l-0.7 -3.5l-10.4 -5.6l-3.2 4.7zM914.6 675.2l1.3 5.5l1 1.5l13 -1.8l0.4 -1l-0.2 -4.1l-4.3 -7.1l-10.9 6.3zM862.1 510.4l9.6 -1.5l-1.6 -7.5l-6.8 -0.3l-1.5 4.2zM902 496.7l5.2 4.5l7 -0.6l0.1 -0.1l1 -3.4l-4 -5l-8.4 2.9zM926.6 460.2l0.1 1.1l6.2 3.7l0.4 -8.5l-3.4 -1.6l-0.3 0.1zM937.9 421.8l2.7 1.5l7 -1.6l0.2 -0.7l-4.4 -5.6l-1.3 -0.4l-2.5 1.8zM943.7 431.6l5.9 4.9l4.6 -3.4l-6 -5.2l-4.6 3.7zM964.1 429.4l0.2 0.2l8.8 -1.1l0.1 -0.4l-3 -4.6l-5.6 0.8zM991.3 408l3 -0.9l2.5 -3.6l-1.9 0.4l-1.6 -5.8l-9.4 1.4zM990.3 387.4l1.5 5.4l13.4 1.7l-0.6 -2l-7.2 -5l-1.2 -3.1zM986.1 365.6l-5 0.9l0.4 6.6l4.7 -1l3 -3.5l3.6 0l0.4 -0.5zM967.8 341.9l9 0.8l0 -7.4l-0.9 -2l-1.1 -0.9l-1.2 -0.6l-8.2 1.8zM990.2 354.2l1.3 -0.8l0.1 -0.1l-9.5 -8.7l-4.4 -0.2l0.2 12.4l0.9 0.6z"/>
<path fill="#82c2c3" d="M618.8 530.6l1.2 9.3l6 1l0.1 -3.5l0 -7.5zM666.1 408l0.3 7.2l8.8 1l0.3 -8.5l-8.5 -0.7zM779.7 393.3l0.9 5.9l8.4 0.3l0.4 -0.8l-1 -6.4l-0.4 -0.2l-8.2 1.1zM784 435.1l1 6.5l8 -0.4l0.2 -6.8l-1.5 -1.6l-7.7 2.1zM840.6 419.7l-10.1 0.2l-2.5 3.7l5 1l6.2 1.1l2.1 -0.7zM885 359.3l-0.7 1.2l1.7 6.9l4.1 3.6l0.4 0.1l0.9 -5.2l-1.3 -7.8zM790.2 452.7l4.6 0.3l5.3 -2.8l-4.2 -6.7l-2.3 4.6l-4.7 1.1zM795 472.7l7.3 -2.7l0.2 -2.8l-6.9 -2l-1.8 1.3l0 3.8zM804.3 464.3l7.2 0.3l1 -4.5l-0.7 -0.9l-1.9 -1.3l-4.9 2zM812.3 482.3l4 -0.4l1.8 -0.2l2.2 -6.5l-1 -1.3l-7.4 3.5zM818.7 453.4l1.8 3.1l1.9 1.7l4.1 -4.3l-3.2 -5.1l-4.8 3.4zM735.4 501.6l1.7 3.8l3.1 -0.3l3.4 -3.1l-2 -4.8l-4.2 0.4zM778.4 491.5l3.4 3.4l2.2 0.2l3.7 -10.4l-9.1 0.8l-1.8 0.1zM821.1 486.2l3.1 1.5l6.5 -7.4l-5 0.5l-5.6 0.7zM795.8 496.6l-0.7 -4.5l-1.3 -1l-8.3 5.1l0.6 0.9l8.7 0.9zM797.6 513.2l0.1 0l3.9 -1.8l2.3 -7.3l-0.8 -2.1l-8.4 1.2l-0.7 0.8zM855.8 490.9l5.2 3.9l1.6 -1.6l4.7 -1.8l-9.7 -2.4zM699 626.1l8.8 -1.2l-0.3 -7.3l-9.5 0.9zM847.5 527l5.4 4.8l3.3 -3l-4.6 -5.4l-3.7 2.5zM860.6 544.5l1.6 -5.1l-1.7 -2.9l-0.8 -0.3l-6.4 1.6l-0.5 2.5zM872 559.4l-6.1 0.3l0.3 9.2l6.9 -2.3zM923.9 724.9l0.8 3.7l3.4 2.6l9.1 -0.2l0.4 -0.3l-3.7 -10.8l-9.5 3.9zM853.6 511.1l-5.6 -4.1l-7.6 7.5l-3.8 6.9l5.2 -0.6l9.1 -1.2zM912.2 481.1l-6.2 5.1l6.8 2l3.2 -2.8zM917.1 509.2l6.3 -2.6l2.2 -5.2l-11.3 -0.9l-0.1 0.1zM923.4 506.6l6.1 6l6.2 -5.7l-3.6 -5.5l-6 -0.7l-0.5 0.7zM932.8 414.2l6.8 2.6l2.5 -1.8l-1.3 -5.4l-5.1 -1.1l-2.7 2.4zM960.5 444.4l0.3 -5.9l-3.4 -1.9l-5.6 6l0.5 1.6l7.2 1.1zM986.3 378.7l1.6 -0.3l-1.7 -6.3l-6.7 1.5zM983.9 399.5l9.4 -1.4l-1.1 -3.9l-10.1 -2.2l-2 4.1l0.6 1.7zM910.6 331.4l6.1 2.2l7 -9l-0.1 -0.1l-5.5 1l-9.1 1.7l-0.7 0.1zM923.7 324.6l4.1 3.5l10.8 -1l4.9 -6.4l-7.1 1.4l-9.1 1.7l-3.7 0.7z"/>
<path fill="#7bbfc0" d="M618.6 520l-0.1 0.1l-0.4 9.8l0.7 0.7l7.3 -0.7l0.1 -3.9l-1 -6.5zM675.5 407.7l0.3 -0.3l-0.4 -8.7l-8.7 0.8l0.3 7.5zM666.2 511.9l1.3 6.6l10.3 1.6l0.2 -10.2l-0.6 -0.6zM817.9 333l0.6 7.2l0.3 0.3l10.8 0.1l-2.2 -9.2l-0.1 -0.1zM766.7 429.2l7.5 -0.1l0.7 -7.1l-0.3 -0.2l-8.8 0.3zM789.4 398.7l8 -1.3l-0.3 -6.9l-1.9 -1.4l-6.8 3.2zM795.3 382.9l7.8 -1l0.1 -6.2l-0.3 -0.3l-8.6 0.5l-0.2 0.3zM791.7 432.8l1.5 1.6l7.9 -0.8l2.1 -4.2l-3.8 -3.2l-7.6 1.3zM773.9 461.2l4.5 -2.6l0.6 -4.5l-1 -1.2l-4.4 1.9l0.2 6.3zM828.5 441.4l6.4 1.4l1.8 -1.4l0 -5.3l-0.6 -0.5l-4.3 -0.5l-3.3 5.3zM837.8 502.2l4.8 -5.4l-0.2 -2.9l-5.5 -1l0.1 8.8zM741.9 550.9l1 6.6l8.8 0.2l0.1 0l0 -8l-1.6 -1.7zM765.9 562.6l-0.7 -9.3l-7.2 -0.1l-0.1 4.1l-0.2 6.3zM847.9 525.9l3.7 -2.5l2.1 -3.9l0 -0.2l-2 0.2l-8 1.1zM864.1 558.7l1.8 1l6.1 -0.3l1 -0.7l-0.1 -6.3l-0.9 -2.3l-2.7 -1.3l-5.2 8.4l-0.1 1.3zM880.7 538l0.1 -0.1l1 -5l-14.5 -2l-1 0.5l8.2 9.5zM935.5 471.8l-6.2 -5.4l-2.2 0.3l0.9 8.8l8.6 0.3zM863 468.6l-6.6 3l7.1 4.6l0.9 -0.1zM982.1 392l0.1 -0.3l-1.4 -2.8l-1 6.3l0.3 0.9zM1007.5 372.5l-2.9 -1.7l-2.2 1.5l2 13.1l3.3 3l2.6 -4.9z"/>
<path fill="#73bcbd" d="M647.8 408.6l8.9 -0.9l0.2 -0.2l-0.4 -7.5l-0.2 -0.2l-10.1 -0.5l-0.5 0.6zM646.2 399.3l10.1 0.5l-0.1 -9.5l-6.1 0.2l-4 0.2zM633.3 521.4l1.3 -1.5l0 -8.1l-10.6 0.3l0.7 4.4l0.6 4zM635.4 539.5l9.8 0.8l0.9 -1l0.6 -7.8l-2.3 -2.3l-9.4 2.2l0.2 7.8zM789.5 345l-1.3 -1.2l-9.5 0.9l0.8 6.9l3.6 -0.4l6.7 -0.7zM824.6 307.6l9.2 -3.9l-1.5 -5.7l-9.2 -0.3l1.3 9.8zM833.4 366.6l1.4 7.3l8.6 -2.7l-1.9 -5.5l-7.5 0.1zM797.1 477.2l-1.5 -0.5l-3.6 1.8l-1.8 3.4l-0.2 2.6l7.5 -0.7l1.3 -0.2zM807.5 440.2l2.7 3.5l5.2 0.6l1.2 -1.1l0.8 -5.7l-2.9 -1.2l-6.5 1.1l-0.6 2.5zM811.9 477.4l7.4 -3.5l-0.3 -5l-6.8 0.1l-0.8 0.7l-1.3 4.8zM832.6 451.7l5.1 -0.3l1 -1.8l-3.8 -6.1l-3 6.4zM836 428.7l0.1 6.9l0.6 0.5l5.1 -1.6l-0.8 -5.3l-3.7 -1.7zM750.6 529.6l-4.2 -3.1l-8.4 3.6l-0.3 1.1l4.6 -0.4l8.5 -0.6zM785.6 506.4l2 6.2l10 0.6l-3.6 -9.2l-6.9 0.1zM851 486.5l4.4 4.5l0.4 -0.1l1.8 -1.9l2 -6l-0.1 -0.3l-7.1 -0.7zM839.6 535.7l-1.2 -2.3l-5.3 -1.4l-3.5 7.6l9.8 -3.6zM924.7 728.6l-0.8 -3.7l-16.7 -3.3l3 5.5l6.7 5.4l0.9 1.5zM921.6 458.5l5 1.7l3 -5.2l-7.5 -2.2zM943 431.3l0.6 0.3l4.6 -3.7l0.5 -1.5l-1.1 -4.7l-7 1.6zM953.2 388l-1.1 -4.4l-9.6 -1.4l0 0.9l1.9 0.7l6.7 6.1l0.9 0.8zM982.2 391.7l-0.1 0.3l10.1 2.2l-0.2 -0.9l-2.1 -7.5zM941 335.2l6.4 -1.9l1.6 -13.7l-3.5 0.7l-2 0.4l-4.9 6.4zM968.8 368.3l11.8 -2.4l-1.8 -8.5l-0.9 -0.6l-10.3 0.9l-0.3 0.5z"/>
<path fill="#6cb9ba" d="M606.3 497.7l1.1 1.8l10.1 1.5l4.3 -4.1l-0.2 -12.5l-10.1 0.1l-3.3 0zM633.8 502.6l0.2 -0.3l-0.5 -5.2l-1.5 0.1l-10.2 0.1l0.9 5.6zM835.2 304.8l0.2 7.6l0.4 0.5l10.5 -0.8l0.1 -1l-2.8 -7.8zM825.9 367.2l7.5 -0.6l0.6 -0.8l-0.5 -6.8l-0.8 -0.8l-8.6 1.4l1.2 7zM874.6 351.8l1.1 0.9l7 -1.6l0.3 -7.1l-10 0zM822.1 419.4l5 8.6l1.9 -4.2l-2.1 -0.4l-4.4 -4.5zM844.7 505.5l-5.6 -0.5l-1.9 3.7l2.1 7.8l1.1 -2l7.1 -7zM855.8 490.9l-0.4 0.1l-2.7 4l0.1 3l1.5 3l1.9 -1.7l4.8 -4.5zM731.7 542.3l0.2 0.3l7.8 0.2l1.3 -1.6l-1.7 -10.2l-6.9 0.5l-1.4 0.1zM938.9 453.8l3.8 0.9l3.2 -5.8l-3.5 -3.7l-5 3.9zM938 399.1l-3.5 3.6l1.2 5.8l5.1 1.1l0.5 -0.7l2.4 -3.5zM951.9 407.8l4.5 -4.2l0.2 -0.7l-7.8 -5.2l-0.5 1l-0.6 5.9zM961.4 396.8l0.4 0.2l5.6 -2.4l1.5 -0.9l-2.3 -8.7l-4.4 1.4zM967.3 358.2l-6.9 1l0.2 11l6 4l2.2 -5.9z"/>
<path fill="#65b6b7" d="M734.3 462.4l1 1.4l8.7 0.3l0.7 -0.9l-1.4 -8.3l-9.1 1.5zM782.6 421l8 -0.8l0.4 -0.6l-1.2 -6.8l-7.6 1.2zM830.5 419.9l0.3 -7.3l-0.2 -0.2l-8.6 0.1l-2.2 3.9l0.3 0l6.8 7l1.1 0.2zM803.3 474.8l6.8 -0.3l1.3 -4.8l-8.2 -2.9l-0.7 0.4l-0.2 2.8zM815.4 422.6l2.7 0.1l4 -3.3l0.4 -0.5l-2.4 -2.5l-6.3 0.7l0.2 4.4zM777.5 506.5l8.1 -0.1l1.5 -2.3l-1 -7l-0.6 -0.9l-1.5 -1.1l-2.2 -0.2l-1.6 1.8l-3.3 7.1zM829.9 508.5l7.3 0.2l1.9 -3.7l-1.3 -2.8l-0.8 -0.5l-7.9 -1.8l-0.4 6.8zM833.1 532l5.3 1.4l1.3 -5.5l-3.6 -6.4l-4.2 0.5l-1.5 0.2l0.7 8zM905 705.9l3.2 -4.7l0 -6.7l-3.8 -2l-11.3 1.3l-0.6 3.5l3.3 2.2l5.3 -3.4l-2.7 5.6l-2.1 3.2zM961.6 417.5l8.4 -1.4l1.3 -1.5l-7.4 -2.9l0.9 -3.9l-0.6 0.4l-1.2 2.1zM966.6 385l2.3 8.7l3.8 -0.1l-1.1 -9.8l-3.9 0.2zM938.3 310.7l-6.1 -0.9l-4.4 1.3l-1.7 12.9l1.2 -0.2l9.1 -1.7l1.7 -0.4z"/>
<path fill="#5db3b4" d="M634.6 511.8l0.2 -0.3l-1 -8.9l-11.1 0.3l0.6 4l0.7 5.2zM733.9 297.7l1.1 8.2l11 0l0.7 -2.8l0.2 -8zM722.4 468.4l2.3 3.5l9.8 -0.5l0.8 -7.6l-1 -1.4l-9.8 2.3zM793 441.2l-8 0.4l-0.1 0.1l1.3 8.2l7.4 -1.8l2.2 -4.3zM818.5 452.2l4.8 -3.4l0.3 -0.8l0 -1.7l-7 -3.1l-1.2 1.1l-0.2 5.9zM769 513.2l1.6 2.5l6.3 3.7l2.3 -5l-3.2 -5.9l-4.2 1.4zM769.8 498.1l7.1 5.7l3.3 -7.1l-10.4 1.4zM777.8 571.1l1.7 2l9.9 -3.2l0.4 -0.5l-1.7 -7.3l-11 0.7zM934.6 718.4l9.4 3l2.7 -3.4l-3.2 -6.5l-8.6 -2.6l-0.5 0.6zM925.6 429.8l7 -1.3l1.9 -1.4l0.4 -3.9l-1.2 -0.8l-10.5 0.7zM948.3 398.7l0.5 -1l0.4 -1.6l-1.3 -4.4l-3.8 2.7l-5.1 3.6l-0.7 0.8zM956.4 403.6l7.8 4.6l0.6 -0.4l2.1 -8.6l-6.4 -2.8l-1.2 0.9l-2.7 5.6z"/>
<path fill="#56afb1" d="M783.5 427.3l7.9 -0.2l-0.8 -6.9l-8 0.8l-0.5 0.6zM791.4 427.1l0.4 0.4l7.6 -1.3l-0.6 -7l-7.8 0.4l-0.4 0.6zM789.4 454l6.3 10.5l2.7 -5.4l-3.6 -6.1l-4.6 -0.3zM801.6 450.1l1.6 8.7l1.8 1.1l4.9 -2l-0.3 -5.7l-2 -1.8l-5.1 -0.8zM867.3 484.2l-7.7 -1.2l-2 6l9.7 2.4l3.2 -1.3l0.4 -0.1zM776 542l9.3 -0.3l1.4 -9.3l-1.1 -1.3l-11.2 1.2l0.9 9.2zM861.8 505.3l1.5 -4.2l-1.8 -6.8l-5.3 5l-3.2 3z"/>
<path fill="#4facae" d="M773.9 461.2l-0.1 -0.1l-6.5 -0.8l1.3 6.8l8 1.5zM814.5 436.3l-1.1 -6.3l-10.1 -0.5l4.7 7.9zM817.4 437.5l1.2 -0.5l3.9 -4l0.2 -0.7l-7.9 -3.6l-1.4 1.3l1.1 6.3zM822.5 433l6 7.4l3.3 -5.3l-3.3 -5.4l-1.7 -0.9l-2 0.8l-2.1 2.7zM828.5 429.7l7.5 -1l1.3 -1.2l-0.2 -2.2l-4.1 -0.7l-4 -0.8l-1.9 4.2l-0.3 0.8zM847.5 507.5l2.2 -2.1l4.6 -4.4l-1.5 -3l-7.2 1.3l-0.9 6.2z"/>
<path fill="#47a9ab" d="M835.8 312.9l0.5 8.5l3.5 3.2l0.2 -0.9l6 -2.2l0.3 -9.4zM815.4 422.6l-0.6 6.1l7.9 3.6l2.1 -2.7l-6.7 -6.9zM816.6 443.2l7 3.1l2.1 -2.9l-7.1 -6.4l-1.2 0.5zM765.2 553.3l0.7 9.3l0.2 0.2l10.6 -0.4l0.5 -8.9l-0.9 -1l-10.6 0z"/>
<path fill="#40a6a8" d="M627.7 485.2l-6.1 0.1l0.2 12l7 -0.1zM647.4 409.1l0.2 7.2l8.2 1l1.2 -1.3l-0.3 -8.3l-8.9 0.9zM656.3 399.8l0.2 0.2l9.4 -1.4l0 -8.7l-7.1 0.3l-2.6 0.1zM844.7 487.1l6.3 -0.6l1.4 -4.5l-3 -4l-3.8 0.5l-2.6 6.1zM919.3 710.3l3.6 1.5l11.5 -2.3l0.5 -0.6l0.3 -6.4l-12.9 -7.3l-0.3 0.1l-3.4 11.5z"/>
<path fill="#39a3a5" d="M818.6 437l7.1 6.4l2.3 -1.3l0.5 -0.7l0 -1l-6 -7.4z"/>
<path fill="#31a0a2" d="M793.2 434.4l-0.2 6.8l2.8 2.6l2 -4l3.3 -6.2zM807.7 419.2l6.1 -1.4l0 -0.7l-0.7 -5.7l-5.3 0.2l-1.1 6.5z"/>
<path fill="#2a9d9f" d="M784.7 478.7l5.5 3.2l1.8 -3.4l-4.7 -4.6l-4.4 1.6l0 0.4zM803.3 429.5l10.1 0.5l1.4 -1.3l0.6 -6.1l-1.4 -1.1l0.1 3.4l-5.3 2l-5.2 1.9l-0.4 0.7zM823.6 448l7.9 1.6l-3.5 -7.5l-2.3 1.3l-2.1 2.9zM852.7 495l2.7 -4l-4.4 -4.5l-6.3 0.6l-0.1 4.4zM853.7 519.5l5.8 3.3l2.1 -4.6l-7.9 1.1zM933.9 719.9l3.7 10.8l5.2 -0.1l1.2 -9.2l-9.4 -3z"/>
</g>
<path d="M237.6 135.8l-5 -1.1l-8.2 -1.9l-8.2 -1.9l-8.1 -2l-8.2 -2l-8.1 -2.1l-8.2 -2.1l-8.1 -2.2l-8.1 -2.2l-8.2 -2.2l-8.1 -2.3l-8 -2.3l2.5 7.3l-2.6 5.9l-0.6 5.1l1.7 9.8l-4.1 8.1l-4.1 8.1l-8.6 1.5l7.3 -3.2l2.1 -7.4l1.3 -7.5l-0.8 -6.9l-11 -2.4l-7.9 -3.7l-12 -9.3l-2.1 12.2l1 16.3l-0.1 9.3l-0.6 7.9l-2.8 9.3l4.6 1.6l4.6 1.7l4.6 3.2l4.6 3.5l-0.1 6.6l-0.5 5.2l5.4 3.7l7.2 1.3l9.3 -0.1l8.3 3.6l9.2 0.6l5.6 -0.3l5.6 -0.3l5.7 -0.4l5.2 1.1l6 -0.4l7.2 1.8l7.1 1.7l7.2 1.7l7.2 1.6l7.1 1.6l0.6 -5.1l-0.3 -5.8l2.4 -10.8l2.4 -10.7l2.5 -10.7l2.4 -10.7l2.4 -10.6l2.4 -10.7zM101.7 171.9l-1.2 9.5l-3 9.8l-4.4 12.1l-4.2 9.5l-5.6 14.5l-8.8 14.8l-7.6 11.4l-0.1 22.7l8.9 2.7l8.8 2.6l8.9 2.6l8.9 2.6l8.8 2.5l9 2.4l8.9 2.4l8.9 2.4l5.7 1.5l3.2 0.8l9 2.3l9 2.2l8.9 2.2l9 2.1l9 2.1l6.6 1.5l2.6 -11.7l2.7 -11.6l2.6 -11.7l2.6 -11.6l2.2 -7.5l-1.6 -9.6l8.5 -8.6l4.9 -9.5l5.2 -6.7l-5.2 -11.7l-7.1 -1.6l-7.2 -1.6l-7.2 -1.7l-7.1 -1.7l-7.2 -1.8l-6 0.4l-5.2 -1.1l-5.7 0.4l-5.6 0.3l-5.6 0.3l-9.2 -0.6l-8.3 -3.6l-9.3 0.1l-7.2 -1.3l-5.4 -3.7l0.5 -5.2l0.1 -6.6l-4.6 -3.5l-4.6 -3.2l-4.6 -1.7zM66.8 276.2l-1.7 6.3l-4.4 17.6l-9.2 13.7l3.2 12.9l-0.6 18.8l-1.3 9l8.2 20l-1.3 7.8l8.2 7.8l-2.1 7.4l1 11.1l4.8 5.4l-0.4 9.3l-2.1 7.5l9.4 20.1l6.6 15.2l-2.4 14.1l2.5 4.6l15.3 5.3l10.4 10.7l5.5 4l6.9 3l-0.2 5.3l5.9 2.7l6.8 8.2l5.7 13.3l-0.7 7.8l1.8 4.9l10.3 1.3l10.3 1.2l10.3 1.2l10.3 1.1l10.3 1.1l6 -6.2l-2.2 -10.9l6.7 -11.9l9.3 -8.7l-4.2 -11.4l-2.2 -8.4l-8.1 -11.2l-8 -11.3l-7.9 -11.3l-7.8 -11.3l-7.7 -11.4l-7.5 -11.4l-7.5 -11.4l-7.4 -11.5l-7.2 -11.4l-7.2 -11.6l-7 -11.5l3.2 -12.5l3.3 -12.6l3.2 -12.5l3.2 -12.6l3.3 -12.5l3.2 -12.5l-5.7 -1.5l-8.9 -2.4l-8.9 -2.4l-9 -2.4l-8.8 -2.5l-8.9 -2.6l-8.9 -2.6l-8.8 -2.6zM198.3 311.1l-6.6 -1.5l-9 -2.1l-9 -2.1l-8.9 -2.2l-9 -2.2l-9 -2.3l-3.2 -0.8l-3.2 12.5l-3.3 12.5l-3.2 12.6l-3.2 12.5l-3.3 12.6l-3.2 12.5l7 11.5l7.2 11.6l7.2 11.4l7.4 11.5l7.5 11.4l7.5 11.4l7.7 11.4l7.8 11.3l7.9 11.3l8 11.3l8.1 11.2l2.1 -12.7l0.4 -6.8l0.4 -6.8l7.3 -0.7l7.3 0.1l2 -10.8l2.1 -10.8l2.5 -12.8l2.4 -12.7l2.5 -12.7l2.4 -12.8l2.5 -12.7l2.4 -12.7l2.5 -12.8l2.4 -12.7l2.4 -12.7l2.5 -12.7l-7.7 -1.5l-9 -1.8l-9.1 -1.8l-9 -1.9l-9 -2l-9.1 -2zM254.1 139.4l-5.1 -1.1l-8.2 -1.8l-3.2 -0.7l-2.4 10.7l-2.4 10.6l-2.4 10.7l-2.5 10.7l-2.4 10.7l-2.4 10.8l0.3 5.8l-0.6 5.1l5.2 11.7l-5.2 6.7l-4.9 9.5l-8.5 8.6l1.6 9.6l-2.2 7.5l-2.6 11.6l-2.6 11.7l-2.7 11.6l-2.6 11.7l2.4 0.5l9.1 2l9 2l9 1.9l9.1 1.8l9 1.8l7.7 1.5l1.4 0.3l9.1 1.7l9.1 1.7l9 1.6l9.2 1.5l9.1 1.6l9.1 1.5l2 -12.8l2.1 -12.8l2 -12.7l2 -12.7l1.9 -12l-5.1 -8.1l-2.7 4.7l-6.3 -1l-8.7 2.4l-4.9 -1.5l-4.8 -1.5l-6.5 -10.3l-1.7 -5.6l-3 -13.6l-2.5 -5.7l-7.8 2.4l-2.1 -8.3l3.3 -7.2l4.2 -12.2l-4.4 -0.8l-4.3 -10l-4.7 -7.5l-6.1 -5.2l1.6 -7.5l-4.5 -8.2l1.8 -8.5l1.9 -8.4l1.8 -8.5zM456.4 169.6l-7.9 -0.7l-8.4 -0.8l-8.4 -0.8l-8.3 -0.9l-8.4 -0.9l-8.4 -0.9l-8.3 -1l-8.4 -1.1l-8.3 -1l-8.3 -1.2l-8.4 -1.1l-8.3 -1.2l-8.3 -1.3l-8.3 -1.3l-8.3 -1.3l-8.3 -1.4l-8.3 -1.4l-8.3 -1.5l-8.3 -1.5l-8.2 -1.6l-8.3 -1.5l-8.3 -1.7l-8.2 -1.7l-8.2 -1.7l-3.2 -0.7l-1.8 8.5l-1.9 8.4l-1.8 8.5l4.5 8.2l-1.6 7.5l6.1 5.2l4.7 7.5l4.3 10l4.4 0.8l-4.2 12.2l-3.3 7.2l2.1 8.3l7.8 -2.4l2.5 5.7l3 13.6l1.7 5.6l6.5 10.3l4.8 1.5l4.9 1.5l8.7 -2.4l6.3 1l2.7 -4.7l5.1 8.1l0.2 -0.8l2 -12.7l8.9 1.4l9 1.4l9 1.3l9 1.3l8.9 1.2l9 1.2l9 1.1l9 1.1l9 1l9.1 1l9 0.9l9 0.9l9 0.8l9.1 0.8l1.1 -12.8l0.9 -11.2l0.1 -1.6l1.1 -12.7l1.1 -12.8l1.1 -12.7l1.1 -12.7l1 -12.7l1.1 -12.6zM309.6 332.5l-2.1 12.7l-2 12.8l9.5 1.5l9.5 1.4l9.5 1.4l9.5 1.4l9.5 1.3l9.6 1.2l9.5 1.2l9.6 1.1l9.5 1.1l9.6 1.1l9.5 1l9.6 0.9l9.6 0.9l9.5 0.8l1.1 -12.9l1.1 -12.9l1.1 -12.8l1.1 -12.9l1.1 -12.9l1.1 -12.8l1.1 -12.9l1.1 -12.8l-9.1 -0.8l-9 -0.8l-9 -0.9l-9 -0.9l-9.1 -1l-9 -1l-9 -1.1l-9 -1.1l-9 -1.2l-8.9 -1.2l-9 -1.3l-9 -1.3l-9 -1.4l-8.9 -1.4l-2 12.7l-0.2 0.8l-1.9 12l-2 12.7l-2 12.7l-2.1 12.8zM309.6 332.5l-9.1 -1.5l-9.1 -1.6l-9.2 -1.5l-9 -1.6l-9.1 -1.7l-9.1 -1.7l-1.4 -0.3l-2.5 12.7l-2.4 12.7l-2.4 12.7l-2.5 12.8l-2.4 12.7l-2.5 12.7l-2.4 12.8l-2.5 12.7l-2.4 12.7l-2.5 12.8l10 1.8l9.9 1.9l10 1.8l10 1.7l9.9 1.7l10 1.6l10 1.6l10 1.5l10 1.4l10.1 1.4l0.3 0.1l1.8 -12.8l1.8 -12.9l1.8 -12.8l1.7 -12.9l1.8 -12.8l1.8 -12.9l1.7 -12.8l1.8 -12.8l-9.5 -1.4l-9.5 -1.4l-9.5 -1.4l-9.5 -1.5l2 -12.8zM329.3 466.4l9.7 1.3l10 1.3l10.1 1.3l10 1.2l10.1 1.1l10 1.1l10.1 1.1l10.1 1l10.1 0.9l10 0.9l10.1 0.8l10.1 0.8l1.8 0.1l8.3 0.6l10.1 0.7l1.1 0.1l0.8 -13l0.8 -12.9l0.8 -13l0.7 -12.9l0.8 -12.9l0.8 -13l0.8 -12.9l0.9 -12.9l-9.6 -0.7l-9.6 -0.7l-9.6 -0.7l-9.6 -0.8l-9.5 -0.8l-9.6 -0.9l-9.6 -0.9l-9.5 -1l-9.6 -1.1l-9.5 -1.1l-9.6 -1.1l-9.5 -1.2l-9.6 -1.2l-9.5 -1.3l-1.8 12.8l-1.7 12.8l-1.8 12.9l-1.8 12.8l-1.7 12.9l-1.8 12.8l-1.8 12.9zM194.1 555.9l-3.1 5.5l9.2 5.6l9.2 5.6l9.2 5.5l9.3 5.5l9.4 5.5l9.4 5.4l9.4 5.4l9.5 5.3l10.3 1.6l10.3 1.6l10.3 1.5l10.3 1.5l2.5 0.3l1.6 -12.1l1.7 -12l1.7 -12.1l1.6 -12.1l1.7 -12.1l1.7 -12.1l1.6 -12.2l1.7 -12.1l1.7 -12.1l1.7 -12.1l1.7 -12.2l1.6 -12.1l-0.3 -0.1l-10.1 -1.4l-10 -1.4l-10 -1.5l-10 -1.6l-10 -1.6l-9.9 -1.7l-10 -1.7l-10 -1.8l-9.9 -1.9l-10 -1.8l-2.1 10.8l-2 10.8l-7.3 -0.1l-7.3 0.7l-0.4 6.8l-0.4 6.8l-2.1 12.7l2.2 8.4l4.2 11.4l-9.3 8.7l-6.7 11.9l2.2 10.9zM309.3 611.7l7.8 1.1l10.3 1.3l1.5 -11.5l9.1 1.2l9.1 1.1l9 1.1l9.1 1l-1.3 -5.9l9.6 1.1l9.6 1l9.6 1l9.6 0.9l9.6 0.9l9.6 0.8l9.6 0.8l9.6 0.7l1 -12.9l1 -12.8l1 -12.9l1 -12.9l1 -12.9l1 -12.9l1 -13l1 -12.9l1.1 -12.9l0.8 0.1l0.9 -13l-1.8 -0.1l-10.1 -0.8l-10.1 -0.8l-10 -0.9l-10.1 -0.9l-10.1 -1l-10.1 -1.1l-10 -1.1l-10.1 -1.1l-10 -1.2l-10.1 -1.3l-10 -1.3l-9.7 -1.3l-1.6 12.1l-1.7 12.2l-1.7 12.1l-1.7 12.1l-1.7 12.1l-1.6 12.2l-1.7 12.1l-1.7 12.1l-1.6 12.1l-1.7 12.1l-1.7 12zM572.6 175.2l-6.6 -0.1l-8.4 -0.1l-8.4 -0.2l-8.4 -0.3l-8.4 -0.3l-8.4 -0.3l-8.4 -0.4l-8.4 -0.4l-8.4 -0.5l-8.4 -0.5l-8.4 -0.6l-8.4 -0.6l-8.4 -0.6l-8.4 -0.7l-0.4 0l-1.1 12.6l-1 12.7l-1.1 12.7l-1.1 12.7l-1.1 12.8l-1.1 12.7l-0.1 1.6l8.9 0.7l8.9 0.7l8.9 0.6l8.9 0.6l8.9 0.6l9 0.4l8.9 0.5l8.9 0.4l8.9 0.4l8.9 0.3l9 0.2l8.9 0.3l8.9 0.1l8.9 0.1l9 0.1l-0.7 -9.2l-2 -9l-1.9 -9l-2.3 -12.7l-2.2 -12.8l-0.9 -12.8l-1 -12.7zM449.8 247.4l-0.9 11.2l-1.1 12.8l-1.1 12.8l-1.1 12.9l-1.1 12.8l-1.1 12.9l8.6 0.7l8.6 0.7l8.6 0.6l8.7 0.6l8.6 0.5l8.6 0.5l8.6 0.5l8.7 0.4l8.6 0.4l8.6 0.3l8.7 0.3l8.6 0.2l5.6 2.1l5.5 2.1l6.6 1l6.5 1l7 3.7l7 3.6l0.1 -7.7l0 -7.8l-2.7 -10.3l2.7 0l0.1 -11.6l0.1 -11.6l0 -11.6l0.1 -11.5l-7.2 -7.8l5.3 -8.7l-9 -0.1l-8.9 -0.1l-8.9 -0.1l-8.9 -0.3l-9 -0.2l-8.9 -0.3l-8.9 -0.4l-8.9 -0.4l-8.9 -0.5l-9 -0.4l-8.9 -0.6l-8.9 -0.6l-8.9 -0.6l-8.9 -0.7zM443.4 322.8l-1.1 12.9l-1.1 12.8l-1.1 12.9l-1.1 12.9l9.6 0.8l9.6 0.7l9.6 0.7l9.6 0.7l-0.9 12.9l-0.8 12.9l9.4 0.6l9.4 0.5l9.3 0.5l9.4 0.4l9.4 0.4l9.4 0.4l9.4 0.2l9.3 0.3l9.4 0.2l9.4 0.1l9.4 0.1l9.4 0.1l9.4 0l9.3 -0.1l-4.7 -6.4l-4.3 -8.6l-1.9 -10.8l-4.4 -13l-2.8 -12.9l-3.8 -13l-7 -3.6l-7 -3.7l-6.5 -1l-6.6 -1l-5.5 -2.1l-5.6 -2.1l-8.6 -0.2l-8.7 -0.3l-8.6 -0.3l-8.6 -0.4l-8.7 -0.4l-8.6 -0.5l-8.6 -0.5l-8.6 -0.5l-8.7 -0.6l-8.6 -0.6l-8.6 -0.7zM471 480.7l9 0.5l10.1 0.6l10.1 0.5l10.1 0.5l10.1 0.4l10.2 0.3l10.1 0.3l10.1 0.3l10.1 0.2l10.1 0.1l10.1 0.1l10.2 0.1l10.1 0l10.1 -0.1l10.1 -0.1l-0.1 -10.9l-0.1 -10.9l-0.1 -10.9l-0.1 -10.9l-0.2 -10.9l-5.8 -7.7l-0.1 -9.1l-3.9 -2.5l-4.2 -3.9l-9.3 0.1l-9.4 0l-9.4 -0.1l-9.4 -0.1l-9.4 -0.1l-9.4 -0.2l-9.3 -0.3l-9.4 -0.2l-9.4 -0.4l-9.4 -0.4l-9.4 -0.4l-9.3 -0.5l-9.4 -0.5l-9.4 -0.6l-0.8 13l-0.8 12.9l-0.7 12.9l-0.8 13l-0.8 12.9zM471 480.7l-1.1 -0.1l-10.1 -0.7l-8.3 -0.6l-0.9 13l10.2 0.7l10.2 0.7l10.2 0.6l10.2 0.5l10.2 0.6l10.2 0.4l-0.5 12.6l-0.5 12.5l-0.6 12.6l-0.5 12.5l6.1 4.4l10.4 5.6l6.2 1.5l6.3 1.5l10.6 -1.1l8.3 6.7l10.6 0.1l4.2 4l8.5 -2.6l6.3 3.9l10.6 -5.1l10.6 -0.1l8.6 7.7l8.7 1l0.1 -2.1l0.1 -11.4l0.1 -11.3l0.1 -11.3l0.1 -11.4l-1.5 -9.5l-1.4 -9.6l-1.5 -9.6l-0.2 -12.9l-10.1 0.1l-10.1 0.1l-10.1 0l-10.2 -0.1l-10.1 -0.1l-10.1 -0.1l-10.1 -0.2l-10.1 -0.3l-10.1 -0.3l-10.2 -0.3l-10.1 -0.4l-10.1 -0.5l-10.1 -0.5l-10.1 -0.6zM365.2 607l10.4 11l7.7 11.1l12.1 11.6l5.2 16l5.6 12.1l12.7 8.8l14.1 7.5l5.9 -4.7l10 -14.7l11.1 2l12.3 -0.5l10.5 12.1l9.3 17.2l6.2 13.1l15.2 18.5l0.7 12.8l7.5 15.6l9.2 4.1l11.5 5.4l16.2 5.4l8.2 -2.7l-0.4 -3.6l-2.9 -12.7l-1.7 -10.3l2 -10.2l-2.1 -10.2l8 -1.2l4.6 -6.3l10.2 -7.7l10.2 -5.1l18 -11.6l6.7 -6.5l-3.5 -11.5l2.3 6.4l3.8 3.8l7.3 -5.2l12.2 -4.1l2.7 -10.4l-0.3 -12.8l3.5 -10.4l-4.7 -12.8l-6.6 -12.5l-0.2 -10.6l-0.3 -10.7l-0.1 -4.8l-0.1 -5.9l-0.2 -10.6l-7.6 2.5l-1.9 -0.2l-8.7 -1l-8.6 -7.7l-10.6 0.1l-10.6 5.1l-6.3 -3.9l-8.5 2.6l-4.2 -4l-10.6 -0.1l-8.3 -6.7l-10.6 1.1l-6.3 -1.5l-6.2 -1.5l-10.4 -5.6l-6.1 -4.4l0.5 -12.5l0.6 -12.6l0.5 -12.5l0.5 -12.6l-10.2 -0.4l-10.2 -0.6l-10.2 -0.5l-10.2 -0.6l-10.2 -0.7l-10.2 -0.7l-0.8 -0.1l-1.1 12.9l-1 12.9l-1 13l-1 12.9l-1 12.9l-1 12.9l-1 12.9l-1 12.8l-1 12.9l-9.6 -0.7l-9.6 -0.8l-9.6 -0.8l-9.6 -0.9l-9.6 -0.9l-9.6 -1l-9.6 -1l-9.6 -1.1zM663.8 232l-1.4 -1.5l6.8 -5.9l7.6 -8l5.7 -6.7l9.3 -5.7l11.8 -6.1l2.5 -1.2l-6.9 0.5l-7 -2.1l-7.8 0.4l-2.8 -2.4l-6.7 3.7l-6.9 -0.4l-5.4 -3.6l-4.8 0.7l-0.5 -3.3l-3.5 -2.2l-2.7 -2.2l-5.2 -2.1l-2.6 0.1l-5.1 0.9l-2.5 1.9l-4 0.1l-1.2 -2.8l-6.9 -0.1l-5.7 -1.7l-1.9 -4l-2.4 -10.7l-2.2 -1.5l-3.4 -0.4l0.1 9.6l-8.4 0.1l-8.4 0l-8.4 -0.1l-8.5 0l-1.8 -0.1l1 12.7l0.9 12.8l2.2 12.8l2.3 12.7l1.9 9l2 9l0.7 9.2l-5.3 8.7l7.2 7.8l-0.1 11.5l0 11.6l-0.1 11.6l-0.1 11.6l6.3 0l9.1 0l9.1 0l9 -0.1l9.1 -0.2l9.1 -0.2l9 -0.2l9.1 -0.3l9.1 -0.4l9 -0.4l9.1 -0.4l-4.3 -6.9l-4.3 -6.9l-6.3 -6.2l-6.2 -6.1l-9.3 -4.9l0.2 -7l0.3 -7.1l-2.6 -7.6l5 -6.4l5.1 -6.3l-0.3 -7.3l-0.3 -7.3l3.3 -1.4zM598 391.7l8.7 -0.1l8.7 -0.1l8.7 -0.2l8.7 -0.2l8.6 -0.3l8.7 -0.3l8.7 -0.3l8.6 -0.4l8.7 -0.4l6.3 5.4l4.8 -7.3l2.3 -11.7l-1.4 -9l8.6 -0.5l7.1 -9.5l0.4 -7.8l-9.8 -9.8l-5.2 -6.2l-5.1 -6.2l-1.9 -12.8l-9.1 0.4l-9 0.4l-9.1 0.4l-9.1 0.3l-9 0.2l-9.1 0.2l-9.1 0.2l-9 0.1l-9.1 0l-9.1 0l-6.3 0l-2.7 0l2.7 10.3l0 7.8l-0.1 7.7l3.8 13l2.8 12.9l4.4 13zM607 406.7l4.2 3.9l3.9 2.5l0.1 9.1l5.8 7.7l0.2 10.9l0.1 10.9l0.1 10.9l0.1 10.9l0.1 10.9l0.2 12.9l10.2 -0.1l10.1 -0.3l10.2 -0.3l10.1 -0.3l10.2 -0.4l10.1 -0.4l10.2 -0.5l10.1 -0.5l10.2 -0.6l-3.8 13.2l6.9 -0.5l6.9 -0.4l3.2 -13.2l5.9 -3l0.3 -10.4l-7.6 -7.3l-5.1 -7.5l-5 -7.4l-8.5 -7.3l2.4 -10.5l0.6 -6.6l-9 -0.7l-9.5 -12.5l-8.5 -12.6l0 -12.4l-6.3 -5.4l-8.7 0.4l-8.6 0.4l-8.7 0.3l-8.7 0.3l-8.6 0.3l-8.7 0.2l-8.7 0.2l-8.7 0.1l-8.7 0.1l4.3 8.6zM625.7 573.5l1.9 0.2l7.6 -2.5l0.2 10.6l0.1 5.9l10.3 -0.2l10.2 -0.3l10.2 -0.3l10.3 -0.4l10.2 -0.5l10.2 -0.5l0.3 -9l0.3 -9.1l3.3 -8l3.2 -7.9l4.3 -9.3l4.1 -9.4l4.6 -4.1l2.7 -11.9l3.5 -10.6l-6.9 0.4l-6.9 0.5l3.8 -13.2l-10.2 0.6l-10.1 0.5l-10.2 0.5l-10.1 0.4l-10.2 0.4l-10.1 0.3l-10.2 0.3l-10.1 0.3l-10.2 0.1l1.5 9.6l1.4 9.6l1.5 9.5l-0.1 11.4l-0.1 11.3l-0.1 11.3l-0.1 11.4zM641.5 672.7l7.8 -2l6.7 0.3l13.5 3.4l9 1l7.7 -1.6l6.9 3.5l5.5 -1.5l3.7 6.2l3.6 4.9l6.7 -0.3l10.1 -1.4l5.3 -4.7l3.3 -1.5l6.7 -0.4l4 8.7l5.5 -1.7l2 -4l-4.8 -3.5l-6.1 -7.3l4 -6.7l-6.8 -0.8l-5.7 -3.5l4.2 -2.9l2.6 -0.9l-7.4 -11.6l1.6 -9.2l-10.2 0.7l-10.3 0.6l-10.2 0.5l-10.3 0.5l2.7 -13l4.9 -10.6l4.9 -10.6l-2.9 -8.9l-2.8 -8.9l-10.2 0.5l-10.2 0.5l-10.3 0.4l-10.2 0.3l-10.2 0.3l-10.3 0.2l0.1 4.8l0.3 10.7l0.2 10.6l6.6 12.5l4.7 12.8l-3.5 10.4l0.3 12.8zM691.3 233.7l-7.5 0.4l2.3 -6.5l-1.9 -2.7l-4.3 2.5l-8.6 4.3l-7 0.8l-0.5 -0.5l-1.3 0.6l-3.3 1.4l0.3 7.3l0.3 7.3l-5.1 6.3l-5 6.4l2.6 7.6l-0.3 7.1l-0.2 7l9.3 4.9l6.2 6.1l6.3 6.2l4.3 6.9l4.3 6.9l1.9 12.8l5.1 6.2l5.2 6.2l8.9 -0.5l8.9 -0.6l8.8 -0.6l8.9 -0.6l8.9 -0.7l8.9 -0.8l-0.1 -5.2l-3 -8.8l-0.2 -9l2.3 -9.3l0.2 -9.1l1.9 -9.2l0.5 -5.2l4.6 -9.5l2.8 -8l-1.6 1.5l-8.1 11l-4.9 6.9l-2.6 1.5l2.8 -9.3l3.2 -5.4l-5 -6l0.1 -9l-5.6 -2.1l-2.1 -3.7l-9 -0.6l-7.3 -2l-7.3 -2.1l-7.3 -2.1l-4.8 -3.1l-4.8 -3.2zM754.5 354.4l-1.6 -2.6l-1.8 -5l-3.5 -6.2l0.1 -5.2l-8.9 0.8l-8.9 0.7l-8.9 0.6l-8.8 0.6l-8.9 0.6l-8.9 0.5l9.8 9.8l-0.4 7.8l-7.1 9.5l-8.6 0.5l1.4 9l-2.3 11.7l-4.8 7.3l0 12.4l8.5 12.6l9.5 12.5l9 0.7l-0.6 6.6l-2.4 10.5l8.5 7.3l5 7.4l5.1 7.5l7.6 7.3l2.7 -5.4l5.6 0.8l5.7 0.9l6.3 -9.6l0.3 -9.2l1.1 -10.5l4.3 -8.1l2 -10.6l-0.6 -11.7l-1.1 -12.4l-1.1 -12.5l-1.1 -12.4l-1.1 -12.4zM831.3 346.3l1.7 -4.7l3.2 -4.3l2.7 -8.2l1.1 -5.4l6 -2.2l0.4 -10.4l-3.5 -10l-3.8 -11.2l-6.3 -4.8l-0.7 1.9l-8.1 8.9l-7.1 2.2l-0.1 -7.8l4.2 -3.1l1.1 -5.9l2.3 -10.1l-3.7 -9.9l-2.2 -7.5l-6 -1l-12 -4.5l-5.7 -2.7l-5.7 5.4l3.3 5.5l-5.2 1.9l-2.7 8.6l-2.6 6.2l-0.8 -4.5l1.1 -6.6l-8.6 8.7l-2.7 5.4l-0.3 11.7l-1.8 7.9l-0.3 7.8l4.4 10l2.4 4.9l1.4 7.1l-0.3 9.7l-3.1 8.1l-1.4 4l-4 5.4l7.6 -0.8l7.6 -0.8l7.6 -0.8l7.6 -0.8l7.6 -0.9l0.2 1.5l8.4 -1.2l8.4 -1.4zM745.5 268.3l3.8 -8.1l4.6 -9.4l2.4 -2.8l5.7 3.3l4.7 -6.9l7.1 -0.8l8.6 -4.3l7.1 0l5.5 4l7.2 -3.7l7.1 -0.2l6.3 -0.8l-1.4 -3.7l-6.2 1.3l-4.2 -5.1l-4.2 -4.6l-4.2 1.8l-7.7 -0.4l-0.3 -6.9l-8.5 3.2l-10.5 1.4l-5.9 3.7l-3.3 2.9l-6.2 -0.1l-7.2 -1.2l-5.1 -7.2l-4.5 -0.9l-6.1 1.8l-3.7 2.1l1.2 -4.5l2.7 -6.6l7.9 -5.8l-1.5 -1.7l-5.1 1.7l-7.5 5l-6.6 6.9l-5.8 4.3l-4.4 0.3l-6 2.9l-9 4.4l-1 0.1l1.1 0.7l4.8 3.2l4.8 3.1l7.3 2.1l7.3 2.1l7.3 2l9 0.6l2.1 3.7l5.6 2.1l-0.1 9zM767.9 352.8l-2.3 1.8l-5.5 2.6l-5 -1.7l-0.6 -1.1l1.1 12.1l1.1 12.4l1.1 12.4l1.1 12.5l1.1 12.4l0.6 11.7l-2 10.6l-4.3 8.1l-1.1 10.5l8.6 -4.6l10.4 3l5.8 -2.6l5.8 -2.5l9.8 -2.3l4.2 -8.3l5.8 -11l5.2 -1.9l5.3 -2l-0.3 -7.8l-1.3 -11.1l-1.3 -11.2l-1.3 -11.1l-1.3 -11.2l-1.2 -11.1l-1.3 -11.2l-0.2 -1.5l-7.6 0.9l-7.6 0.8l-7.6 0.8l-7.6 0.8zM885.7 331.7l-4.9 2.9l-8.2 5.2l-7.1 7.6l-5.7 0.9l-7.1 3.6l-5 -0.6l-2.2 -2.3l-3.6 1.9l-5.3 -3.2l-5.3 -1.4l-8.4 1.3l-8.4 1.4l-8.4 1.2l1.3 11.2l1.2 11.1l1.3 11.2l1.3 11.1l1.3 11.2l1.3 11.1l6.3 -0.7l6.8 7l6.1 1.2l6.2 1.1l5.7 -2l5.8 -2.1l9.1 7.9l8 -14.3l6.4 -3.6l5.3 -11.3l4.7 -4.6l4.7 -4.7l0.7 -9.3l0.7 -9.3l1.1 -6.5l-1.9 -11.2l-1.9 -11.5zM732.6 479.6l-0.3 10.4l-5.9 3l9.9 -0.7l9.8 -0.8l9.9 -0.8l-0.8 -4.6l4.6 0.9l9.4 -0.7l9.4 -0.8l9.4 -0.8l9.5 -0.9l9.4 -1l9.4 -0.9l9.4 -1.1l9.4 -1l9.4 -1.1l8.7 -6.4l8.7 -6.5l8.1 -7.7l5.5 -8.4l-9.5 -5.4l-3.1 -7.4l-3.1 -7.4l-9.1 -7.9l-5.8 2.1l-5.7 2l-6.2 -1.1l-6.1 -1.2l-6.8 -7l-6.3 0.7l0.3 7.8l-5.3 2l-5.2 1.9l-5.8 11l-4.2 8.3l-9.8 2.3l-5.8 2.5l-5.8 2.6l-10.4 -3l-8.6 4.6l-0.3 9.2l-6.3 9.6l-5.7 -0.9l-5.6 -0.8zM726.4 493l-3.2 13.2l-3.5 10.6l-2.7 11.9l-4.6 4.1l10 -0.6l10 -0.7l9.9 -0.7l10 -0.8l3.8 -0.3l6.2 -0.5l9.9 -0.9l10 -0.9l9.9 -1l10 -1l7.8 -0.8l2.1 -0.3l10 -1.1l9.9 -1.2l4.7 -0.6l3.8 -6.9l9.3 -9.1l6.5 -6.1l6.4 -6.1l7.9 -3.1l7.8 -3.1l6.7 -13.8l-10.1 1.4l-10.1 1.4l-10.2 1.4l-10.1 1.3l-9.4 1.1l-9.4 1l-9.4 1.1l-9.4 0.9l-9.4 1l-9.5 0.9l-9.4 0.8l-9.4 0.8l-9.4 0.7l-4.6 -0.9l0.8 4.6l-9.9 0.8l-9.8 0.8zM736.9 656l3.8 -3.4l7.5 -3.1l6.7 0.8l6.6 -1.3l-1.2 -10.3l-1.2 -10.4l-1.3 -10.4l-1.2 -10.4l0.4 -12.5l0.3 -12.6l0.3 -12.5l0.3 -12.6l0.3 -12.6l0.2 -12.6l-2.3 -2.4l-3.8 0.3l-10 0.8l-9.9 0.7l-10 0.7l-10 0.6l-4.1 9.4l-4.3 9.3l-3.2 7.9l-3.3 8l-0.3 9.1l-0.3 9l2.8 8.9l2.9 8.9l-4.9 10.6l-4.9 10.6l-2.7 13l10.3 -0.5l10.2 -0.5l10.3 -0.6l10.2 -0.7l-1.6 9.2zM761.5 649l5.6 0.3l1 -1.3l1.6 -7.4l2.4 3.1l-1.5 8.4l5.5 -1l5.4 -1.2l1.5 -8.4l-5.3 -9.9l9.5 -0.8l9.4 -0.9l9.5 -1l9.5 -1l9.4 -1l9.5 -1.1l-1.5 -7.6l-1.4 -7.6l-0.4 -10.4l-0.5 -10.3l-5.6 -11.6l-3.1 -10.7l-3.1 -10.7l-3 -10.8l-3 -10.8l-3 -10.7l-7.8 0.8l-10 1l-9.9 1l-10 0.9l-9.9 0.9l-6.2 0.5l2.3 2.4l-0.2 12.6l-0.3 12.6l-0.3 12.6l-0.3 12.5l-0.3 12.6l-0.4 12.5l1.2 10.4l1.3 10.4l1.2 10.4zM912.8 622.8l-0.6 -11.4l3.2 -14.9l5.1 -9.4l-9.4 -10.8l-8.4 -11.8l-12.4 -11.2l-7.3 -5.4l-7.2 -5.5l-10.1 -11.7l-8 -4.1l3.9 -8.4l-9.9 1.3l-9.9 1.3l-5.2 0.6l-4.7 0.6l-9.9 1.2l-10 1.1l-2.1 0.3l3 10.7l3 10.8l3 10.8l3.1 10.7l3.1 10.7l5.6 11.6l0.5 10.3l0.4 10.4l1.4 7.6l1.5 7.6l3.9 7.1l9.7 -0.6l9.8 -0.6l9.7 -0.7l9.7 -0.7l9.7 -0.7l9.8 -0.8l4.3 4.8l-0.4 -10.1l6 -0.3zM781.5 649.9l4.3 -1.7l10.9 -2.3l11.1 -0.3l13.9 5l8.9 9.8l9.9 -1.6l10.5 -6.5l6 -5.4l9.3 2.2l7.6 6.8l9.5 11.7l9.8 5.1l1.1 12.8l-1.8 11.8l3.3 2.2l5.3 -3.4l-2.7 5.6l-2.8 4.3l4.3 5.8l7.1 9.3l3.2 6l6.7 5.4l7.6 11.8l8.6 2.5l9.5 15.2l4.8 0.1l11.5 -2.7l1.7 -4.1l1.6 -11.9l-0.4 -9l-0.9 -15.3l-2.9 -7.3l-6.6 -11.8l-7.8 -11.7l-1.4 -11.4l-2.2 -3.6l-11.3 -13.7l-9.4 -16.8l-4.2 -12.3l-2.3 -7.7l-6.1 0.4l-6 0.3l0.4 10.1l-4.3 -4.8l-9.8 0.8l-9.7 0.7l-9.7 0.7l-9.7 0.7l-9.8 0.6l-9.7 0.6l-3.9 -7.1l-9.5 1.1l-9.4 1l-9.5 1l-9.5 1l-9.4 0.9l-9.5 0.8l5.3 9.9zM920.5 587.1l0.7 -2l3.5 -5.7l4.5 -6l8.4 -8l9.5 -8.2l3.3 -5.8l4.2 -12.6l6.6 -6.5l-9.4 -6.6l-9.3 -6.6l-9.3 -6.7l-7.7 1.3l-7.7 1.3l-7.7 1.2l-3.3 -7.3l-2.4 3l-0.6 -3.8l-9.4 1l-9.4 1l-9.4 0.9l-7 3.6l-7 3.6l-3.9 8.4l8 4.1l10.1 11.7l7.2 5.5l7.3 5.4l12.4 11.2l8.4 11.8zM961.2 532.3l6.8 -2.6l5.3 0.3l1.6 -9.5l2.3 -4.4l9.8 -9.9l8 -2.9l5.9 -2.6l0.8 -6.2l-7 -3.1l-8.2 -3.6l6.3 -5.2l12.7 -0.1l2.7 -7.2l-4.4 -5.6l-15.3 1.9l0.9 -5.5l10.9 1.7l7.8 -3l-2.5 -3.5l-3.7 -8.5l-9.7 2l-9.7 1.9l-9.7 1.9l-9.7 1.8l-9.8 1.8l-9.7 1.7l-9.8 1.7l-9.7 1.6l-9.8 1.6l-9.8 1.5l-9.7 1.5l-9.8 1.4l-6.7 13.8l-7.8 3.1l-7.9 3.1l-6.4 6.1l-6.5 6.1l-9.3 9.1l-3.8 6.9l5.2 -0.6l9.9 -1.3l9.9 -1.3l7 -3.6l7 -3.6l9.4 -0.9l9.4 -1l9.4 -1l0.6 3.8l2.4 -3l3.3 7.3l7.7 -1.2l7.7 -1.3l7.7 -1.3l9.3 6.7l9.3 6.6zM1001.9 452.8l-4.6 -8.8l-6.1 0.5l-9.3 -4.7l9 3.4l-11.3 -9.5l8 3.6l-0.6 -7.8l-12 -8.1l12.7 6.6l-0.6 -7.8l-14.3 -5l-8.9 -3.5l3 -12.5l-10.4 -4.5l-5.4 -4.8l-2 0.9l-5 3.6l-5.1 3.6l-7.9 8.1l-6.6 11.7l-5.4 6.9l-5.4 6.8l-3 12.4l-1.3 4.2l-5.2 2.8l-5.2 2.8l-7.2 -0.2l-9.2 4.1l-7.1 -7.9l-5.5 8.4l-8.1 7.7l-8.7 6.5l-8.7 6.4l10.1 -1.3l10.2 -1.4l10.1 -1.4l10.1 -1.4l9.8 -1.4l9.7 -1.5l9.8 -1.5l9.8 -1.6l9.7 -1.6l9.8 -1.7l9.7 -1.7l9.8 -1.8l9.7 -1.8l9.7 -1.9l9.7 -1.9zM891.4 365.9l-1.1 6.5l-0.7 9.3l-0.7 9.3l-4.7 4.7l-4.7 4.6l-5.3 11.3l-6.4 3.6l-8 14.3l3.1 7.4l3.1 7.4l9.5 5.4l7.1 7.9l9.2 -4.1l7.2 0.2l5.2 -2.8l5.2 -2.8l1.3 -4.2l3 -12.4l5.4 -6.8l5.4 -6.9l6.6 -11.7l7.9 -8.1l5.1 -3.6l5 -3.6l2 -0.9l-6.7 -6.1l-4.4 -1.8l-4.1 4.7l-6.6 -1.4l-4.5 6.1l-7.4 7.9l-1 -6.6l-1.1 -6.7l-1.8 0.3l-9.1 1.6l-9.2 1.5l-1.9 -11.5l-1.9 -11.6zM1005.5 413.2l1.9 -8l0.1 -4l-6.3 1.4l-6.3 1.3l-2.9 -10.6l-2.9 -10.6l-2.9 -10.6l-9.1 2l-9.1 1.9l-9 1.8l-9.1 1.8l-9.1 1.7l-9.1 1.7l-9.1 1.7l-7.3 1.3l1.1 6.7l1 6.6l7.4 -7.9l4.5 -6.1l6.6 1.4l4.1 -4.7l4.4 1.8l6.7 6.1l5.4 4.8l10.4 4.5l3.4 13.9l14.6 3.6l-2.9 -6l-2 -4.9l-2.4 -11.4l-2.5 -7.4l6.4 -9.4l2.8 0.8l-3.2 8.6l-1.3 8.2l2.6 7.4l3.5 7.2l6.4 1.3l2.3 6l5.4 -1.9zM993.2 377.8l-1.8 -3.6l1.4 -5.6l-3.6 0l-3 3.5l2.9 10.6l2.9 10.6l2.9 10.6l6.3 -1.3l6.3 -1.4l-2.9 -8.7l-7.2 -5l-2.4 -6.1zM994.6 417.1l0.1 0.2l-0.5 12l3 9.4l3.9 -10.9l3.6 -11.4l0.8 -3.2l-5.5 2zM898.7 321.9l-5.8 4.1l-7.2 5.7l1.9 11.5l1.9 11.5l1.9 11.2l0 0.4l1.9 11.6l1.9 11.5l9.2 -1.5l9.1 -1.6l1.8 -0.3l7.3 -1.3l9.1 -1.7l9.1 -1.7l9.1 -1.7l9.1 -1.8l9 -1.8l9.1 -1.9l9.1 -2l3 -3.5l3.6 0l5.4 -5.9l5.4 -5.8l-11.1 -9.5l-0.4 -10.5l5.6 -10.8l-8 -4.6l-7.9 -8.9l-9 2l-9.1 2l-9.1 1.8l-9.1 1.9l-9.1 1.8l-9.1 1.7l-9.2 1.7l-9.1 1.7l-9.1 1.6zM993.2 377.8l8.1 4.8l6.4 5.8l6.8 -12.8l1.4 -4.3l1.8 -13.7l-1.8 -12.1l-4.9 0.4l2.8 -4.7l0.1 -1.4l0.7 -8.1l-8.4 -2.8l-8.5 -2.8l-5.6 10.8l0.4 10.5l11.1 9.5l-5.4 5.8l-5.4 5.9l-1.4 5.6zM1000.4 228.6l-8 2l-8 2l-8.1 2l-3.8 2.1l-8.3 8.5l-6.2 10.5l-6.7 8.1l3.5 3.2l2.5 7.3l-4.4 6.2l-8.2 6.5l-10.9 2.1l-7.8 -1.1l-9 2.3l-10 4.1l2.2 5.2l2.6 3.9l-0.3 3.5l-6.2 7.7l-6.6 7.2l1.2 6.9l9.1 -1.6l9.1 -1.7l9.2 -1.7l9.1 -1.7l9.1 -1.8l9.1 -1.9l9.1 -1.8l9.1 -2l9 -2l7.9 8.9l8 4.6l8.5 2.8l8.4 2.8l-0.7 8.1l-0.1 1.4l0.1 0l1.4 1.8l7.4 -2.1l7.1 -3.5l11.9 -8.3l10.5 -8.6l-10.5 4.6l1.8 -4.5l-4.4 5.9l-7.4 2.4l-9 3.5l-5 3.9l-0.3 -1.3l1.9 -4.4l-2.1 -2.2l2.1 -5.8l-1.7 -9.6l-1.7 -9.5l-0.1 -9.2l-0.1 -9.2l-2.4 -10.8l-2.5 -10.8l-2.7 0.6l-2.4 -10l-1.8 -8.5l-1.7 -8.5zM1019.3 330.6l4 -3.7l8.4 -6l9 -3.6l10 -2.6l-1.8 -9.1l-1.8 -9.2l0 -0.2l-7.8 1.8l-7.8 1.9l-7.8 1.8l-7.8 1.8l1.7 9.5l1.7 9.6l-2.1 5.8zM1050.7 314.7l6.2 -3.5l1.3 -2.4l0.2 -6.8l4.7 4.1l-2.8 -4.6l-4.7 -4.1l-0.8 -3l-7.7 1.8l0 0.2l1.8 9.2zM1078.4 287.9l3.2 5.1l-3.3 2.3l-5.7 1l-3 -4l-4.5 -5.5l-5.5 -2.5l1.7 -4.5l3.5 -5l-5.5 -4.4l-4.9 1.9l-2.6 4.7l-7.1 1.6l-7.1 1.6l-7.1 1.5l-7.4 1.8l-7.4 1.6l0.1 9.2l0.1 9.2l7.8 -1.8l7.8 -1.8l7.8 -1.9l7.8 -1.8l7.7 -1.8l0.8 3l4.7 4.1l2.8 4.6l3.3 -3.6l3.6 -5l1.4 5l5.7 -4.2l6.3 -2.3l-3.8 -7.8zM1033 220.4l-8.2 2.1l-8.1 2.1l-8.1 2l-8.2 2l1.8 8.5l1.7 8.5l1.8 8.5l2.4 10l2.7 -0.6l2.5 10.8l2.4 10.8l7.4 -1.6l7.4 -1.8l-1.2 -7.2l-1.3 -7.3l0.4 -13.4l0.4 -13.4l6 -9.6zM1038.4 211.2l-4.9 2.7l-0.5 6.5l1.8 10.4l-6 9.6l-0.4 13.4l-0.4 13.4l1.3 7.3l1.2 7.2l7.1 -1.5l7.1 -1.6l7.1 -1.6l2.6 -4.7l4.9 -1.9l0.8 -5.5l-8.1 -10.7l-3.4 -10.7l-3.4 -10.8l-3.4 -10.7zM1060.1 264.9l2.6 -8.2l1.5 -8.5l3.4 -4.9l3.9 0.2l4.3 -5.2l6.5 -7.3l1.9 -9.9l5.1 1.1l5.1 1.2l0.7 -4.2l6.1 -1.9l4.1 -5.3l5.3 -4.3l3.2 -5.1l-1.3 -2.3l-6.6 -4.6l-4.6 -2.7l-2.2 -7.3l-6.8 -0.6l-1.5 -6l-2.8 -9.2l-2.9 -9.2l-2.9 -9.2l-4.9 -3.4l-6.3 -1l-4.1 3.6l-4.2 3.7l-7.4 -5.3l-3.8 11.2l-4 11.2l1.2 7.6l-2.9 6.2l2.6 5.9l-0.9 6.9l-3.8 6.4l-1.1 2.9l0.1 4l-4.3 -0.2l3.4 10.8l3.4 10.7l3.4 10.8l3.4 10.7z" fill="none" stroke="#949494" stroke-width="1.6" stroke-linejoin="round"/>
<path d="M141.5 112.5 L143.5 118.0 L141.0 123.0 L143.8 130.0 L143.6 137.0 L140.0 142.0 L137.0 149.0 L134.5 154.5 L129.5 157.0 L128.0 153.0 L130.5 148.5" fill="none" stroke="#999" stroke-linejoin="round" stroke-linecap="round" stroke-width="2.6"/>
<path d="M136.5 134.5 L131.0 141.0 L125.0 149.0 L127.0 149.5" fill="none" stroke="#999" stroke-linejoin="round" stroke-linecap="round" stroke-width="2"/>
<path d="M133.0 117.0 L137.0 115.5 L140.0 117.5 L142.5 121.0 L141.5 125.5 L138.5 126.5 L136.5 123.5 L133.5 122.0Z" fill="#9b9b9b" stroke="#999" stroke-linejoin="round" stroke-linecap="round" stroke-width="1.6"/>
<path d="M133.2 128.2 L136.2 130.2 L134.8 132.0Z" fill="#9b9b9b" stroke="#999" stroke-linejoin="round" stroke-linecap="round" stroke-width="1.2"/>
<path d="M136.6 109.2 L137.6 110.6" fill="none" stroke="#999" stroke-linejoin="round" stroke-linecap="round" stroke-width="1.3"/>
<path d="M711.5 199.5 L715.0 196.0 L719.5 192.5 L723.0 190.8 L722.5 192.5 L718.5 196.5 L714.0 199.8Z" fill="#e9eded" stroke="#999" stroke-linejoin="round" stroke-linecap="round" stroke-width="1.2"/>
<path d="M684.5 224.0 L686.5 222.5 L687.0 226.0 L685.5 228.5 M688.0 222.0 L689.0 224.5" fill="none" stroke="#999" stroke-linejoin="round" stroke-linecap="round" stroke-width="1.2"/>
<path d="M780.0 247.0 L781.0 250.5 L780.2 251.5 M783.0 246.5 L783.5 248.0 M776.5 252.0 L777.2 253.5" fill="none" stroke="#999" stroke-linejoin="round" stroke-linecap="round" stroke-width="1.2"/>
<path d="M84.0 497.3 L85.5 496.2 L87.0 497.2 M88.5 498.0 L91.0 497.0 L93.5 498.3 L91.0 499.3Z M95.0 498.0 L98.5 497.6 L101.5 499.0 L98.0 499.8Z" fill="#eee" stroke="#999" stroke-linejoin="round" stroke-linecap="round" stroke-width="1.1"/>
<path d="M96.0 519.5 L97.3 520.5 M118.5 520.5 L120.5 523.0 L121.0 525.0 L119.3 523.5Z M114.5 530.5 L116.5 533.5 L117.0 536.0 L115.2 533.8Z" fill="#eee" stroke="#999" stroke-linejoin="round" stroke-linecap="round" stroke-width="1.1"/>
<path d="M68.5 382.5 L70.5 381.5 L72.0 384.0 L71.0 388.0 L72.5 393.0 L74.5 399.0 L73.5 402.0 L71.0 398.0 L69.0 392.0 L68.5 387.0Z" fill="#fff" stroke="#999" stroke-linejoin="round" stroke-linecap="round" stroke-width="1.1"/>
<path d="M1069.5 305.8 L1072.0 304.2 L1075.0 304.6 L1073.0 306.6Z M1081.0 305.0 L1084.0 303.6 L1086.5 304.2 L1084.0 305.8Z" fill="#eee" stroke="#999" stroke-linejoin="round" stroke-linecap="round" stroke-width="1.1"/>
<path d="M1055.5 316.3 L1056.6 317.8" fill="none" stroke="#999" stroke-linejoin="round" stroke-linecap="round" stroke-width="1.3"/>
<path d="M748.0 655.5 L750.5 659.0 L751.0 664.0 M753.0 657.0 L754.0 661.0" fill="none" stroke="#999" stroke-linejoin="round" stroke-linecap="round" stroke-width="1.1"/>
<path d="M560.5 723.0 L558.5 735.0 L559.5 748.0 L563.0 764.0" fill="none" stroke="#999" stroke-linejoin="round" stroke-linecap="round" stroke-width="1.1"/>
<path d="M963.0 749.7 L961.5 754.0 L959.6 758.1 L957.0 762.0 L954.5 764.9 L951.0 768.0 L947.8 770.8 M929.5 780.0 L933.0 776.5 L936.0 774.5 L939.3 773.5 L937.5 777.5 L933.5 779.3Z M919.5 781.0 L921.0 781.6 M923.0 781.8 L924.0 782.3 M943.5 772.5 L944.5 773.5" fill="#eee" stroke="#999" stroke-linejoin="round" stroke-linecap="round" stroke-width="1.1"/>
<path d="M800.8 559.8 L805.3 559.8 L806.4 562.1 L810.3 562.4 L809.3 565.3 L808.5 570.0 L806.4 570.3 L804.8 571.6 L803.7 575.8 L796.4 576.1 L795.8 573.7 L798.2 571.1 L797.7 568.5 L800.0 565.3Z" fill="none" stroke="#2f3535" stroke-width="2.3" stroke-linejoin="round"/>
</svg>
<div id="zc"><div class="dv"></div><svg width="44" height="89" viewBox="0 0 44 89"><g stroke="#333" stroke-width="4.2" stroke-linecap="round" fill="none"><path d="M14.4 22.7H28.2M21.3 15.8V29.6"/><path d="M14.4 66.6H28.2"/></g></svg></div>
<div id="panel"></div><div id="phead"></div>
<span class="t hb" id="t0" style="left:14.0px;transform-origin:0 0;top:589.2px;transform:scaleX(1.0267)">Talladega Co., AL</span><span class="t h" id="t1" style="left:253.0px;transform-origin:0 0;top:592.0px;transform:scaleX(0.9907)">283,000 T CO2</span><span class="t h" id="t2" style="left:424.8px;transform-origin:0 0;top:592.0px;transform:scaleX(0.9951)">81,800 ac</span><span class="t b" id="t3" style="left:15.7px;transform-origin:0 0;top:637.6px;transform:scaleX(1.1196)">Opportunity</span><span class="t b" id="t4" style="left:217.6px;transform-origin:0 0;top:637.6px;transform:scaleX(1.0824)">CO<sub>2</sub> (t/yr)</span><span class="t b" id="t5" style="left:351.6px;transform-origin:0 0;top:637.6px;transform:scaleX(1.0033)">Acres</span><span class="t r" id="t6" style="left:15.6px;transform-origin:0 0;top:666.4px;transform:scaleX(1.1034)">Corridors</span><span class="t n" id="t7" style="right:857.1px;transform-origin:100% 0;top:666.4px;transform:scaleX(1.0500)">18,700</span><span class="t n" id="t8" style="right:759.6px;transform-origin:100% 0;top:666.4px;transform:scaleX(1.0500)">5,400</span><span class="t r" id="t9" style="left:15.6px;transform-origin:0 0;top:692.4px;transform:scaleX(1.0754)">Floodplains</span><span class="t n" id="t10" style="right:857.1px;transform-origin:100% 0;top:692.4px;transform:scaleX(1.0500)">62,500</span><span class="t n" id="t11" style="right:759.6px;transform-origin:100% 0;top:692.4px;transform:scaleX(1.0500)">18,200</span><span class="t r" id="t12" style="left:15.6px;transform-origin:0 0;top:718.4px;transform:scaleX(1.0565)">Forest</span><span class="t n" id="t13" style="right:857.1px;transform-origin:100% 0;top:718.4px;transform:scaleX(1.0500)">11,200</span><span class="t n" id="t14" style="right:759.6px;transform-origin:100% 0;top:718.4px;transform:scaleX(1.0500)">3,250</span><span class="t r" id="t15" style="left:15.6px;transform-origin:0 0;top:744.4px;transform:scaleX(1.0866)">Marginal Cropland</span><span class="t n" id="t16" style="right:857.1px;transform-origin:100% 0;top:744.4px;transform:scaleX(1.0500)">2,630</span><span class="t n" id="t17" style="right:759.6px;transform-origin:100% 0;top:744.4px;transform:scaleX(1.0500)">770</span><span class="t r" id="t18" style="left:15.6px;transform-origin:0 0;top:770.4px;transform:scaleX(1.0373)">Grassy Areas</span><span class="t n" id="t19" style="right:857.1px;transform-origin:100% 0;top:770.4px;transform:scaleX(1.0500)">10,300</span><span class="t n" id="t20" style="right:759.6px;transform-origin:100% 0;top:770.4px;transform:scaleX(1.0500)">3,010</span><span class="t r" id="t21" style="left:15.6px;transform-origin:0 0;top:796.4px;transform:scaleX(1.0705)">Pasture</span><span class="t n" id="t22" style="right:857.1px;transform-origin:100% 0;top:796.4px;transform:scaleX(1.0500)">170,000</span><span class="t n" id="t23" style="right:759.6px;transform-origin:100% 0;top:796.4px;transform:scaleX(1.0500)">49,300</span><span class="t r" id="t24" style="left:15.6px;transform-origin:0 0;top:822.4px;transform:scaleX(1.0914)">Post-burn</span><span class="t n" id="t25" style="right:857.1px;transform-origin:100% 0;top:822.4px;transform:scaleX(1.0500)">13,600</span><span class="t n" id="t26" style="right:759.6px;transform-origin:100% 0;top:822.4px;transform:scaleX(1.0500)">3,890</span><span class="t r" id="t27" style="left:15.6px;transform-origin:0 0;top:848.4px;transform:scaleX(1.0769)">Shrub</span><span class="t n" id="t28" style="right:857.1px;transform-origin:100% 0;top:848.4px;transform:scaleX(1.0500)">6,300</span><span class="t n" id="t29" style="right:759.6px;transform-origin:100% 0;top:848.4px;transform:scaleX(1.0500)">1,840</span><span class="t r" id="t30" style="left:15.6px;transform-origin:0 0;top:874.4px;transform:scaleX(1.0792)">Streamside Buffers</span><span class="t n" id="t31" style="right:857.1px;transform-origin:100% 0;top:874.4px;transform:scaleX(1.0500)">12,400</span><span class="t n" id="t32" style="right:759.6px;transform-origin:100% 0;top:874.4px;transform:scaleX(1.0500)">3,570</span><span class="t r" id="t33" style="left:15.6px;transform-origin:0 0;top:900.4px;transform:scaleX(1.0524)">Urban Open Space</span><span class="t n" id="t34" style="right:857.1px;transform-origin:100% 0;top:900.4px;transform:scaleX(1.0500)">61,300</span><span class="t n" id="t35" style="right:759.6px;transform-origin:100% 0;top:900.4px;transform:scaleX(1.0500)">17,700</span>
<div class="bar" style="top:666.0px;width:6.9px;border-radius:3.0px"></div><div class="bar" style="top:692.0px;width:23.4px;border-radius:3.0px"></div><div class="bar" style="top:718.0px;width:4.2px;border-radius:2.1px"></div><div class="bar" style="top:744.0px;width:1.0px;border-radius:0.5px"></div><div class="bar" style="top:770.0px;width:3.9px;border-radius:1.9px"></div><div class="bar" style="top:796.0px;width:63.4px;border-radius:3.0px"></div><div class="bar" style="top:822.0px;width:5.0px;border-radius:2.5px"></div><div class="bar" style="top:848.0px;width:2.4px;border-radius:1.2px"></div><div class="bar" style="top:874.0px;width:4.6px;border-radius:2.3px"></div><div class="bar" style="top:900.0px;width:22.8px;border-radius:3.0px"></div>
</body></html>
